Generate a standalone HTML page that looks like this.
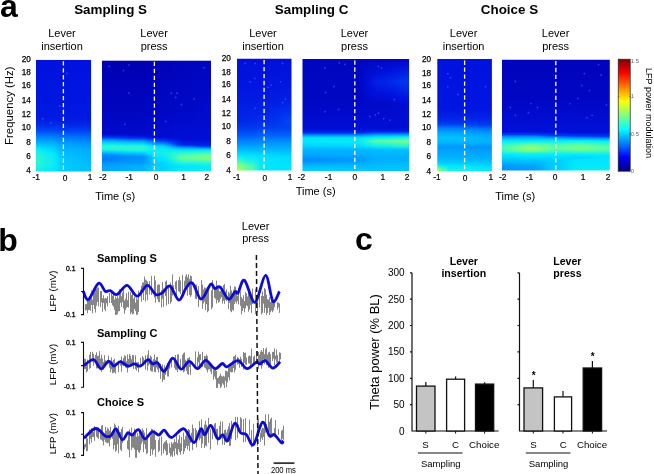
<!DOCTYPE html>
<html><head><meta charset="utf-8"><style>
html,body{margin:0;padding:0;background:#fff;width:654px;height:474px;overflow:hidden;}
svg{display:block;will-change:transform;}
text{fill:#000;}
</style></head><body>
<svg width="654" height="474" viewBox="0 0 654 474" font-family='"Liberation Sans", sans-serif'>
<defs><clipPath id="hc1"><rect x="36.00" y="59.80" width="55.10" height="111.90"/></clipPath><linearGradient id="q1" x1="0" y1="0" x2="0" y2="1"><stop offset="0.000" stop-color="#0012de"/><stop offset="0.002" stop-color="#0012de"/><stop offset="0.181" stop-color="#0014df"/><stop offset="0.359" stop-color="#0016e0"/><stop offset="0.440" stop-color="#0018e1"/><stop offset="0.520" stop-color="#001ae2"/><stop offset="0.529" stop-color="#001de3"/><stop offset="0.583" stop-color="#002bea"/><stop offset="0.592" stop-color="#002fec"/><stop offset="0.636" stop-color="#004af5"/><stop offset="0.645" stop-color="#0053f6"/><stop offset="0.690" stop-color="#0082ff"/><stop offset="0.699" stop-color="#008aff"/><stop offset="0.735" stop-color="#00aaff"/><stop offset="0.752" stop-color="#00beff"/><stop offset="0.779" stop-color="#00dcff"/><stop offset="0.788" stop-color="#00e6ff"/><stop offset="0.806" stop-color="#10ecef"/><stop offset="0.824" stop-color="#20f2df"/><stop offset="0.851" stop-color="#23f3dc"/><stop offset="0.878" stop-color="#27f5d8"/><stop offset="0.913" stop-color="#2df6d2"/><stop offset="0.940" stop-color="#24f4db"/><stop offset="0.970" stop-color="#1cf1e3"/><stop offset="1.000" stop-color="#14edeb"/></linearGradient><linearGradient id="q2" x1="0" y1="0" x2="0" y2="1"><stop offset="0.000" stop-color="#0012de"/><stop offset="0.002" stop-color="#0012de"/><stop offset="0.181" stop-color="#0014df"/><stop offset="0.359" stop-color="#0016e0"/><stop offset="0.440" stop-color="#0018e1"/><stop offset="0.520" stop-color="#001ae2"/><stop offset="0.529" stop-color="#001de3"/><stop offset="0.583" stop-color="#002bea"/><stop offset="0.592" stop-color="#002fec"/><stop offset="0.636" stop-color="#004af5"/><stop offset="0.645" stop-color="#0053f6"/><stop offset="0.690" stop-color="#0082ff"/><stop offset="0.699" stop-color="#008aff"/><stop offset="0.735" stop-color="#00aaff"/><stop offset="0.752" stop-color="#00bdff"/><stop offset="0.779" stop-color="#00daff"/><stop offset="0.788" stop-color="#00e4ff"/><stop offset="0.806" stop-color="#0debf2"/><stop offset="0.824" stop-color="#1cf1e3"/><stop offset="0.851" stop-color="#21f2de"/><stop offset="0.878" stop-color="#25f4da"/><stop offset="0.913" stop-color="#2af5d5"/><stop offset="0.940" stop-color="#23f3dc"/><stop offset="0.970" stop-color="#1af0e5"/><stop offset="1.000" stop-color="#12eded"/></linearGradient><linearGradient id="q3" x1="0" y1="0" x2="0" y2="1"><stop offset="0.000" stop-color="#0012de"/><stop offset="0.002" stop-color="#0012de"/><stop offset="0.181" stop-color="#0014df"/><stop offset="0.359" stop-color="#0016e0"/><stop offset="0.440" stop-color="#0018e1"/><stop offset="0.520" stop-color="#001ae2"/><stop offset="0.529" stop-color="#001de3"/><stop offset="0.583" stop-color="#002bea"/><stop offset="0.592" stop-color="#002fec"/><stop offset="0.636" stop-color="#004af5"/><stop offset="0.645" stop-color="#0053f6"/><stop offset="0.690" stop-color="#0082ff"/><stop offset="0.699" stop-color="#008aff"/><stop offset="0.735" stop-color="#00aaff"/><stop offset="0.752" stop-color="#00bcff"/><stop offset="0.779" stop-color="#00d7ff"/><stop offset="0.788" stop-color="#00e0ff"/><stop offset="0.806" stop-color="#09eaf6"/><stop offset="0.824" stop-color="#17efe8"/><stop offset="0.851" stop-color="#1ef1e1"/><stop offset="0.878" stop-color="#21f2de"/><stop offset="0.913" stop-color="#25f4da"/><stop offset="0.940" stop-color="#20f2df"/><stop offset="0.970" stop-color="#17efe8"/><stop offset="1.000" stop-color="#0eebf1"/></linearGradient><linearGradient id="q4" x1="0" y1="0" x2="0" y2="1"><stop offset="0.000" stop-color="#0012de"/><stop offset="0.002" stop-color="#0012de"/><stop offset="0.181" stop-color="#0014df"/><stop offset="0.359" stop-color="#0016e0"/><stop offset="0.440" stop-color="#0018e1"/><stop offset="0.520" stop-color="#001ae2"/><stop offset="0.529" stop-color="#001de3"/><stop offset="0.583" stop-color="#002bea"/><stop offset="0.592" stop-color="#002fec"/><stop offset="0.636" stop-color="#004af5"/><stop offset="0.645" stop-color="#0053f6"/><stop offset="0.690" stop-color="#0082ff"/><stop offset="0.699" stop-color="#008aff"/><stop offset="0.735" stop-color="#00aaff"/><stop offset="0.752" stop-color="#00bbff"/><stop offset="0.779" stop-color="#00d4ff"/><stop offset="0.788" stop-color="#00dcff"/><stop offset="0.806" stop-color="#05e8fa"/><stop offset="0.824" stop-color="#11ecee"/><stop offset="0.851" stop-color="#1af0e5"/><stop offset="0.878" stop-color="#1cf1e3"/><stop offset="0.913" stop-color="#1ff2e0"/><stop offset="0.940" stop-color="#1cf1e3"/><stop offset="0.970" stop-color="#13edec"/><stop offset="1.000" stop-color="#0aeaf5"/></linearGradient><linearGradient id="q5" x1="0" y1="0" x2="0" y2="1"><stop offset="0.000" stop-color="#0012de"/><stop offset="0.002" stop-color="#0012de"/><stop offset="0.181" stop-color="#0014df"/><stop offset="0.359" stop-color="#0016e0"/><stop offset="0.440" stop-color="#0018e1"/><stop offset="0.520" stop-color="#001ae2"/><stop offset="0.529" stop-color="#001de3"/><stop offset="0.583" stop-color="#002bea"/><stop offset="0.592" stop-color="#002fec"/><stop offset="0.636" stop-color="#004af5"/><stop offset="0.645" stop-color="#0053f6"/><stop offset="0.690" stop-color="#0082ff"/><stop offset="0.699" stop-color="#008aff"/><stop offset="0.735" stop-color="#00aaff"/><stop offset="0.752" stop-color="#00b9ff"/><stop offset="0.779" stop-color="#00d0ff"/><stop offset="0.788" stop-color="#00d8ff"/><stop offset="0.806" stop-color="#00e6ff"/><stop offset="0.824" stop-color="#0beaf4"/><stop offset="0.851" stop-color="#16eee9"/><stop offset="0.878" stop-color="#18efe7"/><stop offset="0.913" stop-color="#1af0e5"/><stop offset="0.940" stop-color="#19efe6"/><stop offset="0.970" stop-color="#0fecf0"/><stop offset="1.000" stop-color="#06e8f9"/></linearGradient><linearGradient id="q6" x1="0" y1="0" x2="0" y2="1"><stop offset="0.000" stop-color="#0012de"/><stop offset="0.002" stop-color="#0012de"/><stop offset="0.181" stop-color="#0014df"/><stop offset="0.359" stop-color="#0016e0"/><stop offset="0.440" stop-color="#0018e1"/><stop offset="0.520" stop-color="#001ae2"/><stop offset="0.529" stop-color="#001de3"/><stop offset="0.583" stop-color="#002bea"/><stop offset="0.592" stop-color="#002fec"/><stop offset="0.636" stop-color="#004af5"/><stop offset="0.645" stop-color="#0053f6"/><stop offset="0.690" stop-color="#0082ff"/><stop offset="0.699" stop-color="#008aff"/><stop offset="0.735" stop-color="#00aaff"/><stop offset="0.752" stop-color="#00b8ff"/><stop offset="0.779" stop-color="#00cdff"/><stop offset="0.788" stop-color="#00d4ff"/><stop offset="0.806" stop-color="#00e1ff"/><stop offset="0.824" stop-color="#06e8f9"/><stop offset="0.851" stop-color="#12eded"/><stop offset="0.878" stop-color="#14edeb"/><stop offset="0.913" stop-color="#16eee9"/><stop offset="0.940" stop-color="#16eee9"/><stop offset="0.970" stop-color="#0cebf3"/><stop offset="1.000" stop-color="#02e7fd"/></linearGradient><linearGradient id="q7" x1="0" y1="0" x2="0" y2="1"><stop offset="0.000" stop-color="#0012de"/><stop offset="0.002" stop-color="#0012de"/><stop offset="0.181" stop-color="#0014df"/><stop offset="0.359" stop-color="#0016e0"/><stop offset="0.440" stop-color="#0018e1"/><stop offset="0.520" stop-color="#001ae2"/><stop offset="0.529" stop-color="#001de3"/><stop offset="0.583" stop-color="#002bea"/><stop offset="0.592" stop-color="#002fec"/><stop offset="0.636" stop-color="#004af5"/><stop offset="0.645" stop-color="#0053f6"/><stop offset="0.690" stop-color="#0082ff"/><stop offset="0.699" stop-color="#008aff"/><stop offset="0.735" stop-color="#00aaff"/><stop offset="0.752" stop-color="#00b7ff"/><stop offset="0.779" stop-color="#00ccff"/><stop offset="0.788" stop-color="#00d2ff"/><stop offset="0.806" stop-color="#00deff"/><stop offset="0.824" stop-color="#03e7fc"/><stop offset="0.851" stop-color="#10ecef"/><stop offset="0.878" stop-color="#12eded"/><stop offset="0.913" stop-color="#13edec"/><stop offset="0.940" stop-color="#14eeeb"/><stop offset="0.970" stop-color="#0aeaf5"/><stop offset="1.000" stop-color="#00e6ff"/></linearGradient><linearGradient id="q8" x1="0" y1="0" x2="0" y2="1"><stop offset="0.000" stop-color="#0012de"/><stop offset="0.002" stop-color="#0012de"/><stop offset="0.181" stop-color="#0014df"/><stop offset="0.359" stop-color="#0016e0"/><stop offset="0.440" stop-color="#0018e1"/><stop offset="0.520" stop-color="#001ae2"/><stop offset="0.529" stop-color="#001de3"/><stop offset="0.583" stop-color="#002bea"/><stop offset="0.592" stop-color="#002fec"/><stop offset="0.636" stop-color="#004af5"/><stop offset="0.645" stop-color="#0053f6"/><stop offset="0.690" stop-color="#0082ff"/><stop offset="0.699" stop-color="#008aff"/><stop offset="0.735" stop-color="#00aaff"/><stop offset="0.752" stop-color="#00b7ff"/><stop offset="0.779" stop-color="#00cbff"/><stop offset="0.788" stop-color="#00d2ff"/><stop offset="0.806" stop-color="#00ddff"/><stop offset="0.824" stop-color="#02e7fd"/><stop offset="0.851" stop-color="#0fecf0"/><stop offset="0.878" stop-color="#11ecee"/><stop offset="0.913" stop-color="#12eded"/><stop offset="0.940" stop-color="#13edec"/><stop offset="0.970" stop-color="#0aeaf5"/><stop offset="1.000" stop-color="#00e6ff"/></linearGradient><linearGradient id="q9" x1="0" y1="0" x2="0" y2="1"><stop offset="0.000" stop-color="#0012de"/><stop offset="0.002" stop-color="#0012de"/><stop offset="0.181" stop-color="#0014df"/><stop offset="0.359" stop-color="#0016e0"/><stop offset="0.440" stop-color="#0018e1"/><stop offset="0.520" stop-color="#001ae2"/><stop offset="0.529" stop-color="#001de3"/><stop offset="0.583" stop-color="#002bea"/><stop offset="0.592" stop-color="#002fec"/><stop offset="0.636" stop-color="#0049f4"/><stop offset="0.645" stop-color="#0052f6"/><stop offset="0.690" stop-color="#0080ff"/><stop offset="0.699" stop-color="#0089ff"/><stop offset="0.735" stop-color="#00a8ff"/><stop offset="0.752" stop-color="#00b5ff"/><stop offset="0.779" stop-color="#00c8ff"/><stop offset="0.788" stop-color="#00ceff"/><stop offset="0.806" stop-color="#00d9ff"/><stop offset="0.824" stop-color="#00e4ff"/><stop offset="0.851" stop-color="#0beaf4"/><stop offset="0.878" stop-color="#0cebf3"/><stop offset="0.913" stop-color="#0eebf1"/><stop offset="0.940" stop-color="#0fecf0"/><stop offset="0.970" stop-color="#07e9f8"/><stop offset="1.000" stop-color="#00e3ff"/></linearGradient><linearGradient id="q10" x1="0" y1="0" x2="0" y2="1"><stop offset="0.000" stop-color="#0012de"/><stop offset="0.002" stop-color="#0012de"/><stop offset="0.181" stop-color="#0014df"/><stop offset="0.359" stop-color="#0016e0"/><stop offset="0.440" stop-color="#0018e1"/><stop offset="0.520" stop-color="#001ae2"/><stop offset="0.529" stop-color="#001ce3"/><stop offset="0.583" stop-color="#002bea"/><stop offset="0.592" stop-color="#002eeb"/><stop offset="0.636" stop-color="#0048f4"/><stop offset="0.645" stop-color="#0051f6"/><stop offset="0.690" stop-color="#007efe"/><stop offset="0.699" stop-color="#0087ff"/><stop offset="0.735" stop-color="#00a4ff"/><stop offset="0.752" stop-color="#00b1ff"/><stop offset="0.779" stop-color="#00c3ff"/><stop offset="0.788" stop-color="#00c8ff"/><stop offset="0.806" stop-color="#00d3ff"/><stop offset="0.824" stop-color="#00dcff"/><stop offset="0.851" stop-color="#03e7fc"/><stop offset="0.878" stop-color="#05e8fa"/><stop offset="0.913" stop-color="#07e9f8"/><stop offset="0.940" stop-color="#09e9f6"/><stop offset="0.970" stop-color="#02e7fd"/><stop offset="1.000" stop-color="#00e0ff"/></linearGradient><linearGradient id="q11" x1="0" y1="0" x2="0" y2="1"><stop offset="0.000" stop-color="#0012de"/><stop offset="0.002" stop-color="#0012de"/><stop offset="0.181" stop-color="#0014df"/><stop offset="0.359" stop-color="#0016e0"/><stop offset="0.440" stop-color="#0018e1"/><stop offset="0.520" stop-color="#001ae2"/><stop offset="0.529" stop-color="#001ce3"/><stop offset="0.583" stop-color="#002ae9"/><stop offset="0.592" stop-color="#002eeb"/><stop offset="0.636" stop-color="#0047f4"/><stop offset="0.645" stop-color="#004ff6"/><stop offset="0.690" stop-color="#007bfe"/><stop offset="0.699" stop-color="#0084ff"/><stop offset="0.735" stop-color="#00a0ff"/><stop offset="0.752" stop-color="#00adff"/><stop offset="0.779" stop-color="#00bcff"/><stop offset="0.788" stop-color="#00c1ff"/><stop offset="0.806" stop-color="#00cbff"/><stop offset="0.824" stop-color="#00d3ff"/><stop offset="0.851" stop-color="#00dfff"/><stop offset="0.878" stop-color="#00e2ff"/><stop offset="0.913" stop-color="#00e4ff"/><stop offset="0.940" stop-color="#00e6ff"/><stop offset="0.970" stop-color="#00e1ff"/><stop offset="1.000" stop-color="#00dbff"/></linearGradient><linearGradient id="q12" x1="0" y1="0" x2="0" y2="1"><stop offset="0.000" stop-color="#0012de"/><stop offset="0.002" stop-color="#0012de"/><stop offset="0.181" stop-color="#0014df"/><stop offset="0.359" stop-color="#0016e0"/><stop offset="0.440" stop-color="#0018e1"/><stop offset="0.520" stop-color="#001ae2"/><stop offset="0.529" stop-color="#001be2"/><stop offset="0.583" stop-color="#002ae9"/><stop offset="0.592" stop-color="#002deb"/><stop offset="0.636" stop-color="#0045f4"/><stop offset="0.645" stop-color="#004df5"/><stop offset="0.690" stop-color="#0078fd"/><stop offset="0.699" stop-color="#0081ff"/><stop offset="0.735" stop-color="#009cff"/><stop offset="0.752" stop-color="#00a8ff"/><stop offset="0.779" stop-color="#00b6ff"/><stop offset="0.788" stop-color="#00baff"/><stop offset="0.806" stop-color="#00c3ff"/><stop offset="0.824" stop-color="#00c9ff"/><stop offset="0.851" stop-color="#00d3ff"/><stop offset="0.878" stop-color="#00d7ff"/><stop offset="0.913" stop-color="#00d9ff"/><stop offset="0.940" stop-color="#00dbff"/><stop offset="0.970" stop-color="#00d9ff"/><stop offset="1.000" stop-color="#00d6ff"/></linearGradient><linearGradient id="q13" x1="0" y1="0" x2="0" y2="1"><stop offset="0.000" stop-color="#0012de"/><stop offset="0.002" stop-color="#0012de"/><stop offset="0.181" stop-color="#0014df"/><stop offset="0.359" stop-color="#0016e0"/><stop offset="0.440" stop-color="#0018e1"/><stop offset="0.520" stop-color="#001ae2"/><stop offset="0.529" stop-color="#001be2"/><stop offset="0.583" stop-color="#0029e9"/><stop offset="0.592" stop-color="#002cea"/><stop offset="0.636" stop-color="#0044f4"/><stop offset="0.645" stop-color="#004cf5"/><stop offset="0.690" stop-color="#0075fd"/><stop offset="0.699" stop-color="#007efe"/><stop offset="0.735" stop-color="#0098ff"/><stop offset="0.752" stop-color="#00a4ff"/><stop offset="0.779" stop-color="#00b0ff"/><stop offset="0.788" stop-color="#00b4ff"/><stop offset="0.806" stop-color="#00bbff"/><stop offset="0.824" stop-color="#00c0ff"/><stop offset="0.851" stop-color="#00c8ff"/><stop offset="0.878" stop-color="#00cdff"/><stop offset="0.913" stop-color="#00d0ff"/><stop offset="0.940" stop-color="#00d2ff"/><stop offset="0.970" stop-color="#00d2ff"/><stop offset="1.000" stop-color="#00d1ff"/></linearGradient><linearGradient id="q14" x1="0" y1="0" x2="0" y2="1"><stop offset="0.000" stop-color="#0012de"/><stop offset="0.002" stop-color="#0012de"/><stop offset="0.181" stop-color="#0014df"/><stop offset="0.359" stop-color="#0016e0"/><stop offset="0.440" stop-color="#0018e1"/><stop offset="0.520" stop-color="#001ae2"/><stop offset="0.529" stop-color="#001be2"/><stop offset="0.583" stop-color="#0029e9"/><stop offset="0.592" stop-color="#002bea"/><stop offset="0.636" stop-color="#0043f3"/><stop offset="0.645" stop-color="#004af5"/><stop offset="0.690" stop-color="#0074fc"/><stop offset="0.699" stop-color="#007cfe"/><stop offset="0.735" stop-color="#0095ff"/><stop offset="0.752" stop-color="#00a1ff"/><stop offset="0.779" stop-color="#00acff"/><stop offset="0.788" stop-color="#00afff"/><stop offset="0.806" stop-color="#00b6ff"/><stop offset="0.824" stop-color="#00baff"/><stop offset="0.851" stop-color="#00c0ff"/><stop offset="0.878" stop-color="#00c6ff"/><stop offset="0.913" stop-color="#00c9ff"/><stop offset="0.940" stop-color="#00cbff"/><stop offset="0.970" stop-color="#00ccff"/><stop offset="1.000" stop-color="#00ceff"/></linearGradient><linearGradient id="q15" x1="0" y1="0" x2="0" y2="1"><stop offset="0.000" stop-color="#0012de"/><stop offset="0.002" stop-color="#0012de"/><stop offset="0.181" stop-color="#0014df"/><stop offset="0.359" stop-color="#0016e0"/><stop offset="0.440" stop-color="#0018e1"/><stop offset="0.520" stop-color="#001ae2"/><stop offset="0.529" stop-color="#001ae2"/><stop offset="0.583" stop-color="#0029e9"/><stop offset="0.592" stop-color="#002bea"/><stop offset="0.636" stop-color="#0043f3"/><stop offset="0.645" stop-color="#004af5"/><stop offset="0.690" stop-color="#0073fc"/><stop offset="0.699" stop-color="#007bfe"/><stop offset="0.735" stop-color="#0094ff"/><stop offset="0.752" stop-color="#00a0ff"/><stop offset="0.779" stop-color="#00aaff"/><stop offset="0.788" stop-color="#00adff"/><stop offset="0.806" stop-color="#00b4ff"/><stop offset="0.824" stop-color="#00b8ff"/><stop offset="0.851" stop-color="#00bdff"/><stop offset="0.878" stop-color="#00c3ff"/><stop offset="0.913" stop-color="#00c6ff"/><stop offset="0.940" stop-color="#00c8ff"/><stop offset="0.970" stop-color="#00cbff"/><stop offset="1.000" stop-color="#00cdff"/></linearGradient><linearGradient id="q16" x1="0" y1="0" x2="0" y2="1"><stop offset="0.000" stop-color="#0012de"/><stop offset="0.002" stop-color="#0012de"/><stop offset="0.181" stop-color="#0014df"/><stop offset="0.359" stop-color="#0016e0"/><stop offset="0.440" stop-color="#0018e1"/><stop offset="0.520" stop-color="#001ae2"/><stop offset="0.529" stop-color="#001ae2"/><stop offset="0.583" stop-color="#0029e9"/><stop offset="0.592" stop-color="#002bea"/><stop offset="0.636" stop-color="#0043f3"/><stop offset="0.645" stop-color="#004af5"/><stop offset="0.690" stop-color="#0073fc"/><stop offset="0.699" stop-color="#007bfe"/><stop offset="0.735" stop-color="#0094ff"/><stop offset="0.752" stop-color="#00a0ff"/><stop offset="0.779" stop-color="#00aaff"/><stop offset="0.788" stop-color="#00adff"/><stop offset="0.806" stop-color="#00b4ff"/><stop offset="0.824" stop-color="#00b8ff"/><stop offset="0.851" stop-color="#00bdff"/><stop offset="0.878" stop-color="#00c3ff"/><stop offset="0.913" stop-color="#00c6ff"/><stop offset="0.940" stop-color="#00c8ff"/><stop offset="0.970" stop-color="#00caff"/><stop offset="1.000" stop-color="#00cdff"/></linearGradient><linearGradient id="q17" x1="0" y1="0" x2="0" y2="1"><stop offset="0.000" stop-color="#0012de"/><stop offset="0.002" stop-color="#0012de"/><stop offset="0.181" stop-color="#0014df"/><stop offset="0.359" stop-color="#0016e0"/><stop offset="0.440" stop-color="#0018e1"/><stop offset="0.520" stop-color="#001ae2"/><stop offset="0.529" stop-color="#001ae2"/><stop offset="0.583" stop-color="#0029e9"/><stop offset="0.592" stop-color="#002bea"/><stop offset="0.636" stop-color="#0043f3"/><stop offset="0.645" stop-color="#004af5"/><stop offset="0.690" stop-color="#0072fc"/><stop offset="0.699" stop-color="#007bfe"/><stop offset="0.735" stop-color="#0094ff"/><stop offset="0.752" stop-color="#009fff"/><stop offset="0.779" stop-color="#00aaff"/><stop offset="0.788" stop-color="#00adff"/><stop offset="0.806" stop-color="#00b4ff"/><stop offset="0.824" stop-color="#00b7ff"/><stop offset="0.851" stop-color="#00bdff"/><stop offset="0.878" stop-color="#00c2ff"/><stop offset="0.913" stop-color="#00c5ff"/><stop offset="0.940" stop-color="#00c7ff"/><stop offset="0.970" stop-color="#00caff"/><stop offset="1.000" stop-color="#00ccff"/></linearGradient><linearGradient id="q18" x1="0" y1="0" x2="0" y2="1"><stop offset="0.000" stop-color="#0012de"/><stop offset="0.002" stop-color="#0012de"/><stop offset="0.181" stop-color="#0014df"/><stop offset="0.359" stop-color="#0016e0"/><stop offset="0.440" stop-color="#0018e1"/><stop offset="0.520" stop-color="#001ae2"/><stop offset="0.529" stop-color="#001ae2"/><stop offset="0.583" stop-color="#0029e9"/><stop offset="0.592" stop-color="#002bea"/><stop offset="0.636" stop-color="#0043f3"/><stop offset="0.645" stop-color="#004af5"/><stop offset="0.690" stop-color="#0072fc"/><stop offset="0.699" stop-color="#007afe"/><stop offset="0.735" stop-color="#0093ff"/><stop offset="0.752" stop-color="#009fff"/><stop offset="0.779" stop-color="#00a9ff"/><stop offset="0.788" stop-color="#00acff"/><stop offset="0.806" stop-color="#00b3ff"/><stop offset="0.824" stop-color="#00b7ff"/><stop offset="0.851" stop-color="#00bcff"/><stop offset="0.878" stop-color="#00c1ff"/><stop offset="0.913" stop-color="#00c4ff"/><stop offset="0.940" stop-color="#00c7ff"/><stop offset="0.970" stop-color="#00c9ff"/><stop offset="1.000" stop-color="#00ccff"/></linearGradient><linearGradient id="q19" x1="0" y1="0" x2="0" y2="1"><stop offset="0.000" stop-color="#0012de"/><stop offset="0.002" stop-color="#0012de"/><stop offset="0.181" stop-color="#0014df"/><stop offset="0.359" stop-color="#0016e0"/><stop offset="0.440" stop-color="#0018e1"/><stop offset="0.520" stop-color="#001ae2"/><stop offset="0.529" stop-color="#001ae2"/><stop offset="0.583" stop-color="#0029e9"/><stop offset="0.592" stop-color="#002bea"/><stop offset="0.636" stop-color="#0043f3"/><stop offset="0.645" stop-color="#004af5"/><stop offset="0.690" stop-color="#0072fc"/><stop offset="0.699" stop-color="#0079fd"/><stop offset="0.735" stop-color="#0092ff"/><stop offset="0.752" stop-color="#009eff"/><stop offset="0.779" stop-color="#00a8ff"/><stop offset="0.788" stop-color="#00acff"/><stop offset="0.806" stop-color="#00b3ff"/><stop offset="0.824" stop-color="#00b6ff"/><stop offset="0.851" stop-color="#00bbff"/><stop offset="0.878" stop-color="#00c0ff"/><stop offset="0.913" stop-color="#00c3ff"/><stop offset="0.940" stop-color="#00c6ff"/><stop offset="0.970" stop-color="#00c8ff"/><stop offset="1.000" stop-color="#00cbff"/></linearGradient><linearGradient id="q20" x1="0" y1="0" x2="0" y2="1"><stop offset="0.000" stop-color="#0012de"/><stop offset="0.002" stop-color="#0012de"/><stop offset="0.181" stop-color="#0014df"/><stop offset="0.359" stop-color="#0016e0"/><stop offset="0.440" stop-color="#0018e1"/><stop offset="0.520" stop-color="#001ae2"/><stop offset="0.529" stop-color="#001ae2"/><stop offset="0.583" stop-color="#0029e9"/><stop offset="0.592" stop-color="#002bea"/><stop offset="0.636" stop-color="#0043f3"/><stop offset="0.645" stop-color="#004af5"/><stop offset="0.690" stop-color="#0071fc"/><stop offset="0.699" stop-color="#0079fd"/><stop offset="0.735" stop-color="#0092ff"/><stop offset="0.752" stop-color="#009dff"/><stop offset="0.779" stop-color="#00a8ff"/><stop offset="0.788" stop-color="#00abff"/><stop offset="0.806" stop-color="#00b2ff"/><stop offset="0.824" stop-color="#00b5ff"/><stop offset="0.851" stop-color="#00baff"/><stop offset="0.878" stop-color="#00bfff"/><stop offset="0.913" stop-color="#00c2ff"/><stop offset="0.940" stop-color="#00c4ff"/><stop offset="0.970" stop-color="#00c7ff"/><stop offset="1.000" stop-color="#00caff"/></linearGradient><linearGradient id="q21" x1="0" y1="0" x2="0" y2="1"><stop offset="0.000" stop-color="#0012de"/><stop offset="0.002" stop-color="#0012de"/><stop offset="0.181" stop-color="#0014df"/><stop offset="0.359" stop-color="#0016e0"/><stop offset="0.440" stop-color="#0018e1"/><stop offset="0.520" stop-color="#001ae2"/><stop offset="0.529" stop-color="#001ae2"/><stop offset="0.583" stop-color="#0029e9"/><stop offset="0.592" stop-color="#002bea"/><stop offset="0.636" stop-color="#0043f3"/><stop offset="0.645" stop-color="#004af5"/><stop offset="0.690" stop-color="#0070fc"/><stop offset="0.699" stop-color="#0078fd"/><stop offset="0.735" stop-color="#0091ff"/><stop offset="0.752" stop-color="#009cff"/><stop offset="0.779" stop-color="#00a7ff"/><stop offset="0.788" stop-color="#00aaff"/><stop offset="0.806" stop-color="#00b2ff"/><stop offset="0.824" stop-color="#00b5ff"/><stop offset="0.851" stop-color="#00b9ff"/><stop offset="0.878" stop-color="#00bdff"/><stop offset="0.913" stop-color="#00c1ff"/><stop offset="0.940" stop-color="#00c3ff"/><stop offset="0.970" stop-color="#00c6ff"/><stop offset="1.000" stop-color="#00c9ff"/></linearGradient><linearGradient id="q22" x1="0" y1="0" x2="0" y2="1"><stop offset="0.000" stop-color="#0012de"/><stop offset="0.002" stop-color="#0012de"/><stop offset="0.181" stop-color="#0014df"/><stop offset="0.359" stop-color="#0016e0"/><stop offset="0.440" stop-color="#0018e1"/><stop offset="0.520" stop-color="#001ae2"/><stop offset="0.529" stop-color="#001ae2"/><stop offset="0.583" stop-color="#0029e9"/><stop offset="0.592" stop-color="#002bea"/><stop offset="0.636" stop-color="#0043f3"/><stop offset="0.645" stop-color="#004af5"/><stop offset="0.690" stop-color="#0070fc"/><stop offset="0.699" stop-color="#0077fd"/><stop offset="0.735" stop-color="#0090ff"/><stop offset="0.752" stop-color="#009aff"/><stop offset="0.779" stop-color="#00a6ff"/><stop offset="0.788" stop-color="#00aaff"/><stop offset="0.806" stop-color="#00b1ff"/><stop offset="0.824" stop-color="#00b4ff"/><stop offset="0.851" stop-color="#00b8ff"/><stop offset="0.878" stop-color="#00bcff"/><stop offset="0.913" stop-color="#00bfff"/><stop offset="0.940" stop-color="#00c2ff"/><stop offset="0.970" stop-color="#00c5ff"/><stop offset="1.000" stop-color="#00c7ff"/></linearGradient><linearGradient id="q23" x1="0" y1="0" x2="0" y2="1"><stop offset="0.000" stop-color="#0012de"/><stop offset="0.002" stop-color="#0012de"/><stop offset="0.181" stop-color="#0014df"/><stop offset="0.359" stop-color="#0016e0"/><stop offset="0.440" stop-color="#0018e1"/><stop offset="0.520" stop-color="#001ae2"/><stop offset="0.529" stop-color="#001ae2"/><stop offset="0.583" stop-color="#0029e9"/><stop offset="0.592" stop-color="#002bea"/><stop offset="0.636" stop-color="#0043f3"/><stop offset="0.645" stop-color="#004af5"/><stop offset="0.690" stop-color="#006ffb"/><stop offset="0.699" stop-color="#0076fd"/><stop offset="0.735" stop-color="#008fff"/><stop offset="0.752" stop-color="#0099ff"/><stop offset="0.779" stop-color="#00a5ff"/><stop offset="0.788" stop-color="#00a9ff"/><stop offset="0.806" stop-color="#00b1ff"/><stop offset="0.824" stop-color="#00b3ff"/><stop offset="0.851" stop-color="#00b7ff"/><stop offset="0.878" stop-color="#00bbff"/><stop offset="0.913" stop-color="#00beff"/><stop offset="0.940" stop-color="#00c1ff"/><stop offset="0.970" stop-color="#00c3ff"/><stop offset="1.000" stop-color="#00c6ff"/></linearGradient><linearGradient id="q24" x1="0" y1="0" x2="0" y2="1"><stop offset="0.000" stop-color="#0012de"/><stop offset="0.002" stop-color="#0012de"/><stop offset="0.181" stop-color="#0014df"/><stop offset="0.359" stop-color="#0016e0"/><stop offset="0.440" stop-color="#0018e1"/><stop offset="0.520" stop-color="#001ae2"/><stop offset="0.529" stop-color="#001ae2"/><stop offset="0.583" stop-color="#0029e9"/><stop offset="0.592" stop-color="#002bea"/><stop offset="0.636" stop-color="#0043f3"/><stop offset="0.645" stop-color="#004af5"/><stop offset="0.690" stop-color="#006efb"/><stop offset="0.699" stop-color="#0076fd"/><stop offset="0.735" stop-color="#008eff"/><stop offset="0.752" stop-color="#0098ff"/><stop offset="0.779" stop-color="#00a4ff"/><stop offset="0.788" stop-color="#00a8ff"/><stop offset="0.806" stop-color="#00b0ff"/><stop offset="0.824" stop-color="#00b2ff"/><stop offset="0.851" stop-color="#00b6ff"/><stop offset="0.878" stop-color="#00b9ff"/><stop offset="0.913" stop-color="#00bdff"/><stop offset="0.940" stop-color="#00bfff"/><stop offset="0.970" stop-color="#00c2ff"/><stop offset="1.000" stop-color="#00c5ff"/></linearGradient><linearGradient id="q25" x1="0" y1="0" x2="0" y2="1"><stop offset="0.000" stop-color="#0012de"/><stop offset="0.002" stop-color="#0012de"/><stop offset="0.181" stop-color="#0014df"/><stop offset="0.359" stop-color="#0016e0"/><stop offset="0.440" stop-color="#0018e1"/><stop offset="0.520" stop-color="#001ae2"/><stop offset="0.529" stop-color="#001ae2"/><stop offset="0.583" stop-color="#0029e9"/><stop offset="0.592" stop-color="#002bea"/><stop offset="0.636" stop-color="#0043f3"/><stop offset="0.645" stop-color="#004af5"/><stop offset="0.690" stop-color="#006efb"/><stop offset="0.699" stop-color="#0075fd"/><stop offset="0.735" stop-color="#008dff"/><stop offset="0.752" stop-color="#0097ff"/><stop offset="0.779" stop-color="#00a4ff"/><stop offset="0.788" stop-color="#00a8ff"/><stop offset="0.806" stop-color="#00b0ff"/><stop offset="0.824" stop-color="#00b2ff"/><stop offset="0.851" stop-color="#00b5ff"/><stop offset="0.878" stop-color="#00b8ff"/><stop offset="0.913" stop-color="#00bcff"/><stop offset="0.940" stop-color="#00beff"/><stop offset="0.970" stop-color="#00c1ff"/><stop offset="1.000" stop-color="#00c4ff"/></linearGradient><linearGradient id="q26" x1="0" y1="0" x2="0" y2="1"><stop offset="0.000" stop-color="#0012de"/><stop offset="0.002" stop-color="#0012de"/><stop offset="0.181" stop-color="#0014df"/><stop offset="0.359" stop-color="#0016e0"/><stop offset="0.440" stop-color="#0018e1"/><stop offset="0.520" stop-color="#001ae2"/><stop offset="0.529" stop-color="#001ae2"/><stop offset="0.583" stop-color="#0029e9"/><stop offset="0.592" stop-color="#002bea"/><stop offset="0.636" stop-color="#0043f3"/><stop offset="0.645" stop-color="#004af5"/><stop offset="0.690" stop-color="#006dfb"/><stop offset="0.699" stop-color="#0074fc"/><stop offset="0.735" stop-color="#008dff"/><stop offset="0.752" stop-color="#0097ff"/><stop offset="0.779" stop-color="#00a3ff"/><stop offset="0.788" stop-color="#00a7ff"/><stop offset="0.806" stop-color="#00afff"/><stop offset="0.824" stop-color="#00b1ff"/><stop offset="0.851" stop-color="#00b4ff"/><stop offset="0.878" stop-color="#00b7ff"/><stop offset="0.913" stop-color="#00bbff"/><stop offset="0.940" stop-color="#00beff"/><stop offset="0.970" stop-color="#00c1ff"/><stop offset="1.000" stop-color="#00c4ff"/></linearGradient><linearGradient id="q27" x1="0" y1="0" x2="0" y2="1"><stop offset="0.000" stop-color="#0012de"/><stop offset="0.002" stop-color="#0012de"/><stop offset="0.181" stop-color="#0014df"/><stop offset="0.359" stop-color="#0016e0"/><stop offset="0.440" stop-color="#0018e1"/><stop offset="0.520" stop-color="#001ae2"/><stop offset="0.529" stop-color="#001ae2"/><stop offset="0.583" stop-color="#0029e9"/><stop offset="0.592" stop-color="#002bea"/><stop offset="0.636" stop-color="#0043f3"/><stop offset="0.645" stop-color="#004af5"/><stop offset="0.690" stop-color="#006dfb"/><stop offset="0.699" stop-color="#0074fc"/><stop offset="0.735" stop-color="#008cff"/><stop offset="0.752" stop-color="#0096ff"/><stop offset="0.779" stop-color="#00a3ff"/><stop offset="0.788" stop-color="#00a7ff"/><stop offset="0.806" stop-color="#00afff"/><stop offset="0.824" stop-color="#00b1ff"/><stop offset="0.851" stop-color="#00b4ff"/><stop offset="0.878" stop-color="#00b7ff"/><stop offset="0.913" stop-color="#00baff"/><stop offset="0.940" stop-color="#00bdff"/><stop offset="0.970" stop-color="#00c0ff"/><stop offset="1.000" stop-color="#00c3ff"/></linearGradient><linearGradient id="q28" x1="0" y1="0" x2="0" y2="1"><stop offset="0.000" stop-color="#0012de"/><stop offset="0.002" stop-color="#0012de"/><stop offset="0.181" stop-color="#0014df"/><stop offset="0.359" stop-color="#0016e0"/><stop offset="0.440" stop-color="#0018e1"/><stop offset="0.520" stop-color="#001ae2"/><stop offset="0.529" stop-color="#001ae2"/><stop offset="0.583" stop-color="#0029e9"/><stop offset="0.592" stop-color="#002bea"/><stop offset="0.636" stop-color="#0043f3"/><stop offset="0.645" stop-color="#004af5"/><stop offset="0.690" stop-color="#006dfb"/><stop offset="0.699" stop-color="#0074fc"/><stop offset="0.735" stop-color="#008cff"/><stop offset="0.752" stop-color="#0096ff"/><stop offset="0.779" stop-color="#00a2ff"/><stop offset="0.788" stop-color="#00a7ff"/><stop offset="0.806" stop-color="#00afff"/><stop offset="0.824" stop-color="#00b1ff"/><stop offset="0.851" stop-color="#00b4ff"/><stop offset="0.878" stop-color="#00b6ff"/><stop offset="0.913" stop-color="#00baff"/><stop offset="0.940" stop-color="#00bdff"/><stop offset="0.970" stop-color="#00c0ff"/><stop offset="1.000" stop-color="#00c3ff"/></linearGradient><clipPath id="hc2"><rect x="102.00" y="60.40" width="109.00" height="111.10"/></clipPath><linearGradient id="q29" x1="0" y1="0" x2="0" y2="1"><stop offset="0.000" stop-color="#0000b2"/><stop offset="0.223" stop-color="#0003b9"/><stop offset="0.446" stop-color="#0005bf"/><stop offset="0.554" stop-color="#0008c6"/><stop offset="0.662" stop-color="#000bcc"/><stop offset="0.671" stop-color="#0012de"/><stop offset="0.689" stop-color="#0034ee"/><stop offset="0.694" stop-color="#003cf2"/><stop offset="0.703" stop-color="#0064f9"/><stop offset="0.707" stop-color="#0078fd"/><stop offset="0.725" stop-color="#00b4ff"/><stop offset="0.734" stop-color="#00c8ff"/><stop offset="0.761" stop-color="#18efe7"/><stop offset="0.770" stop-color="#28f5d7"/><stop offset="0.797" stop-color="#28f5d7"/><stop offset="0.806" stop-color="#14eeeb"/><stop offset="0.824" stop-color="#00cdff"/><stop offset="0.833" stop-color="#00b6ff"/><stop offset="0.842" stop-color="#009eff"/><stop offset="0.851" stop-color="#0087ff"/><stop offset="0.869" stop-color="#0083ff"/><stop offset="0.878" stop-color="#0081ff"/><stop offset="0.887" stop-color="#007efe"/><stop offset="0.896" stop-color="#007bfe"/><stop offset="0.914" stop-color="#008cff"/><stop offset="0.923" stop-color="#0094ff"/><stop offset="0.932" stop-color="#009bff"/><stop offset="0.950" stop-color="#009fff"/><stop offset="0.959" stop-color="#00a1ff"/><stop offset="1.000" stop-color="#00aaff"/></linearGradient><linearGradient id="q30" x1="0" y1="0" x2="0" y2="1"><stop offset="0.000" stop-color="#0000b2"/><stop offset="0.223" stop-color="#0003b9"/><stop offset="0.446" stop-color="#0005bf"/><stop offset="0.554" stop-color="#0008c6"/><stop offset="0.662" stop-color="#000bcc"/><stop offset="0.671" stop-color="#0012de"/><stop offset="0.689" stop-color="#0033ee"/><stop offset="0.694" stop-color="#003cf2"/><stop offset="0.703" stop-color="#0063f9"/><stop offset="0.707" stop-color="#0077fd"/><stop offset="0.725" stop-color="#00b3ff"/><stop offset="0.734" stop-color="#00c8ff"/><stop offset="0.761" stop-color="#18efe7"/><stop offset="0.770" stop-color="#28f5d7"/><stop offset="0.797" stop-color="#28f5d7"/><stop offset="0.806" stop-color="#14eeeb"/><stop offset="0.824" stop-color="#00cdff"/><stop offset="0.833" stop-color="#00b6ff"/><stop offset="0.842" stop-color="#009fff"/><stop offset="0.851" stop-color="#0088ff"/><stop offset="0.869" stop-color="#0083ff"/><stop offset="0.878" stop-color="#0081ff"/><stop offset="0.887" stop-color="#007efe"/><stop offset="0.896" stop-color="#007cfe"/><stop offset="0.914" stop-color="#008cff"/><stop offset="0.923" stop-color="#0094ff"/><stop offset="0.932" stop-color="#009bff"/><stop offset="0.950" stop-color="#009fff"/><stop offset="0.959" stop-color="#00a1ff"/><stop offset="1.000" stop-color="#00aaff"/></linearGradient><linearGradient id="q31" x1="0" y1="0" x2="0" y2="1"><stop offset="0.000" stop-color="#0000b2"/><stop offset="0.223" stop-color="#0003b9"/><stop offset="0.446" stop-color="#0005bf"/><stop offset="0.554" stop-color="#0008c6"/><stop offset="0.662" stop-color="#000bcc"/><stop offset="0.671" stop-color="#0012dd"/><stop offset="0.689" stop-color="#0033ee"/><stop offset="0.694" stop-color="#003bf2"/><stop offset="0.703" stop-color="#0062f9"/><stop offset="0.707" stop-color="#0076fd"/><stop offset="0.725" stop-color="#00b3ff"/><stop offset="0.734" stop-color="#00c7ff"/><stop offset="0.761" stop-color="#17efe8"/><stop offset="0.770" stop-color="#28f5d7"/><stop offset="0.779" stop-color="#29f5d6"/><stop offset="0.797" stop-color="#28f5d7"/><stop offset="0.806" stop-color="#15eeea"/><stop offset="0.824" stop-color="#00ceff"/><stop offset="0.833" stop-color="#00b7ff"/><stop offset="0.842" stop-color="#00a0ff"/><stop offset="0.851" stop-color="#0089ff"/><stop offset="0.869" stop-color="#0083ff"/><stop offset="0.878" stop-color="#0081ff"/><stop offset="0.887" stop-color="#007ffe"/><stop offset="0.896" stop-color="#007cfe"/><stop offset="0.914" stop-color="#008cff"/><stop offset="0.923" stop-color="#0094ff"/><stop offset="0.932" stop-color="#009bff"/><stop offset="0.950" stop-color="#00a0ff"/><stop offset="0.959" stop-color="#00a2ff"/><stop offset="1.000" stop-color="#00aaff"/></linearGradient><linearGradient id="q32" x1="0" y1="0" x2="0" y2="1"><stop offset="0.000" stop-color="#0000b2"/><stop offset="0.223" stop-color="#0003b9"/><stop offset="0.446" stop-color="#0005bf"/><stop offset="0.554" stop-color="#0008c6"/><stop offset="0.662" stop-color="#000bcc"/><stop offset="0.671" stop-color="#0011dc"/><stop offset="0.689" stop-color="#0032ed"/><stop offset="0.694" stop-color="#003af1"/><stop offset="0.703" stop-color="#0060f9"/><stop offset="0.707" stop-color="#0074fc"/><stop offset="0.725" stop-color="#00b1ff"/><stop offset="0.734" stop-color="#00c6ff"/><stop offset="0.761" stop-color="#17efe8"/><stop offset="0.770" stop-color="#27f5d8"/><stop offset="0.779" stop-color="#29f5d6"/><stop offset="0.797" stop-color="#28f5d7"/><stop offset="0.806" stop-color="#16eee9"/><stop offset="0.824" stop-color="#00cfff"/><stop offset="0.833" stop-color="#00b8ff"/><stop offset="0.842" stop-color="#00a1ff"/><stop offset="0.851" stop-color="#008aff"/><stop offset="0.869" stop-color="#0084ff"/><stop offset="0.878" stop-color="#0082ff"/><stop offset="0.887" stop-color="#0080ff"/><stop offset="0.896" stop-color="#007efe"/><stop offset="0.914" stop-color="#008dff"/><stop offset="0.923" stop-color="#0094ff"/><stop offset="0.932" stop-color="#009cff"/><stop offset="0.950" stop-color="#00a0ff"/><stop offset="0.959" stop-color="#00a2ff"/><stop offset="1.000" stop-color="#00abff"/></linearGradient><linearGradient id="q33" x1="0" y1="0" x2="0" y2="1"><stop offset="0.000" stop-color="#0000b2"/><stop offset="0.223" stop-color="#0003b9"/><stop offset="0.446" stop-color="#0005bf"/><stop offset="0.554" stop-color="#0008c6"/><stop offset="0.662" stop-color="#000bcc"/><stop offset="0.671" stop-color="#0011dc"/><stop offset="0.689" stop-color="#0031ed"/><stop offset="0.694" stop-color="#003af1"/><stop offset="0.703" stop-color="#005ef8"/><stop offset="0.707" stop-color="#0072fc"/><stop offset="0.725" stop-color="#00b0ff"/><stop offset="0.734" stop-color="#00c5ff"/><stop offset="0.761" stop-color="#16eee9"/><stop offset="0.770" stop-color="#27f4d8"/><stop offset="0.779" stop-color="#2af5d5"/><stop offset="0.797" stop-color="#29f5d6"/><stop offset="0.806" stop-color="#17efe8"/><stop offset="0.824" stop-color="#00d1ff"/><stop offset="0.833" stop-color="#00b9ff"/><stop offset="0.842" stop-color="#00a3ff"/><stop offset="0.851" stop-color="#008cff"/><stop offset="0.869" stop-color="#0084ff"/><stop offset="0.878" stop-color="#0083ff"/><stop offset="0.887" stop-color="#0081ff"/><stop offset="0.896" stop-color="#007ffe"/><stop offset="0.914" stop-color="#008dff"/><stop offset="0.923" stop-color="#0095ff"/><stop offset="0.932" stop-color="#009cff"/><stop offset="0.950" stop-color="#00a1ff"/><stop offset="0.959" stop-color="#00a3ff"/><stop offset="1.000" stop-color="#00abff"/></linearGradient><linearGradient id="q34" x1="0" y1="0" x2="0" y2="1"><stop offset="0.000" stop-color="#0000b2"/><stop offset="0.223" stop-color="#0003b9"/><stop offset="0.446" stop-color="#0005bf"/><stop offset="0.554" stop-color="#0008c6"/><stop offset="0.662" stop-color="#000bcc"/><stop offset="0.671" stop-color="#0011da"/><stop offset="0.689" stop-color="#0030ec"/><stop offset="0.694" stop-color="#0039f0"/><stop offset="0.703" stop-color="#005cf8"/><stop offset="0.707" stop-color="#0070fc"/><stop offset="0.725" stop-color="#00aeff"/><stop offset="0.734" stop-color="#00c4ff"/><stop offset="0.761" stop-color="#16eee9"/><stop offset="0.770" stop-color="#26f4d9"/><stop offset="0.779" stop-color="#2af5d5"/><stop offset="0.797" stop-color="#29f5d6"/><stop offset="0.806" stop-color="#18efe7"/><stop offset="0.824" stop-color="#00d2ff"/><stop offset="0.833" stop-color="#00baff"/><stop offset="0.842" stop-color="#00a5ff"/><stop offset="0.851" stop-color="#008fff"/><stop offset="0.869" stop-color="#0085ff"/><stop offset="0.878" stop-color="#0084ff"/><stop offset="0.887" stop-color="#0082ff"/><stop offset="0.896" stop-color="#0081ff"/><stop offset="0.914" stop-color="#008eff"/><stop offset="0.923" stop-color="#0095ff"/><stop offset="0.932" stop-color="#009dff"/><stop offset="0.950" stop-color="#00a2ff"/><stop offset="0.959" stop-color="#00a4ff"/><stop offset="1.000" stop-color="#00acff"/></linearGradient><linearGradient id="q35" x1="0" y1="0" x2="0" y2="1"><stop offset="0.000" stop-color="#0000b2"/><stop offset="0.223" stop-color="#0003b9"/><stop offset="0.446" stop-color="#0005bf"/><stop offset="0.554" stop-color="#0008c6"/><stop offset="0.662" stop-color="#000bcc"/><stop offset="0.671" stop-color="#0010d9"/><stop offset="0.689" stop-color="#002fec"/><stop offset="0.694" stop-color="#0037f0"/><stop offset="0.703" stop-color="#0059f7"/><stop offset="0.707" stop-color="#006dfb"/><stop offset="0.725" stop-color="#00acff"/><stop offset="0.734" stop-color="#00c3ff"/><stop offset="0.761" stop-color="#15eeea"/><stop offset="0.770" stop-color="#25f4da"/><stop offset="0.779" stop-color="#2bf6d4"/><stop offset="0.797" stop-color="#29f5d6"/><stop offset="0.806" stop-color="#19f0e6"/><stop offset="0.824" stop-color="#00d4ff"/><stop offset="0.833" stop-color="#00bcff"/><stop offset="0.842" stop-color="#00a7ff"/><stop offset="0.851" stop-color="#0091ff"/><stop offset="0.869" stop-color="#0085ff"/><stop offset="0.878" stop-color="#0085ff"/><stop offset="0.887" stop-color="#0084ff"/><stop offset="0.896" stop-color="#0083ff"/><stop offset="0.914" stop-color="#008fff"/><stop offset="0.923" stop-color="#0096ff"/><stop offset="0.932" stop-color="#009dff"/><stop offset="0.950" stop-color="#00a3ff"/><stop offset="0.959" stop-color="#00a5ff"/><stop offset="1.000" stop-color="#00adff"/></linearGradient><linearGradient id="q36" x1="0" y1="0" x2="0" y2="1"><stop offset="0.000" stop-color="#0000b2"/><stop offset="0.223" stop-color="#0003b9"/><stop offset="0.446" stop-color="#0005bf"/><stop offset="0.554" stop-color="#0008c6"/><stop offset="0.662" stop-color="#000bcc"/><stop offset="0.671" stop-color="#0010d8"/><stop offset="0.689" stop-color="#002eeb"/><stop offset="0.694" stop-color="#0036ef"/><stop offset="0.703" stop-color="#0056f7"/><stop offset="0.707" stop-color="#006afb"/><stop offset="0.725" stop-color="#00aaff"/><stop offset="0.734" stop-color="#00c1ff"/><stop offset="0.761" stop-color="#14eeeb"/><stop offset="0.770" stop-color="#25f4da"/><stop offset="0.779" stop-color="#2cf6d3"/><stop offset="0.797" stop-color="#29f5d6"/><stop offset="0.806" stop-color="#1bf0e4"/><stop offset="0.824" stop-color="#00d6ff"/><stop offset="0.833" stop-color="#00beff"/><stop offset="0.842" stop-color="#00a9ff"/><stop offset="0.851" stop-color="#0094ff"/><stop offset="0.869" stop-color="#0086ff"/><stop offset="0.878" stop-color="#0085ff"/><stop offset="0.887" stop-color="#0085ff"/><stop offset="0.896" stop-color="#0084ff"/><stop offset="0.914" stop-color="#008fff"/><stop offset="0.923" stop-color="#0097ff"/><stop offset="0.932" stop-color="#009eff"/><stop offset="0.950" stop-color="#00a5ff"/><stop offset="0.959" stop-color="#00a6ff"/><stop offset="1.000" stop-color="#00adff"/></linearGradient><linearGradient id="q37" x1="0" y1="0" x2="0" y2="1"><stop offset="0.000" stop-color="#0000b2"/><stop offset="0.223" stop-color="#0003b9"/><stop offset="0.446" stop-color="#0005bf"/><stop offset="0.554" stop-color="#0008c6"/><stop offset="0.662" stop-color="#000bcc"/><stop offset="0.671" stop-color="#000fd7"/><stop offset="0.689" stop-color="#002deb"/><stop offset="0.694" stop-color="#0035ef"/><stop offset="0.703" stop-color="#0053f6"/><stop offset="0.707" stop-color="#0067fa"/><stop offset="0.725" stop-color="#00a8ff"/><stop offset="0.734" stop-color="#00c0ff"/><stop offset="0.761" stop-color="#13edec"/><stop offset="0.770" stop-color="#24f3db"/><stop offset="0.779" stop-color="#2df6d2"/><stop offset="0.797" stop-color="#2af5d5"/><stop offset="0.806" stop-color="#1cf1e3"/><stop offset="0.824" stop-color="#00d8ff"/><stop offset="0.833" stop-color="#00bfff"/><stop offset="0.842" stop-color="#00abff"/><stop offset="0.851" stop-color="#0097ff"/><stop offset="0.869" stop-color="#0087ff"/><stop offset="0.878" stop-color="#0086ff"/><stop offset="0.896" stop-color="#0086ff"/><stop offset="0.914" stop-color="#0090ff"/><stop offset="0.923" stop-color="#0097ff"/><stop offset="0.932" stop-color="#009eff"/><stop offset="0.950" stop-color="#00a6ff"/><stop offset="0.959" stop-color="#00a7ff"/><stop offset="1.000" stop-color="#00aeff"/></linearGradient><linearGradient id="q38" x1="0" y1="0" x2="0" y2="1"><stop offset="0.000" stop-color="#0000b2"/><stop offset="0.223" stop-color="#0003b9"/><stop offset="0.446" stop-color="#0005bf"/><stop offset="0.554" stop-color="#0008c6"/><stop offset="0.662" stop-color="#000bcc"/><stop offset="0.671" stop-color="#000ed5"/><stop offset="0.689" stop-color="#002bea"/><stop offset="0.694" stop-color="#0034ee"/><stop offset="0.703" stop-color="#0050f6"/><stop offset="0.707" stop-color="#0064f9"/><stop offset="0.725" stop-color="#00a6ff"/><stop offset="0.734" stop-color="#00beff"/><stop offset="0.761" stop-color="#12eded"/><stop offset="0.770" stop-color="#23f3dc"/><stop offset="0.779" stop-color="#2ef6d1"/><stop offset="0.797" stop-color="#2af5d5"/><stop offset="0.806" stop-color="#1ef1e1"/><stop offset="0.824" stop-color="#00daff"/><stop offset="0.833" stop-color="#00c1ff"/><stop offset="0.842" stop-color="#00aeff"/><stop offset="0.851" stop-color="#009aff"/><stop offset="0.869" stop-color="#0088ff"/><stop offset="0.896" stop-color="#0088ff"/><stop offset="0.914" stop-color="#0091ff"/><stop offset="0.923" stop-color="#0098ff"/><stop offset="0.932" stop-color="#009fff"/><stop offset="0.950" stop-color="#00a7ff"/><stop offset="0.959" stop-color="#00a8ff"/><stop offset="1.000" stop-color="#00afff"/></linearGradient><linearGradient id="q39" x1="0" y1="0" x2="0" y2="1"><stop offset="0.000" stop-color="#0000b2"/><stop offset="0.223" stop-color="#0003b9"/><stop offset="0.446" stop-color="#0005bf"/><stop offset="0.554" stop-color="#0008c6"/><stop offset="0.662" stop-color="#000bcc"/><stop offset="0.671" stop-color="#000ed4"/><stop offset="0.689" stop-color="#002ae9"/><stop offset="0.694" stop-color="#0032ed"/><stop offset="0.703" stop-color="#004df5"/><stop offset="0.707" stop-color="#0061f9"/><stop offset="0.725" stop-color="#00a3ff"/><stop offset="0.734" stop-color="#00bcff"/><stop offset="0.761" stop-color="#12eded"/><stop offset="0.770" stop-color="#22f3dd"/><stop offset="0.779" stop-color="#2ff6d0"/><stop offset="0.797" stop-color="#2af5d5"/><stop offset="0.806" stop-color="#20f2df"/><stop offset="0.824" stop-color="#00dbff"/><stop offset="0.833" stop-color="#00c3ff"/><stop offset="0.842" stop-color="#00b0ff"/><stop offset="0.851" stop-color="#009dff"/><stop offset="0.869" stop-color="#0088ff"/><stop offset="0.878" stop-color="#0089ff"/><stop offset="0.896" stop-color="#0089ff"/><stop offset="0.914" stop-color="#0092ff"/><stop offset="0.923" stop-color="#0099ff"/><stop offset="0.932" stop-color="#009fff"/><stop offset="0.950" stop-color="#00a8ff"/><stop offset="0.959" stop-color="#00aaff"/><stop offset="1.000" stop-color="#00b0ff"/></linearGradient><linearGradient id="q40" x1="0" y1="0" x2="0" y2="1"><stop offset="0.000" stop-color="#0000b2"/><stop offset="0.223" stop-color="#0003b9"/><stop offset="0.446" stop-color="#0005bf"/><stop offset="0.554" stop-color="#0008c6"/><stop offset="0.662" stop-color="#000bcc"/><stop offset="0.671" stop-color="#000dd2"/><stop offset="0.689" stop-color="#0029e9"/><stop offset="0.694" stop-color="#0031ed"/><stop offset="0.703" stop-color="#004af5"/><stop offset="0.707" stop-color="#005ef8"/><stop offset="0.725" stop-color="#00a1ff"/><stop offset="0.734" stop-color="#00bbff"/><stop offset="0.761" stop-color="#11ecee"/><stop offset="0.770" stop-color="#22f3dd"/><stop offset="0.779" stop-color="#30f6cf"/><stop offset="0.797" stop-color="#2bf5d4"/><stop offset="0.806" stop-color="#21f2de"/><stop offset="0.824" stop-color="#00ddff"/><stop offset="0.833" stop-color="#00c5ff"/><stop offset="0.842" stop-color="#00b2ff"/><stop offset="0.851" stop-color="#00a0ff"/><stop offset="0.869" stop-color="#0089ff"/><stop offset="0.878" stop-color="#008aff"/><stop offset="0.887" stop-color="#008aff"/><stop offset="0.896" stop-color="#008bff"/><stop offset="0.914" stop-color="#0093ff"/><stop offset="0.923" stop-color="#0099ff"/><stop offset="0.932" stop-color="#00a0ff"/><stop offset="0.950" stop-color="#00a9ff"/><stop offset="0.959" stop-color="#00abff"/><stop offset="1.000" stop-color="#00b1ff"/></linearGradient><linearGradient id="q41" x1="0" y1="0" x2="0" y2="1"><stop offset="0.000" stop-color="#0000b2"/><stop offset="0.223" stop-color="#0003b9"/><stop offset="0.446" stop-color="#0005bf"/><stop offset="0.554" stop-color="#0008c6"/><stop offset="0.662" stop-color="#000bcc"/><stop offset="0.671" stop-color="#000dd1"/><stop offset="0.689" stop-color="#0027e8"/><stop offset="0.694" stop-color="#0030ec"/><stop offset="0.703" stop-color="#0047f4"/><stop offset="0.707" stop-color="#005bf8"/><stop offset="0.725" stop-color="#009fff"/><stop offset="0.734" stop-color="#00b9ff"/><stop offset="0.761" stop-color="#10ecef"/><stop offset="0.770" stop-color="#21f2de"/><stop offset="0.779" stop-color="#31f6ce"/><stop offset="0.797" stop-color="#2bf5d4"/><stop offset="0.806" stop-color="#23f3dc"/><stop offset="0.824" stop-color="#00dfff"/><stop offset="0.833" stop-color="#00c7ff"/><stop offset="0.842" stop-color="#00b5ff"/><stop offset="0.851" stop-color="#00a2ff"/><stop offset="0.869" stop-color="#008aff"/><stop offset="0.878" stop-color="#008aff"/><stop offset="0.887" stop-color="#008bff"/><stop offset="0.896" stop-color="#008cff"/><stop offset="0.914" stop-color="#0093ff"/><stop offset="0.923" stop-color="#009aff"/><stop offset="0.932" stop-color="#00a0ff"/><stop offset="0.950" stop-color="#00abff"/><stop offset="0.959" stop-color="#00acff"/><stop offset="1.000" stop-color="#00b1ff"/></linearGradient><linearGradient id="q42" x1="0" y1="0" x2="0" y2="1"><stop offset="0.000" stop-color="#0000b2"/><stop offset="0.223" stop-color="#0003b9"/><stop offset="0.446" stop-color="#0005bf"/><stop offset="0.554" stop-color="#0008c6"/><stop offset="0.662" stop-color="#000bcc"/><stop offset="0.671" stop-color="#000cd0"/><stop offset="0.689" stop-color="#0026e8"/><stop offset="0.694" stop-color="#002fec"/><stop offset="0.703" stop-color="#0044f4"/><stop offset="0.707" stop-color="#0058f7"/><stop offset="0.725" stop-color="#009dff"/><stop offset="0.734" stop-color="#00b8ff"/><stop offset="0.761" stop-color="#0fecf0"/><stop offset="0.770" stop-color="#20f2df"/><stop offset="0.779" stop-color="#32f7cd"/><stop offset="0.797" stop-color="#2bf6d4"/><stop offset="0.806" stop-color="#24f3db"/><stop offset="0.824" stop-color="#00e1ff"/><stop offset="0.833" stop-color="#00c8ff"/><stop offset="0.842" stop-color="#00b7ff"/><stop offset="0.851" stop-color="#00a5ff"/><stop offset="0.869" stop-color="#008aff"/><stop offset="0.878" stop-color="#008bff"/><stop offset="0.887" stop-color="#008dff"/><stop offset="0.896" stop-color="#008eff"/><stop offset="0.914" stop-color="#0094ff"/><stop offset="0.923" stop-color="#009aff"/><stop offset="0.932" stop-color="#00a1ff"/><stop offset="0.950" stop-color="#00acff"/><stop offset="0.959" stop-color="#00adff"/><stop offset="1.000" stop-color="#00b2ff"/></linearGradient><linearGradient id="q43" x1="0" y1="0" x2="0" y2="1"><stop offset="0.000" stop-color="#0000b2"/><stop offset="0.223" stop-color="#0003b9"/><stop offset="0.446" stop-color="#0005bf"/><stop offset="0.554" stop-color="#0008c6"/><stop offset="0.662" stop-color="#000bcc"/><stop offset="0.671" stop-color="#000ccf"/><stop offset="0.689" stop-color="#0025e7"/><stop offset="0.694" stop-color="#002eeb"/><stop offset="0.703" stop-color="#0042f3"/><stop offset="0.707" stop-color="#0056f7"/><stop offset="0.725" stop-color="#009bff"/><stop offset="0.734" stop-color="#00b7ff"/><stop offset="0.761" stop-color="#0eebf1"/><stop offset="0.770" stop-color="#20f2df"/><stop offset="0.779" stop-color="#32f7cd"/><stop offset="0.797" stop-color="#2bf6d4"/><stop offset="0.806" stop-color="#25f4da"/><stop offset="0.824" stop-color="#00e2ff"/><stop offset="0.833" stop-color="#00caff"/><stop offset="0.842" stop-color="#00b8ff"/><stop offset="0.851" stop-color="#00a7ff"/><stop offset="0.869" stop-color="#008bff"/><stop offset="0.878" stop-color="#008cff"/><stop offset="0.887" stop-color="#008eff"/><stop offset="0.896" stop-color="#008fff"/><stop offset="0.914" stop-color="#0095ff"/><stop offset="0.923" stop-color="#009bff"/><stop offset="0.932" stop-color="#00a1ff"/><stop offset="0.950" stop-color="#00adff"/><stop offset="0.959" stop-color="#00aeff"/><stop offset="1.000" stop-color="#00b3ff"/></linearGradient><linearGradient id="q44" x1="0" y1="0" x2="0" y2="1"><stop offset="0.000" stop-color="#0000b2"/><stop offset="0.223" stop-color="#0003b9"/><stop offset="0.446" stop-color="#0005bf"/><stop offset="0.554" stop-color="#0008c6"/><stop offset="0.662" stop-color="#000bcc"/><stop offset="0.671" stop-color="#000bce"/><stop offset="0.689" stop-color="#0024e7"/><stop offset="0.694" stop-color="#002deb"/><stop offset="0.703" stop-color="#0040f3"/><stop offset="0.707" stop-color="#0054f6"/><stop offset="0.725" stop-color="#009aff"/><stop offset="0.734" stop-color="#00b6ff"/><stop offset="0.761" stop-color="#0eebf1"/><stop offset="0.770" stop-color="#1ff2e0"/><stop offset="0.779" stop-color="#33f7cc"/><stop offset="0.797" stop-color="#2cf6d3"/><stop offset="0.806" stop-color="#26f4d9"/><stop offset="0.824" stop-color="#00e4ff"/><stop offset="0.833" stop-color="#00cbff"/><stop offset="0.842" stop-color="#00baff"/><stop offset="0.851" stop-color="#00a9ff"/><stop offset="0.869" stop-color="#008bff"/><stop offset="0.878" stop-color="#008dff"/><stop offset="0.887" stop-color="#008eff"/><stop offset="0.896" stop-color="#0090ff"/><stop offset="0.914" stop-color="#0095ff"/><stop offset="0.923" stop-color="#009bff"/><stop offset="0.932" stop-color="#00a2ff"/><stop offset="0.950" stop-color="#00aeff"/><stop offset="0.959" stop-color="#00afff"/><stop offset="1.000" stop-color="#00b3ff"/></linearGradient><linearGradient id="q45" x1="0" y1="0" x2="0" y2="1"><stop offset="0.000" stop-color="#0000b2"/><stop offset="0.223" stop-color="#0003b9"/><stop offset="0.446" stop-color="#0005bf"/><stop offset="0.554" stop-color="#0008c6"/><stop offset="0.662" stop-color="#000bcc"/><stop offset="0.671" stop-color="#000bcd"/><stop offset="0.689" stop-color="#0024e6"/><stop offset="0.694" stop-color="#002cea"/><stop offset="0.703" stop-color="#003ef2"/><stop offset="0.707" stop-color="#0052f6"/><stop offset="0.725" stop-color="#0099ff"/><stop offset="0.734" stop-color="#00b5ff"/><stop offset="0.761" stop-color="#0debf2"/><stop offset="0.770" stop-color="#1ff2e0"/><stop offset="0.779" stop-color="#33f7cc"/><stop offset="0.797" stop-color="#2cf6d3"/><stop offset="0.806" stop-color="#27f5d8"/><stop offset="0.824" stop-color="#00e5ff"/><stop offset="0.833" stop-color="#00ccff"/><stop offset="0.842" stop-color="#00bbff"/><stop offset="0.851" stop-color="#00abff"/><stop offset="0.869" stop-color="#008cff"/><stop offset="0.878" stop-color="#008dff"/><stop offset="0.887" stop-color="#008fff"/><stop offset="0.896" stop-color="#0091ff"/><stop offset="0.914" stop-color="#0096ff"/><stop offset="0.923" stop-color="#009cff"/><stop offset="0.932" stop-color="#00a2ff"/><stop offset="0.950" stop-color="#00aeff"/><stop offset="0.959" stop-color="#00afff"/><stop offset="1.000" stop-color="#00b4ff"/></linearGradient><linearGradient id="q46" x1="0" y1="0" x2="0" y2="1"><stop offset="0.000" stop-color="#0000b2"/><stop offset="0.223" stop-color="#0003b9"/><stop offset="0.446" stop-color="#0005bf"/><stop offset="0.554" stop-color="#0008c6"/><stop offset="0.662" stop-color="#000bcc"/><stop offset="0.671" stop-color="#000bcd"/><stop offset="0.689" stop-color="#0023e6"/><stop offset="0.694" stop-color="#002bea"/><stop offset="0.703" stop-color="#003df2"/><stop offset="0.707" stop-color="#0051f6"/><stop offset="0.725" stop-color="#0098ff"/><stop offset="0.734" stop-color="#00b4ff"/><stop offset="0.761" stop-color="#0debf2"/><stop offset="0.770" stop-color="#1ff1e0"/><stop offset="0.779" stop-color="#34f7cb"/><stop offset="0.797" stop-color="#2cf6d3"/><stop offset="0.806" stop-color="#28f5d7"/><stop offset="0.824" stop-color="#00e6ff"/><stop offset="0.833" stop-color="#00cdff"/><stop offset="0.842" stop-color="#00bcff"/><stop offset="0.851" stop-color="#00acff"/><stop offset="0.869" stop-color="#008cff"/><stop offset="0.878" stop-color="#008eff"/><stop offset="0.887" stop-color="#0090ff"/><stop offset="0.896" stop-color="#0092ff"/><stop offset="0.914" stop-color="#0096ff"/><stop offset="0.923" stop-color="#009cff"/><stop offset="0.932" stop-color="#00a2ff"/><stop offset="0.950" stop-color="#00afff"/><stop offset="0.959" stop-color="#00b0ff"/><stop offset="1.000" stop-color="#00b4ff"/></linearGradient><linearGradient id="q47" x1="0" y1="0" x2="0" y2="1"><stop offset="0.000" stop-color="#0000b2"/><stop offset="0.223" stop-color="#0003b9"/><stop offset="0.446" stop-color="#0005bf"/><stop offset="0.554" stop-color="#0008c6"/><stop offset="0.662" stop-color="#000bcc"/><stop offset="0.671" stop-color="#000bcc"/><stop offset="0.689" stop-color="#0023e6"/><stop offset="0.694" stop-color="#002bea"/><stop offset="0.703" stop-color="#003cf2"/><stop offset="0.707" stop-color="#0050f6"/><stop offset="0.725" stop-color="#0097ff"/><stop offset="0.734" stop-color="#00b4ff"/><stop offset="0.761" stop-color="#0debf2"/><stop offset="0.770" stop-color="#1ef1e1"/><stop offset="0.779" stop-color="#34f7cb"/><stop offset="0.797" stop-color="#2cf6d3"/><stop offset="0.806" stop-color="#28f5d7"/><stop offset="0.824" stop-color="#00e6ff"/><stop offset="0.833" stop-color="#00cdff"/><stop offset="0.842" stop-color="#00bdff"/><stop offset="0.851" stop-color="#00acff"/><stop offset="0.869" stop-color="#008cff"/><stop offset="0.878" stop-color="#008eff"/><stop offset="0.887" stop-color="#0090ff"/><stop offset="0.896" stop-color="#0092ff"/><stop offset="0.914" stop-color="#0096ff"/><stop offset="0.923" stop-color="#009cff"/><stop offset="0.932" stop-color="#00a2ff"/><stop offset="0.950" stop-color="#00afff"/><stop offset="0.959" stop-color="#00b0ff"/><stop offset="1.000" stop-color="#00b4ff"/></linearGradient><linearGradient id="q48" x1="0" y1="0" x2="0" y2="1"><stop offset="0.000" stop-color="#0000b2"/><stop offset="0.223" stop-color="#0003b9"/><stop offset="0.446" stop-color="#0005bf"/><stop offset="0.554" stop-color="#0008c6"/><stop offset="0.662" stop-color="#000bcc"/><stop offset="0.671" stop-color="#000bcc"/><stop offset="0.689" stop-color="#0023e6"/><stop offset="0.694" stop-color="#002bea"/><stop offset="0.703" stop-color="#003cf2"/><stop offset="0.707" stop-color="#0050f6"/><stop offset="0.725" stop-color="#0097ff"/><stop offset="0.734" stop-color="#00b3ff"/><stop offset="0.761" stop-color="#0cebf3"/><stop offset="0.770" stop-color="#1ef1e1"/><stop offset="0.779" stop-color="#33f7cc"/><stop offset="0.797" stop-color="#2cf6d3"/><stop offset="0.806" stop-color="#28f5d7"/><stop offset="0.824" stop-color="#00e6ff"/><stop offset="0.833" stop-color="#00cdff"/><stop offset="0.842" stop-color="#00bdff"/><stop offset="0.851" stop-color="#00adff"/><stop offset="0.869" stop-color="#008dff"/><stop offset="0.878" stop-color="#008fff"/><stop offset="0.887" stop-color="#0091ff"/><stop offset="0.896" stop-color="#0093ff"/><stop offset="0.914" stop-color="#0096ff"/><stop offset="0.923" stop-color="#009dff"/><stop offset="0.932" stop-color="#00a3ff"/><stop offset="0.950" stop-color="#00afff"/><stop offset="0.959" stop-color="#00b0ff"/><stop offset="1.000" stop-color="#00b4ff"/></linearGradient><linearGradient id="q49" x1="0" y1="0" x2="0" y2="1"><stop offset="0.000" stop-color="#0000b2"/><stop offset="0.223" stop-color="#0003b9"/><stop offset="0.446" stop-color="#0006bf"/><stop offset="0.554" stop-color="#0008c6"/><stop offset="0.662" stop-color="#000bcc"/><stop offset="0.671" stop-color="#000bcd"/><stop offset="0.689" stop-color="#0021e5"/><stop offset="0.694" stop-color="#0029e9"/><stop offset="0.703" stop-color="#003af1"/><stop offset="0.707" stop-color="#004cf5"/><stop offset="0.725" stop-color="#0094ff"/><stop offset="0.734" stop-color="#00afff"/><stop offset="0.761" stop-color="#0aeaf5"/><stop offset="0.770" stop-color="#1bf0e4"/><stop offset="0.779" stop-color="#30f6cf"/><stop offset="0.797" stop-color="#29f5d6"/><stop offset="0.806" stop-color="#26f4d9"/><stop offset="0.824" stop-color="#01e6fe"/><stop offset="0.833" stop-color="#00d0ff"/><stop offset="0.842" stop-color="#00c0ff"/><stop offset="0.851" stop-color="#00b1ff"/><stop offset="0.869" stop-color="#0092ff"/><stop offset="0.878" stop-color="#0093ff"/><stop offset="0.887" stop-color="#0095ff"/><stop offset="0.896" stop-color="#0097ff"/><stop offset="0.914" stop-color="#009aff"/><stop offset="0.923" stop-color="#00a0ff"/><stop offset="0.932" stop-color="#00a5ff"/><stop offset="0.950" stop-color="#00b1ff"/><stop offset="0.959" stop-color="#00b2ff"/><stop offset="1.000" stop-color="#00b6ff"/></linearGradient><linearGradient id="q50" x1="0" y1="0" x2="0" y2="1"><stop offset="0.000" stop-color="#0000b3"/><stop offset="0.223" stop-color="#0003b9"/><stop offset="0.446" stop-color="#0006c0"/><stop offset="0.554" stop-color="#0008c6"/><stop offset="0.662" stop-color="#000bcc"/><stop offset="0.671" stop-color="#000bcd"/><stop offset="0.689" stop-color="#001ee4"/><stop offset="0.694" stop-color="#0026e8"/><stop offset="0.703" stop-color="#0037f0"/><stop offset="0.707" stop-color="#0047f4"/><stop offset="0.725" stop-color="#008dff"/><stop offset="0.734" stop-color="#00a8ff"/><stop offset="0.761" stop-color="#05e8fa"/><stop offset="0.770" stop-color="#17eee8"/><stop offset="0.779" stop-color="#29f5d6"/><stop offset="0.797" stop-color="#25f4da"/><stop offset="0.806" stop-color="#23f3dc"/><stop offset="0.824" stop-color="#03e7fc"/><stop offset="0.833" stop-color="#00d5ff"/><stop offset="0.842" stop-color="#00c6ff"/><stop offset="0.851" stop-color="#00b8ff"/><stop offset="0.869" stop-color="#009bff"/><stop offset="0.878" stop-color="#009cff"/><stop offset="0.887" stop-color="#009dff"/><stop offset="0.896" stop-color="#009eff"/><stop offset="0.914" stop-color="#00a0ff"/><stop offset="0.923" stop-color="#00a5ff"/><stop offset="0.932" stop-color="#00aaff"/><stop offset="0.950" stop-color="#00b4ff"/><stop offset="0.959" stop-color="#00b5ff"/><stop offset="1.000" stop-color="#00b9ff"/></linearGradient><linearGradient id="q51" x1="0" y1="0" x2="0" y2="1"><stop offset="0.000" stop-color="#0001b3"/><stop offset="0.223" stop-color="#0003ba"/><stop offset="0.446" stop-color="#0006c0"/><stop offset="0.554" stop-color="#0008c7"/><stop offset="0.662" stop-color="#000bcd"/><stop offset="0.671" stop-color="#000bcd"/><stop offset="0.689" stop-color="#001be2"/><stop offset="0.694" stop-color="#0023e6"/><stop offset="0.703" stop-color="#0033ee"/><stop offset="0.707" stop-color="#003ff3"/><stop offset="0.725" stop-color="#0085ff"/><stop offset="0.734" stop-color="#009fff"/><stop offset="0.761" stop-color="#00e3ff"/><stop offset="0.770" stop-color="#10ecef"/><stop offset="0.779" stop-color="#22f3dd"/><stop offset="0.797" stop-color="#21f2de"/><stop offset="0.806" stop-color="#20f2df"/><stop offset="0.824" stop-color="#05e8fa"/><stop offset="0.833" stop-color="#00dbff"/><stop offset="0.842" stop-color="#00ceff"/><stop offset="0.851" stop-color="#00c1ff"/><stop offset="0.869" stop-color="#00a7ff"/><stop offset="0.896" stop-color="#00a7ff"/><stop offset="0.914" stop-color="#00a8ff"/><stop offset="0.923" stop-color="#00abff"/><stop offset="0.932" stop-color="#00b0ff"/><stop offset="0.950" stop-color="#00b9ff"/><stop offset="0.959" stop-color="#00baff"/><stop offset="1.000" stop-color="#00bcff"/></linearGradient><linearGradient id="q52" x1="0" y1="0" x2="0" y2="1"><stop offset="0.000" stop-color="#0001b4"/><stop offset="0.223" stop-color="#0003bb"/><stop offset="0.446" stop-color="#0006c1"/><stop offset="0.554" stop-color="#0009c7"/><stop offset="0.662" stop-color="#000bcd"/><stop offset="0.671" stop-color="#000bce"/><stop offset="0.689" stop-color="#0016e0"/><stop offset="0.694" stop-color="#001ee4"/><stop offset="0.703" stop-color="#002eec"/><stop offset="0.707" stop-color="#0039f0"/><stop offset="0.725" stop-color="#007afd"/><stop offset="0.734" stop-color="#0094ff"/><stop offset="0.761" stop-color="#00daff"/><stop offset="0.770" stop-color="#09e9f6"/><stop offset="0.779" stop-color="#1cf0e3"/><stop offset="0.797" stop-color="#1bf0e4"/><stop offset="0.806" stop-color="#1bf0e4"/><stop offset="0.824" stop-color="#07e9f8"/><stop offset="0.833" stop-color="#00e2ff"/><stop offset="0.842" stop-color="#00d7ff"/><stop offset="0.851" stop-color="#00cbff"/><stop offset="0.869" stop-color="#00b4ff"/><stop offset="0.878" stop-color="#00b3ff"/><stop offset="0.887" stop-color="#00b3ff"/><stop offset="0.896" stop-color="#00b2ff"/><stop offset="0.914" stop-color="#00b1ff"/><stop offset="0.923" stop-color="#00b3ff"/><stop offset="0.932" stop-color="#00b7ff"/><stop offset="0.950" stop-color="#00beff"/><stop offset="0.959" stop-color="#00beff"/><stop offset="1.000" stop-color="#00c1ff"/></linearGradient><linearGradient id="q53" x1="0" y1="0" x2="0" y2="1"><stop offset="0.000" stop-color="#0001b5"/><stop offset="0.223" stop-color="#0004bb"/><stop offset="0.446" stop-color="#0006c2"/><stop offset="0.554" stop-color="#0009c8"/><stop offset="0.662" stop-color="#000bce"/><stop offset="0.671" stop-color="#000cce"/><stop offset="0.689" stop-color="#0012de"/><stop offset="0.694" stop-color="#001ae2"/><stop offset="0.703" stop-color="#002ae9"/><stop offset="0.707" stop-color="#0033ee"/><stop offset="0.725" stop-color="#006cfb"/><stop offset="0.734" stop-color="#0089ff"/><stop offset="0.761" stop-color="#00d0ff"/><stop offset="0.770" stop-color="#01e7fe"/><stop offset="0.779" stop-color="#14eeeb"/><stop offset="0.797" stop-color="#16eee9"/><stop offset="0.806" stop-color="#17efe8"/><stop offset="0.824" stop-color="#0aeaf5"/><stop offset="0.833" stop-color="#03e7fc"/><stop offset="0.842" stop-color="#00e0ff"/><stop offset="0.851" stop-color="#00d6ff"/><stop offset="0.869" stop-color="#00c3ff"/><stop offset="0.878" stop-color="#00c1ff"/><stop offset="0.887" stop-color="#00bfff"/><stop offset="0.896" stop-color="#00beff"/><stop offset="0.914" stop-color="#00bbff"/><stop offset="0.923" stop-color="#00bbff"/><stop offset="0.932" stop-color="#00beff"/><stop offset="0.950" stop-color="#00c3ff"/><stop offset="0.959" stop-color="#00c4ff"/><stop offset="1.000" stop-color="#00c5ff"/></linearGradient><linearGradient id="q54" x1="0" y1="0" x2="0" y2="1"><stop offset="0.000" stop-color="#0001b5"/><stop offset="0.223" stop-color="#0004bc"/><stop offset="0.446" stop-color="#0007c2"/><stop offset="0.554" stop-color="#0009c8"/><stop offset="0.662" stop-color="#000cce"/><stop offset="0.671" stop-color="#000ccf"/><stop offset="0.689" stop-color="#0010d9"/><stop offset="0.694" stop-color="#0015e0"/><stop offset="0.703" stop-color="#0025e7"/><stop offset="0.707" stop-color="#002eeb"/><stop offset="0.725" stop-color="#005ff9"/><stop offset="0.734" stop-color="#007dfe"/><stop offset="0.761" stop-color="#00c7ff"/><stop offset="0.770" stop-color="#00dfff"/><stop offset="0.779" stop-color="#0eebf1"/><stop offset="0.797" stop-color="#11ecee"/><stop offset="0.806" stop-color="#12eded"/><stop offset="0.824" stop-color="#0ceaf3"/><stop offset="0.833" stop-color="#09e9f6"/><stop offset="0.842" stop-color="#02e7fd"/><stop offset="0.851" stop-color="#00e1ff"/><stop offset="0.869" stop-color="#00d0ff"/><stop offset="0.878" stop-color="#00cdff"/><stop offset="0.887" stop-color="#00cbff"/><stop offset="0.896" stop-color="#00c9ff"/><stop offset="0.914" stop-color="#00c4ff"/><stop offset="0.923" stop-color="#00c3ff"/><stop offset="0.932" stop-color="#00c5ff"/><stop offset="0.950" stop-color="#00c8ff"/><stop offset="0.959" stop-color="#00c8ff"/><stop offset="1.000" stop-color="#00caff"/></linearGradient><linearGradient id="q55" x1="0" y1="0" x2="0" y2="1"><stop offset="0.000" stop-color="#0002b6"/><stop offset="0.223" stop-color="#0004bc"/><stop offset="0.446" stop-color="#0007c3"/><stop offset="0.554" stop-color="#0009c9"/><stop offset="0.662" stop-color="#000ccf"/><stop offset="0.671" stop-color="#000ccf"/><stop offset="0.689" stop-color="#000fd6"/><stop offset="0.694" stop-color="#0012de"/><stop offset="0.703" stop-color="#0021e5"/><stop offset="0.707" stop-color="#0029e9"/><stop offset="0.725" stop-color="#0054f6"/><stop offset="0.734" stop-color="#006ffc"/><stop offset="0.761" stop-color="#00beff"/><stop offset="0.770" stop-color="#00d7ff"/><stop offset="0.779" stop-color="#08e9f8"/><stop offset="0.797" stop-color="#0cebf3"/><stop offset="0.806" stop-color="#0fecf0"/><stop offset="0.824" stop-color="#0eebf1"/><stop offset="0.833" stop-color="#0eebf1"/><stop offset="0.842" stop-color="#08e9f7"/><stop offset="0.851" stop-color="#03e7fc"/><stop offset="0.869" stop-color="#00dcff"/><stop offset="0.878" stop-color="#00d8ff"/><stop offset="0.887" stop-color="#00d5ff"/><stop offset="0.896" stop-color="#00d2ff"/><stop offset="0.914" stop-color="#00ccff"/><stop offset="0.923" stop-color="#00caff"/><stop offset="0.932" stop-color="#00cbff"/><stop offset="0.950" stop-color="#00cdff"/><stop offset="1.000" stop-color="#00cdff"/></linearGradient><linearGradient id="q56" x1="0" y1="0" x2="0" y2="1"><stop offset="0.000" stop-color="#0002b6"/><stop offset="0.223" stop-color="#0004bd"/><stop offset="0.446" stop-color="#0007c3"/><stop offset="0.554" stop-color="#000ac9"/><stop offset="0.662" stop-color="#000ccf"/><stop offset="0.671" stop-color="#000cd0"/><stop offset="0.689" stop-color="#000dd3"/><stop offset="0.694" stop-color="#0011db"/><stop offset="0.703" stop-color="#001ee4"/><stop offset="0.707" stop-color="#0026e7"/><stop offset="0.725" stop-color="#004bf5"/><stop offset="0.734" stop-color="#0065fa"/><stop offset="0.761" stop-color="#00b8ff"/><stop offset="0.770" stop-color="#00d1ff"/><stop offset="0.779" stop-color="#03e7fc"/><stop offset="0.797" stop-color="#09e9f6"/><stop offset="0.806" stop-color="#0ceaf3"/><stop offset="0.824" stop-color="#10ecef"/><stop offset="0.833" stop-color="#12eded"/><stop offset="0.842" stop-color="#0debf2"/><stop offset="0.851" stop-color="#08e9f7"/><stop offset="0.869" stop-color="#00e5ff"/><stop offset="0.878" stop-color="#00e1ff"/><stop offset="0.887" stop-color="#00ddff"/><stop offset="0.896" stop-color="#00d9ff"/><stop offset="0.914" stop-color="#00d2ff"/><stop offset="0.923" stop-color="#00cfff"/><stop offset="0.932" stop-color="#00cfff"/><stop offset="0.950" stop-color="#00d0ff"/><stop offset="1.000" stop-color="#00d0ff"/></linearGradient><linearGradient id="q57" x1="0" y1="0" x2="0" y2="1"><stop offset="0.000" stop-color="#0002b6"/><stop offset="0.223" stop-color="#0005bd"/><stop offset="0.446" stop-color="#0007c4"/><stop offset="0.554" stop-color="#000ac9"/><stop offset="0.662" stop-color="#000ccf"/><stop offset="0.671" stop-color="#000cd0"/><stop offset="0.689" stop-color="#000dd1"/><stop offset="0.694" stop-color="#0010d9"/><stop offset="0.703" stop-color="#001ce3"/><stop offset="0.707" stop-color="#0024e7"/><stop offset="0.725" stop-color="#0046f4"/><stop offset="0.734" stop-color="#0060f9"/><stop offset="0.761" stop-color="#00b4ff"/><stop offset="0.770" stop-color="#00cdff"/><stop offset="0.779" stop-color="#00e6ff"/><stop offset="0.797" stop-color="#07e9f8"/><stop offset="0.806" stop-color="#0aeaf5"/><stop offset="0.824" stop-color="#11ecee"/><stop offset="0.833" stop-color="#14edeb"/><stop offset="0.842" stop-color="#10ecef"/><stop offset="0.851" stop-color="#0ceaf3"/><stop offset="0.869" stop-color="#03e7fc"/><stop offset="0.878" stop-color="#00e5ff"/><stop offset="0.887" stop-color="#00e1ff"/><stop offset="0.896" stop-color="#00ddff"/><stop offset="0.914" stop-color="#00d6ff"/><stop offset="0.923" stop-color="#00d2ff"/><stop offset="1.000" stop-color="#00d2ff"/></linearGradient><linearGradient id="q58" x1="0" y1="0" x2="0" y2="1"><stop offset="0.000" stop-color="#0002b7"/><stop offset="0.223" stop-color="#0005bd"/><stop offset="0.446" stop-color="#0007c4"/><stop offset="0.554" stop-color="#000ac9"/><stop offset="0.662" stop-color="#000ccf"/><stop offset="0.671" stop-color="#000cd0"/><stop offset="0.689" stop-color="#000dd1"/><stop offset="0.694" stop-color="#0010d9"/><stop offset="0.703" stop-color="#001ce3"/><stop offset="0.707" stop-color="#0024e6"/><stop offset="0.725" stop-color="#0045f4"/><stop offset="0.734" stop-color="#005ff8"/><stop offset="0.761" stop-color="#00b3ff"/><stop offset="0.770" stop-color="#00ccff"/><stop offset="0.779" stop-color="#00e6ff"/><stop offset="0.797" stop-color="#07e8f8"/><stop offset="0.806" stop-color="#0aeaf5"/><stop offset="0.824" stop-color="#11ecee"/><stop offset="0.833" stop-color="#14eeeb"/><stop offset="0.842" stop-color="#10ecef"/><stop offset="0.851" stop-color="#0cebf3"/><stop offset="0.869" stop-color="#04e8fb"/><stop offset="0.878" stop-color="#00e6ff"/><stop offset="0.887" stop-color="#00e2ff"/><stop offset="0.896" stop-color="#00deff"/><stop offset="0.914" stop-color="#00d6ff"/><stop offset="0.923" stop-color="#00d2ff"/><stop offset="1.000" stop-color="#00d2ff"/></linearGradient><linearGradient id="q59" x1="0" y1="0" x2="0" y2="1"><stop offset="0.000" stop-color="#0002b7"/><stop offset="0.223" stop-color="#0005bd"/><stop offset="0.446" stop-color="#0007c4"/><stop offset="0.554" stop-color="#000aca"/><stop offset="0.662" stop-color="#000ccf"/><stop offset="0.671" stop-color="#000cd0"/><stop offset="0.689" stop-color="#000dd1"/><stop offset="0.694" stop-color="#0010d9"/><stop offset="0.703" stop-color="#001be2"/><stop offset="0.707" stop-color="#0023e6"/><stop offset="0.725" stop-color="#0043f3"/><stop offset="0.734" stop-color="#005bf8"/><stop offset="0.761" stop-color="#00afff"/><stop offset="0.770" stop-color="#00c9ff"/><stop offset="0.779" stop-color="#00e2ff"/><stop offset="0.797" stop-color="#06e8f9"/><stop offset="0.806" stop-color="#09eaf6"/><stop offset="0.824" stop-color="#11ecee"/><stop offset="0.833" stop-color="#15eeea"/><stop offset="0.842" stop-color="#12eded"/><stop offset="0.851" stop-color="#0eebf1"/><stop offset="0.869" stop-color="#07e9f8"/><stop offset="0.878" stop-color="#03e7fc"/><stop offset="0.887" stop-color="#00e6ff"/><stop offset="0.896" stop-color="#00e1ff"/><stop offset="0.914" stop-color="#00d9ff"/><stop offset="0.923" stop-color="#00d5ff"/><stop offset="0.932" stop-color="#00d4ff"/><stop offset="0.950" stop-color="#00d3ff"/><stop offset="1.000" stop-color="#00d3ff"/></linearGradient><linearGradient id="q60" x1="0" y1="0" x2="0" y2="1"><stop offset="0.000" stop-color="#0002b7"/><stop offset="0.223" stop-color="#0005be"/><stop offset="0.446" stop-color="#0007c4"/><stop offset="0.554" stop-color="#000aca"/><stop offset="0.662" stop-color="#000cd0"/><stop offset="0.671" stop-color="#000cd0"/><stop offset="0.689" stop-color="#000dd1"/><stop offset="0.694" stop-color="#0010d8"/><stop offset="0.703" stop-color="#001ae2"/><stop offset="0.707" stop-color="#0021e5"/><stop offset="0.725" stop-color="#003ef2"/><stop offset="0.734" stop-color="#0055f7"/><stop offset="0.761" stop-color="#00a7ff"/><stop offset="0.770" stop-color="#00c1ff"/><stop offset="0.779" stop-color="#00dcff"/><stop offset="0.797" stop-color="#04e7fb"/><stop offset="0.806" stop-color="#09e9f6"/><stop offset="0.824" stop-color="#12eded"/><stop offset="0.833" stop-color="#16eee9"/><stop offset="0.842" stop-color="#15eeea"/><stop offset="0.851" stop-color="#12eded"/><stop offset="0.869" stop-color="#0beaf4"/><stop offset="0.878" stop-color="#08e9f7"/><stop offset="0.887" stop-color="#05e8fa"/><stop offset="0.896" stop-color="#01e6fe"/><stop offset="0.914" stop-color="#00deff"/><stop offset="0.923" stop-color="#00d9ff"/><stop offset="0.932" stop-color="#00d7ff"/><stop offset="0.950" stop-color="#00d4ff"/><stop offset="0.959" stop-color="#00d4ff"/><stop offset="1.000" stop-color="#00d5ff"/></linearGradient><linearGradient id="q61" x1="0" y1="0" x2="0" y2="1"><stop offset="0.000" stop-color="#0002b7"/><stop offset="0.223" stop-color="#0005be"/><stop offset="0.446" stop-color="#0008c4"/><stop offset="0.554" stop-color="#000aca"/><stop offset="0.662" stop-color="#000cd0"/><stop offset="0.671" stop-color="#000cd1"/><stop offset="0.689" stop-color="#000dd1"/><stop offset="0.694" stop-color="#0010d8"/><stop offset="0.703" stop-color="#0019e1"/><stop offset="0.707" stop-color="#001fe4"/><stop offset="0.725" stop-color="#0039f1"/><stop offset="0.734" stop-color="#004df5"/><stop offset="0.761" stop-color="#009cff"/><stop offset="0.770" stop-color="#00b7ff"/><stop offset="0.779" stop-color="#00d3ff"/><stop offset="0.797" stop-color="#02e7fd"/><stop offset="0.806" stop-color="#07e9f8"/><stop offset="0.824" stop-color="#13edec"/><stop offset="0.833" stop-color="#19efe6"/><stop offset="0.842" stop-color="#18efe7"/><stop offset="0.851" stop-color="#16eee9"/><stop offset="0.869" stop-color="#12eded"/><stop offset="0.878" stop-color="#0fecf0"/><stop offset="0.887" stop-color="#0beaf4"/><stop offset="0.896" stop-color="#07e9f8"/><stop offset="0.914" stop-color="#00e5ff"/><stop offset="0.923" stop-color="#00deff"/><stop offset="0.932" stop-color="#00dcff"/><stop offset="0.950" stop-color="#00d6ff"/><stop offset="0.959" stop-color="#00d6ff"/><stop offset="1.000" stop-color="#00d8ff"/></linearGradient><linearGradient id="q62" x1="0" y1="0" x2="0" y2="1"><stop offset="0.000" stop-color="#0002b8"/><stop offset="0.223" stop-color="#0005be"/><stop offset="0.446" stop-color="#0008c5"/><stop offset="0.554" stop-color="#000acb"/><stop offset="0.662" stop-color="#000cd0"/><stop offset="0.671" stop-color="#000dd1"/><stop offset="0.689" stop-color="#000dd2"/><stop offset="0.694" stop-color="#000fd7"/><stop offset="0.703" stop-color="#0017e0"/><stop offset="0.707" stop-color="#001ce3"/><stop offset="0.725" stop-color="#0034ee"/><stop offset="0.734" stop-color="#0043f3"/><stop offset="0.761" stop-color="#008fff"/><stop offset="0.770" stop-color="#00acff"/><stop offset="0.779" stop-color="#00c8ff"/><stop offset="0.797" stop-color="#00e4ff"/><stop offset="0.806" stop-color="#06e8f9"/><stop offset="0.824" stop-color="#14eeeb"/><stop offset="0.833" stop-color="#1bf0e4"/><stop offset="0.842" stop-color="#1df1e2"/><stop offset="0.851" stop-color="#1cf0e3"/><stop offset="0.869" stop-color="#19efe6"/><stop offset="0.878" stop-color="#18efe7"/><stop offset="0.887" stop-color="#13edec"/><stop offset="0.896" stop-color="#0eebf1"/><stop offset="0.914" stop-color="#05e8fa"/><stop offset="0.923" stop-color="#00e5ff"/><stop offset="0.932" stop-color="#00e1ff"/><stop offset="0.950" stop-color="#00d8ff"/><stop offset="0.959" stop-color="#00d8ff"/><stop offset="1.000" stop-color="#00dbff"/></linearGradient><linearGradient id="q63" x1="0" y1="0" x2="0" y2="1"><stop offset="0.000" stop-color="#0003b8"/><stop offset="0.223" stop-color="#0005bf"/><stop offset="0.446" stop-color="#0008c5"/><stop offset="0.554" stop-color="#000acb"/><stop offset="0.662" stop-color="#000dd1"/><stop offset="0.671" stop-color="#000dd1"/><stop offset="0.689" stop-color="#000dd2"/><stop offset="0.694" stop-color="#000fd7"/><stop offset="0.703" stop-color="#0014df"/><stop offset="0.707" stop-color="#0019e1"/><stop offset="0.725" stop-color="#002fec"/><stop offset="0.734" stop-color="#003af1"/><stop offset="0.761" stop-color="#0080ff"/><stop offset="0.770" stop-color="#009fff"/><stop offset="0.779" stop-color="#00bdff"/><stop offset="0.797" stop-color="#00e1ff"/><stop offset="0.806" stop-color="#04e8fb"/><stop offset="0.824" stop-color="#15eeea"/><stop offset="0.833" stop-color="#1ef1e1"/><stop offset="0.842" stop-color="#22f3dd"/><stop offset="0.851" stop-color="#22f3dd"/><stop offset="0.869" stop-color="#21f2de"/><stop offset="0.878" stop-color="#21f2de"/><stop offset="0.887" stop-color="#1cf0e3"/><stop offset="0.896" stop-color="#16eee9"/><stop offset="0.914" stop-color="#0cebf3"/><stop offset="0.923" stop-color="#05e8fa"/><stop offset="0.932" stop-color="#00e6ff"/><stop offset="0.950" stop-color="#00daff"/><stop offset="0.959" stop-color="#00dbff"/><stop offset="1.000" stop-color="#00deff"/></linearGradient><linearGradient id="q64" x1="0" y1="0" x2="0" y2="1"><stop offset="0.000" stop-color="#0003b9"/><stop offset="0.223" stop-color="#0005bf"/><stop offset="0.446" stop-color="#0008c6"/><stop offset="0.554" stop-color="#000acc"/><stop offset="0.662" stop-color="#000dd1"/><stop offset="0.671" stop-color="#000dd2"/><stop offset="0.689" stop-color="#000dd3"/><stop offset="0.694" stop-color="#000fd6"/><stop offset="0.703" stop-color="#0012de"/><stop offset="0.707" stop-color="#0016e0"/><stop offset="0.725" stop-color="#0029e9"/><stop offset="0.734" stop-color="#0033ee"/><stop offset="0.761" stop-color="#006bfb"/><stop offset="0.770" stop-color="#0091ff"/><stop offset="0.779" stop-color="#00b1ff"/><stop offset="0.797" stop-color="#00ddff"/><stop offset="0.806" stop-color="#03e7fc"/><stop offset="0.824" stop-color="#17efe8"/><stop offset="0.833" stop-color="#21f2de"/><stop offset="0.842" stop-color="#27f5d8"/><stop offset="0.851" stop-color="#28f5d7"/><stop offset="0.869" stop-color="#2af5d5"/><stop offset="0.878" stop-color="#2cf6d3"/><stop offset="0.887" stop-color="#25f4da"/><stop offset="0.896" stop-color="#1ff2e0"/><stop offset="0.914" stop-color="#13edec"/><stop offset="0.923" stop-color="#0ceaf3"/><stop offset="0.932" stop-color="#05e8fa"/><stop offset="0.950" stop-color="#00ddff"/><stop offset="0.959" stop-color="#00deff"/><stop offset="1.000" stop-color="#00e2ff"/></linearGradient><linearGradient id="q65" x1="0" y1="0" x2="0" y2="1"><stop offset="0.000" stop-color="#0003b9"/><stop offset="0.223" stop-color="#0006c0"/><stop offset="0.446" stop-color="#0008c6"/><stop offset="0.554" stop-color="#000bcc"/><stop offset="0.662" stop-color="#000dd2"/><stop offset="0.671" stop-color="#000dd2"/><stop offset="0.689" stop-color="#000ed3"/><stop offset="0.694" stop-color="#000fd6"/><stop offset="0.703" stop-color="#0011dc"/><stop offset="0.707" stop-color="#0013de"/><stop offset="0.725" stop-color="#0024e6"/><stop offset="0.734" stop-color="#002ceb"/><stop offset="0.761" stop-color="#0057f7"/><stop offset="0.770" stop-color="#0084ff"/><stop offset="0.779" stop-color="#00a5ff"/><stop offset="0.797" stop-color="#00d9ff"/><stop offset="0.806" stop-color="#01e6fe"/><stop offset="0.824" stop-color="#18efe7"/><stop offset="0.833" stop-color="#24f3db"/><stop offset="0.842" stop-color="#2ff6d0"/><stop offset="0.851" stop-color="#32f7cd"/><stop offset="0.869" stop-color="#37f8c8"/><stop offset="0.878" stop-color="#3af8c5"/><stop offset="0.887" stop-color="#30f6cf"/><stop offset="0.896" stop-color="#27f5d8"/><stop offset="0.914" stop-color="#1bf0e4"/><stop offset="0.923" stop-color="#12eded"/><stop offset="0.932" stop-color="#0aeaf5"/><stop offset="0.950" stop-color="#00dfff"/><stop offset="0.959" stop-color="#00e0ff"/><stop offset="1.000" stop-color="#00e5ff"/></linearGradient><linearGradient id="q66" x1="0" y1="0" x2="0" y2="1"><stop offset="0.000" stop-color="#0003ba"/><stop offset="0.223" stop-color="#0006c0"/><stop offset="0.446" stop-color="#0009c7"/><stop offset="0.554" stop-color="#000bcc"/><stop offset="0.662" stop-color="#000dd2"/><stop offset="0.671" stop-color="#000dd3"/><stop offset="0.689" stop-color="#000ed3"/><stop offset="0.694" stop-color="#000fd6"/><stop offset="0.703" stop-color="#0010da"/><stop offset="0.707" stop-color="#0011dc"/><stop offset="0.725" stop-color="#001fe4"/><stop offset="0.734" stop-color="#0026e8"/><stop offset="0.761" stop-color="#0043f3"/><stop offset="0.770" stop-color="#0074fc"/><stop offset="0.779" stop-color="#009aff"/><stop offset="0.797" stop-color="#00d5ff"/><stop offset="0.806" stop-color="#00e5ff"/><stop offset="0.824" stop-color="#19efe6"/><stop offset="0.833" stop-color="#26f4d9"/><stop offset="0.842" stop-color="#36f7c9"/><stop offset="0.851" stop-color="#3af8c5"/><stop offset="0.869" stop-color="#43f9bc"/><stop offset="0.878" stop-color="#47fab8"/><stop offset="0.887" stop-color="#3df8c2"/><stop offset="0.896" stop-color="#32f7cd"/><stop offset="0.914" stop-color="#21f2de"/><stop offset="0.923" stop-color="#17efe8"/><stop offset="0.932" stop-color="#0eebf1"/><stop offset="0.950" stop-color="#00e1ff"/><stop offset="0.959" stop-color="#00e3ff"/><stop offset="1.000" stop-color="#02e7fd"/></linearGradient><linearGradient id="q67" x1="0" y1="0" x2="0" y2="1"><stop offset="0.000" stop-color="#0003ba"/><stop offset="0.223" stop-color="#0006c1"/><stop offset="0.446" stop-color="#0009c7"/><stop offset="0.554" stop-color="#000bcd"/><stop offset="0.662" stop-color="#000dd2"/><stop offset="0.671" stop-color="#000dd3"/><stop offset="0.689" stop-color="#000ed4"/><stop offset="0.694" stop-color="#000ed5"/><stop offset="0.703" stop-color="#000fd8"/><stop offset="0.707" stop-color="#0010d9"/><stop offset="0.725" stop-color="#001ae2"/><stop offset="0.734" stop-color="#0021e5"/><stop offset="0.761" stop-color="#0036ef"/><stop offset="0.770" stop-color="#0064f9"/><stop offset="0.779" stop-color="#0091ff"/><stop offset="0.797" stop-color="#00d2ff"/><stop offset="0.806" stop-color="#00e4ff"/><stop offset="0.824" stop-color="#1af0e5"/><stop offset="0.833" stop-color="#29f5d6"/><stop offset="0.842" stop-color="#3cf8c3"/><stop offset="0.851" stop-color="#42f9bd"/><stop offset="0.869" stop-color="#4dfbb2"/><stop offset="0.878" stop-color="#53fcac"/><stop offset="0.887" stop-color="#48fab7"/><stop offset="0.896" stop-color="#3df8c2"/><stop offset="0.914" stop-color="#27f5d8"/><stop offset="0.923" stop-color="#1cf1e3"/><stop offset="0.932" stop-color="#12eded"/><stop offset="0.950" stop-color="#00e3ff"/><stop offset="0.959" stop-color="#00e5ff"/><stop offset="1.000" stop-color="#05e8fa"/></linearGradient><linearGradient id="q68" x1="0" y1="0" x2="0" y2="1"><stop offset="0.000" stop-color="#0004bb"/><stop offset="0.223" stop-color="#0006c1"/><stop offset="0.446" stop-color="#0009c8"/><stop offset="0.554" stop-color="#000bcd"/><stop offset="0.662" stop-color="#000dd3"/><stop offset="0.671" stop-color="#000ed3"/><stop offset="0.689" stop-color="#000ed4"/><stop offset="0.694" stop-color="#000ed5"/><stop offset="0.703" stop-color="#000fd6"/><stop offset="0.707" stop-color="#000fd7"/><stop offset="0.725" stop-color="#0017e0"/><stop offset="0.734" stop-color="#001ce3"/><stop offset="0.761" stop-color="#002eeb"/><stop offset="0.770" stop-color="#0058f7"/><stop offset="0.779" stop-color="#0089ff"/><stop offset="0.797" stop-color="#00cfff"/><stop offset="0.806" stop-color="#00e2ff"/><stop offset="0.824" stop-color="#1bf0e4"/><stop offset="0.833" stop-color="#2cf6d3"/><stop offset="0.842" stop-color="#41f9be"/><stop offset="0.851" stop-color="#48fab7"/><stop offset="0.869" stop-color="#55fdaa"/><stop offset="0.878" stop-color="#5cfea3"/><stop offset="0.887" stop-color="#50fcaf"/><stop offset="0.896" stop-color="#45faba"/><stop offset="0.914" stop-color="#2ef6d1"/><stop offset="0.923" stop-color="#20f2df"/><stop offset="0.932" stop-color="#15eeea"/><stop offset="0.950" stop-color="#00e5ff"/><stop offset="0.959" stop-color="#00e6ff"/><stop offset="1.000" stop-color="#06e8f9"/></linearGradient><linearGradient id="q69" x1="0" y1="0" x2="0" y2="1"><stop offset="0.000" stop-color="#0004bb"/><stop offset="0.223" stop-color="#0006c1"/><stop offset="0.446" stop-color="#0009c8"/><stop offset="0.554" stop-color="#000bcd"/><stop offset="0.662" stop-color="#000dd3"/><stop offset="0.671" stop-color="#000ed3"/><stop offset="0.689" stop-color="#000ed4"/><stop offset="0.694" stop-color="#000ed5"/><stop offset="0.703" stop-color="#000ed5"/><stop offset="0.707" stop-color="#000fd6"/><stop offset="0.725" stop-color="#0014df"/><stop offset="0.734" stop-color="#0019e1"/><stop offset="0.761" stop-color="#0029e9"/><stop offset="0.770" stop-color="#0050f6"/><stop offset="0.779" stop-color="#0084ff"/><stop offset="0.797" stop-color="#00ceff"/><stop offset="0.806" stop-color="#00e1ff"/><stop offset="0.824" stop-color="#1cf0e3"/><stop offset="0.833" stop-color="#2df6d2"/><stop offset="0.842" stop-color="#45faba"/><stop offset="0.851" stop-color="#4cfbb3"/><stop offset="0.869" stop-color="#5bfda4"/><stop offset="0.878" stop-color="#62ff9d"/><stop offset="0.887" stop-color="#56fda9"/><stop offset="0.896" stop-color="#4afbb5"/><stop offset="0.914" stop-color="#32f7cd"/><stop offset="0.923" stop-color="#23f3dc"/><stop offset="0.932" stop-color="#17efe8"/><stop offset="0.950" stop-color="#00e6ff"/><stop offset="0.959" stop-color="#01e6fe"/><stop offset="1.000" stop-color="#08e9f7"/></linearGradient><linearGradient id="q70" x1="0" y1="0" x2="0" y2="1"><stop offset="0.000" stop-color="#0004bb"/><stop offset="0.223" stop-color="#0006c1"/><stop offset="0.446" stop-color="#0009c8"/><stop offset="0.554" stop-color="#000bcd"/><stop offset="0.662" stop-color="#000dd3"/><stop offset="0.671" stop-color="#000ed3"/><stop offset="0.689" stop-color="#000ed4"/><stop offset="0.694" stop-color="#000ed5"/><stop offset="0.707" stop-color="#000ed5"/><stop offset="0.725" stop-color="#0013df"/><stop offset="0.734" stop-color="#0018e1"/><stop offset="0.761" stop-color="#0027e8"/><stop offset="0.770" stop-color="#004ef5"/><stop offset="0.779" stop-color="#0082ff"/><stop offset="0.797" stop-color="#00cdff"/><stop offset="0.806" stop-color="#00e1ff"/><stop offset="0.824" stop-color="#1cf0e3"/><stop offset="0.833" stop-color="#2ef6d1"/><stop offset="0.842" stop-color="#46fab9"/><stop offset="0.851" stop-color="#4efbb2"/><stop offset="0.869" stop-color="#5cfea2"/><stop offset="0.878" stop-color="#64ff9b"/><stop offset="0.887" stop-color="#58fda7"/><stop offset="0.896" stop-color="#4cfbb3"/><stop offset="0.914" stop-color="#34f7cb"/><stop offset="0.923" stop-color="#24f4db"/><stop offset="0.932" stop-color="#18efe7"/><stop offset="0.950" stop-color="#00e6ff"/><stop offset="0.959" stop-color="#01e7fe"/><stop offset="1.000" stop-color="#08e9f7"/></linearGradient><linearGradient id="q71" x1="0" y1="0" x2="0" y2="1"><stop offset="0.000" stop-color="#0004bb"/><stop offset="0.223" stop-color="#0006c2"/><stop offset="0.446" stop-color="#0009c8"/><stop offset="0.554" stop-color="#000bce"/><stop offset="0.662" stop-color="#000dd3"/><stop offset="0.671" stop-color="#000ed3"/><stop offset="0.689" stop-color="#000ed4"/><stop offset="0.694" stop-color="#000ed5"/><stop offset="0.707" stop-color="#000ed5"/><stop offset="0.725" stop-color="#0013df"/><stop offset="0.734" stop-color="#0018e1"/><stop offset="0.761" stop-color="#0027e8"/><stop offset="0.770" stop-color="#004df5"/><stop offset="0.779" stop-color="#0081ff"/><stop offset="0.797" stop-color="#00cdff"/><stop offset="0.806" stop-color="#00e1ff"/><stop offset="0.824" stop-color="#1cf1e3"/><stop offset="0.833" stop-color="#2ef6d1"/><stop offset="0.842" stop-color="#46fab9"/><stop offset="0.851" stop-color="#4efbb1"/><stop offset="0.869" stop-color="#5dfea2"/><stop offset="0.878" stop-color="#64ff9b"/><stop offset="0.887" stop-color="#59fda6"/><stop offset="0.896" stop-color="#4cfbb3"/><stop offset="0.914" stop-color="#34f7cb"/><stop offset="0.923" stop-color="#24f4db"/><stop offset="0.932" stop-color="#18efe7"/><stop offset="0.950" stop-color="#00e6ff"/><stop offset="0.959" stop-color="#02e7fd"/><stop offset="1.000" stop-color="#08e9f7"/></linearGradient><linearGradient id="q72" x1="0" y1="0" x2="0" y2="1"><stop offset="0.000" stop-color="#0004bb"/><stop offset="0.223" stop-color="#0006c2"/><stop offset="0.446" stop-color="#0009c8"/><stop offset="0.554" stop-color="#000bce"/><stop offset="0.662" stop-color="#000dd3"/><stop offset="0.671" stop-color="#000ed3"/><stop offset="0.689" stop-color="#000ed4"/><stop offset="0.694" stop-color="#000ed5"/><stop offset="0.707" stop-color="#000ed5"/><stop offset="0.725" stop-color="#0013df"/><stop offset="0.734" stop-color="#0018e1"/><stop offset="0.761" stop-color="#0027e8"/><stop offset="0.770" stop-color="#004af5"/><stop offset="0.779" stop-color="#007ffe"/><stop offset="0.797" stop-color="#00ccff"/><stop offset="0.806" stop-color="#00e1ff"/><stop offset="0.824" stop-color="#1cf1e3"/><stop offset="0.833" stop-color="#2ff6d0"/><stop offset="0.842" stop-color="#47fab8"/><stop offset="0.851" stop-color="#50fcaf"/><stop offset="0.869" stop-color="#5efea1"/><stop offset="0.878" stop-color="#65ff9a"/><stop offset="0.887" stop-color="#5afda5"/><stop offset="0.896" stop-color="#4dfbb2"/><stop offset="0.914" stop-color="#34f7cb"/><stop offset="0.923" stop-color="#24f4db"/><stop offset="0.932" stop-color="#19efe6"/><stop offset="0.950" stop-color="#01e6fe"/><stop offset="0.959" stop-color="#02e7fd"/><stop offset="1.000" stop-color="#09e9f6"/></linearGradient><linearGradient id="q73" x1="0" y1="0" x2="0" y2="1"><stop offset="0.000" stop-color="#0004bc"/><stop offset="0.223" stop-color="#0007c2"/><stop offset="0.446" stop-color="#0009c9"/><stop offset="0.554" stop-color="#000bce"/><stop offset="0.662" stop-color="#000ed3"/><stop offset="0.671" stop-color="#000ed3"/><stop offset="0.689" stop-color="#000ed4"/><stop offset="0.694" stop-color="#000ed5"/><stop offset="0.707" stop-color="#000ed5"/><stop offset="0.725" stop-color="#0013df"/><stop offset="0.734" stop-color="#0018e1"/><stop offset="0.761" stop-color="#0026e8"/><stop offset="0.770" stop-color="#0046f4"/><stop offset="0.779" stop-color="#007cfe"/><stop offset="0.797" stop-color="#00caff"/><stop offset="0.806" stop-color="#00e2ff"/><stop offset="0.824" stop-color="#1df1e2"/><stop offset="0.833" stop-color="#30f6cf"/><stop offset="0.842" stop-color="#48fab7"/><stop offset="0.851" stop-color="#52fcad"/><stop offset="0.869" stop-color="#60fe9f"/><stop offset="0.878" stop-color="#66ff99"/><stop offset="0.887" stop-color="#5cfea3"/><stop offset="0.896" stop-color="#4ffcb0"/><stop offset="0.914" stop-color="#35f7ca"/><stop offset="0.923" stop-color="#25f4da"/><stop offset="0.932" stop-color="#19efe6"/><stop offset="0.950" stop-color="#02e7fd"/><stop offset="0.959" stop-color="#02e7fd"/><stop offset="1.000" stop-color="#09e9f6"/></linearGradient><linearGradient id="q74" x1="0" y1="0" x2="0" y2="1"><stop offset="0.000" stop-color="#0004bc"/><stop offset="0.223" stop-color="#0007c2"/><stop offset="0.446" stop-color="#0009c9"/><stop offset="0.554" stop-color="#000bce"/><stop offset="0.662" stop-color="#000ed3"/><stop offset="0.671" stop-color="#000ed4"/><stop offset="0.689" stop-color="#000ed4"/><stop offset="0.694" stop-color="#000ed5"/><stop offset="0.707" stop-color="#000ed5"/><stop offset="0.725" stop-color="#0013df"/><stop offset="0.734" stop-color="#0018e1"/><stop offset="0.761" stop-color="#0026e8"/><stop offset="0.770" stop-color="#0042f3"/><stop offset="0.779" stop-color="#0078fd"/><stop offset="0.797" stop-color="#00c9ff"/><stop offset="0.806" stop-color="#00e2ff"/><stop offset="0.824" stop-color="#1ef1e1"/><stop offset="0.833" stop-color="#31f6ce"/><stop offset="0.842" stop-color="#4afbb5"/><stop offset="0.851" stop-color="#55fdaa"/><stop offset="0.869" stop-color="#62ff9d"/><stop offset="0.878" stop-color="#68ff97"/><stop offset="0.887" stop-color="#5ffea0"/><stop offset="0.896" stop-color="#51fcae"/><stop offset="0.914" stop-color="#36f7c9"/><stop offset="0.923" stop-color="#25f4da"/><stop offset="0.932" stop-color="#1af0e5"/><stop offset="0.950" stop-color="#04e7fb"/><stop offset="0.959" stop-color="#03e7fc"/><stop offset="1.000" stop-color="#0aeaf5"/></linearGradient><linearGradient id="q75" x1="0" y1="0" x2="0" y2="1"><stop offset="0.000" stop-color="#0004bc"/><stop offset="0.223" stop-color="#0007c3"/><stop offset="0.446" stop-color="#000ac9"/><stop offset="0.554" stop-color="#000cce"/><stop offset="0.662" stop-color="#000ed3"/><stop offset="0.671" stop-color="#000ed4"/><stop offset="0.689" stop-color="#000ed4"/><stop offset="0.694" stop-color="#000ed5"/><stop offset="0.707" stop-color="#000ed5"/><stop offset="0.725" stop-color="#0013de"/><stop offset="0.734" stop-color="#0018e1"/><stop offset="0.761" stop-color="#0026e7"/><stop offset="0.770" stop-color="#003cf2"/><stop offset="0.779" stop-color="#0074fc"/><stop offset="0.797" stop-color="#00c7ff"/><stop offset="0.806" stop-color="#00e3ff"/><stop offset="0.824" stop-color="#1ef1e1"/><stop offset="0.833" stop-color="#32f7cd"/><stop offset="0.842" stop-color="#4bfbb4"/><stop offset="0.851" stop-color="#59fda6"/><stop offset="0.869" stop-color="#64ff9b"/><stop offset="0.878" stop-color="#6aff95"/><stop offset="0.887" stop-color="#62ff9d"/><stop offset="0.896" stop-color="#53fcac"/><stop offset="0.914" stop-color="#36f7c9"/><stop offset="0.923" stop-color="#25f4da"/><stop offset="0.932" stop-color="#1bf0e4"/><stop offset="0.950" stop-color="#05e8fa"/><stop offset="0.959" stop-color="#04e7fb"/><stop offset="1.000" stop-color="#0beaf4"/></linearGradient><linearGradient id="q76" x1="0" y1="0" x2="0" y2="1"><stop offset="0.000" stop-color="#0004bd"/><stop offset="0.223" stop-color="#0007c3"/><stop offset="0.446" stop-color="#000aca"/><stop offset="0.554" stop-color="#000ccf"/><stop offset="0.662" stop-color="#000ed3"/><stop offset="0.671" stop-color="#000ed4"/><stop offset="0.689" stop-color="#000ed4"/><stop offset="0.694" stop-color="#000ed5"/><stop offset="0.707" stop-color="#000ed5"/><stop offset="0.725" stop-color="#0013de"/><stop offset="0.734" stop-color="#0017e1"/><stop offset="0.761" stop-color="#0025e7"/><stop offset="0.770" stop-color="#0039f0"/><stop offset="0.779" stop-color="#006ffb"/><stop offset="0.797" stop-color="#00c5ff"/><stop offset="0.806" stop-color="#00e3ff"/><stop offset="0.824" stop-color="#1ff2e0"/><stop offset="0.833" stop-color="#34f7cb"/><stop offset="0.842" stop-color="#4dfbb2"/><stop offset="0.851" stop-color="#5dfea2"/><stop offset="0.869" stop-color="#67ff98"/><stop offset="0.878" stop-color="#6cff93"/><stop offset="0.887" stop-color="#65ff9a"/><stop offset="0.896" stop-color="#56fda9"/><stop offset="0.914" stop-color="#37f8c8"/><stop offset="0.923" stop-color="#26f4d9"/><stop offset="0.932" stop-color="#1cf0e3"/><stop offset="0.950" stop-color="#07e9f8"/><stop offset="0.959" stop-color="#04e8fb"/><stop offset="1.000" stop-color="#0ceaf3"/></linearGradient><linearGradient id="q77" x1="0" y1="0" x2="0" y2="1"><stop offset="0.000" stop-color="#0005bd"/><stop offset="0.223" stop-color="#0007c4"/><stop offset="0.446" stop-color="#000aca"/><stop offset="0.554" stop-color="#000ccf"/><stop offset="0.662" stop-color="#000ed3"/><stop offset="0.671" stop-color="#000ed4"/><stop offset="0.689" stop-color="#000ed4"/><stop offset="0.694" stop-color="#000ed5"/><stop offset="0.707" stop-color="#000ed5"/><stop offset="0.725" stop-color="#0013de"/><stop offset="0.734" stop-color="#0017e0"/><stop offset="0.761" stop-color="#0025e7"/><stop offset="0.770" stop-color="#0035ef"/><stop offset="0.779" stop-color="#006afa"/><stop offset="0.797" stop-color="#00c3ff"/><stop offset="0.806" stop-color="#00e4ff"/><stop offset="0.824" stop-color="#20f2df"/><stop offset="0.833" stop-color="#35f7ca"/><stop offset="0.842" stop-color="#4ffbb0"/><stop offset="0.851" stop-color="#61fe9e"/><stop offset="0.869" stop-color="#69ff96"/><stop offset="0.878" stop-color="#6eff91"/><stop offset="0.887" stop-color="#69ff96"/><stop offset="0.896" stop-color="#59fda6"/><stop offset="0.914" stop-color="#38f8c7"/><stop offset="0.923" stop-color="#26f4d9"/><stop offset="0.932" stop-color="#1cf1e3"/><stop offset="0.950" stop-color="#09e9f6"/><stop offset="0.959" stop-color="#05e8fa"/><stop offset="1.000" stop-color="#0cebf3"/></linearGradient><linearGradient id="q78" x1="0" y1="0" x2="0" y2="1"><stop offset="0.000" stop-color="#0005be"/><stop offset="0.223" stop-color="#0008c4"/><stop offset="0.446" stop-color="#000acb"/><stop offset="0.554" stop-color="#000ccf"/><stop offset="0.662" stop-color="#000ed3"/><stop offset="0.671" stop-color="#000ed4"/><stop offset="0.689" stop-color="#000ed4"/><stop offset="0.694" stop-color="#000ed5"/><stop offset="0.707" stop-color="#000ed5"/><stop offset="0.725" stop-color="#0012de"/><stop offset="0.734" stop-color="#0017e0"/><stop offset="0.761" stop-color="#0024e7"/><stop offset="0.770" stop-color="#0031ed"/><stop offset="0.779" stop-color="#0065fa"/><stop offset="0.797" stop-color="#00c0ff"/><stop offset="0.806" stop-color="#00e4ff"/><stop offset="0.824" stop-color="#21f2de"/><stop offset="0.833" stop-color="#37f7c8"/><stop offset="0.842" stop-color="#50fcaf"/><stop offset="0.851" stop-color="#65ff9a"/><stop offset="0.869" stop-color="#6cff93"/><stop offset="0.878" stop-color="#70ff8f"/><stop offset="0.887" stop-color="#6dff92"/><stop offset="0.896" stop-color="#5bfea4"/><stop offset="0.914" stop-color="#39f8c6"/><stop offset="0.923" stop-color="#27f5d8"/><stop offset="0.932" stop-color="#1df1e2"/><stop offset="0.950" stop-color="#0beaf4"/><stop offset="0.959" stop-color="#06e8f9"/><stop offset="1.000" stop-color="#0debf2"/></linearGradient><linearGradient id="q79" x1="0" y1="0" x2="0" y2="1"><stop offset="0.000" stop-color="#0005be"/><stop offset="0.223" stop-color="#0008c5"/><stop offset="0.446" stop-color="#000acb"/><stop offset="0.554" stop-color="#000ccf"/><stop offset="0.662" stop-color="#000ed4"/><stop offset="0.671" stop-color="#000ed4"/><stop offset="0.689" stop-color="#000ed5"/><stop offset="0.707" stop-color="#000ed5"/><stop offset="0.725" stop-color="#0012de"/><stop offset="0.734" stop-color="#0017e0"/><stop offset="0.761" stop-color="#0024e6"/><stop offset="0.770" stop-color="#002eeb"/><stop offset="0.779" stop-color="#0060f9"/><stop offset="0.797" stop-color="#00beff"/><stop offset="0.806" stop-color="#00e5ff"/><stop offset="0.824" stop-color="#22f3dd"/><stop offset="0.833" stop-color="#38f8c7"/><stop offset="0.842" stop-color="#52fcad"/><stop offset="0.851" stop-color="#69ff96"/><stop offset="0.869" stop-color="#6fff90"/><stop offset="0.878" stop-color="#72ff8d"/><stop offset="0.887" stop-color="#70ff8f"/><stop offset="0.896" stop-color="#5dfea2"/><stop offset="0.914" stop-color="#3af8c5"/><stop offset="0.923" stop-color="#27f5d8"/><stop offset="0.932" stop-color="#1ef1e1"/><stop offset="0.950" stop-color="#0cebf3"/><stop offset="0.959" stop-color="#07e8f8"/><stop offset="1.000" stop-color="#0eebf1"/></linearGradient><linearGradient id="q80" x1="0" y1="0" x2="0" y2="1"><stop offset="0.000" stop-color="#0005bf"/><stop offset="0.223" stop-color="#0008c5"/><stop offset="0.446" stop-color="#000bcc"/><stop offset="0.554" stop-color="#000cd0"/><stop offset="0.662" stop-color="#000ed4"/><stop offset="0.671" stop-color="#000ed4"/><stop offset="0.689" stop-color="#000ed5"/><stop offset="0.707" stop-color="#000ed5"/><stop offset="0.725" stop-color="#0012de"/><stop offset="0.734" stop-color="#0016e0"/><stop offset="0.761" stop-color="#0023e6"/><stop offset="0.770" stop-color="#002bea"/><stop offset="0.779" stop-color="#005cf8"/><stop offset="0.797" stop-color="#00bdff"/><stop offset="0.806" stop-color="#00e5ff"/><stop offset="0.824" stop-color="#22f3dd"/><stop offset="0.833" stop-color="#39f8c6"/><stop offset="0.842" stop-color="#53fcac"/><stop offset="0.851" stop-color="#6cff93"/><stop offset="0.869" stop-color="#71ff8e"/><stop offset="0.878" stop-color="#73ff8c"/><stop offset="0.887" stop-color="#73ff8c"/><stop offset="0.896" stop-color="#5ffea0"/><stop offset="0.914" stop-color="#3af8c5"/><stop offset="0.923" stop-color="#27f5d8"/><stop offset="0.932" stop-color="#1ff2e0"/><stop offset="0.950" stop-color="#0eebf1"/><stop offset="0.959" stop-color="#07e9f8"/><stop offset="1.000" stop-color="#0fecf0"/></linearGradient><linearGradient id="q81" x1="0" y1="0" x2="0" y2="1"><stop offset="0.000" stop-color="#0005bf"/><stop offset="0.223" stop-color="#0008c6"/><stop offset="0.446" stop-color="#000bcc"/><stop offset="0.554" stop-color="#000cd0"/><stop offset="0.662" stop-color="#000ed4"/><stop offset="0.671" stop-color="#000ed4"/><stop offset="0.689" stop-color="#000ed5"/><stop offset="0.707" stop-color="#000ed5"/><stop offset="0.725" stop-color="#0012de"/><stop offset="0.734" stop-color="#0016e0"/><stop offset="0.761" stop-color="#0023e6"/><stop offset="0.770" stop-color="#0029e9"/><stop offset="0.779" stop-color="#0059f7"/><stop offset="0.797" stop-color="#00bbff"/><stop offset="0.806" stop-color="#00e6ff"/><stop offset="0.824" stop-color="#23f3dc"/><stop offset="0.833" stop-color="#3af8c5"/><stop offset="0.842" stop-color="#55fcaa"/><stop offset="0.851" stop-color="#6fff90"/><stop offset="0.869" stop-color="#73ff8c"/><stop offset="0.878" stop-color="#75ff8a"/><stop offset="0.887" stop-color="#75ff8a"/><stop offset="0.896" stop-color="#61ff9e"/><stop offset="0.914" stop-color="#3bf8c4"/><stop offset="0.923" stop-color="#28f5d7"/><stop offset="0.932" stop-color="#1ff2e0"/><stop offset="0.950" stop-color="#0fecf0"/><stop offset="0.959" stop-color="#08e9f7"/><stop offset="1.000" stop-color="#0fecf0"/></linearGradient><linearGradient id="q82" x1="0" y1="0" x2="0" y2="1"><stop offset="0.000" stop-color="#0005bf"/><stop offset="0.223" stop-color="#0008c6"/><stop offset="0.446" stop-color="#000bcc"/><stop offset="0.554" stop-color="#000cd0"/><stop offset="0.662" stop-color="#000ed4"/><stop offset="0.671" stop-color="#000ed4"/><stop offset="0.689" stop-color="#000ed5"/><stop offset="0.707" stop-color="#000ed5"/><stop offset="0.725" stop-color="#0012de"/><stop offset="0.734" stop-color="#0016e0"/><stop offset="0.761" stop-color="#0023e6"/><stop offset="0.770" stop-color="#0028e8"/><stop offset="0.779" stop-color="#0057f7"/><stop offset="0.797" stop-color="#00bbff"/><stop offset="0.806" stop-color="#00e6ff"/><stop offset="0.824" stop-color="#23f3dc"/><stop offset="0.833" stop-color="#3bf8c4"/><stop offset="0.842" stop-color="#55fdaa"/><stop offset="0.851" stop-color="#70ff8f"/><stop offset="0.869" stop-color="#74ff8b"/><stop offset="0.878" stop-color="#76ff89"/><stop offset="0.887" stop-color="#77ff88"/><stop offset="0.896" stop-color="#62ff9d"/><stop offset="0.914" stop-color="#3bf8c4"/><stop offset="0.923" stop-color="#28f5d7"/><stop offset="0.932" stop-color="#20f2df"/><stop offset="0.950" stop-color="#10ecef"/><stop offset="0.959" stop-color="#08e9f7"/><stop offset="1.000" stop-color="#10ecef"/></linearGradient><linearGradient id="q83" x1="0" y1="0" x2="0" y2="1"><stop offset="0.000" stop-color="#0005bf"/><stop offset="0.223" stop-color="#0008c6"/><stop offset="0.446" stop-color="#000bcc"/><stop offset="0.554" stop-color="#000cd0"/><stop offset="0.662" stop-color="#000ed4"/><stop offset="0.671" stop-color="#000ed4"/><stop offset="0.689" stop-color="#000ed5"/><stop offset="0.707" stop-color="#000ed5"/><stop offset="0.725" stop-color="#0012de"/><stop offset="0.734" stop-color="#0016e0"/><stop offset="0.761" stop-color="#0023e6"/><stop offset="0.770" stop-color="#0027e8"/><stop offset="0.779" stop-color="#0056f7"/><stop offset="0.797" stop-color="#00baff"/><stop offset="0.806" stop-color="#00e6ff"/><stop offset="0.824" stop-color="#23f3dc"/><stop offset="0.833" stop-color="#3bf8c4"/><stop offset="0.842" stop-color="#56fda9"/><stop offset="0.851" stop-color="#71ff8e"/><stop offset="0.869" stop-color="#74ff8b"/><stop offset="0.878" stop-color="#76ff89"/><stop offset="0.887" stop-color="#77ff88"/><stop offset="0.896" stop-color="#62ff9d"/><stop offset="0.914" stop-color="#3cf8c4"/><stop offset="0.923" stop-color="#28f5d7"/><stop offset="0.932" stop-color="#20f2df"/><stop offset="0.950" stop-color="#10ecef"/><stop offset="0.959" stop-color="#08e9f7"/><stop offset="1.000" stop-color="#10ecef"/></linearGradient><clipPath id="hc3"><rect x="237.00" y="58.50" width="54.50" height="112.20"/></clipPath><linearGradient id="q84" x1="0" y1="0" x2="0" y2="1"><stop offset="0.000" stop-color="#0010da"/><stop offset="0.185" stop-color="#0014df"/><stop offset="0.370" stop-color="#001ae2"/><stop offset="0.423" stop-color="#001ee4"/><stop offset="0.477" stop-color="#0022e6"/><stop offset="0.512" stop-color="#0024e7"/><stop offset="0.548" stop-color="#0027e8"/><stop offset="0.584" stop-color="#002fec"/><stop offset="0.619" stop-color="#0038f0"/><stop offset="0.655" stop-color="#004af5"/><stop offset="0.691" stop-color="#005ff8"/><stop offset="0.722" stop-color="#0078fd"/><stop offset="0.753" stop-color="#008cff"/><stop offset="0.807" stop-color="#00b4ff"/><stop offset="0.816" stop-color="#00bcff"/><stop offset="0.860" stop-color="#00e6ff"/><stop offset="0.878" stop-color="#13edec"/><stop offset="0.905" stop-color="#33f7cc"/><stop offset="0.949" stop-color="#83ff7c"/><stop offset="1.000" stop-color="#a4ff5b"/></linearGradient><linearGradient id="q85" x1="0" y1="0" x2="0" y2="1"><stop offset="0.000" stop-color="#0010da"/><stop offset="0.185" stop-color="#0014df"/><stop offset="0.370" stop-color="#001ae2"/><stop offset="0.423" stop-color="#001ee4"/><stop offset="0.477" stop-color="#0022e6"/><stop offset="0.512" stop-color="#0024e7"/><stop offset="0.548" stop-color="#0027e8"/><stop offset="0.584" stop-color="#002fec"/><stop offset="0.619" stop-color="#0038f0"/><stop offset="0.655" stop-color="#004af5"/><stop offset="0.691" stop-color="#005ff8"/><stop offset="0.722" stop-color="#0078fd"/><stop offset="0.753" stop-color="#008cff"/><stop offset="0.807" stop-color="#00b4ff"/><stop offset="0.816" stop-color="#00bcff"/><stop offset="0.860" stop-color="#00e5ff"/><stop offset="0.878" stop-color="#11edee"/><stop offset="0.905" stop-color="#2ef6d1"/><stop offset="0.949" stop-color="#7cff83"/><stop offset="1.000" stop-color="#9cff63"/></linearGradient><linearGradient id="q86" x1="0" y1="0" x2="0" y2="1"><stop offset="0.000" stop-color="#0010da"/><stop offset="0.185" stop-color="#0014df"/><stop offset="0.370" stop-color="#001ae2"/><stop offset="0.423" stop-color="#001ee4"/><stop offset="0.477" stop-color="#0022e6"/><stop offset="0.512" stop-color="#0024e7"/><stop offset="0.548" stop-color="#0027e8"/><stop offset="0.584" stop-color="#002fec"/><stop offset="0.619" stop-color="#0038f0"/><stop offset="0.655" stop-color="#004af5"/><stop offset="0.691" stop-color="#005ff8"/><stop offset="0.722" stop-color="#0078fd"/><stop offset="0.753" stop-color="#008cff"/><stop offset="0.807" stop-color="#00b4ff"/><stop offset="0.816" stop-color="#00bcff"/><stop offset="0.860" stop-color="#00e4ff"/><stop offset="0.878" stop-color="#0fecf0"/><stop offset="0.905" stop-color="#27f5d8"/><stop offset="0.949" stop-color="#6fff90"/><stop offset="1.000" stop-color="#90ff6f"/></linearGradient><linearGradient id="q87" x1="0" y1="0" x2="0" y2="1"><stop offset="0.000" stop-color="#0010da"/><stop offset="0.185" stop-color="#0014df"/><stop offset="0.370" stop-color="#001ae2"/><stop offset="0.423" stop-color="#001ee4"/><stop offset="0.477" stop-color="#0022e6"/><stop offset="0.512" stop-color="#0024e7"/><stop offset="0.548" stop-color="#0027e8"/><stop offset="0.584" stop-color="#002fec"/><stop offset="0.619" stop-color="#0038f0"/><stop offset="0.655" stop-color="#004af5"/><stop offset="0.691" stop-color="#005ff8"/><stop offset="0.722" stop-color="#0078fd"/><stop offset="0.753" stop-color="#008cff"/><stop offset="0.807" stop-color="#00b4ff"/><stop offset="0.816" stop-color="#00bcff"/><stop offset="0.860" stop-color="#00e3ff"/><stop offset="0.878" stop-color="#0ceaf3"/><stop offset="0.905" stop-color="#20f2df"/><stop offset="0.949" stop-color="#61fe9e"/><stop offset="1.000" stop-color="#81ff7e"/></linearGradient><linearGradient id="q88" x1="0" y1="0" x2="0" y2="1"><stop offset="0.000" stop-color="#0010da"/><stop offset="0.185" stop-color="#0014df"/><stop offset="0.370" stop-color="#001ae2"/><stop offset="0.423" stop-color="#001ee4"/><stop offset="0.477" stop-color="#0022e6"/><stop offset="0.512" stop-color="#0024e7"/><stop offset="0.548" stop-color="#0027e8"/><stop offset="0.584" stop-color="#002fec"/><stop offset="0.619" stop-color="#0038f0"/><stop offset="0.655" stop-color="#004af5"/><stop offset="0.691" stop-color="#005ff8"/><stop offset="0.722" stop-color="#0078fd"/><stop offset="0.753" stop-color="#008cff"/><stop offset="0.807" stop-color="#00b4ff"/><stop offset="0.816" stop-color="#00bcff"/><stop offset="0.860" stop-color="#00e2ff"/><stop offset="0.878" stop-color="#09e9f6"/><stop offset="0.905" stop-color="#1af0e5"/><stop offset="0.949" stop-color="#54fcab"/><stop offset="1.000" stop-color="#73ff8c"/></linearGradient><linearGradient id="q89" x1="0" y1="0" x2="0" y2="1"><stop offset="0.000" stop-color="#0010da"/><stop offset="0.185" stop-color="#0014df"/><stop offset="0.370" stop-color="#001ae2"/><stop offset="0.423" stop-color="#001ee4"/><stop offset="0.477" stop-color="#0022e6"/><stop offset="0.512" stop-color="#0024e7"/><stop offset="0.548" stop-color="#0027e8"/><stop offset="0.584" stop-color="#002fec"/><stop offset="0.619" stop-color="#0038f0"/><stop offset="0.655" stop-color="#004af5"/><stop offset="0.691" stop-color="#005ff8"/><stop offset="0.722" stop-color="#0078fd"/><stop offset="0.753" stop-color="#008cff"/><stop offset="0.807" stop-color="#00b4ff"/><stop offset="0.816" stop-color="#00bcff"/><stop offset="0.860" stop-color="#00e1ff"/><stop offset="0.878" stop-color="#06e8f9"/><stop offset="0.905" stop-color="#16eee9"/><stop offset="0.949" stop-color="#4afbb5"/><stop offset="1.000" stop-color="#68ff97"/></linearGradient><linearGradient id="q90" x1="0" y1="0" x2="0" y2="1"><stop offset="0.000" stop-color="#0010da"/><stop offset="0.185" stop-color="#0014df"/><stop offset="0.370" stop-color="#001ae2"/><stop offset="0.423" stop-color="#001ee4"/><stop offset="0.477" stop-color="#0022e6"/><stop offset="0.512" stop-color="#0024e7"/><stop offset="0.548" stop-color="#0027e8"/><stop offset="0.584" stop-color="#002fec"/><stop offset="0.619" stop-color="#0038f0"/><stop offset="0.655" stop-color="#004af5"/><stop offset="0.691" stop-color="#005ff8"/><stop offset="0.722" stop-color="#0078fd"/><stop offset="0.753" stop-color="#008cff"/><stop offset="0.807" stop-color="#00b4ff"/><stop offset="0.816" stop-color="#00bcff"/><stop offset="0.860" stop-color="#00e1ff"/><stop offset="0.878" stop-color="#06e8f9"/><stop offset="0.905" stop-color="#14eeeb"/><stop offset="0.949" stop-color="#46fab9"/><stop offset="1.000" stop-color="#64ff9b"/></linearGradient><linearGradient id="q91" x1="0" y1="0" x2="0" y2="1"><stop offset="0.000" stop-color="#0010da"/><stop offset="0.185" stop-color="#0014df"/><stop offset="0.370" stop-color="#001ae2"/><stop offset="0.423" stop-color="#001ee4"/><stop offset="0.477" stop-color="#0022e6"/><stop offset="0.512" stop-color="#0025e7"/><stop offset="0.548" stop-color="#0027e8"/><stop offset="0.584" stop-color="#0030ec"/><stop offset="0.619" stop-color="#0038f0"/><stop offset="0.655" stop-color="#004af5"/><stop offset="0.691" stop-color="#005ff9"/><stop offset="0.722" stop-color="#0078fd"/><stop offset="0.753" stop-color="#008cff"/><stop offset="0.807" stop-color="#00b4ff"/><stop offset="0.816" stop-color="#00bbff"/><stop offset="0.860" stop-color="#00e0ff"/><stop offset="0.878" stop-color="#05e8fa"/><stop offset="0.905" stop-color="#13edec"/><stop offset="0.949" stop-color="#41f9be"/><stop offset="1.000" stop-color="#5dfea2"/></linearGradient><linearGradient id="q92" x1="0" y1="0" x2="0" y2="1"><stop offset="0.000" stop-color="#0010da"/><stop offset="0.185" stop-color="#0014df"/><stop offset="0.370" stop-color="#001ae2"/><stop offset="0.423" stop-color="#001ee4"/><stop offset="0.477" stop-color="#0022e6"/><stop offset="0.512" stop-color="#0025e7"/><stop offset="0.548" stop-color="#0028e8"/><stop offset="0.584" stop-color="#0030ec"/><stop offset="0.619" stop-color="#0039f0"/><stop offset="0.655" stop-color="#004bf5"/><stop offset="0.691" stop-color="#0060f9"/><stop offset="0.722" stop-color="#0079fd"/><stop offset="0.753" stop-color="#008dff"/><stop offset="0.807" stop-color="#00b4ff"/><stop offset="0.816" stop-color="#00bbff"/><stop offset="0.860" stop-color="#00dfff"/><stop offset="0.878" stop-color="#03e7fc"/><stop offset="0.905" stop-color="#10ecef"/><stop offset="0.949" stop-color="#34f7cb"/><stop offset="1.000" stop-color="#4cfbb3"/></linearGradient><linearGradient id="q93" x1="0" y1="0" x2="0" y2="1"><stop offset="0.000" stop-color="#0010da"/><stop offset="0.185" stop-color="#0014df"/><stop offset="0.370" stop-color="#001ae2"/><stop offset="0.423" stop-color="#001fe4"/><stop offset="0.477" stop-color="#0023e6"/><stop offset="0.512" stop-color="#0026e7"/><stop offset="0.548" stop-color="#0029e9"/><stop offset="0.584" stop-color="#0031ed"/><stop offset="0.619" stop-color="#0039f1"/><stop offset="0.655" stop-color="#004df5"/><stop offset="0.691" stop-color="#0062f9"/><stop offset="0.722" stop-color="#007afe"/><stop offset="0.753" stop-color="#008eff"/><stop offset="0.807" stop-color="#00b4ff"/><stop offset="0.816" stop-color="#00bbff"/><stop offset="0.860" stop-color="#00ddff"/><stop offset="0.878" stop-color="#01e6fe"/><stop offset="0.905" stop-color="#0cebf3"/><stop offset="0.949" stop-color="#24f4db"/><stop offset="1.000" stop-color="#35f7ca"/></linearGradient><linearGradient id="q94" x1="0" y1="0" x2="0" y2="1"><stop offset="0.000" stop-color="#0010da"/><stop offset="0.185" stop-color="#0014df"/><stop offset="0.370" stop-color="#001ae2"/><stop offset="0.423" stop-color="#001fe4"/><stop offset="0.477" stop-color="#0023e6"/><stop offset="0.512" stop-color="#0027e8"/><stop offset="0.548" stop-color="#002ae9"/><stop offset="0.584" stop-color="#0032ed"/><stop offset="0.619" stop-color="#003af1"/><stop offset="0.655" stop-color="#004ef5"/><stop offset="0.691" stop-color="#0063f9"/><stop offset="0.722" stop-color="#007cfe"/><stop offset="0.753" stop-color="#008fff"/><stop offset="0.807" stop-color="#00b4ff"/><stop offset="0.816" stop-color="#00baff"/><stop offset="0.860" stop-color="#00dbff"/><stop offset="0.878" stop-color="#00e3ff"/><stop offset="0.905" stop-color="#08e9f7"/><stop offset="0.949" stop-color="#18efe7"/><stop offset="1.000" stop-color="#1ff2e0"/></linearGradient><linearGradient id="q95" x1="0" y1="0" x2="0" y2="1"><stop offset="0.000" stop-color="#0010da"/><stop offset="0.185" stop-color="#0014df"/><stop offset="0.370" stop-color="#001ae2"/><stop offset="0.423" stop-color="#001fe4"/><stop offset="0.477" stop-color="#0024e7"/><stop offset="0.512" stop-color="#0027e8"/><stop offset="0.548" stop-color="#002aea"/><stop offset="0.584" stop-color="#0033ee"/><stop offset="0.619" stop-color="#003bf2"/><stop offset="0.655" stop-color="#0050f6"/><stop offset="0.691" stop-color="#0065fa"/><stop offset="0.722" stop-color="#007dfe"/><stop offset="0.753" stop-color="#0090ff"/><stop offset="0.807" stop-color="#00b4ff"/><stop offset="0.816" stop-color="#00baff"/><stop offset="0.860" stop-color="#00d9ff"/><stop offset="0.878" stop-color="#00e0ff"/><stop offset="0.905" stop-color="#04e7fb"/><stop offset="0.949" stop-color="#0ceaf3"/><stop offset="1.000" stop-color="#10ecef"/></linearGradient><linearGradient id="q96" x1="0" y1="0" x2="0" y2="1"><stop offset="0.000" stop-color="#0010da"/><stop offset="0.185" stop-color="#0014df"/><stop offset="0.370" stop-color="#001ae2"/><stop offset="0.423" stop-color="#001fe4"/><stop offset="0.477" stop-color="#0024e7"/><stop offset="0.512" stop-color="#0028e8"/><stop offset="0.548" stop-color="#002bea"/><stop offset="0.584" stop-color="#0033ee"/><stop offset="0.619" stop-color="#003cf2"/><stop offset="0.655" stop-color="#0051f6"/><stop offset="0.691" stop-color="#0066fa"/><stop offset="0.722" stop-color="#007efe"/><stop offset="0.753" stop-color="#0091ff"/><stop offset="0.807" stop-color="#00b4ff"/><stop offset="0.816" stop-color="#00baff"/><stop offset="0.860" stop-color="#00d8ff"/><stop offset="0.878" stop-color="#00deff"/><stop offset="0.905" stop-color="#01e6fe"/><stop offset="0.949" stop-color="#03e7fc"/><stop offset="1.000" stop-color="#04e8fb"/></linearGradient><linearGradient id="q97" x1="0" y1="0" x2="0" y2="1"><stop offset="0.000" stop-color="#0010da"/><stop offset="0.185" stop-color="#0014df"/><stop offset="0.370" stop-color="#001ae2"/><stop offset="0.423" stop-color="#001fe4"/><stop offset="0.477" stop-color="#0024e7"/><stop offset="0.512" stop-color="#0028e8"/><stop offset="0.548" stop-color="#002bea"/><stop offset="0.584" stop-color="#0034ee"/><stop offset="0.619" stop-color="#003cf2"/><stop offset="0.655" stop-color="#0051f6"/><stop offset="0.691" stop-color="#0066fa"/><stop offset="0.722" stop-color="#007ffe"/><stop offset="0.753" stop-color="#0091ff"/><stop offset="0.807" stop-color="#00b4ff"/><stop offset="0.816" stop-color="#00baff"/><stop offset="0.860" stop-color="#00d7ff"/><stop offset="0.878" stop-color="#00ddff"/><stop offset="0.905" stop-color="#00e6ff"/><stop offset="1.000" stop-color="#00e6ff"/></linearGradient><linearGradient id="q98" x1="0" y1="0" x2="0" y2="1"><stop offset="0.000" stop-color="#0010da"/><stop offset="0.185" stop-color="#0014df"/><stop offset="0.370" stop-color="#001ae2"/><stop offset="0.423" stop-color="#0020e4"/><stop offset="0.477" stop-color="#0025e7"/><stop offset="0.512" stop-color="#0028e9"/><stop offset="0.548" stop-color="#002cea"/><stop offset="0.584" stop-color="#0034ee"/><stop offset="0.619" stop-color="#003cf2"/><stop offset="0.655" stop-color="#0051f6"/><stop offset="0.691" stop-color="#0066fa"/><stop offset="0.722" stop-color="#007ffe"/><stop offset="0.753" stop-color="#0091ff"/><stop offset="0.807" stop-color="#00b4ff"/><stop offset="0.816" stop-color="#00baff"/><stop offset="0.860" stop-color="#00d7ff"/><stop offset="0.878" stop-color="#00ddff"/><stop offset="0.905" stop-color="#00e6ff"/><stop offset="1.000" stop-color="#00e6ff"/></linearGradient><linearGradient id="q99" x1="0" y1="0" x2="0" y2="1"><stop offset="0.000" stop-color="#0010da"/><stop offset="0.185" stop-color="#0014df"/><stop offset="0.370" stop-color="#001be2"/><stop offset="0.423" stop-color="#0020e5"/><stop offset="0.477" stop-color="#0025e7"/><stop offset="0.512" stop-color="#0029e9"/><stop offset="0.548" stop-color="#002ceb"/><stop offset="0.584" stop-color="#0034ee"/><stop offset="0.619" stop-color="#003cf2"/><stop offset="0.655" stop-color="#0051f6"/><stop offset="0.691" stop-color="#0066fa"/><stop offset="0.722" stop-color="#007ffe"/><stop offset="0.753" stop-color="#0091ff"/><stop offset="0.807" stop-color="#00b4ff"/><stop offset="0.816" stop-color="#00baff"/><stop offset="0.860" stop-color="#00d7ff"/><stop offset="0.878" stop-color="#00ddff"/><stop offset="0.905" stop-color="#00e6ff"/><stop offset="1.000" stop-color="#00e6ff"/></linearGradient><linearGradient id="q100" x1="0" y1="0" x2="0" y2="1"><stop offset="0.000" stop-color="#0010da"/><stop offset="0.185" stop-color="#0014df"/><stop offset="0.370" stop-color="#001be2"/><stop offset="0.423" stop-color="#0021e5"/><stop offset="0.477" stop-color="#0026e8"/><stop offset="0.512" stop-color="#002ae9"/><stop offset="0.548" stop-color="#002eeb"/><stop offset="0.584" stop-color="#0035ef"/><stop offset="0.619" stop-color="#003df2"/><stop offset="0.655" stop-color="#0051f6"/><stop offset="0.691" stop-color="#0066fa"/><stop offset="0.722" stop-color="#007ffe"/><stop offset="0.753" stop-color="#0092ff"/><stop offset="0.807" stop-color="#00b4ff"/><stop offset="0.816" stop-color="#00baff"/><stop offset="0.860" stop-color="#00d6ff"/><stop offset="0.878" stop-color="#00ddff"/><stop offset="0.905" stop-color="#00e5ff"/><stop offset="0.949" stop-color="#00e5ff"/><stop offset="1.000" stop-color="#00e6ff"/></linearGradient><linearGradient id="q101" x1="0" y1="0" x2="0" y2="1"><stop offset="0.000" stop-color="#0010da"/><stop offset="0.185" stop-color="#0015df"/><stop offset="0.370" stop-color="#001be2"/><stop offset="0.423" stop-color="#0021e5"/><stop offset="0.477" stop-color="#0028e8"/><stop offset="0.512" stop-color="#002cea"/><stop offset="0.548" stop-color="#002fec"/><stop offset="0.584" stop-color="#0036ef"/><stop offset="0.619" stop-color="#003df2"/><stop offset="0.655" stop-color="#0052f6"/><stop offset="0.691" stop-color="#0066fa"/><stop offset="0.722" stop-color="#007ffe"/><stop offset="0.753" stop-color="#0092ff"/><stop offset="0.807" stop-color="#00b4ff"/><stop offset="0.816" stop-color="#00baff"/><stop offset="0.860" stop-color="#00d6ff"/><stop offset="0.878" stop-color="#00ddff"/><stop offset="0.905" stop-color="#00e4ff"/><stop offset="0.949" stop-color="#00e5ff"/><stop offset="1.000" stop-color="#00e6ff"/></linearGradient><linearGradient id="q102" x1="0" y1="0" x2="0" y2="1"><stop offset="0.000" stop-color="#0010da"/><stop offset="0.185" stop-color="#0015df"/><stop offset="0.370" stop-color="#001ce3"/><stop offset="0.423" stop-color="#0022e6"/><stop offset="0.477" stop-color="#0029e9"/><stop offset="0.512" stop-color="#002deb"/><stop offset="0.548" stop-color="#0032ed"/><stop offset="0.584" stop-color="#0037f0"/><stop offset="0.619" stop-color="#003ef2"/><stop offset="0.655" stop-color="#0052f6"/><stop offset="0.691" stop-color="#0066fa"/><stop offset="0.722" stop-color="#0080ff"/><stop offset="0.753" stop-color="#0093ff"/><stop offset="0.807" stop-color="#00b4ff"/><stop offset="0.816" stop-color="#00baff"/><stop offset="0.860" stop-color="#00d5ff"/><stop offset="0.878" stop-color="#00ddff"/><stop offset="0.905" stop-color="#00e4ff"/><stop offset="0.949" stop-color="#00e5ff"/><stop offset="1.000" stop-color="#00e6ff"/></linearGradient><linearGradient id="q103" x1="0" y1="0" x2="0" y2="1"><stop offset="0.000" stop-color="#0010da"/><stop offset="0.185" stop-color="#0015df"/><stop offset="0.370" stop-color="#001ce3"/><stop offset="0.423" stop-color="#0023e6"/><stop offset="0.477" stop-color="#002bea"/><stop offset="0.512" stop-color="#002fec"/><stop offset="0.548" stop-color="#0034ee"/><stop offset="0.584" stop-color="#0039f0"/><stop offset="0.619" stop-color="#003ff3"/><stop offset="0.655" stop-color="#0052f6"/><stop offset="0.691" stop-color="#0066fa"/><stop offset="0.722" stop-color="#0080ff"/><stop offset="0.753" stop-color="#0093ff"/><stop offset="0.807" stop-color="#00b4ff"/><stop offset="0.816" stop-color="#00b9ff"/><stop offset="0.860" stop-color="#00d5ff"/><stop offset="0.878" stop-color="#00ddff"/><stop offset="0.905" stop-color="#00e3ff"/><stop offset="0.949" stop-color="#00e4ff"/><stop offset="1.000" stop-color="#00e6ff"/></linearGradient><linearGradient id="q104" x1="0" y1="0" x2="0" y2="1"><stop offset="0.000" stop-color="#0010da"/><stop offset="0.185" stop-color="#0015e0"/><stop offset="0.370" stop-color="#001de3"/><stop offset="0.423" stop-color="#0024e7"/><stop offset="0.477" stop-color="#002cea"/><stop offset="0.512" stop-color="#0031ed"/><stop offset="0.548" stop-color="#0036ef"/><stop offset="0.584" stop-color="#003af1"/><stop offset="0.619" stop-color="#0040f3"/><stop offset="0.655" stop-color="#0053f6"/><stop offset="0.691" stop-color="#0066fa"/><stop offset="0.722" stop-color="#0080ff"/><stop offset="0.753" stop-color="#0094ff"/><stop offset="0.807" stop-color="#00b4ff"/><stop offset="0.816" stop-color="#00b9ff"/><stop offset="0.860" stop-color="#00d4ff"/><stop offset="0.878" stop-color="#00dcff"/><stop offset="0.905" stop-color="#00e2ff"/><stop offset="0.949" stop-color="#00e4ff"/><stop offset="1.000" stop-color="#00e6ff"/></linearGradient><linearGradient id="q105" x1="0" y1="0" x2="0" y2="1"><stop offset="0.000" stop-color="#0010da"/><stop offset="0.185" stop-color="#0015e0"/><stop offset="0.370" stop-color="#001de3"/><stop offset="0.423" stop-color="#0025e7"/><stop offset="0.477" stop-color="#002eeb"/><stop offset="0.512" stop-color="#0033ee"/><stop offset="0.548" stop-color="#0038f0"/><stop offset="0.584" stop-color="#003bf2"/><stop offset="0.619" stop-color="#0040f3"/><stop offset="0.655" stop-color="#0053f6"/><stop offset="0.691" stop-color="#0066fa"/><stop offset="0.722" stop-color="#0081ff"/><stop offset="0.753" stop-color="#0094ff"/><stop offset="0.807" stop-color="#00b4ff"/><stop offset="0.816" stop-color="#00b9ff"/><stop offset="0.860" stop-color="#00d4ff"/><stop offset="0.878" stop-color="#00dcff"/><stop offset="0.905" stop-color="#00e1ff"/><stop offset="0.949" stop-color="#00e3ff"/><stop offset="1.000" stop-color="#00e6ff"/></linearGradient><linearGradient id="q106" x1="0" y1="0" x2="0" y2="1"><stop offset="0.000" stop-color="#0010da"/><stop offset="0.185" stop-color="#0016e0"/><stop offset="0.370" stop-color="#001de3"/><stop offset="0.423" stop-color="#0026e8"/><stop offset="0.477" stop-color="#002fec"/><stop offset="0.512" stop-color="#0035ef"/><stop offset="0.548" stop-color="#003af1"/><stop offset="0.584" stop-color="#003df2"/><stop offset="0.619" stop-color="#0041f3"/><stop offset="0.655" stop-color="#0054f6"/><stop offset="0.691" stop-color="#0066fa"/><stop offset="0.722" stop-color="#0081ff"/><stop offset="0.753" stop-color="#0095ff"/><stop offset="0.807" stop-color="#00b4ff"/><stop offset="0.816" stop-color="#00b9ff"/><stop offset="0.860" stop-color="#00d3ff"/><stop offset="0.878" stop-color="#00dcff"/><stop offset="0.905" stop-color="#00e0ff"/><stop offset="0.949" stop-color="#00e3ff"/><stop offset="1.000" stop-color="#00e6ff"/></linearGradient><linearGradient id="q107" x1="0" y1="0" x2="0" y2="1"><stop offset="0.000" stop-color="#0010da"/><stop offset="0.185" stop-color="#0016e0"/><stop offset="0.370" stop-color="#001ee4"/><stop offset="0.423" stop-color="#0027e8"/><stop offset="0.477" stop-color="#0031ed"/><stop offset="0.512" stop-color="#0037ef"/><stop offset="0.548" stop-color="#003df2"/><stop offset="0.584" stop-color="#003ff3"/><stop offset="0.619" stop-color="#0042f3"/><stop offset="0.655" stop-color="#0054f6"/><stop offset="0.691" stop-color="#0066fa"/><stop offset="0.722" stop-color="#0081ff"/><stop offset="0.753" stop-color="#0095ff"/><stop offset="0.807" stop-color="#00b4ff"/><stop offset="0.816" stop-color="#00b9ff"/><stop offset="0.860" stop-color="#00d3ff"/><stop offset="0.878" stop-color="#00dcff"/><stop offset="0.905" stop-color="#00e0ff"/><stop offset="0.949" stop-color="#00e3ff"/><stop offset="1.000" stop-color="#00e6ff"/></linearGradient><linearGradient id="q108" x1="0" y1="0" x2="0" y2="1"><stop offset="0.000" stop-color="#0010da"/><stop offset="0.185" stop-color="#0016e0"/><stop offset="0.370" stop-color="#001ee4"/><stop offset="0.423" stop-color="#0028e9"/><stop offset="0.477" stop-color="#0032ed"/><stop offset="0.512" stop-color="#0038f0"/><stop offset="0.548" stop-color="#003ff3"/><stop offset="0.584" stop-color="#0041f3"/><stop offset="0.619" stop-color="#0042f3"/><stop offset="0.655" stop-color="#0054f6"/><stop offset="0.691" stop-color="#0066fa"/><stop offset="0.722" stop-color="#0082ff"/><stop offset="0.753" stop-color="#0095ff"/><stop offset="0.807" stop-color="#00b4ff"/><stop offset="0.816" stop-color="#00b9ff"/><stop offset="0.860" stop-color="#00d3ff"/><stop offset="0.878" stop-color="#00dcff"/><stop offset="0.905" stop-color="#00dfff"/><stop offset="0.949" stop-color="#00e2ff"/><stop offset="1.000" stop-color="#00e6ff"/></linearGradient><linearGradient id="q109" x1="0" y1="0" x2="0" y2="1"><stop offset="0.000" stop-color="#0010da"/><stop offset="0.185" stop-color="#0016e0"/><stop offset="0.370" stop-color="#001ee4"/><stop offset="0.423" stop-color="#0029e9"/><stop offset="0.477" stop-color="#0033ee"/><stop offset="0.512" stop-color="#0039f1"/><stop offset="0.548" stop-color="#0041f3"/><stop offset="0.584" stop-color="#0042f3"/><stop offset="0.619" stop-color="#0043f3"/><stop offset="0.655" stop-color="#0054f7"/><stop offset="0.691" stop-color="#0066fa"/><stop offset="0.722" stop-color="#0082ff"/><stop offset="0.753" stop-color="#0096ff"/><stop offset="0.807" stop-color="#00b4ff"/><stop offset="0.816" stop-color="#00b9ff"/><stop offset="0.860" stop-color="#00d2ff"/><stop offset="0.878" stop-color="#00dcff"/><stop offset="0.905" stop-color="#00dfff"/><stop offset="0.949" stop-color="#00e2ff"/><stop offset="1.000" stop-color="#00e6ff"/></linearGradient><linearGradient id="q110" x1="0" y1="0" x2="0" y2="1"><stop offset="0.000" stop-color="#0010da"/><stop offset="0.185" stop-color="#0016e0"/><stop offset="0.370" stop-color="#001fe4"/><stop offset="0.423" stop-color="#0029e9"/><stop offset="0.477" stop-color="#0033ee"/><stop offset="0.512" stop-color="#003af1"/><stop offset="0.548" stop-color="#0043f3"/><stop offset="0.619" stop-color="#0043f3"/><stop offset="0.655" stop-color="#0054f7"/><stop offset="0.691" stop-color="#0066fa"/><stop offset="0.722" stop-color="#0082ff"/><stop offset="0.753" stop-color="#0096ff"/><stop offset="0.807" stop-color="#00b4ff"/><stop offset="0.816" stop-color="#00b9ff"/><stop offset="0.860" stop-color="#00d2ff"/><stop offset="0.878" stop-color="#00dcff"/><stop offset="0.905" stop-color="#00deff"/><stop offset="0.949" stop-color="#00e2ff"/><stop offset="1.000" stop-color="#00e6ff"/></linearGradient><linearGradient id="q111" x1="0" y1="0" x2="0" y2="1"><stop offset="0.000" stop-color="#0010da"/><stop offset="0.185" stop-color="#0016e0"/><stop offset="0.370" stop-color="#001fe4"/><stop offset="0.423" stop-color="#0029e9"/><stop offset="0.477" stop-color="#0034ee"/><stop offset="0.512" stop-color="#003af1"/><stop offset="0.548" stop-color="#0043f3"/><stop offset="0.619" stop-color="#0043f3"/><stop offset="0.655" stop-color="#0054f7"/><stop offset="0.691" stop-color="#0066fa"/><stop offset="0.722" stop-color="#0082ff"/><stop offset="0.753" stop-color="#0096ff"/><stop offset="0.807" stop-color="#00b4ff"/><stop offset="0.816" stop-color="#00b9ff"/><stop offset="0.860" stop-color="#00d2ff"/><stop offset="0.878" stop-color="#00dcff"/><stop offset="0.905" stop-color="#00deff"/><stop offset="0.949" stop-color="#00e2ff"/><stop offset="1.000" stop-color="#00e6ff"/></linearGradient><clipPath id="hc4"><rect x="302.50" y="59.00" width="106.60" height="112.00"/></clipPath><linearGradient id="q112" x1="0" y1="0" x2="0" y2="1"><stop offset="0.000" stop-color="#0005bf"/><stop offset="0.049" stop-color="#0006c0"/><stop offset="0.098" stop-color="#0006c0"/><stop offset="0.152" stop-color="#0006c1"/><stop offset="0.205" stop-color="#0006c2"/><stop offset="0.263" stop-color="#0007c2"/><stop offset="0.321" stop-color="#0007c3"/><stop offset="0.366" stop-color="#0007c4"/><stop offset="0.411" stop-color="#0008c7"/><stop offset="0.513" stop-color="#000bce"/><stop offset="0.616" stop-color="#000ed5"/><stop offset="0.643" stop-color="#001ae2"/><stop offset="0.661" stop-color="#0034ee"/><stop offset="0.670" stop-color="#005ef8"/><stop offset="0.683" stop-color="#009bff"/><stop offset="0.696" stop-color="#00c8ff"/><stop offset="0.705" stop-color="#00e6ff"/><stop offset="0.732" stop-color="#03e7fc"/><stop offset="0.741" stop-color="#04e8fb"/><stop offset="0.777" stop-color="#00d2ff"/><stop offset="0.812" stop-color="#00b4ff"/><stop offset="0.857" stop-color="#00a5ff"/><stop offset="0.884" stop-color="#0093ff"/><stop offset="0.902" stop-color="#0087ff"/><stop offset="0.938" stop-color="#00aaff"/><stop offset="0.973" stop-color="#00c8ff"/><stop offset="1.000" stop-color="#00d2ff"/></linearGradient><linearGradient id="q113" x1="0" y1="0" x2="0" y2="1"><stop offset="0.000" stop-color="#0005bf"/><stop offset="0.049" stop-color="#0006c0"/><stop offset="0.098" stop-color="#0006c0"/><stop offset="0.152" stop-color="#0006c1"/><stop offset="0.205" stop-color="#0006c2"/><stop offset="0.263" stop-color="#0007c2"/><stop offset="0.321" stop-color="#0007c3"/><stop offset="0.366" stop-color="#0007c4"/><stop offset="0.411" stop-color="#0008c7"/><stop offset="0.513" stop-color="#000bce"/><stop offset="0.616" stop-color="#000ed5"/><stop offset="0.643" stop-color="#001ae2"/><stop offset="0.661" stop-color="#0034ee"/><stop offset="0.670" stop-color="#005ef8"/><stop offset="0.683" stop-color="#009bff"/><stop offset="0.696" stop-color="#00c8ff"/><stop offset="0.705" stop-color="#00e6ff"/><stop offset="0.732" stop-color="#03e7fc"/><stop offset="0.741" stop-color="#04e8fb"/><stop offset="0.777" stop-color="#00d2ff"/><stop offset="0.812" stop-color="#00b4ff"/><stop offset="0.857" stop-color="#00a5ff"/><stop offset="0.884" stop-color="#0093ff"/><stop offset="0.902" stop-color="#0087ff"/><stop offset="0.938" stop-color="#00aaff"/><stop offset="0.973" stop-color="#00c8ff"/><stop offset="1.000" stop-color="#00d2ff"/></linearGradient><linearGradient id="q114" x1="0" y1="0" x2="0" y2="1"><stop offset="0.000" stop-color="#0005bf"/><stop offset="0.049" stop-color="#0006c0"/><stop offset="0.098" stop-color="#0006c0"/><stop offset="0.152" stop-color="#0006c1"/><stop offset="0.205" stop-color="#0006c2"/><stop offset="0.263" stop-color="#0007c2"/><stop offset="0.321" stop-color="#0007c3"/><stop offset="0.366" stop-color="#0007c4"/><stop offset="0.411" stop-color="#0008c7"/><stop offset="0.513" stop-color="#000bce"/><stop offset="0.616" stop-color="#000ed5"/><stop offset="0.643" stop-color="#001ae2"/><stop offset="0.661" stop-color="#0034ee"/><stop offset="0.670" stop-color="#005ef8"/><stop offset="0.683" stop-color="#009bff"/><stop offset="0.696" stop-color="#00c8ff"/><stop offset="0.705" stop-color="#00e6ff"/><stop offset="0.732" stop-color="#03e7fc"/><stop offset="0.741" stop-color="#04e8fb"/><stop offset="0.777" stop-color="#00d2ff"/><stop offset="0.812" stop-color="#00b4ff"/><stop offset="0.857" stop-color="#00a5ff"/><stop offset="0.884" stop-color="#0093ff"/><stop offset="0.902" stop-color="#0087ff"/><stop offset="0.938" stop-color="#00aaff"/><stop offset="0.973" stop-color="#00c8ff"/><stop offset="1.000" stop-color="#00d2ff"/></linearGradient><linearGradient id="q115" x1="0" y1="0" x2="0" y2="1"><stop offset="0.000" stop-color="#0005bf"/><stop offset="0.049" stop-color="#0006c0"/><stop offset="0.098" stop-color="#0006c0"/><stop offset="0.152" stop-color="#0006c1"/><stop offset="0.205" stop-color="#0006c2"/><stop offset="0.263" stop-color="#0007c2"/><stop offset="0.321" stop-color="#0007c3"/><stop offset="0.366" stop-color="#0007c4"/><stop offset="0.411" stop-color="#0008c7"/><stop offset="0.513" stop-color="#000bce"/><stop offset="0.616" stop-color="#000ed5"/><stop offset="0.643" stop-color="#001ae2"/><stop offset="0.661" stop-color="#0034ee"/><stop offset="0.670" stop-color="#005ef8"/><stop offset="0.683" stop-color="#009bff"/><stop offset="0.696" stop-color="#00c8ff"/><stop offset="0.705" stop-color="#00e6ff"/><stop offset="0.732" stop-color="#03e7fc"/><stop offset="0.741" stop-color="#04e8fb"/><stop offset="0.777" stop-color="#00d2ff"/><stop offset="0.812" stop-color="#00b4ff"/><stop offset="0.857" stop-color="#00a5ff"/><stop offset="0.884" stop-color="#0093ff"/><stop offset="0.902" stop-color="#0088ff"/><stop offset="0.938" stop-color="#00aaff"/><stop offset="0.973" stop-color="#00c8ff"/><stop offset="1.000" stop-color="#00d2ff"/></linearGradient><linearGradient id="q116" x1="0" y1="0" x2="0" y2="1"><stop offset="0.000" stop-color="#0005bf"/><stop offset="0.049" stop-color="#0006c0"/><stop offset="0.098" stop-color="#0006c0"/><stop offset="0.152" stop-color="#0006c1"/><stop offset="0.205" stop-color="#0006c2"/><stop offset="0.263" stop-color="#0007c2"/><stop offset="0.321" stop-color="#0007c3"/><stop offset="0.366" stop-color="#0007c4"/><stop offset="0.411" stop-color="#0008c7"/><stop offset="0.513" stop-color="#000bce"/><stop offset="0.616" stop-color="#000ed5"/><stop offset="0.643" stop-color="#001ae2"/><stop offset="0.661" stop-color="#0034ee"/><stop offset="0.670" stop-color="#005ef8"/><stop offset="0.683" stop-color="#009bff"/><stop offset="0.696" stop-color="#00c8ff"/><stop offset="0.705" stop-color="#00e6ff"/><stop offset="0.732" stop-color="#03e7fc"/><stop offset="0.741" stop-color="#04e8fb"/><stop offset="0.777" stop-color="#00d2ff"/><stop offset="0.812" stop-color="#00b4ff"/><stop offset="0.857" stop-color="#00a5ff"/><stop offset="0.884" stop-color="#0094ff"/><stop offset="0.902" stop-color="#0088ff"/><stop offset="0.938" stop-color="#00aaff"/><stop offset="0.973" stop-color="#00c8ff"/><stop offset="1.000" stop-color="#00d2ff"/></linearGradient><linearGradient id="q117" x1="0" y1="0" x2="0" y2="1"><stop offset="0.000" stop-color="#0005bf"/><stop offset="0.049" stop-color="#0006c0"/><stop offset="0.098" stop-color="#0006c0"/><stop offset="0.152" stop-color="#0006c1"/><stop offset="0.205" stop-color="#0006c2"/><stop offset="0.263" stop-color="#0007c2"/><stop offset="0.321" stop-color="#0007c3"/><stop offset="0.366" stop-color="#0007c4"/><stop offset="0.411" stop-color="#0008c7"/><stop offset="0.513" stop-color="#000bce"/><stop offset="0.616" stop-color="#000ed5"/><stop offset="0.643" stop-color="#001ae2"/><stop offset="0.661" stop-color="#0034ee"/><stop offset="0.670" stop-color="#005ef8"/><stop offset="0.683" stop-color="#009bff"/><stop offset="0.696" stop-color="#00c8ff"/><stop offset="0.705" stop-color="#00e6ff"/><stop offset="0.732" stop-color="#03e7fc"/><stop offset="0.741" stop-color="#04e8fb"/><stop offset="0.777" stop-color="#00d3ff"/><stop offset="0.812" stop-color="#00b4ff"/><stop offset="0.857" stop-color="#00a6ff"/><stop offset="0.884" stop-color="#0094ff"/><stop offset="0.902" stop-color="#0089ff"/><stop offset="0.938" stop-color="#00abff"/><stop offset="0.973" stop-color="#00c7ff"/><stop offset="1.000" stop-color="#00d1ff"/></linearGradient><linearGradient id="q118" x1="0" y1="0" x2="0" y2="1"><stop offset="0.000" stop-color="#0005bf"/><stop offset="0.049" stop-color="#0006c0"/><stop offset="0.098" stop-color="#0006c0"/><stop offset="0.152" stop-color="#0006c1"/><stop offset="0.205" stop-color="#0006c2"/><stop offset="0.263" stop-color="#0007c2"/><stop offset="0.321" stop-color="#0007c3"/><stop offset="0.366" stop-color="#0007c4"/><stop offset="0.411" stop-color="#0008c7"/><stop offset="0.513" stop-color="#000bce"/><stop offset="0.616" stop-color="#000ed5"/><stop offset="0.643" stop-color="#001ae2"/><stop offset="0.661" stop-color="#0034ee"/><stop offset="0.670" stop-color="#005ef8"/><stop offset="0.683" stop-color="#009bff"/><stop offset="0.696" stop-color="#00c8ff"/><stop offset="0.705" stop-color="#00e6ff"/><stop offset="0.732" stop-color="#03e7fc"/><stop offset="0.741" stop-color="#05e8fa"/><stop offset="0.777" stop-color="#00d3ff"/><stop offset="0.812" stop-color="#00b4ff"/><stop offset="0.857" stop-color="#00a6ff"/><stop offset="0.884" stop-color="#0095ff"/><stop offset="0.902" stop-color="#0089ff"/><stop offset="0.938" stop-color="#00abff"/><stop offset="0.973" stop-color="#00c7ff"/><stop offset="1.000" stop-color="#00d1ff"/></linearGradient><linearGradient id="q119" x1="0" y1="0" x2="0" y2="1"><stop offset="0.000" stop-color="#0005bf"/><stop offset="0.049" stop-color="#0006c0"/><stop offset="0.098" stop-color="#0006c0"/><stop offset="0.152" stop-color="#0006c1"/><stop offset="0.205" stop-color="#0006c2"/><stop offset="0.263" stop-color="#0007c2"/><stop offset="0.321" stop-color="#0007c3"/><stop offset="0.366" stop-color="#0007c4"/><stop offset="0.411" stop-color="#0008c7"/><stop offset="0.513" stop-color="#000bce"/><stop offset="0.616" stop-color="#000ed5"/><stop offset="0.643" stop-color="#001ae2"/><stop offset="0.661" stop-color="#0034ee"/><stop offset="0.670" stop-color="#005ef8"/><stop offset="0.683" stop-color="#009bff"/><stop offset="0.696" stop-color="#00c8ff"/><stop offset="0.705" stop-color="#00e6ff"/><stop offset="0.732" stop-color="#04e7fb"/><stop offset="0.741" stop-color="#05e8fa"/><stop offset="0.777" stop-color="#00d3ff"/><stop offset="0.812" stop-color="#00b4ff"/><stop offset="0.857" stop-color="#00a6ff"/><stop offset="0.884" stop-color="#0095ff"/><stop offset="0.902" stop-color="#008aff"/><stop offset="0.938" stop-color="#00abff"/><stop offset="0.973" stop-color="#00c7ff"/><stop offset="1.000" stop-color="#00d1ff"/></linearGradient><linearGradient id="q120" x1="0" y1="0" x2="0" y2="1"><stop offset="0.000" stop-color="#0005bf"/><stop offset="0.049" stop-color="#0006c0"/><stop offset="0.098" stop-color="#0006c0"/><stop offset="0.152" stop-color="#0006c1"/><stop offset="0.205" stop-color="#0006c2"/><stop offset="0.263" stop-color="#0007c2"/><stop offset="0.321" stop-color="#0007c3"/><stop offset="0.366" stop-color="#0007c4"/><stop offset="0.411" stop-color="#0008c7"/><stop offset="0.513" stop-color="#000bce"/><stop offset="0.616" stop-color="#000ed5"/><stop offset="0.643" stop-color="#001ae2"/><stop offset="0.661" stop-color="#0034ee"/><stop offset="0.670" stop-color="#005ef8"/><stop offset="0.683" stop-color="#009bff"/><stop offset="0.696" stop-color="#00c8ff"/><stop offset="0.705" stop-color="#00e6ff"/><stop offset="0.732" stop-color="#04e7fb"/><stop offset="0.741" stop-color="#05e8fa"/><stop offset="0.777" stop-color="#00d3ff"/><stop offset="0.812" stop-color="#00b4ff"/><stop offset="0.857" stop-color="#00a6ff"/><stop offset="0.884" stop-color="#0096ff"/><stop offset="0.902" stop-color="#008bff"/><stop offset="0.938" stop-color="#00abff"/><stop offset="0.973" stop-color="#00c7ff"/><stop offset="1.000" stop-color="#00d1ff"/></linearGradient><linearGradient id="q121" x1="0" y1="0" x2="0" y2="1"><stop offset="0.000" stop-color="#0005bf"/><stop offset="0.049" stop-color="#0006c0"/><stop offset="0.098" stop-color="#0006c0"/><stop offset="0.152" stop-color="#0006c1"/><stop offset="0.205" stop-color="#0006c2"/><stop offset="0.263" stop-color="#0007c2"/><stop offset="0.321" stop-color="#0007c3"/><stop offset="0.366" stop-color="#0007c4"/><stop offset="0.411" stop-color="#0008c7"/><stop offset="0.513" stop-color="#000bce"/><stop offset="0.616" stop-color="#000ed5"/><stop offset="0.643" stop-color="#001ae2"/><stop offset="0.661" stop-color="#0034ee"/><stop offset="0.670" stop-color="#005ef8"/><stop offset="0.683" stop-color="#009bff"/><stop offset="0.696" stop-color="#00c8ff"/><stop offset="0.705" stop-color="#00e6ff"/><stop offset="0.732" stop-color="#04e7fb"/><stop offset="0.741" stop-color="#05e8fa"/><stop offset="0.777" stop-color="#00d3ff"/><stop offset="0.812" stop-color="#00b4ff"/><stop offset="0.857" stop-color="#00a6ff"/><stop offset="0.884" stop-color="#0096ff"/><stop offset="0.902" stop-color="#008bff"/><stop offset="0.938" stop-color="#00abff"/><stop offset="0.973" stop-color="#00c7ff"/><stop offset="1.000" stop-color="#00d1ff"/></linearGradient><linearGradient id="q122" x1="0" y1="0" x2="0" y2="1"><stop offset="0.000" stop-color="#0005bf"/><stop offset="0.049" stop-color="#0006c0"/><stop offset="0.098" stop-color="#0006c0"/><stop offset="0.152" stop-color="#0006c1"/><stop offset="0.205" stop-color="#0006c2"/><stop offset="0.263" stop-color="#0007c2"/><stop offset="0.321" stop-color="#0007c3"/><stop offset="0.366" stop-color="#0007c4"/><stop offset="0.411" stop-color="#0008c7"/><stop offset="0.513" stop-color="#000bce"/><stop offset="0.616" stop-color="#000ed5"/><stop offset="0.643" stop-color="#001ae2"/><stop offset="0.661" stop-color="#0034ee"/><stop offset="0.670" stop-color="#005ef8"/><stop offset="0.683" stop-color="#009bff"/><stop offset="0.696" stop-color="#00c8ff"/><stop offset="0.705" stop-color="#00e6ff"/><stop offset="0.732" stop-color="#04e8fb"/><stop offset="0.741" stop-color="#05e8fa"/><stop offset="0.777" stop-color="#00d4ff"/><stop offset="0.812" stop-color="#00b4ff"/><stop offset="0.857" stop-color="#00a7ff"/><stop offset="0.884" stop-color="#0097ff"/><stop offset="0.902" stop-color="#008cff"/><stop offset="0.938" stop-color="#00acff"/><stop offset="0.973" stop-color="#00c6ff"/><stop offset="1.000" stop-color="#00d0ff"/></linearGradient><linearGradient id="q123" x1="0" y1="0" x2="0" y2="1"><stop offset="0.000" stop-color="#0005bf"/><stop offset="0.049" stop-color="#0006c0"/><stop offset="0.098" stop-color="#0006c0"/><stop offset="0.152" stop-color="#0006c1"/><stop offset="0.205" stop-color="#0006c2"/><stop offset="0.263" stop-color="#0007c2"/><stop offset="0.321" stop-color="#0007c3"/><stop offset="0.366" stop-color="#0007c4"/><stop offset="0.411" stop-color="#0008c7"/><stop offset="0.513" stop-color="#000bce"/><stop offset="0.616" stop-color="#000ed5"/><stop offset="0.643" stop-color="#001ae2"/><stop offset="0.661" stop-color="#0034ee"/><stop offset="0.670" stop-color="#005ef8"/><stop offset="0.683" stop-color="#009bff"/><stop offset="0.696" stop-color="#00c8ff"/><stop offset="0.705" stop-color="#00e6ff"/><stop offset="0.732" stop-color="#04e8fb"/><stop offset="0.741" stop-color="#06e8f9"/><stop offset="0.777" stop-color="#00d4ff"/><stop offset="0.812" stop-color="#00b4ff"/><stop offset="0.857" stop-color="#00a7ff"/><stop offset="0.884" stop-color="#0097ff"/><stop offset="0.902" stop-color="#008dff"/><stop offset="0.938" stop-color="#00acff"/><stop offset="0.973" stop-color="#00c6ff"/><stop offset="1.000" stop-color="#00d0ff"/></linearGradient><linearGradient id="q124" x1="0" y1="0" x2="0" y2="1"><stop offset="0.000" stop-color="#0005bf"/><stop offset="0.049" stop-color="#0006c0"/><stop offset="0.098" stop-color="#0006c0"/><stop offset="0.152" stop-color="#0006c1"/><stop offset="0.205" stop-color="#0006c2"/><stop offset="0.263" stop-color="#0007c2"/><stop offset="0.321" stop-color="#0007c3"/><stop offset="0.366" stop-color="#0007c4"/><stop offset="0.411" stop-color="#0008c7"/><stop offset="0.513" stop-color="#000bce"/><stop offset="0.616" stop-color="#000ed5"/><stop offset="0.643" stop-color="#001ae2"/><stop offset="0.661" stop-color="#0034ee"/><stop offset="0.670" stop-color="#005ef8"/><stop offset="0.683" stop-color="#009bff"/><stop offset="0.696" stop-color="#00c8ff"/><stop offset="0.705" stop-color="#00e6ff"/><stop offset="0.732" stop-color="#04e8fb"/><stop offset="0.741" stop-color="#06e8f9"/><stop offset="0.777" stop-color="#00d4ff"/><stop offset="0.812" stop-color="#00b4ff"/><stop offset="0.857" stop-color="#00a7ff"/><stop offset="0.884" stop-color="#0098ff"/><stop offset="0.902" stop-color="#008eff"/><stop offset="0.938" stop-color="#00acff"/><stop offset="0.973" stop-color="#00c6ff"/><stop offset="1.000" stop-color="#00d0ff"/></linearGradient><linearGradient id="q125" x1="0" y1="0" x2="0" y2="1"><stop offset="0.000" stop-color="#0005bf"/><stop offset="0.049" stop-color="#0006c0"/><stop offset="0.098" stop-color="#0006c0"/><stop offset="0.152" stop-color="#0006c1"/><stop offset="0.205" stop-color="#0006c2"/><stop offset="0.263" stop-color="#0007c2"/><stop offset="0.321" stop-color="#0007c3"/><stop offset="0.366" stop-color="#0007c4"/><stop offset="0.411" stop-color="#0008c7"/><stop offset="0.513" stop-color="#000bce"/><stop offset="0.616" stop-color="#000ed5"/><stop offset="0.643" stop-color="#001ae2"/><stop offset="0.661" stop-color="#0034ee"/><stop offset="0.670" stop-color="#005ef8"/><stop offset="0.683" stop-color="#009bff"/><stop offset="0.696" stop-color="#00c8ff"/><stop offset="0.705" stop-color="#00e6ff"/><stop offset="0.732" stop-color="#05e8fa"/><stop offset="0.741" stop-color="#06e8f9"/><stop offset="0.777" stop-color="#00d5ff"/><stop offset="0.812" stop-color="#00b4ff"/><stop offset="0.857" stop-color="#00a8ff"/><stop offset="0.884" stop-color="#0099ff"/><stop offset="0.902" stop-color="#008fff"/><stop offset="0.938" stop-color="#00adff"/><stop offset="0.973" stop-color="#00c5ff"/><stop offset="1.000" stop-color="#00cfff"/></linearGradient><linearGradient id="q126" x1="0" y1="0" x2="0" y2="1"><stop offset="0.000" stop-color="#0005bf"/><stop offset="0.049" stop-color="#0006c0"/><stop offset="0.098" stop-color="#0006c0"/><stop offset="0.152" stop-color="#0006c1"/><stop offset="0.205" stop-color="#0006c2"/><stop offset="0.263" stop-color="#0007c2"/><stop offset="0.321" stop-color="#0007c3"/><stop offset="0.366" stop-color="#0007c4"/><stop offset="0.411" stop-color="#0008c7"/><stop offset="0.513" stop-color="#000bce"/><stop offset="0.616" stop-color="#000ed5"/><stop offset="0.643" stop-color="#001ae2"/><stop offset="0.661" stop-color="#0034ee"/><stop offset="0.670" stop-color="#005ef8"/><stop offset="0.683" stop-color="#009bff"/><stop offset="0.696" stop-color="#00c8ff"/><stop offset="0.705" stop-color="#00e6ff"/><stop offset="0.732" stop-color="#05e8fa"/><stop offset="0.741" stop-color="#06e8f9"/><stop offset="0.777" stop-color="#00d5ff"/><stop offset="0.812" stop-color="#00b4ff"/><stop offset="0.857" stop-color="#00a8ff"/><stop offset="0.884" stop-color="#0099ff"/><stop offset="0.902" stop-color="#008fff"/><stop offset="0.938" stop-color="#00adff"/><stop offset="0.973" stop-color="#00c5ff"/><stop offset="1.000" stop-color="#00cfff"/></linearGradient><linearGradient id="q127" x1="0" y1="0" x2="0" y2="1"><stop offset="0.000" stop-color="#0005bf"/><stop offset="0.049" stop-color="#0006c0"/><stop offset="0.098" stop-color="#0006c0"/><stop offset="0.152" stop-color="#0006c1"/><stop offset="0.205" stop-color="#0006c2"/><stop offset="0.263" stop-color="#0007c2"/><stop offset="0.321" stop-color="#0007c3"/><stop offset="0.366" stop-color="#0007c4"/><stop offset="0.411" stop-color="#0008c7"/><stop offset="0.513" stop-color="#000bce"/><stop offset="0.616" stop-color="#000ed5"/><stop offset="0.643" stop-color="#001ae2"/><stop offset="0.661" stop-color="#0034ee"/><stop offset="0.670" stop-color="#005ef8"/><stop offset="0.683" stop-color="#009bff"/><stop offset="0.696" stop-color="#00c8ff"/><stop offset="0.705" stop-color="#00e6ff"/><stop offset="0.732" stop-color="#05e8fa"/><stop offset="0.741" stop-color="#06e8f9"/><stop offset="0.777" stop-color="#00d5ff"/><stop offset="0.812" stop-color="#00b4ff"/><stop offset="0.857" stop-color="#00a8ff"/><stop offset="0.884" stop-color="#009aff"/><stop offset="0.902" stop-color="#0090ff"/><stop offset="0.938" stop-color="#00adff"/><stop offset="0.973" stop-color="#00c5ff"/><stop offset="1.000" stop-color="#00cfff"/></linearGradient><linearGradient id="q128" x1="0" y1="0" x2="0" y2="1"><stop offset="0.000" stop-color="#0005bf"/><stop offset="0.049" stop-color="#0006c0"/><stop offset="0.098" stop-color="#0006c0"/><stop offset="0.152" stop-color="#0006c1"/><stop offset="0.205" stop-color="#0006c2"/><stop offset="0.263" stop-color="#0007c2"/><stop offset="0.321" stop-color="#0007c3"/><stop offset="0.366" stop-color="#0007c4"/><stop offset="0.411" stop-color="#0008c7"/><stop offset="0.513" stop-color="#000bce"/><stop offset="0.616" stop-color="#000ed5"/><stop offset="0.643" stop-color="#001ae2"/><stop offset="0.661" stop-color="#0034ee"/><stop offset="0.670" stop-color="#005ef8"/><stop offset="0.683" stop-color="#009bff"/><stop offset="0.696" stop-color="#00c8ff"/><stop offset="0.705" stop-color="#00e6ff"/><stop offset="0.732" stop-color="#05e8fa"/><stop offset="0.741" stop-color="#07e9f8"/><stop offset="0.777" stop-color="#00d5ff"/><stop offset="0.812" stop-color="#00b4ff"/><stop offset="0.857" stop-color="#00a8ff"/><stop offset="0.884" stop-color="#009aff"/><stop offset="0.902" stop-color="#0091ff"/><stop offset="0.938" stop-color="#00adff"/><stop offset="0.973" stop-color="#00c5ff"/><stop offset="1.000" stop-color="#00cfff"/></linearGradient><linearGradient id="q129" x1="0" y1="0" x2="0" y2="1"><stop offset="0.000" stop-color="#0005bf"/><stop offset="0.049" stop-color="#0006c0"/><stop offset="0.098" stop-color="#0006c0"/><stop offset="0.152" stop-color="#0006c1"/><stop offset="0.205" stop-color="#0006c2"/><stop offset="0.263" stop-color="#0007c2"/><stop offset="0.321" stop-color="#0007c3"/><stop offset="0.366" stop-color="#0007c4"/><stop offset="0.411" stop-color="#0008c7"/><stop offset="0.513" stop-color="#000bce"/><stop offset="0.616" stop-color="#000ed5"/><stop offset="0.643" stop-color="#001ae2"/><stop offset="0.661" stop-color="#0034ee"/><stop offset="0.670" stop-color="#005ef8"/><stop offset="0.683" stop-color="#009bff"/><stop offset="0.696" stop-color="#00c8ff"/><stop offset="0.705" stop-color="#00e6ff"/><stop offset="0.732" stop-color="#05e8fa"/><stop offset="0.741" stop-color="#07e9f8"/><stop offset="0.777" stop-color="#00d6ff"/><stop offset="0.812" stop-color="#00b4ff"/><stop offset="0.857" stop-color="#00a9ff"/><stop offset="0.884" stop-color="#009bff"/><stop offset="0.902" stop-color="#0092ff"/><stop offset="0.938" stop-color="#00aeff"/><stop offset="0.973" stop-color="#00c4ff"/><stop offset="1.000" stop-color="#00ceff"/></linearGradient><linearGradient id="q130" x1="0" y1="0" x2="0" y2="1"><stop offset="0.000" stop-color="#0005bf"/><stop offset="0.049" stop-color="#0006c0"/><stop offset="0.098" stop-color="#0006c0"/><stop offset="0.152" stop-color="#0006c1"/><stop offset="0.205" stop-color="#0006c2"/><stop offset="0.263" stop-color="#0007c2"/><stop offset="0.321" stop-color="#0007c3"/><stop offset="0.366" stop-color="#0007c4"/><stop offset="0.411" stop-color="#0008c7"/><stop offset="0.513" stop-color="#000bce"/><stop offset="0.616" stop-color="#000ed5"/><stop offset="0.643" stop-color="#001ae2"/><stop offset="0.661" stop-color="#0034ee"/><stop offset="0.670" stop-color="#005ef8"/><stop offset="0.683" stop-color="#009bff"/><stop offset="0.696" stop-color="#00c8ff"/><stop offset="0.705" stop-color="#00e6ff"/><stop offset="0.732" stop-color="#05e8fa"/><stop offset="0.741" stop-color="#07e9f8"/><stop offset="0.777" stop-color="#00d6ff"/><stop offset="0.812" stop-color="#00b4ff"/><stop offset="0.857" stop-color="#00a9ff"/><stop offset="0.884" stop-color="#009cff"/><stop offset="0.902" stop-color="#0093ff"/><stop offset="0.938" stop-color="#00aeff"/><stop offset="0.973" stop-color="#00c4ff"/><stop offset="1.000" stop-color="#00ceff"/></linearGradient><linearGradient id="q131" x1="0" y1="0" x2="0" y2="1"><stop offset="0.000" stop-color="#0005bf"/><stop offset="0.049" stop-color="#0006c0"/><stop offset="0.098" stop-color="#0006c0"/><stop offset="0.152" stop-color="#0006c1"/><stop offset="0.205" stop-color="#0006c2"/><stop offset="0.263" stop-color="#0007c2"/><stop offset="0.321" stop-color="#0007c3"/><stop offset="0.366" stop-color="#0007c4"/><stop offset="0.411" stop-color="#0008c7"/><stop offset="0.513" stop-color="#000bce"/><stop offset="0.616" stop-color="#000ed5"/><stop offset="0.643" stop-color="#001ae2"/><stop offset="0.661" stop-color="#0034ee"/><stop offset="0.670" stop-color="#005ef8"/><stop offset="0.683" stop-color="#009bff"/><stop offset="0.696" stop-color="#00c8ff"/><stop offset="0.705" stop-color="#00e6ff"/><stop offset="0.732" stop-color="#05e8fa"/><stop offset="0.741" stop-color="#07e9f8"/><stop offset="0.777" stop-color="#00d6ff"/><stop offset="0.812" stop-color="#00b4ff"/><stop offset="0.857" stop-color="#00a9ff"/><stop offset="0.884" stop-color="#009cff"/><stop offset="0.902" stop-color="#0093ff"/><stop offset="0.938" stop-color="#00aeff"/><stop offset="0.973" stop-color="#00c4ff"/><stop offset="1.000" stop-color="#00ceff"/></linearGradient><linearGradient id="q132" x1="0" y1="0" x2="0" y2="1"><stop offset="0.000" stop-color="#0005bf"/><stop offset="0.049" stop-color="#0006c0"/><stop offset="0.098" stop-color="#0006c0"/><stop offset="0.152" stop-color="#0006c1"/><stop offset="0.205" stop-color="#0006c2"/><stop offset="0.263" stop-color="#0007c2"/><stop offset="0.321" stop-color="#0007c3"/><stop offset="0.366" stop-color="#0007c4"/><stop offset="0.411" stop-color="#0008c7"/><stop offset="0.513" stop-color="#000bce"/><stop offset="0.616" stop-color="#000ed5"/><stop offset="0.643" stop-color="#001ae2"/><stop offset="0.661" stop-color="#0034ee"/><stop offset="0.670" stop-color="#005ef8"/><stop offset="0.683" stop-color="#009bff"/><stop offset="0.696" stop-color="#00c8ff"/><stop offset="0.705" stop-color="#00e6ff"/><stop offset="0.732" stop-color="#06e8f9"/><stop offset="0.741" stop-color="#07e9f8"/><stop offset="0.777" stop-color="#00d6ff"/><stop offset="0.812" stop-color="#00b4ff"/><stop offset="0.857" stop-color="#00a9ff"/><stop offset="0.884" stop-color="#009dff"/><stop offset="0.902" stop-color="#0094ff"/><stop offset="0.938" stop-color="#00aeff"/><stop offset="0.973" stop-color="#00c4ff"/><stop offset="1.000" stop-color="#00ceff"/></linearGradient><linearGradient id="q133" x1="0" y1="0" x2="0" y2="1"><stop offset="0.000" stop-color="#0005bf"/><stop offset="0.049" stop-color="#0006c0"/><stop offset="0.098" stop-color="#0006c0"/><stop offset="0.152" stop-color="#0006c1"/><stop offset="0.205" stop-color="#0006c2"/><stop offset="0.263" stop-color="#0007c2"/><stop offset="0.321" stop-color="#0007c3"/><stop offset="0.366" stop-color="#0007c4"/><stop offset="0.411" stop-color="#0008c7"/><stop offset="0.513" stop-color="#000bce"/><stop offset="0.616" stop-color="#000ed5"/><stop offset="0.643" stop-color="#001ae2"/><stop offset="0.661" stop-color="#0034ee"/><stop offset="0.670" stop-color="#005ef8"/><stop offset="0.683" stop-color="#009bff"/><stop offset="0.696" stop-color="#00c8ff"/><stop offset="0.705" stop-color="#00e6ff"/><stop offset="0.732" stop-color="#06e8f9"/><stop offset="0.741" stop-color="#08e9f7"/><stop offset="0.777" stop-color="#00d7ff"/><stop offset="0.812" stop-color="#00b4ff"/><stop offset="0.857" stop-color="#00aaff"/><stop offset="0.884" stop-color="#009dff"/><stop offset="0.902" stop-color="#0095ff"/><stop offset="0.938" stop-color="#00afff"/><stop offset="0.973" stop-color="#00c3ff"/><stop offset="1.000" stop-color="#00cdff"/></linearGradient><linearGradient id="q134" x1="0" y1="0" x2="0" y2="1"><stop offset="0.000" stop-color="#0005bf"/><stop offset="0.049" stop-color="#0006c0"/><stop offset="0.098" stop-color="#0006c0"/><stop offset="0.152" stop-color="#0006c1"/><stop offset="0.205" stop-color="#0006c2"/><stop offset="0.263" stop-color="#0007c2"/><stop offset="0.321" stop-color="#0007c3"/><stop offset="0.366" stop-color="#0007c4"/><stop offset="0.411" stop-color="#0008c7"/><stop offset="0.513" stop-color="#000bce"/><stop offset="0.616" stop-color="#000ed5"/><stop offset="0.643" stop-color="#001ae2"/><stop offset="0.661" stop-color="#0034ee"/><stop offset="0.670" stop-color="#005ef8"/><stop offset="0.683" stop-color="#009bff"/><stop offset="0.696" stop-color="#00c8ff"/><stop offset="0.705" stop-color="#00e6ff"/><stop offset="0.732" stop-color="#06e8f9"/><stop offset="0.741" stop-color="#08e9f7"/><stop offset="0.777" stop-color="#00d7ff"/><stop offset="0.812" stop-color="#00b4ff"/><stop offset="0.857" stop-color="#00aaff"/><stop offset="0.884" stop-color="#009dff"/><stop offset="0.902" stop-color="#0095ff"/><stop offset="0.938" stop-color="#00afff"/><stop offset="0.973" stop-color="#00c3ff"/><stop offset="1.000" stop-color="#00cdff"/></linearGradient><linearGradient id="q135" x1="0" y1="0" x2="0" y2="1"><stop offset="0.000" stop-color="#0005bf"/><stop offset="0.049" stop-color="#0006c0"/><stop offset="0.098" stop-color="#0006c0"/><stop offset="0.152" stop-color="#0006c1"/><stop offset="0.205" stop-color="#0006c2"/><stop offset="0.263" stop-color="#0007c2"/><stop offset="0.321" stop-color="#0007c3"/><stop offset="0.366" stop-color="#0007c4"/><stop offset="0.411" stop-color="#0008c7"/><stop offset="0.513" stop-color="#000bce"/><stop offset="0.616" stop-color="#000ed5"/><stop offset="0.643" stop-color="#001ae2"/><stop offset="0.661" stop-color="#0034ee"/><stop offset="0.670" stop-color="#005ef8"/><stop offset="0.683" stop-color="#009bff"/><stop offset="0.696" stop-color="#00c8ff"/><stop offset="0.705" stop-color="#00e6ff"/><stop offset="0.732" stop-color="#06e8f9"/><stop offset="0.741" stop-color="#08e9f7"/><stop offset="0.777" stop-color="#00d7ff"/><stop offset="0.812" stop-color="#00b4ff"/><stop offset="0.857" stop-color="#00aaff"/><stop offset="0.884" stop-color="#009eff"/><stop offset="0.902" stop-color="#0095ff"/><stop offset="0.938" stop-color="#00afff"/><stop offset="0.973" stop-color="#00c3ff"/><stop offset="1.000" stop-color="#00cdff"/></linearGradient><linearGradient id="q136" x1="0" y1="0" x2="0" y2="1"><stop offset="0.000" stop-color="#0005bf"/><stop offset="0.049" stop-color="#0006c0"/><stop offset="0.098" stop-color="#0006c0"/><stop offset="0.152" stop-color="#0006c1"/><stop offset="0.205" stop-color="#0006c2"/><stop offset="0.263" stop-color="#0007c2"/><stop offset="0.321" stop-color="#0007c3"/><stop offset="0.366" stop-color="#0007c4"/><stop offset="0.411" stop-color="#0008c7"/><stop offset="0.513" stop-color="#000bce"/><stop offset="0.616" stop-color="#000ed5"/><stop offset="0.643" stop-color="#001ae2"/><stop offset="0.661" stop-color="#0034ee"/><stop offset="0.670" stop-color="#005ef8"/><stop offset="0.683" stop-color="#009bff"/><stop offset="0.696" stop-color="#00c8ff"/><stop offset="0.705" stop-color="#00e6ff"/><stop offset="0.732" stop-color="#06e8f9"/><stop offset="0.741" stop-color="#08e9f7"/><stop offset="0.777" stop-color="#00d7ff"/><stop offset="0.812" stop-color="#00b4ff"/><stop offset="0.857" stop-color="#00aaff"/><stop offset="0.884" stop-color="#009eff"/><stop offset="0.902" stop-color="#0096ff"/><stop offset="0.938" stop-color="#00afff"/><stop offset="0.973" stop-color="#00c3ff"/><stop offset="1.000" stop-color="#00cdff"/></linearGradient><linearGradient id="q137" x1="0" y1="0" x2="0" y2="1"><stop offset="0.000" stop-color="#0005bf"/><stop offset="0.049" stop-color="#0006c0"/><stop offset="0.098" stop-color="#0006c0"/><stop offset="0.152" stop-color="#0006c1"/><stop offset="0.205" stop-color="#0006c2"/><stop offset="0.263" stop-color="#0007c2"/><stop offset="0.321" stop-color="#0007c3"/><stop offset="0.366" stop-color="#0007c4"/><stop offset="0.411" stop-color="#0008c7"/><stop offset="0.513" stop-color="#000bce"/><stop offset="0.616" stop-color="#000ed5"/><stop offset="0.643" stop-color="#001ae2"/><stop offset="0.661" stop-color="#0034ee"/><stop offset="0.670" stop-color="#005ef8"/><stop offset="0.683" stop-color="#009bff"/><stop offset="0.696" stop-color="#00c8ff"/><stop offset="0.705" stop-color="#00e6ff"/><stop offset="0.732" stop-color="#06e8f9"/><stop offset="0.741" stop-color="#08e9f7"/><stop offset="0.777" stop-color="#00d7ff"/><stop offset="0.812" stop-color="#00b4ff"/><stop offset="0.857" stop-color="#00aaff"/><stop offset="0.884" stop-color="#009eff"/><stop offset="0.902" stop-color="#0096ff"/><stop offset="0.938" stop-color="#00afff"/><stop offset="0.973" stop-color="#00c3ff"/><stop offset="1.000" stop-color="#00cdff"/></linearGradient><linearGradient id="q138" x1="0" y1="0" x2="0" y2="1"><stop offset="0.000" stop-color="#0005bf"/><stop offset="0.049" stop-color="#0006c0"/><stop offset="0.098" stop-color="#0006c0"/><stop offset="0.152" stop-color="#0006c1"/><stop offset="0.205" stop-color="#0006c2"/><stop offset="0.263" stop-color="#0007c2"/><stop offset="0.321" stop-color="#0007c3"/><stop offset="0.366" stop-color="#0007c4"/><stop offset="0.411" stop-color="#0008c7"/><stop offset="0.513" stop-color="#000bce"/><stop offset="0.616" stop-color="#000ed5"/><stop offset="0.643" stop-color="#001ae2"/><stop offset="0.661" stop-color="#0034ee"/><stop offset="0.670" stop-color="#005ef8"/><stop offset="0.683" stop-color="#009bff"/><stop offset="0.696" stop-color="#00c8ff"/><stop offset="0.705" stop-color="#00e6ff"/><stop offset="0.732" stop-color="#06e8f9"/><stop offset="0.741" stop-color="#08e9f7"/><stop offset="0.777" stop-color="#00d7ff"/><stop offset="0.812" stop-color="#00b4ff"/><stop offset="0.857" stop-color="#00aaff"/><stop offset="0.884" stop-color="#009eff"/><stop offset="0.902" stop-color="#0096ff"/><stop offset="0.938" stop-color="#00afff"/><stop offset="0.973" stop-color="#00c3ff"/><stop offset="1.000" stop-color="#00cdff"/></linearGradient><linearGradient id="q139" x1="0" y1="0" x2="0" y2="1"><stop offset="0.000" stop-color="#0005bf"/><stop offset="0.049" stop-color="#0006c0"/><stop offset="0.098" stop-color="#0006c1"/><stop offset="0.152" stop-color="#0006c2"/><stop offset="0.205" stop-color="#0007c3"/><stop offset="0.321" stop-color="#0007c3"/><stop offset="0.366" stop-color="#0007c4"/><stop offset="0.411" stop-color="#0008c7"/><stop offset="0.513" stop-color="#000bce"/><stop offset="0.616" stop-color="#000ed5"/><stop offset="0.643" stop-color="#001ae2"/><stop offset="0.661" stop-color="#0034ee"/><stop offset="0.670" stop-color="#005ef8"/><stop offset="0.683" stop-color="#009bff"/><stop offset="0.696" stop-color="#00c9ff"/><stop offset="0.705" stop-color="#00e6ff"/><stop offset="0.732" stop-color="#07e9f8"/><stop offset="0.741" stop-color="#09e9f6"/><stop offset="0.777" stop-color="#00d8ff"/><stop offset="0.812" stop-color="#00b4ff"/><stop offset="0.857" stop-color="#00aaff"/><stop offset="0.884" stop-color="#009eff"/><stop offset="0.902" stop-color="#0097ff"/><stop offset="0.938" stop-color="#00afff"/><stop offset="0.973" stop-color="#00c3ff"/><stop offset="1.000" stop-color="#00cdff"/></linearGradient><linearGradient id="q140" x1="0" y1="0" x2="0" y2="1"><stop offset="0.000" stop-color="#0005bf"/><stop offset="0.049" stop-color="#0006c1"/><stop offset="0.098" stop-color="#0006c2"/><stop offset="0.152" stop-color="#0007c3"/><stop offset="0.205" stop-color="#0008c5"/><stop offset="0.366" stop-color="#0008c5"/><stop offset="0.411" stop-color="#0009c7"/><stop offset="0.513" stop-color="#000bce"/><stop offset="0.616" stop-color="#000ed5"/><stop offset="0.643" stop-color="#001ae2"/><stop offset="0.661" stop-color="#0035ef"/><stop offset="0.670" stop-color="#0060f9"/><stop offset="0.683" stop-color="#009dff"/><stop offset="0.696" stop-color="#00caff"/><stop offset="0.705" stop-color="#01e6fe"/><stop offset="0.732" stop-color="#0beaf4"/><stop offset="0.741" stop-color="#0ceaf3"/><stop offset="0.777" stop-color="#00daff"/><stop offset="0.812" stop-color="#00b5ff"/><stop offset="0.857" stop-color="#00abff"/><stop offset="0.884" stop-color="#009fff"/><stop offset="0.902" stop-color="#0098ff"/><stop offset="0.938" stop-color="#00b0ff"/><stop offset="0.973" stop-color="#00c3ff"/><stop offset="1.000" stop-color="#00cdff"/></linearGradient><linearGradient id="q141" x1="0" y1="0" x2="0" y2="1"><stop offset="0.000" stop-color="#0005bf"/><stop offset="0.049" stop-color="#0006c1"/><stop offset="0.098" stop-color="#0007c3"/><stop offset="0.152" stop-color="#0008c6"/><stop offset="0.205" stop-color="#0009c8"/><stop offset="0.263" stop-color="#0009c7"/><stop offset="0.321" stop-color="#0008c6"/><stop offset="0.366" stop-color="#0008c6"/><stop offset="0.411" stop-color="#0009c7"/><stop offset="0.513" stop-color="#000bce"/><stop offset="0.616" stop-color="#000ed5"/><stop offset="0.643" stop-color="#001ae2"/><stop offset="0.661" stop-color="#0037f0"/><stop offset="0.670" stop-color="#0063f9"/><stop offset="0.683" stop-color="#009fff"/><stop offset="0.696" stop-color="#00ccff"/><stop offset="0.705" stop-color="#03e7fc"/><stop offset="0.732" stop-color="#10ecef"/><stop offset="0.741" stop-color="#10ecef"/><stop offset="0.777" stop-color="#00ddff"/><stop offset="0.812" stop-color="#00b5ff"/><stop offset="0.857" stop-color="#00acff"/><stop offset="0.884" stop-color="#00a0ff"/><stop offset="0.902" stop-color="#009aff"/><stop offset="0.938" stop-color="#00b0ff"/><stop offset="0.973" stop-color="#00c3ff"/><stop offset="1.000" stop-color="#00ccff"/></linearGradient><linearGradient id="q142" x1="0" y1="0" x2="0" y2="1"><stop offset="0.000" stop-color="#0005bf"/><stop offset="0.049" stop-color="#0007c2"/><stop offset="0.098" stop-color="#0008c5"/><stop offset="0.152" stop-color="#0009c9"/><stop offset="0.205" stop-color="#000bcd"/><stop offset="0.263" stop-color="#000acb"/><stop offset="0.321" stop-color="#0009c9"/><stop offset="0.366" stop-color="#0009c7"/><stop offset="0.411" stop-color="#0009c7"/><stop offset="0.513" stop-color="#000cce"/><stop offset="0.616" stop-color="#000ed5"/><stop offset="0.643" stop-color="#001ae2"/><stop offset="0.661" stop-color="#003af1"/><stop offset="0.670" stop-color="#0066fa"/><stop offset="0.683" stop-color="#00a1ff"/><stop offset="0.696" stop-color="#00cfff"/><stop offset="0.705" stop-color="#05e8fa"/><stop offset="0.732" stop-color="#17efe8"/><stop offset="0.741" stop-color="#16eee9"/><stop offset="0.777" stop-color="#00e1ff"/><stop offset="0.812" stop-color="#00b6ff"/><stop offset="0.857" stop-color="#00adff"/><stop offset="0.884" stop-color="#00a2ff"/><stop offset="0.902" stop-color="#009dff"/><stop offset="0.938" stop-color="#00b1ff"/><stop offset="0.973" stop-color="#00c3ff"/><stop offset="1.000" stop-color="#00ccff"/></linearGradient><linearGradient id="q143" x1="0" y1="0" x2="0" y2="1"><stop offset="0.000" stop-color="#0005bf"/><stop offset="0.049" stop-color="#0007c3"/><stop offset="0.098" stop-color="#0009c8"/><stop offset="0.152" stop-color="#000bcd"/><stop offset="0.205" stop-color="#000dd2"/><stop offset="0.263" stop-color="#000cce"/><stop offset="0.321" stop-color="#000acb"/><stop offset="0.366" stop-color="#0009c8"/><stop offset="0.411" stop-color="#0009c7"/><stop offset="0.513" stop-color="#000cce"/><stop offset="0.616" stop-color="#000ed5"/><stop offset="0.643" stop-color="#001ae2"/><stop offset="0.661" stop-color="#003df2"/><stop offset="0.670" stop-color="#006afb"/><stop offset="0.683" stop-color="#00a4ff"/><stop offset="0.696" stop-color="#00d3ff"/><stop offset="0.705" stop-color="#07e9f8"/><stop offset="0.732" stop-color="#1ff1e0"/><stop offset="0.741" stop-color="#1cf0e3"/><stop offset="0.777" stop-color="#00e5ff"/><stop offset="0.812" stop-color="#00b8ff"/><stop offset="0.857" stop-color="#00aeff"/><stop offset="0.884" stop-color="#00a4ff"/><stop offset="0.902" stop-color="#00a0ff"/><stop offset="0.938" stop-color="#00b3ff"/><stop offset="0.973" stop-color="#00c2ff"/><stop offset="1.000" stop-color="#00cbff"/></linearGradient><linearGradient id="q144" x1="0" y1="0" x2="0" y2="1"><stop offset="0.000" stop-color="#0005bf"/><stop offset="0.049" stop-color="#0008c5"/><stop offset="0.098" stop-color="#000aca"/><stop offset="0.152" stop-color="#000dd1"/><stop offset="0.205" stop-color="#000fd7"/><stop offset="0.263" stop-color="#000dd2"/><stop offset="0.321" stop-color="#000bce"/><stop offset="0.366" stop-color="#000aca"/><stop offset="0.411" stop-color="#0009c7"/><stop offset="0.513" stop-color="#000cce"/><stop offset="0.616" stop-color="#000ed5"/><stop offset="0.643" stop-color="#001ae2"/><stop offset="0.661" stop-color="#0042f3"/><stop offset="0.670" stop-color="#006ffb"/><stop offset="0.683" stop-color="#00a7ff"/><stop offset="0.696" stop-color="#00d6ff"/><stop offset="0.705" stop-color="#09e9f6"/><stop offset="0.732" stop-color="#27f5d8"/><stop offset="0.741" stop-color="#23f3dc"/><stop offset="0.777" stop-color="#03e7fc"/><stop offset="0.812" stop-color="#00b9ff"/><stop offset="0.857" stop-color="#00afff"/><stop offset="0.884" stop-color="#00a6ff"/><stop offset="0.902" stop-color="#00a3ff"/><stop offset="0.938" stop-color="#00b4ff"/><stop offset="0.973" stop-color="#00c2ff"/><stop offset="1.000" stop-color="#00cbff"/></linearGradient><linearGradient id="q145" x1="0" y1="0" x2="0" y2="1"><stop offset="0.000" stop-color="#0005bf"/><stop offset="0.049" stop-color="#0008c6"/><stop offset="0.098" stop-color="#000bcd"/><stop offset="0.152" stop-color="#000ed5"/><stop offset="0.205" stop-color="#0011dd"/><stop offset="0.263" stop-color="#000fd7"/><stop offset="0.321" stop-color="#000cd0"/><stop offset="0.366" stop-color="#000acb"/><stop offset="0.411" stop-color="#0009c7"/><stop offset="0.513" stop-color="#000cce"/><stop offset="0.616" stop-color="#000ed5"/><stop offset="0.643" stop-color="#001ae2"/><stop offset="0.661" stop-color="#0047f4"/><stop offset="0.670" stop-color="#0073fc"/><stop offset="0.683" stop-color="#00aaff"/><stop offset="0.696" stop-color="#00daff"/><stop offset="0.705" stop-color="#0beaf4"/><stop offset="0.732" stop-color="#33f7cc"/><stop offset="0.741" stop-color="#2af5d5"/><stop offset="0.777" stop-color="#07e9f8"/><stop offset="0.812" stop-color="#00baff"/><stop offset="0.857" stop-color="#00b0ff"/><stop offset="0.884" stop-color="#00a8ff"/><stop offset="0.902" stop-color="#00a7ff"/><stop offset="0.938" stop-color="#00b5ff"/><stop offset="0.973" stop-color="#00c2ff"/><stop offset="1.000" stop-color="#00caff"/></linearGradient><linearGradient id="q146" x1="0" y1="0" x2="0" y2="1"><stop offset="0.000" stop-color="#0005bf"/><stop offset="0.049" stop-color="#0009c7"/><stop offset="0.098" stop-color="#000ccf"/><stop offset="0.152" stop-color="#0010d9"/><stop offset="0.205" stop-color="#0016e0"/><stop offset="0.263" stop-color="#0011da"/><stop offset="0.321" stop-color="#000dd3"/><stop offset="0.366" stop-color="#000bcd"/><stop offset="0.411" stop-color="#0009c8"/><stop offset="0.513" stop-color="#000cce"/><stop offset="0.616" stop-color="#000ed5"/><stop offset="0.643" stop-color="#001ae2"/><stop offset="0.661" stop-color="#004cf5"/><stop offset="0.670" stop-color="#0077fd"/><stop offset="0.683" stop-color="#00adff"/><stop offset="0.696" stop-color="#00ddff"/><stop offset="0.705" stop-color="#0debf2"/><stop offset="0.732" stop-color="#3ff9c0"/><stop offset="0.741" stop-color="#34f7cb"/><stop offset="0.777" stop-color="#0beaf4"/><stop offset="0.812" stop-color="#00bbff"/><stop offset="0.857" stop-color="#00b1ff"/><stop offset="0.884" stop-color="#00aaff"/><stop offset="0.902" stop-color="#00aaff"/><stop offset="0.938" stop-color="#00b6ff"/><stop offset="0.973" stop-color="#00c2ff"/><stop offset="1.000" stop-color="#00c9ff"/></linearGradient><linearGradient id="q147" x1="0" y1="0" x2="0" y2="1"><stop offset="0.000" stop-color="#0005bf"/><stop offset="0.049" stop-color="#0009c8"/><stop offset="0.098" stop-color="#000dd1"/><stop offset="0.152" stop-color="#0011dc"/><stop offset="0.205" stop-color="#001ae2"/><stop offset="0.263" stop-color="#0012de"/><stop offset="0.321" stop-color="#000ed5"/><stop offset="0.366" stop-color="#000cce"/><stop offset="0.411" stop-color="#0009c8"/><stop offset="0.513" stop-color="#000cce"/><stop offset="0.616" stop-color="#000ed5"/><stop offset="0.643" stop-color="#001ae2"/><stop offset="0.661" stop-color="#0050f6"/><stop offset="0.670" stop-color="#007bfe"/><stop offset="0.683" stop-color="#00afff"/><stop offset="0.696" stop-color="#00e0ff"/><stop offset="0.705" stop-color="#0fecf0"/><stop offset="0.732" stop-color="#4afbb5"/><stop offset="0.741" stop-color="#3df8c2"/><stop offset="0.777" stop-color="#0eebf1"/><stop offset="0.812" stop-color="#00bcff"/><stop offset="0.857" stop-color="#00b3ff"/><stop offset="0.884" stop-color="#00acff"/><stop offset="0.902" stop-color="#00adff"/><stop offset="0.938" stop-color="#00b7ff"/><stop offset="0.973" stop-color="#00c2ff"/><stop offset="1.000" stop-color="#00c9ff"/></linearGradient><linearGradient id="q148" x1="0" y1="0" x2="0" y2="1"><stop offset="0.000" stop-color="#0005bf"/><stop offset="0.049" stop-color="#0009c9"/><stop offset="0.098" stop-color="#000ed3"/><stop offset="0.152" stop-color="#0013de"/><stop offset="0.205" stop-color="#001ee4"/><stop offset="0.263" stop-color="#0015df"/><stop offset="0.321" stop-color="#000fd7"/><stop offset="0.366" stop-color="#000ccf"/><stop offset="0.411" stop-color="#0009c8"/><stop offset="0.513" stop-color="#000ccf"/><stop offset="0.616" stop-color="#000ed5"/><stop offset="0.643" stop-color="#001ae2"/><stop offset="0.661" stop-color="#0054f6"/><stop offset="0.670" stop-color="#007efe"/><stop offset="0.683" stop-color="#00b1ff"/><stop offset="0.696" stop-color="#00e3ff"/><stop offset="0.705" stop-color="#11ecee"/><stop offset="0.732" stop-color="#53fcac"/><stop offset="0.741" stop-color="#44fabb"/><stop offset="0.777" stop-color="#11ecee"/><stop offset="0.812" stop-color="#00bdff"/><stop offset="0.857" stop-color="#00b4ff"/><stop offset="0.884" stop-color="#00adff"/><stop offset="0.902" stop-color="#00afff"/><stop offset="0.938" stop-color="#00b8ff"/><stop offset="0.973" stop-color="#00c2ff"/><stop offset="1.000" stop-color="#00c9ff"/></linearGradient><linearGradient id="q149" x1="0" y1="0" x2="0" y2="1"><stop offset="0.000" stop-color="#0005bf"/><stop offset="0.049" stop-color="#000aca"/><stop offset="0.098" stop-color="#000ed4"/><stop offset="0.152" stop-color="#0015df"/><stop offset="0.205" stop-color="#0021e5"/><stop offset="0.263" stop-color="#0017e0"/><stop offset="0.321" stop-color="#0010d9"/><stop offset="0.366" stop-color="#000cd0"/><stop offset="0.411" stop-color="#0009c8"/><stop offset="0.513" stop-color="#000ccf"/><stop offset="0.616" stop-color="#000ed5"/><stop offset="0.643" stop-color="#001ae2"/><stop offset="0.661" stop-color="#0056f7"/><stop offset="0.670" stop-color="#0081ff"/><stop offset="0.683" stop-color="#00b3ff"/><stop offset="0.696" stop-color="#00e5ff"/><stop offset="0.705" stop-color="#12eded"/><stop offset="0.732" stop-color="#5afda5"/><stop offset="0.741" stop-color="#4afbb5"/><stop offset="0.777" stop-color="#13edec"/><stop offset="0.812" stop-color="#00beff"/><stop offset="0.857" stop-color="#00b4ff"/><stop offset="0.884" stop-color="#00aeff"/><stop offset="0.902" stop-color="#00b1ff"/><stop offset="0.938" stop-color="#00b9ff"/><stop offset="0.973" stop-color="#00c2ff"/><stop offset="1.000" stop-color="#00c8ff"/></linearGradient><linearGradient id="q150" x1="0" y1="0" x2="0" y2="1"><stop offset="0.000" stop-color="#0005bf"/><stop offset="0.049" stop-color="#000aca"/><stop offset="0.098" stop-color="#000ed5"/><stop offset="0.152" stop-color="#0016e0"/><stop offset="0.205" stop-color="#0023e6"/><stop offset="0.263" stop-color="#0018e1"/><stop offset="0.321" stop-color="#0010d9"/><stop offset="0.366" stop-color="#000dd1"/><stop offset="0.411" stop-color="#0009c8"/><stop offset="0.513" stop-color="#000ccf"/><stop offset="0.616" stop-color="#000ed5"/><stop offset="0.643" stop-color="#001ae2"/><stop offset="0.661" stop-color="#0058f7"/><stop offset="0.670" stop-color="#0082ff"/><stop offset="0.683" stop-color="#00b4ff"/><stop offset="0.696" stop-color="#00e6ff"/><stop offset="0.705" stop-color="#13edec"/><stop offset="0.732" stop-color="#5efea1"/><stop offset="0.741" stop-color="#4dfbb2"/><stop offset="0.777" stop-color="#14edeb"/><stop offset="0.812" stop-color="#00beff"/><stop offset="0.857" stop-color="#00b5ff"/><stop offset="0.884" stop-color="#00afff"/><stop offset="0.902" stop-color="#00b2ff"/><stop offset="0.938" stop-color="#00b9ff"/><stop offset="0.973" stop-color="#00c2ff"/><stop offset="1.000" stop-color="#00c8ff"/></linearGradient><linearGradient id="q151" x1="0" y1="0" x2="0" y2="1"><stop offset="0.000" stop-color="#0005bf"/><stop offset="0.049" stop-color="#000aca"/><stop offset="0.098" stop-color="#000ed5"/><stop offset="0.152" stop-color="#0016e0"/><stop offset="0.205" stop-color="#0023e6"/><stop offset="0.263" stop-color="#0018e1"/><stop offset="0.321" stop-color="#0010da"/><stop offset="0.366" stop-color="#000dd1"/><stop offset="0.411" stop-color="#0009c8"/><stop offset="0.513" stop-color="#000ccf"/><stop offset="0.616" stop-color="#000ed5"/><stop offset="0.643" stop-color="#001ae2"/><stop offset="0.661" stop-color="#0058f7"/><stop offset="0.670" stop-color="#0082ff"/><stop offset="0.683" stop-color="#00b4ff"/><stop offset="0.696" stop-color="#00e6ff"/><stop offset="0.705" stop-color="#13edec"/><stop offset="0.732" stop-color="#5efea1"/><stop offset="0.741" stop-color="#4dfbb2"/><stop offset="0.777" stop-color="#14eeeb"/><stop offset="0.812" stop-color="#00beff"/><stop offset="0.857" stop-color="#00b5ff"/><stop offset="0.884" stop-color="#00afff"/><stop offset="0.902" stop-color="#00b2ff"/><stop offset="0.938" stop-color="#00b9ff"/><stop offset="0.973" stop-color="#00c2ff"/><stop offset="1.000" stop-color="#00c8ff"/></linearGradient><linearGradient id="q152" x1="0" y1="0" x2="0" y2="1"><stop offset="0.000" stop-color="#0005bf"/><stop offset="0.049" stop-color="#000acb"/><stop offset="0.098" stop-color="#000fd6"/><stop offset="0.152" stop-color="#0017e0"/><stop offset="0.205" stop-color="#0023e6"/><stop offset="0.263" stop-color="#0019e1"/><stop offset="0.321" stop-color="#0010da"/><stop offset="0.366" stop-color="#000dd1"/><stop offset="0.411" stop-color="#0009c8"/><stop offset="0.513" stop-color="#000ccf"/><stop offset="0.616" stop-color="#000ed5"/><stop offset="0.643" stop-color="#001ae2"/><stop offset="0.661" stop-color="#0058f7"/><stop offset="0.670" stop-color="#0082ff"/><stop offset="0.683" stop-color="#00b4ff"/><stop offset="0.696" stop-color="#00e6ff"/><stop offset="0.705" stop-color="#13edec"/><stop offset="0.732" stop-color="#5ffea0"/><stop offset="0.741" stop-color="#4efbb1"/><stop offset="0.777" stop-color="#15eeea"/><stop offset="0.812" stop-color="#00beff"/><stop offset="0.857" stop-color="#00b5ff"/><stop offset="0.884" stop-color="#00afff"/><stop offset="0.902" stop-color="#00b2ff"/><stop offset="0.938" stop-color="#00b9ff"/><stop offset="0.973" stop-color="#00c2ff"/><stop offset="1.000" stop-color="#00c8ff"/></linearGradient><linearGradient id="q153" x1="0" y1="0" x2="0" y2="1"><stop offset="0.000" stop-color="#0006c0"/><stop offset="0.049" stop-color="#000acb"/><stop offset="0.098" stop-color="#000fd7"/><stop offset="0.152" stop-color="#0018e1"/><stop offset="0.205" stop-color="#0024e7"/><stop offset="0.263" stop-color="#001ae2"/><stop offset="0.321" stop-color="#0011db"/><stop offset="0.366" stop-color="#000dd2"/><stop offset="0.411" stop-color="#0009c9"/><stop offset="0.513" stop-color="#000ccf"/><stop offset="0.616" stop-color="#000ed5"/><stop offset="0.643" stop-color="#001ae2"/><stop offset="0.661" stop-color="#0058f7"/><stop offset="0.670" stop-color="#0082ff"/><stop offset="0.683" stop-color="#00b4ff"/><stop offset="0.696" stop-color="#01e6fe"/><stop offset="0.705" stop-color="#14edeb"/><stop offset="0.732" stop-color="#60fe9f"/><stop offset="0.741" stop-color="#4ffcb0"/><stop offset="0.777" stop-color="#16eee9"/><stop offset="0.812" stop-color="#00beff"/><stop offset="0.857" stop-color="#00b5ff"/><stop offset="0.884" stop-color="#00afff"/><stop offset="0.902" stop-color="#00b2ff"/><stop offset="0.938" stop-color="#00b9ff"/><stop offset="0.973" stop-color="#00c2ff"/><stop offset="1.000" stop-color="#00c8ff"/></linearGradient><linearGradient id="q154" x1="0" y1="0" x2="0" y2="1"><stop offset="0.000" stop-color="#0006c0"/><stop offset="0.049" stop-color="#000bcc"/><stop offset="0.098" stop-color="#000fd8"/><stop offset="0.152" stop-color="#0019e1"/><stop offset="0.205" stop-color="#0026e7"/><stop offset="0.263" stop-color="#001be2"/><stop offset="0.321" stop-color="#0011dc"/><stop offset="0.366" stop-color="#000dd2"/><stop offset="0.411" stop-color="#000ac9"/><stop offset="0.513" stop-color="#000ccf"/><stop offset="0.616" stop-color="#000ed5"/><stop offset="0.643" stop-color="#001ae2"/><stop offset="0.661" stop-color="#0058f7"/><stop offset="0.670" stop-color="#0082ff"/><stop offset="0.683" stop-color="#00b5ff"/><stop offset="0.696" stop-color="#01e6fe"/><stop offset="0.705" stop-color="#14eeeb"/><stop offset="0.732" stop-color="#62ff9d"/><stop offset="0.741" stop-color="#51fcae"/><stop offset="0.777" stop-color="#17efe8"/><stop offset="0.812" stop-color="#00beff"/><stop offset="0.857" stop-color="#00b5ff"/><stop offset="0.884" stop-color="#00afff"/><stop offset="0.902" stop-color="#00b2ff"/><stop offset="0.938" stop-color="#00b9ff"/><stop offset="0.973" stop-color="#00c2ff"/><stop offset="1.000" stop-color="#00c8ff"/></linearGradient><linearGradient id="q155" x1="0" y1="0" x2="0" y2="1"><stop offset="0.000" stop-color="#0006c0"/><stop offset="0.049" stop-color="#000bcd"/><stop offset="0.098" stop-color="#0010d9"/><stop offset="0.152" stop-color="#001be2"/><stop offset="0.205" stop-color="#0028e8"/><stop offset="0.263" stop-color="#001ce3"/><stop offset="0.321" stop-color="#0011dd"/><stop offset="0.366" stop-color="#000ed3"/><stop offset="0.411" stop-color="#000aca"/><stop offset="0.513" stop-color="#000cd0"/><stop offset="0.616" stop-color="#000ed5"/><stop offset="0.643" stop-color="#001ae2"/><stop offset="0.661" stop-color="#0058f7"/><stop offset="0.670" stop-color="#0082ff"/><stop offset="0.683" stop-color="#00b5ff"/><stop offset="0.696" stop-color="#02e7fd"/><stop offset="0.705" stop-color="#15eeea"/><stop offset="0.732" stop-color="#63ff9c"/><stop offset="0.741" stop-color="#53fcac"/><stop offset="0.777" stop-color="#19efe6"/><stop offset="0.812" stop-color="#00beff"/><stop offset="0.857" stop-color="#00b5ff"/><stop offset="0.884" stop-color="#00afff"/><stop offset="0.902" stop-color="#00b2ff"/><stop offset="0.938" stop-color="#00b9ff"/><stop offset="0.973" stop-color="#00c2ff"/><stop offset="1.000" stop-color="#00c8ff"/></linearGradient><linearGradient id="q156" x1="0" y1="0" x2="0" y2="1"><stop offset="0.000" stop-color="#0006c1"/><stop offset="0.049" stop-color="#000bce"/><stop offset="0.098" stop-color="#0011db"/><stop offset="0.152" stop-color="#001ce3"/><stop offset="0.205" stop-color="#002ae9"/><stop offset="0.263" stop-color="#001ee4"/><stop offset="0.321" stop-color="#0012de"/><stop offset="0.366" stop-color="#000ed4"/><stop offset="0.411" stop-color="#000acb"/><stop offset="0.513" stop-color="#000cd0"/><stop offset="0.616" stop-color="#000ed5"/><stop offset="0.643" stop-color="#001ae2"/><stop offset="0.661" stop-color="#0058f7"/><stop offset="0.670" stop-color="#0082ff"/><stop offset="0.683" stop-color="#00b6ff"/><stop offset="0.696" stop-color="#03e7fc"/><stop offset="0.705" stop-color="#16eee9"/><stop offset="0.732" stop-color="#66ff99"/><stop offset="0.741" stop-color="#55fdaa"/><stop offset="0.777" stop-color="#1af0e5"/><stop offset="0.812" stop-color="#00beff"/><stop offset="0.857" stop-color="#00b5ff"/><stop offset="0.884" stop-color="#00afff"/><stop offset="0.902" stop-color="#00b2ff"/><stop offset="0.938" stop-color="#00b9ff"/><stop offset="0.973" stop-color="#00c2ff"/><stop offset="1.000" stop-color="#00c8ff"/></linearGradient><linearGradient id="q157" x1="0" y1="0" x2="0" y2="1"><stop offset="0.000" stop-color="#0006c1"/><stop offset="0.049" stop-color="#000ccf"/><stop offset="0.098" stop-color="#0011dd"/><stop offset="0.152" stop-color="#001ee4"/><stop offset="0.205" stop-color="#002cea"/><stop offset="0.263" stop-color="#001fe4"/><stop offset="0.321" stop-color="#0013df"/><stop offset="0.366" stop-color="#000fd5"/><stop offset="0.411" stop-color="#000bcc"/><stop offset="0.513" stop-color="#000cd0"/><stop offset="0.616" stop-color="#000ed5"/><stop offset="0.643" stop-color="#001ae2"/><stop offset="0.661" stop-color="#0058f7"/><stop offset="0.670" stop-color="#0082ff"/><stop offset="0.683" stop-color="#00b6ff"/><stop offset="0.696" stop-color="#03e7fc"/><stop offset="0.705" stop-color="#17efe8"/><stop offset="0.732" stop-color="#68ff97"/><stop offset="0.741" stop-color="#58fda7"/><stop offset="0.777" stop-color="#1cf1e3"/><stop offset="0.812" stop-color="#00beff"/><stop offset="0.857" stop-color="#00b5ff"/><stop offset="0.884" stop-color="#00afff"/><stop offset="0.902" stop-color="#00b2ff"/><stop offset="0.938" stop-color="#00b9ff"/><stop offset="0.973" stop-color="#00c2ff"/><stop offset="1.000" stop-color="#00c8ff"/></linearGradient><linearGradient id="q158" x1="0" y1="0" x2="0" y2="1"><stop offset="0.000" stop-color="#0006c2"/><stop offset="0.049" stop-color="#000cd0"/><stop offset="0.098" stop-color="#0012de"/><stop offset="0.152" stop-color="#0020e5"/><stop offset="0.205" stop-color="#002eeb"/><stop offset="0.263" stop-color="#0021e5"/><stop offset="0.321" stop-color="#0014df"/><stop offset="0.366" stop-color="#000fd7"/><stop offset="0.411" stop-color="#000bcd"/><stop offset="0.513" stop-color="#000dd1"/><stop offset="0.616" stop-color="#000ed5"/><stop offset="0.643" stop-color="#001ae2"/><stop offset="0.661" stop-color="#0058f7"/><stop offset="0.670" stop-color="#0082ff"/><stop offset="0.683" stop-color="#00b7ff"/><stop offset="0.696" stop-color="#04e8fb"/><stop offset="0.705" stop-color="#18efe7"/><stop offset="0.732" stop-color="#6bff94"/><stop offset="0.741" stop-color="#5afda5"/><stop offset="0.777" stop-color="#1ff1e0"/><stop offset="0.812" stop-color="#00beff"/><stop offset="0.857" stop-color="#00b5ff"/><stop offset="0.884" stop-color="#00afff"/><stop offset="0.902" stop-color="#00b2ff"/><stop offset="0.938" stop-color="#00b9ff"/><stop offset="0.973" stop-color="#00c2ff"/><stop offset="1.000" stop-color="#00c8ff"/></linearGradient><linearGradient id="q159" x1="0" y1="0" x2="0" y2="1"><stop offset="0.000" stop-color="#0007c2"/><stop offset="0.049" stop-color="#000dd1"/><stop offset="0.098" stop-color="#0014df"/><stop offset="0.152" stop-color="#0022e6"/><stop offset="0.205" stop-color="#0030ec"/><stop offset="0.263" stop-color="#0023e6"/><stop offset="0.321" stop-color="#0016e0"/><stop offset="0.366" stop-color="#000fd8"/><stop offset="0.411" stop-color="#000bce"/><stop offset="0.513" stop-color="#000dd1"/><stop offset="0.616" stop-color="#000ed5"/><stop offset="0.643" stop-color="#001ae2"/><stop offset="0.661" stop-color="#0058f7"/><stop offset="0.670" stop-color="#0082ff"/><stop offset="0.683" stop-color="#00b7ff"/><stop offset="0.696" stop-color="#05e8fa"/><stop offset="0.705" stop-color="#19efe6"/><stop offset="0.732" stop-color="#6eff91"/><stop offset="0.741" stop-color="#5dfea2"/><stop offset="0.777" stop-color="#21f2de"/><stop offset="0.812" stop-color="#00beff"/><stop offset="0.857" stop-color="#00b5ff"/><stop offset="0.884" stop-color="#00afff"/><stop offset="0.902" stop-color="#00b2ff"/><stop offset="0.938" stop-color="#00b9ff"/><stop offset="0.973" stop-color="#00c2ff"/><stop offset="1.000" stop-color="#00c8ff"/></linearGradient><linearGradient id="q160" x1="0" y1="0" x2="0" y2="1"><stop offset="0.000" stop-color="#0007c2"/><stop offset="0.049" stop-color="#000dd2"/><stop offset="0.098" stop-color="#0016e0"/><stop offset="0.152" stop-color="#0024e7"/><stop offset="0.205" stop-color="#0032ed"/><stop offset="0.263" stop-color="#0024e7"/><stop offset="0.321" stop-color="#0017e0"/><stop offset="0.366" stop-color="#0010d9"/><stop offset="0.411" stop-color="#000cce"/><stop offset="0.513" stop-color="#000dd2"/><stop offset="0.616" stop-color="#000ed5"/><stop offset="0.643" stop-color="#001ae2"/><stop offset="0.661" stop-color="#0058f7"/><stop offset="0.670" stop-color="#0082ff"/><stop offset="0.683" stop-color="#00b8ff"/><stop offset="0.696" stop-color="#06e8f9"/><stop offset="0.705" stop-color="#1af0e5"/><stop offset="0.732" stop-color="#70ff8f"/><stop offset="0.741" stop-color="#5ffea0"/><stop offset="0.777" stop-color="#23f3dc"/><stop offset="0.812" stop-color="#00beff"/><stop offset="0.857" stop-color="#00b5ff"/><stop offset="0.884" stop-color="#00afff"/><stop offset="0.902" stop-color="#00b2ff"/><stop offset="0.938" stop-color="#00b9ff"/><stop offset="0.973" stop-color="#00c2ff"/><stop offset="1.000" stop-color="#00c8ff"/></linearGradient><linearGradient id="q161" x1="0" y1="0" x2="0" y2="1"><stop offset="0.000" stop-color="#0007c3"/><stop offset="0.049" stop-color="#000ed3"/><stop offset="0.098" stop-color="#0017e1"/><stop offset="0.152" stop-color="#0026e7"/><stop offset="0.205" stop-color="#0034ee"/><stop offset="0.263" stop-color="#0026e8"/><stop offset="0.321" stop-color="#0018e1"/><stop offset="0.366" stop-color="#0010da"/><stop offset="0.411" stop-color="#000ccf"/><stop offset="0.513" stop-color="#000dd2"/><stop offset="0.616" stop-color="#000ed5"/><stop offset="0.643" stop-color="#001ae2"/><stop offset="0.661" stop-color="#0058f7"/><stop offset="0.670" stop-color="#0082ff"/><stop offset="0.683" stop-color="#00b8ff"/><stop offset="0.696" stop-color="#07e8f8"/><stop offset="0.705" stop-color="#1bf0e4"/><stop offset="0.732" stop-color="#73ff8c"/><stop offset="0.741" stop-color="#62ff9d"/><stop offset="0.777" stop-color="#24f4db"/><stop offset="0.812" stop-color="#00beff"/><stop offset="0.857" stop-color="#00b5ff"/><stop offset="0.884" stop-color="#00afff"/><stop offset="0.902" stop-color="#00b2ff"/><stop offset="0.938" stop-color="#00b9ff"/><stop offset="0.973" stop-color="#00c2ff"/><stop offset="1.000" stop-color="#00c8ff"/></linearGradient><linearGradient id="q162" x1="0" y1="0" x2="0" y2="1"><stop offset="0.000" stop-color="#0007c3"/><stop offset="0.049" stop-color="#000ed4"/><stop offset="0.098" stop-color="#0019e1"/><stop offset="0.152" stop-color="#0027e8"/><stop offset="0.205" stop-color="#0035ef"/><stop offset="0.263" stop-color="#0027e8"/><stop offset="0.321" stop-color="#0019e1"/><stop offset="0.366" stop-color="#0011db"/><stop offset="0.411" stop-color="#000cd0"/><stop offset="0.513" stop-color="#000dd3"/><stop offset="0.616" stop-color="#000ed5"/><stop offset="0.643" stop-color="#001ae2"/><stop offset="0.661" stop-color="#0058f7"/><stop offset="0.670" stop-color="#0082ff"/><stop offset="0.683" stop-color="#00b8ff"/><stop offset="0.696" stop-color="#07e9f8"/><stop offset="0.705" stop-color="#1cf0e3"/><stop offset="0.732" stop-color="#75ff8a"/><stop offset="0.741" stop-color="#64ff9b"/><stop offset="0.777" stop-color="#26f4d9"/><stop offset="0.812" stop-color="#00beff"/><stop offset="0.857" stop-color="#00b5ff"/><stop offset="0.884" stop-color="#00afff"/><stop offset="0.902" stop-color="#00b2ff"/><stop offset="0.938" stop-color="#00b9ff"/><stop offset="0.973" stop-color="#00c2ff"/><stop offset="1.000" stop-color="#00c8ff"/></linearGradient><linearGradient id="q163" x1="0" y1="0" x2="0" y2="1"><stop offset="0.000" stop-color="#0007c3"/><stop offset="0.049" stop-color="#000ed5"/><stop offset="0.098" stop-color="#001ae2"/><stop offset="0.152" stop-color="#0028e9"/><stop offset="0.205" stop-color="#0037ef"/><stop offset="0.263" stop-color="#0028e9"/><stop offset="0.321" stop-color="#001ae2"/><stop offset="0.366" stop-color="#0011db"/><stop offset="0.411" stop-color="#000cd0"/><stop offset="0.513" stop-color="#000dd3"/><stop offset="0.616" stop-color="#000ed5"/><stop offset="0.643" stop-color="#001ae2"/><stop offset="0.661" stop-color="#0058f7"/><stop offset="0.670" stop-color="#0082ff"/><stop offset="0.683" stop-color="#00b9ff"/><stop offset="0.696" stop-color="#08e9f7"/><stop offset="0.705" stop-color="#1cf1e3"/><stop offset="0.732" stop-color="#76ff89"/><stop offset="0.741" stop-color="#65ff9a"/><stop offset="0.777" stop-color="#27f5d8"/><stop offset="0.812" stop-color="#00beff"/><stop offset="0.857" stop-color="#00b5ff"/><stop offset="0.884" stop-color="#00afff"/><stop offset="0.902" stop-color="#00b2ff"/><stop offset="0.938" stop-color="#00b9ff"/><stop offset="0.973" stop-color="#00c2ff"/><stop offset="1.000" stop-color="#00c8ff"/></linearGradient><linearGradient id="q164" x1="0" y1="0" x2="0" y2="1"><stop offset="0.000" stop-color="#0007c4"/><stop offset="0.049" stop-color="#000ed5"/><stop offset="0.098" stop-color="#001ae2"/><stop offset="0.152" stop-color="#0029e9"/><stop offset="0.205" stop-color="#0038f0"/><stop offset="0.263" stop-color="#0029e9"/><stop offset="0.321" stop-color="#001ae2"/><stop offset="0.366" stop-color="#0011dc"/><stop offset="0.411" stop-color="#000dd1"/><stop offset="0.513" stop-color="#000dd3"/><stop offset="0.616" stop-color="#000ed5"/><stop offset="0.643" stop-color="#001ae2"/><stop offset="0.661" stop-color="#0058f7"/><stop offset="0.670" stop-color="#0082ff"/><stop offset="0.683" stop-color="#00b9ff"/><stop offset="0.696" stop-color="#08e9f7"/><stop offset="0.705" stop-color="#1df1e2"/><stop offset="0.732" stop-color="#77ff88"/><stop offset="0.741" stop-color="#66ff99"/><stop offset="0.777" stop-color="#28f5d7"/><stop offset="0.812" stop-color="#00beff"/><stop offset="0.857" stop-color="#00b5ff"/><stop offset="0.884" stop-color="#00afff"/><stop offset="0.902" stop-color="#00b2ff"/><stop offset="0.938" stop-color="#00b9ff"/><stop offset="0.973" stop-color="#00c2ff"/><stop offset="1.000" stop-color="#00c8ff"/></linearGradient><linearGradient id="q165" x1="0" y1="0" x2="0" y2="1"><stop offset="0.000" stop-color="#0007c4"/><stop offset="0.049" stop-color="#000ed5"/><stop offset="0.098" stop-color="#001ae2"/><stop offset="0.152" stop-color="#0029e9"/><stop offset="0.205" stop-color="#0038f0"/><stop offset="0.263" stop-color="#0029e9"/><stop offset="0.321" stop-color="#001ae2"/><stop offset="0.366" stop-color="#0011dc"/><stop offset="0.411" stop-color="#000dd1"/><stop offset="0.513" stop-color="#000ed3"/><stop offset="0.616" stop-color="#000ed5"/><stop offset="0.643" stop-color="#001ae2"/><stop offset="0.661" stop-color="#0058f7"/><stop offset="0.670" stop-color="#0082ff"/><stop offset="0.683" stop-color="#00b9ff"/><stop offset="0.696" stop-color="#08e9f7"/><stop offset="0.705" stop-color="#1df1e2"/><stop offset="0.732" stop-color="#77ff88"/><stop offset="0.741" stop-color="#67ff98"/><stop offset="0.777" stop-color="#28f5d7"/><stop offset="0.812" stop-color="#00beff"/><stop offset="0.857" stop-color="#00b5ff"/><stop offset="0.884" stop-color="#00afff"/><stop offset="0.902" stop-color="#00b2ff"/><stop offset="0.938" stop-color="#00b9ff"/><stop offset="0.973" stop-color="#00c2ff"/><stop offset="1.000" stop-color="#00c8ff"/></linearGradient><clipPath id="hc5"><rect x="437.30" y="59.00" width="54.60" height="112.50"/></clipPath><linearGradient id="q166" x1="0" y1="0" x2="0" y2="1"><stop offset="0.000" stop-color="#0012de"/><stop offset="0.218" stop-color="#0014df"/><stop offset="0.436" stop-color="#0016e0"/><stop offset="0.480" stop-color="#001ce3"/><stop offset="0.524" stop-color="#0023e6"/><stop offset="0.578" stop-color="#003cf2"/><stop offset="0.587" stop-color="#004cf5"/><stop offset="0.613" stop-color="#007bfe"/><stop offset="0.622" stop-color="#0086ff"/><stop offset="0.658" stop-color="#00aaff"/><stop offset="0.667" stop-color="#00afff"/><stop offset="0.702" stop-color="#00c3ff"/><stop offset="0.711" stop-color="#00c0ff"/><stop offset="0.738" stop-color="#00b9ff"/><stop offset="0.747" stop-color="#00b2ff"/><stop offset="0.782" stop-color="#0096ff"/><stop offset="0.818" stop-color="#00a5ff"/><stop offset="0.849" stop-color="#00acff"/><stop offset="0.880" stop-color="#00b4ff"/><stop offset="0.924" stop-color="#00d2ff"/><stop offset="0.951" stop-color="#1ff1e0"/><stop offset="0.960" stop-color="#3cf8c3"/><stop offset="0.973" stop-color="#72ff8d"/><stop offset="1.000" stop-color="#a1ff5e"/></linearGradient><linearGradient id="q167" x1="0" y1="0" x2="0" y2="1"><stop offset="0.000" stop-color="#0012de"/><stop offset="0.218" stop-color="#0014df"/><stop offset="0.436" stop-color="#0016e0"/><stop offset="0.480" stop-color="#001ce3"/><stop offset="0.524" stop-color="#0023e6"/><stop offset="0.578" stop-color="#003cf2"/><stop offset="0.587" stop-color="#004cf5"/><stop offset="0.613" stop-color="#007bfe"/><stop offset="0.622" stop-color="#0086ff"/><stop offset="0.658" stop-color="#00aaff"/><stop offset="0.667" stop-color="#00afff"/><stop offset="0.702" stop-color="#00c3ff"/><stop offset="0.711" stop-color="#00c0ff"/><stop offset="0.738" stop-color="#00b9ff"/><stop offset="0.747" stop-color="#00b2ff"/><stop offset="0.782" stop-color="#0096ff"/><stop offset="0.818" stop-color="#00a5ff"/><stop offset="0.849" stop-color="#00acff"/><stop offset="0.880" stop-color="#00b4ff"/><stop offset="0.924" stop-color="#00d0ff"/><stop offset="0.951" stop-color="#16eee8"/><stop offset="0.960" stop-color="#28f5d7"/><stop offset="0.973" stop-color="#53fcac"/><stop offset="1.000" stop-color="#8bff74"/></linearGradient><linearGradient id="q168" x1="0" y1="0" x2="0" y2="1"><stop offset="0.000" stop-color="#0012de"/><stop offset="0.218" stop-color="#0014df"/><stop offset="0.436" stop-color="#0016e0"/><stop offset="0.480" stop-color="#001ce3"/><stop offset="0.524" stop-color="#0023e6"/><stop offset="0.578" stop-color="#003cf2"/><stop offset="0.587" stop-color="#004cf5"/><stop offset="0.613" stop-color="#007bfe"/><stop offset="0.622" stop-color="#0086ff"/><stop offset="0.658" stop-color="#00aaff"/><stop offset="0.667" stop-color="#00afff"/><stop offset="0.702" stop-color="#00c3ff"/><stop offset="0.711" stop-color="#00c0ff"/><stop offset="0.738" stop-color="#00b9ff"/><stop offset="0.747" stop-color="#00b2ff"/><stop offset="0.782" stop-color="#0096ff"/><stop offset="0.818" stop-color="#00a5ff"/><stop offset="0.849" stop-color="#00acff"/><stop offset="0.880" stop-color="#00b4ff"/><stop offset="0.924" stop-color="#00cdff"/><stop offset="0.951" stop-color="#0eebf1"/><stop offset="0.960" stop-color="#1af0e5"/><stop offset="0.973" stop-color="#35f7ca"/><stop offset="1.000" stop-color="#75ff8a"/></linearGradient><linearGradient id="q169" x1="0" y1="0" x2="0" y2="1"><stop offset="0.000" stop-color="#0012de"/><stop offset="0.218" stop-color="#0014df"/><stop offset="0.436" stop-color="#0016e0"/><stop offset="0.480" stop-color="#001ce3"/><stop offset="0.524" stop-color="#0023e6"/><stop offset="0.578" stop-color="#003cf2"/><stop offset="0.587" stop-color="#004cf5"/><stop offset="0.613" stop-color="#007bfe"/><stop offset="0.622" stop-color="#0086ff"/><stop offset="0.658" stop-color="#00aaff"/><stop offset="0.667" stop-color="#00afff"/><stop offset="0.702" stop-color="#00c3ff"/><stop offset="0.711" stop-color="#00c1ff"/><stop offset="0.738" stop-color="#00b9ff"/><stop offset="0.747" stop-color="#00b2ff"/><stop offset="0.782" stop-color="#0096ff"/><stop offset="0.818" stop-color="#00a5ff"/><stop offset="0.849" stop-color="#00acff"/><stop offset="0.880" stop-color="#00b4ff"/><stop offset="0.924" stop-color="#00cdff"/><stop offset="0.951" stop-color="#0cebf3"/><stop offset="0.960" stop-color="#17efe8"/><stop offset="0.973" stop-color="#2ef6d1"/><stop offset="1.000" stop-color="#6cff93"/></linearGradient><linearGradient id="q170" x1="0" y1="0" x2="0" y2="1"><stop offset="0.000" stop-color="#0012de"/><stop offset="0.218" stop-color="#0014df"/><stop offset="0.436" stop-color="#0016e0"/><stop offset="0.480" stop-color="#001ce3"/><stop offset="0.524" stop-color="#0023e6"/><stop offset="0.578" stop-color="#003cf2"/><stop offset="0.587" stop-color="#004cf5"/><stop offset="0.613" stop-color="#007bfe"/><stop offset="0.622" stop-color="#0086ff"/><stop offset="0.658" stop-color="#00aaff"/><stop offset="0.667" stop-color="#00afff"/><stop offset="0.702" stop-color="#00c3ff"/><stop offset="0.711" stop-color="#00c0ff"/><stop offset="0.738" stop-color="#00b9ff"/><stop offset="0.747" stop-color="#00b2ff"/><stop offset="0.782" stop-color="#0096ff"/><stop offset="0.818" stop-color="#00a5ff"/><stop offset="0.849" stop-color="#00acff"/><stop offset="0.880" stop-color="#00b4ff"/><stop offset="0.924" stop-color="#00cdff"/><stop offset="0.951" stop-color="#08e9f7"/><stop offset="0.960" stop-color="#12eded"/><stop offset="0.973" stop-color="#22f3dd"/><stop offset="1.000" stop-color="#4ffbb0"/></linearGradient><linearGradient id="q171" x1="0" y1="0" x2="0" y2="1"><stop offset="0.000" stop-color="#0012de"/><stop offset="0.218" stop-color="#0014df"/><stop offset="0.436" stop-color="#0016e0"/><stop offset="0.480" stop-color="#001ce3"/><stop offset="0.524" stop-color="#0023e6"/><stop offset="0.578" stop-color="#003cf2"/><stop offset="0.587" stop-color="#004cf5"/><stop offset="0.613" stop-color="#007bfe"/><stop offset="0.622" stop-color="#0086ff"/><stop offset="0.658" stop-color="#00aaff"/><stop offset="0.667" stop-color="#00afff"/><stop offset="0.702" stop-color="#00c3ff"/><stop offset="0.711" stop-color="#00c0ff"/><stop offset="0.738" stop-color="#00b9ff"/><stop offset="0.747" stop-color="#00b2ff"/><stop offset="0.782" stop-color="#0096ff"/><stop offset="0.818" stop-color="#00a5ff"/><stop offset="0.849" stop-color="#00acff"/><stop offset="0.880" stop-color="#00b4ff"/><stop offset="0.924" stop-color="#00cdff"/><stop offset="0.951" stop-color="#03e7fc"/><stop offset="0.960" stop-color="#0beaf4"/><stop offset="0.973" stop-color="#16eee9"/><stop offset="1.000" stop-color="#2df6d2"/></linearGradient><linearGradient id="q172" x1="0" y1="0" x2="0" y2="1"><stop offset="0.000" stop-color="#0012de"/><stop offset="0.218" stop-color="#0014df"/><stop offset="0.436" stop-color="#0016e0"/><stop offset="0.480" stop-color="#001ce3"/><stop offset="0.524" stop-color="#0023e6"/><stop offset="0.578" stop-color="#003cf2"/><stop offset="0.587" stop-color="#004cf5"/><stop offset="0.613" stop-color="#007bfe"/><stop offset="0.622" stop-color="#0086ff"/><stop offset="0.658" stop-color="#00aaff"/><stop offset="0.667" stop-color="#00afff"/><stop offset="0.702" stop-color="#00c3ff"/><stop offset="0.711" stop-color="#00c0ff"/><stop offset="0.738" stop-color="#00b9ff"/><stop offset="0.747" stop-color="#00b2ff"/><stop offset="0.782" stop-color="#0096ff"/><stop offset="0.818" stop-color="#00a5ff"/><stop offset="0.849" stop-color="#00acff"/><stop offset="0.880" stop-color="#00b4ff"/><stop offset="0.924" stop-color="#00cdff"/><stop offset="0.951" stop-color="#01e6fe"/><stop offset="0.960" stop-color="#08e9f7"/><stop offset="0.973" stop-color="#10ecef"/><stop offset="1.000" stop-color="#20f2df"/></linearGradient><linearGradient id="q173" x1="0" y1="0" x2="0" y2="1"><stop offset="0.000" stop-color="#0012de"/><stop offset="0.218" stop-color="#0014df"/><stop offset="0.436" stop-color="#0016e0"/><stop offset="0.480" stop-color="#001de3"/><stop offset="0.524" stop-color="#0023e6"/><stop offset="0.578" stop-color="#003cf2"/><stop offset="0.587" stop-color="#004cf5"/><stop offset="0.613" stop-color="#007bfe"/><stop offset="0.622" stop-color="#0086ff"/><stop offset="0.658" stop-color="#00aaff"/><stop offset="0.667" stop-color="#00afff"/><stop offset="0.702" stop-color="#00c3ff"/><stop offset="0.711" stop-color="#00c0ff"/><stop offset="0.738" stop-color="#00b9ff"/><stop offset="0.747" stop-color="#00b2ff"/><stop offset="0.782" stop-color="#0096ff"/><stop offset="0.818" stop-color="#00a5ff"/><stop offset="0.849" stop-color="#00acff"/><stop offset="0.880" stop-color="#00b4ff"/><stop offset="0.924" stop-color="#00cdff"/><stop offset="0.951" stop-color="#01e6fe"/><stop offset="0.960" stop-color="#08e9f7"/><stop offset="0.973" stop-color="#10ecef"/><stop offset="1.000" stop-color="#20f2df"/></linearGradient><linearGradient id="q174" x1="0" y1="0" x2="0" y2="1"><stop offset="0.000" stop-color="#0012de"/><stop offset="0.218" stop-color="#0014df"/><stop offset="0.436" stop-color="#0016e0"/><stop offset="0.480" stop-color="#001ce3"/><stop offset="0.524" stop-color="#0023e6"/><stop offset="0.578" stop-color="#003cf2"/><stop offset="0.587" stop-color="#004bf5"/><stop offset="0.613" stop-color="#007afe"/><stop offset="0.622" stop-color="#0086ff"/><stop offset="0.658" stop-color="#00aaff"/><stop offset="0.667" stop-color="#00afff"/><stop offset="0.702" stop-color="#00c3ff"/><stop offset="0.711" stop-color="#00c0ff"/><stop offset="0.738" stop-color="#00b9ff"/><stop offset="0.747" stop-color="#00b2ff"/><stop offset="0.782" stop-color="#0096ff"/><stop offset="0.818" stop-color="#00a5ff"/><stop offset="0.849" stop-color="#00acff"/><stop offset="0.880" stop-color="#00b4ff"/><stop offset="0.924" stop-color="#00cdff"/><stop offset="0.951" stop-color="#01e6fe"/><stop offset="0.960" stop-color="#08e9f7"/><stop offset="0.973" stop-color="#10ecef"/><stop offset="1.000" stop-color="#1ff2e0"/></linearGradient><linearGradient id="q175" x1="0" y1="0" x2="0" y2="1"><stop offset="0.000" stop-color="#0012de"/><stop offset="0.218" stop-color="#0014df"/><stop offset="0.436" stop-color="#0016e0"/><stop offset="0.480" stop-color="#001ce3"/><stop offset="0.524" stop-color="#0023e6"/><stop offset="0.578" stop-color="#003cf2"/><stop offset="0.587" stop-color="#004bf5"/><stop offset="0.613" stop-color="#007afd"/><stop offset="0.622" stop-color="#0085ff"/><stop offset="0.658" stop-color="#00a9ff"/><stop offset="0.667" stop-color="#00aeff"/><stop offset="0.702" stop-color="#00c2ff"/><stop offset="0.711" stop-color="#00c0ff"/><stop offset="0.738" stop-color="#00b9ff"/><stop offset="0.747" stop-color="#00b2ff"/><stop offset="0.782" stop-color="#0096ff"/><stop offset="0.818" stop-color="#00a5ff"/><stop offset="0.849" stop-color="#00acff"/><stop offset="0.880" stop-color="#00b4ff"/><stop offset="0.924" stop-color="#00cdff"/><stop offset="0.951" stop-color="#00e6ff"/><stop offset="0.960" stop-color="#07e9f8"/><stop offset="0.973" stop-color="#0fecf0"/><stop offset="1.000" stop-color="#1ff2e0"/></linearGradient><linearGradient id="q176" x1="0" y1="0" x2="0" y2="1"><stop offset="0.000" stop-color="#0012de"/><stop offset="0.218" stop-color="#0014df"/><stop offset="0.436" stop-color="#0016e0"/><stop offset="0.480" stop-color="#001de3"/><stop offset="0.524" stop-color="#0023e6"/><stop offset="0.578" stop-color="#003cf2"/><stop offset="0.587" stop-color="#004af5"/><stop offset="0.613" stop-color="#0079fd"/><stop offset="0.622" stop-color="#0085ff"/><stop offset="0.658" stop-color="#00a8ff"/><stop offset="0.667" stop-color="#00aeff"/><stop offset="0.702" stop-color="#00c1ff"/><stop offset="0.711" stop-color="#00bfff"/><stop offset="0.738" stop-color="#00b8ff"/><stop offset="0.747" stop-color="#00b2ff"/><stop offset="0.782" stop-color="#0096ff"/><stop offset="0.818" stop-color="#00a5ff"/><stop offset="0.849" stop-color="#00acff"/><stop offset="0.880" stop-color="#00b4ff"/><stop offset="0.924" stop-color="#00cdff"/><stop offset="0.951" stop-color="#00e6ff"/><stop offset="0.960" stop-color="#07e9f8"/><stop offset="0.973" stop-color="#0eebf1"/><stop offset="1.000" stop-color="#1ef1e1"/></linearGradient><linearGradient id="q177" x1="0" y1="0" x2="0" y2="1"><stop offset="0.000" stop-color="#0012de"/><stop offset="0.218" stop-color="#0014df"/><stop offset="0.436" stop-color="#0016e0"/><stop offset="0.480" stop-color="#001ce3"/><stop offset="0.524" stop-color="#0023e6"/><stop offset="0.578" stop-color="#003bf2"/><stop offset="0.587" stop-color="#0049f5"/><stop offset="0.613" stop-color="#0078fd"/><stop offset="0.622" stop-color="#0084ff"/><stop offset="0.658" stop-color="#00a7ff"/><stop offset="0.667" stop-color="#00adff"/><stop offset="0.702" stop-color="#00c0ff"/><stop offset="0.711" stop-color="#00bfff"/><stop offset="0.738" stop-color="#00b8ff"/><stop offset="0.747" stop-color="#00b2ff"/><stop offset="0.782" stop-color="#0095ff"/><stop offset="0.818" stop-color="#00a4ff"/><stop offset="0.849" stop-color="#00acff"/><stop offset="0.880" stop-color="#00b3ff"/><stop offset="0.924" stop-color="#00ccff"/><stop offset="0.951" stop-color="#00e5ff"/><stop offset="0.960" stop-color="#06e8f9"/><stop offset="0.973" stop-color="#0eebf1"/><stop offset="1.000" stop-color="#1df1e2"/></linearGradient><linearGradient id="q178" x1="0" y1="0" x2="0" y2="1"><stop offset="0.000" stop-color="#0012de"/><stop offset="0.218" stop-color="#0014df"/><stop offset="0.436" stop-color="#0016e0"/><stop offset="0.480" stop-color="#001ce3"/><stop offset="0.524" stop-color="#0023e6"/><stop offset="0.578" stop-color="#003bf2"/><stop offset="0.587" stop-color="#0049f4"/><stop offset="0.613" stop-color="#0077fd"/><stop offset="0.622" stop-color="#0083ff"/><stop offset="0.658" stop-color="#00a6ff"/><stop offset="0.667" stop-color="#00acff"/><stop offset="0.702" stop-color="#00bfff"/><stop offset="0.711" stop-color="#00beff"/><stop offset="0.738" stop-color="#00b7ff"/><stop offset="0.747" stop-color="#00b1ff"/><stop offset="0.782" stop-color="#0095ff"/><stop offset="0.818" stop-color="#00a4ff"/><stop offset="0.849" stop-color="#00acff"/><stop offset="0.880" stop-color="#00b3ff"/><stop offset="0.924" stop-color="#00ccff"/><stop offset="0.951" stop-color="#00e5ff"/><stop offset="0.960" stop-color="#06e8f9"/><stop offset="0.973" stop-color="#0debf2"/><stop offset="1.000" stop-color="#1bf0e4"/></linearGradient><linearGradient id="q179" x1="0" y1="0" x2="0" y2="1"><stop offset="0.000" stop-color="#0012de"/><stop offset="0.218" stop-color="#0014df"/><stop offset="0.436" stop-color="#0016e0"/><stop offset="0.480" stop-color="#001ce3"/><stop offset="0.524" stop-color="#0023e6"/><stop offset="0.578" stop-color="#003bf2"/><stop offset="0.587" stop-color="#0048f4"/><stop offset="0.613" stop-color="#0076fd"/><stop offset="0.622" stop-color="#0082ff"/><stop offset="0.658" stop-color="#00a5ff"/><stop offset="0.667" stop-color="#00abff"/><stop offset="0.702" stop-color="#00beff"/><stop offset="0.711" stop-color="#00bdff"/><stop offset="0.738" stop-color="#00b7ff"/><stop offset="0.747" stop-color="#00b1ff"/><stop offset="0.782" stop-color="#0095ff"/><stop offset="0.818" stop-color="#00a4ff"/><stop offset="0.849" stop-color="#00abff"/><stop offset="0.880" stop-color="#00b3ff"/><stop offset="0.924" stop-color="#00ccff"/><stop offset="0.951" stop-color="#00e4ff"/><stop offset="0.960" stop-color="#05e8fa"/><stop offset="0.973" stop-color="#0ceaf3"/><stop offset="1.000" stop-color="#1af0e5"/></linearGradient><linearGradient id="q180" x1="0" y1="0" x2="0" y2="1"><stop offset="0.000" stop-color="#0012de"/><stop offset="0.218" stop-color="#0014df"/><stop offset="0.436" stop-color="#0016e0"/><stop offset="0.480" stop-color="#001ce3"/><stop offset="0.524" stop-color="#0023e6"/><stop offset="0.578" stop-color="#003bf1"/><stop offset="0.587" stop-color="#0047f4"/><stop offset="0.613" stop-color="#0074fc"/><stop offset="0.622" stop-color="#0081ff"/><stop offset="0.658" stop-color="#00a4ff"/><stop offset="0.667" stop-color="#00aaff"/><stop offset="0.702" stop-color="#00bdff"/><stop offset="0.711" stop-color="#00bcff"/><stop offset="0.738" stop-color="#00b6ff"/><stop offset="0.747" stop-color="#00b1ff"/><stop offset="0.782" stop-color="#0094ff"/><stop offset="0.818" stop-color="#00a3ff"/><stop offset="0.849" stop-color="#00abff"/><stop offset="0.880" stop-color="#00b2ff"/><stop offset="0.924" stop-color="#00cbff"/><stop offset="0.951" stop-color="#00e3ff"/><stop offset="0.960" stop-color="#04e8fb"/><stop offset="0.973" stop-color="#0beaf4"/><stop offset="1.000" stop-color="#18efe7"/></linearGradient><linearGradient id="q181" x1="0" y1="0" x2="0" y2="1"><stop offset="0.000" stop-color="#0012de"/><stop offset="0.218" stop-color="#0014df"/><stop offset="0.436" stop-color="#0016e0"/><stop offset="0.480" stop-color="#001ce3"/><stop offset="0.524" stop-color="#0023e6"/><stop offset="0.578" stop-color="#003bf1"/><stop offset="0.587" stop-color="#0046f4"/><stop offset="0.613" stop-color="#0073fc"/><stop offset="0.622" stop-color="#0080ff"/><stop offset="0.658" stop-color="#00a3ff"/><stop offset="0.667" stop-color="#00a9ff"/><stop offset="0.702" stop-color="#00bcff"/><stop offset="0.711" stop-color="#00bcff"/><stop offset="0.738" stop-color="#00b6ff"/><stop offset="0.747" stop-color="#00b1ff"/><stop offset="0.782" stop-color="#0094ff"/><stop offset="0.818" stop-color="#00a3ff"/><stop offset="0.849" stop-color="#00abff"/><stop offset="0.880" stop-color="#00b2ff"/><stop offset="0.924" stop-color="#00cbff"/><stop offset="0.951" stop-color="#00e2ff"/><stop offset="0.960" stop-color="#03e7fc"/><stop offset="0.973" stop-color="#0aeaf5"/><stop offset="1.000" stop-color="#17eee8"/></linearGradient><linearGradient id="q182" x1="0" y1="0" x2="0" y2="1"><stop offset="0.000" stop-color="#0012de"/><stop offset="0.218" stop-color="#0014df"/><stop offset="0.436" stop-color="#0016e0"/><stop offset="0.480" stop-color="#001ce3"/><stop offset="0.524" stop-color="#0023e6"/><stop offset="0.578" stop-color="#003af1"/><stop offset="0.587" stop-color="#0044f4"/><stop offset="0.613" stop-color="#0071fc"/><stop offset="0.622" stop-color="#007efe"/><stop offset="0.658" stop-color="#00a2ff"/><stop offset="0.667" stop-color="#00a8ff"/><stop offset="0.702" stop-color="#00baff"/><stop offset="0.711" stop-color="#00bbff"/><stop offset="0.738" stop-color="#00b5ff"/><stop offset="0.747" stop-color="#00b1ff"/><stop offset="0.782" stop-color="#0094ff"/><stop offset="0.818" stop-color="#00a3ff"/><stop offset="0.849" stop-color="#00aaff"/><stop offset="0.880" stop-color="#00b2ff"/><stop offset="0.924" stop-color="#00cbff"/><stop offset="0.951" stop-color="#00e1ff"/><stop offset="0.960" stop-color="#02e7fd"/><stop offset="0.973" stop-color="#09e9f6"/><stop offset="1.000" stop-color="#15eeea"/></linearGradient><linearGradient id="q183" x1="0" y1="0" x2="0" y2="1"><stop offset="0.000" stop-color="#0012de"/><stop offset="0.218" stop-color="#0014df"/><stop offset="0.436" stop-color="#0016e0"/><stop offset="0.480" stop-color="#001ce3"/><stop offset="0.524" stop-color="#0023e6"/><stop offset="0.578" stop-color="#003af1"/><stop offset="0.587" stop-color="#0043f3"/><stop offset="0.613" stop-color="#0070fc"/><stop offset="0.622" stop-color="#007dfe"/><stop offset="0.658" stop-color="#00a0ff"/><stop offset="0.667" stop-color="#00a7ff"/><stop offset="0.702" stop-color="#00b9ff"/><stop offset="0.711" stop-color="#00baff"/><stop offset="0.738" stop-color="#00b4ff"/><stop offset="0.747" stop-color="#00b0ff"/><stop offset="0.782" stop-color="#0093ff"/><stop offset="0.818" stop-color="#00a2ff"/><stop offset="0.849" stop-color="#00aaff"/><stop offset="0.880" stop-color="#00b1ff"/><stop offset="0.924" stop-color="#00caff"/><stop offset="0.951" stop-color="#00e1ff"/><stop offset="0.960" stop-color="#02e7fd"/><stop offset="0.973" stop-color="#07e9f8"/><stop offset="1.000" stop-color="#13edec"/></linearGradient><linearGradient id="q184" x1="0" y1="0" x2="0" y2="1"><stop offset="0.000" stop-color="#0012de"/><stop offset="0.218" stop-color="#0014df"/><stop offset="0.436" stop-color="#0016e0"/><stop offset="0.480" stop-color="#001ce3"/><stop offset="0.524" stop-color="#0023e6"/><stop offset="0.578" stop-color="#003af1"/><stop offset="0.587" stop-color="#0042f3"/><stop offset="0.613" stop-color="#006efb"/><stop offset="0.622" stop-color="#007cfe"/><stop offset="0.658" stop-color="#009fff"/><stop offset="0.667" stop-color="#00a6ff"/><stop offset="0.702" stop-color="#00b7ff"/><stop offset="0.711" stop-color="#00b9ff"/><stop offset="0.738" stop-color="#00b4ff"/><stop offset="0.747" stop-color="#00b0ff"/><stop offset="0.782" stop-color="#0093ff"/><stop offset="0.818" stop-color="#00a2ff"/><stop offset="0.849" stop-color="#00a9ff"/><stop offset="0.880" stop-color="#00b1ff"/><stop offset="0.924" stop-color="#00caff"/><stop offset="0.951" stop-color="#00e0ff"/><stop offset="0.960" stop-color="#01e6fe"/><stop offset="0.973" stop-color="#06e8f9"/><stop offset="1.000" stop-color="#11edee"/></linearGradient><linearGradient id="q185" x1="0" y1="0" x2="0" y2="1"><stop offset="0.000" stop-color="#0012de"/><stop offset="0.218" stop-color="#0014df"/><stop offset="0.436" stop-color="#0016e0"/><stop offset="0.480" stop-color="#001ce3"/><stop offset="0.524" stop-color="#0023e6"/><stop offset="0.578" stop-color="#003af1"/><stop offset="0.587" stop-color="#0041f3"/><stop offset="0.613" stop-color="#006dfb"/><stop offset="0.622" stop-color="#007afe"/><stop offset="0.658" stop-color="#009eff"/><stop offset="0.667" stop-color="#00a5ff"/><stop offset="0.702" stop-color="#00b6ff"/><stop offset="0.711" stop-color="#00b8ff"/><stop offset="0.738" stop-color="#00b3ff"/><stop offset="0.747" stop-color="#00b0ff"/><stop offset="0.782" stop-color="#0093ff"/><stop offset="0.818" stop-color="#00a2ff"/><stop offset="0.849" stop-color="#00a9ff"/><stop offset="0.880" stop-color="#00b1ff"/><stop offset="0.924" stop-color="#00caff"/><stop offset="0.951" stop-color="#00dfff"/><stop offset="0.960" stop-color="#00e6ff"/><stop offset="0.973" stop-color="#05e8fa"/><stop offset="1.000" stop-color="#10ecef"/></linearGradient><linearGradient id="q186" x1="0" y1="0" x2="0" y2="1"><stop offset="0.000" stop-color="#0012de"/><stop offset="0.218" stop-color="#0014df"/><stop offset="0.436" stop-color="#0016e0"/><stop offset="0.480" stop-color="#001ce3"/><stop offset="0.524" stop-color="#0023e6"/><stop offset="0.578" stop-color="#0039f1"/><stop offset="0.587" stop-color="#0040f3"/><stop offset="0.613" stop-color="#006bfb"/><stop offset="0.622" stop-color="#0079fd"/><stop offset="0.658" stop-color="#009dff"/><stop offset="0.667" stop-color="#00a4ff"/><stop offset="0.702" stop-color="#00b5ff"/><stop offset="0.711" stop-color="#00b7ff"/><stop offset="0.738" stop-color="#00b3ff"/><stop offset="0.747" stop-color="#00b0ff"/><stop offset="0.782" stop-color="#0092ff"/><stop offset="0.818" stop-color="#00a1ff"/><stop offset="0.849" stop-color="#00a9ff"/><stop offset="0.880" stop-color="#00b0ff"/><stop offset="0.924" stop-color="#00c9ff"/><stop offset="0.951" stop-color="#00deff"/><stop offset="0.960" stop-color="#00e5ff"/><stop offset="0.973" stop-color="#04e8fb"/><stop offset="1.000" stop-color="#0eebf1"/></linearGradient><linearGradient id="q187" x1="0" y1="0" x2="0" y2="1"><stop offset="0.000" stop-color="#0012de"/><stop offset="0.218" stop-color="#0014df"/><stop offset="0.436" stop-color="#0016e0"/><stop offset="0.480" stop-color="#001ce3"/><stop offset="0.524" stop-color="#0023e6"/><stop offset="0.578" stop-color="#0039f1"/><stop offset="0.587" stop-color="#003ff3"/><stop offset="0.613" stop-color="#006afb"/><stop offset="0.622" stop-color="#0078fd"/><stop offset="0.658" stop-color="#009cff"/><stop offset="0.667" stop-color="#00a3ff"/><stop offset="0.702" stop-color="#00b4ff"/><stop offset="0.711" stop-color="#00b6ff"/><stop offset="0.738" stop-color="#00b2ff"/><stop offset="0.747" stop-color="#00b0ff"/><stop offset="0.782" stop-color="#0092ff"/><stop offset="0.818" stop-color="#00a1ff"/><stop offset="0.849" stop-color="#00a8ff"/><stop offset="0.880" stop-color="#00b0ff"/><stop offset="0.924" stop-color="#00c9ff"/><stop offset="0.951" stop-color="#00ddff"/><stop offset="0.960" stop-color="#00e4ff"/><stop offset="0.973" stop-color="#03e7fc"/><stop offset="1.000" stop-color="#0debf2"/></linearGradient><linearGradient id="q188" x1="0" y1="0" x2="0" y2="1"><stop offset="0.000" stop-color="#0012de"/><stop offset="0.218" stop-color="#0014df"/><stop offset="0.436" stop-color="#0016e0"/><stop offset="0.480" stop-color="#001ce3"/><stop offset="0.524" stop-color="#0023e6"/><stop offset="0.578" stop-color="#0039f1"/><stop offset="0.587" stop-color="#003ef2"/><stop offset="0.613" stop-color="#0069fa"/><stop offset="0.622" stop-color="#0077fd"/><stop offset="0.658" stop-color="#009bff"/><stop offset="0.667" stop-color="#00a2ff"/><stop offset="0.702" stop-color="#00b3ff"/><stop offset="0.711" stop-color="#00b6ff"/><stop offset="0.738" stop-color="#00b2ff"/><stop offset="0.747" stop-color="#00afff"/><stop offset="0.782" stop-color="#0092ff"/><stop offset="0.818" stop-color="#00a1ff"/><stop offset="0.849" stop-color="#00a8ff"/><stop offset="0.880" stop-color="#00b0ff"/><stop offset="0.924" stop-color="#00c9ff"/><stop offset="0.951" stop-color="#00ddff"/><stop offset="0.960" stop-color="#00e3ff"/><stop offset="0.973" stop-color="#02e7fd"/><stop offset="1.000" stop-color="#0beaf4"/></linearGradient><linearGradient id="q189" x1="0" y1="0" x2="0" y2="1"><stop offset="0.000" stop-color="#0012de"/><stop offset="0.218" stop-color="#0014df"/><stop offset="0.436" stop-color="#0016e0"/><stop offset="0.480" stop-color="#001ce3"/><stop offset="0.524" stop-color="#0023e6"/><stop offset="0.578" stop-color="#0039f0"/><stop offset="0.587" stop-color="#003df2"/><stop offset="0.613" stop-color="#0068fa"/><stop offset="0.622" stop-color="#0076fd"/><stop offset="0.658" stop-color="#009aff"/><stop offset="0.667" stop-color="#00a1ff"/><stop offset="0.702" stop-color="#00b2ff"/><stop offset="0.711" stop-color="#00b5ff"/><stop offset="0.738" stop-color="#00b1ff"/><stop offset="0.747" stop-color="#00afff"/><stop offset="0.782" stop-color="#0091ff"/><stop offset="0.818" stop-color="#00a0ff"/><stop offset="0.849" stop-color="#00a8ff"/><stop offset="0.880" stop-color="#00afff"/><stop offset="0.924" stop-color="#00c8ff"/><stop offset="0.951" stop-color="#00dcff"/><stop offset="0.960" stop-color="#00e2ff"/><stop offset="0.973" stop-color="#02e7fd"/><stop offset="1.000" stop-color="#0aeaf5"/></linearGradient><linearGradient id="q190" x1="0" y1="0" x2="0" y2="1"><stop offset="0.000" stop-color="#0012de"/><stop offset="0.218" stop-color="#0014df"/><stop offset="0.436" stop-color="#0016e0"/><stop offset="0.480" stop-color="#001ce3"/><stop offset="0.524" stop-color="#0023e6"/><stop offset="0.578" stop-color="#0039f0"/><stop offset="0.587" stop-color="#003df2"/><stop offset="0.613" stop-color="#0067fa"/><stop offset="0.622" stop-color="#0075fd"/><stop offset="0.658" stop-color="#0099ff"/><stop offset="0.667" stop-color="#00a1ff"/><stop offset="0.702" stop-color="#00b1ff"/><stop offset="0.711" stop-color="#00b5ff"/><stop offset="0.738" stop-color="#00b1ff"/><stop offset="0.747" stop-color="#00afff"/><stop offset="0.782" stop-color="#0091ff"/><stop offset="0.818" stop-color="#00a0ff"/><stop offset="0.849" stop-color="#00a8ff"/><stop offset="0.880" stop-color="#00afff"/><stop offset="0.924" stop-color="#00c8ff"/><stop offset="0.951" stop-color="#00dbff"/><stop offset="0.960" stop-color="#00e2ff"/><stop offset="0.973" stop-color="#01e6fe"/><stop offset="1.000" stop-color="#09e9f6"/></linearGradient><linearGradient id="q191" x1="0" y1="0" x2="0" y2="1"><stop offset="0.000" stop-color="#0012de"/><stop offset="0.218" stop-color="#0014df"/><stop offset="0.436" stop-color="#0016e0"/><stop offset="0.480" stop-color="#001ce3"/><stop offset="0.524" stop-color="#0023e6"/><stop offset="0.578" stop-color="#0038f0"/><stop offset="0.587" stop-color="#003cf2"/><stop offset="0.613" stop-color="#0067fa"/><stop offset="0.622" stop-color="#0074fc"/><stop offset="0.658" stop-color="#0098ff"/><stop offset="0.667" stop-color="#00a0ff"/><stop offset="0.702" stop-color="#00b0ff"/><stop offset="0.711" stop-color="#00b4ff"/><stop offset="0.738" stop-color="#00b0ff"/><stop offset="0.747" stop-color="#00afff"/><stop offset="0.782" stop-color="#0091ff"/><stop offset="0.818" stop-color="#00a0ff"/><stop offset="0.849" stop-color="#00a8ff"/><stop offset="0.880" stop-color="#00afff"/><stop offset="0.924" stop-color="#00c8ff"/><stop offset="0.951" stop-color="#00dbff"/><stop offset="0.960" stop-color="#00e1ff"/><stop offset="0.973" stop-color="#00e6ff"/><stop offset="1.000" stop-color="#09e9f6"/></linearGradient><linearGradient id="q192" x1="0" y1="0" x2="0" y2="1"><stop offset="0.000" stop-color="#0012de"/><stop offset="0.218" stop-color="#0014df"/><stop offset="0.436" stop-color="#0016e0"/><stop offset="0.480" stop-color="#001ce3"/><stop offset="0.524" stop-color="#0023e6"/><stop offset="0.578" stop-color="#0038f0"/><stop offset="0.587" stop-color="#003cf2"/><stop offset="0.613" stop-color="#0066fa"/><stop offset="0.622" stop-color="#0074fc"/><stop offset="0.658" stop-color="#0098ff"/><stop offset="0.667" stop-color="#00a0ff"/><stop offset="0.702" stop-color="#00b0ff"/><stop offset="0.711" stop-color="#00b4ff"/><stop offset="0.738" stop-color="#00b0ff"/><stop offset="0.747" stop-color="#00afff"/><stop offset="0.782" stop-color="#0091ff"/><stop offset="0.818" stop-color="#00a0ff"/><stop offset="0.849" stop-color="#00a8ff"/><stop offset="0.880" stop-color="#00afff"/><stop offset="0.924" stop-color="#00c8ff"/><stop offset="0.951" stop-color="#00dbff"/><stop offset="0.960" stop-color="#00e1ff"/><stop offset="0.973" stop-color="#00e6ff"/><stop offset="1.000" stop-color="#08e9f7"/></linearGradient><linearGradient id="q193" x1="0" y1="0" x2="0" y2="1"><stop offset="0.000" stop-color="#0012de"/><stop offset="0.218" stop-color="#0014df"/><stop offset="0.436" stop-color="#0016e0"/><stop offset="0.480" stop-color="#001ce3"/><stop offset="0.524" stop-color="#0023e6"/><stop offset="0.578" stop-color="#0038f0"/><stop offset="0.587" stop-color="#003cf2"/><stop offset="0.613" stop-color="#0066fa"/><stop offset="0.622" stop-color="#0074fc"/><stop offset="0.658" stop-color="#0098ff"/><stop offset="0.667" stop-color="#00a0ff"/><stop offset="0.702" stop-color="#00b0ff"/><stop offset="0.711" stop-color="#00b4ff"/><stop offset="0.738" stop-color="#00b0ff"/><stop offset="0.747" stop-color="#00afff"/><stop offset="0.782" stop-color="#0091ff"/><stop offset="0.818" stop-color="#00a0ff"/><stop offset="0.849" stop-color="#00a8ff"/><stop offset="0.880" stop-color="#00afff"/><stop offset="0.924" stop-color="#00c8ff"/><stop offset="0.951" stop-color="#00dbff"/><stop offset="0.960" stop-color="#00e1ff"/><stop offset="0.973" stop-color="#00e6ff"/><stop offset="1.000" stop-color="#08e9f7"/></linearGradient><clipPath id="hc6"><rect x="502.00" y="59.50" width="107.80" height="111.20"/></clipPath><linearGradient id="q194" x1="0" y1="0" x2="0" y2="1"><stop offset="0.000" stop-color="#0004bb"/><stop offset="0.182" stop-color="#0005bf"/><stop offset="0.364" stop-color="#0007c4"/><stop offset="0.506" stop-color="#000ccf"/><stop offset="0.648" stop-color="#0010da"/><stop offset="0.657" stop-color="#001de3"/><stop offset="0.675" stop-color="#003cf2"/><stop offset="0.684" stop-color="#0066fa"/><stop offset="0.689" stop-color="#007bfe"/><stop offset="0.693" stop-color="#008cff"/><stop offset="0.702" stop-color="#00aaff"/><stop offset="0.711" stop-color="#00beff"/><stop offset="0.716" stop-color="#00c8ff"/><stop offset="0.720" stop-color="#00d2ff"/><stop offset="0.729" stop-color="#00e6ff"/><stop offset="0.738" stop-color="#0cebf3"/><stop offset="0.747" stop-color="#18efe7"/><stop offset="0.756" stop-color="#24f4db"/><stop offset="0.765" stop-color="#34f7cb"/><stop offset="0.774" stop-color="#3af8c5"/><stop offset="0.783" stop-color="#40f9bf"/><stop offset="0.792" stop-color="#46fab9"/><stop offset="0.801" stop-color="#4cfbb3"/><stop offset="0.810" stop-color="#44fabb"/><stop offset="0.819" stop-color="#3cf8c3"/><stop offset="0.828" stop-color="#34f7cb"/><stop offset="0.837" stop-color="#21f3de"/><stop offset="0.846" stop-color="#13edec"/><stop offset="0.855" stop-color="#04e8fb"/><stop offset="0.864" stop-color="#00e4ff"/><stop offset="0.882" stop-color="#00d5ff"/><stop offset="0.891" stop-color="#00cdff"/><stop offset="0.895" stop-color="#00caff"/><stop offset="0.904" stop-color="#00c3ff"/><stop offset="0.922" stop-color="#00b4ff"/><stop offset="0.949" stop-color="#00a2ff"/><stop offset="0.967" stop-color="#0096ff"/><stop offset="1.000" stop-color="#0091ff"/></linearGradient><linearGradient id="q195" x1="0" y1="0" x2="0" y2="1"><stop offset="0.000" stop-color="#0004bb"/><stop offset="0.182" stop-color="#0005bf"/><stop offset="0.364" stop-color="#0007c4"/><stop offset="0.506" stop-color="#000ccf"/><stop offset="0.648" stop-color="#0010da"/><stop offset="0.657" stop-color="#001de3"/><stop offset="0.675" stop-color="#003cf2"/><stop offset="0.684" stop-color="#0066fa"/><stop offset="0.689" stop-color="#007bfe"/><stop offset="0.693" stop-color="#008cff"/><stop offset="0.702" stop-color="#00aaff"/><stop offset="0.711" stop-color="#00beff"/><stop offset="0.716" stop-color="#00c8ff"/><stop offset="0.720" stop-color="#00d2ff"/><stop offset="0.729" stop-color="#00e6ff"/><stop offset="0.738" stop-color="#0cebf3"/><stop offset="0.747" stop-color="#18efe7"/><stop offset="0.756" stop-color="#25f4da"/><stop offset="0.765" stop-color="#35f7ca"/><stop offset="0.774" stop-color="#3bf8c4"/><stop offset="0.783" stop-color="#42f9bd"/><stop offset="0.792" stop-color="#48fab7"/><stop offset="0.801" stop-color="#4efbb1"/><stop offset="0.810" stop-color="#46fab9"/><stop offset="0.819" stop-color="#3ef9c1"/><stop offset="0.828" stop-color="#35f7ca"/><stop offset="0.837" stop-color="#22f3dd"/><stop offset="0.846" stop-color="#13edec"/><stop offset="0.855" stop-color="#04e8fb"/><stop offset="0.864" stop-color="#00e4ff"/><stop offset="0.882" stop-color="#00d5ff"/><stop offset="0.891" stop-color="#00cdff"/><stop offset="0.895" stop-color="#00caff"/><stop offset="0.904" stop-color="#00c3ff"/><stop offset="0.922" stop-color="#00b4ff"/><stop offset="0.949" stop-color="#00a2ff"/><stop offset="0.967" stop-color="#0096ff"/><stop offset="1.000" stop-color="#0091ff"/></linearGradient><linearGradient id="q196" x1="0" y1="0" x2="0" y2="1"><stop offset="0.000" stop-color="#0004bb"/><stop offset="0.182" stop-color="#0005bf"/><stop offset="0.364" stop-color="#0007c4"/><stop offset="0.506" stop-color="#000ccf"/><stop offset="0.648" stop-color="#0010da"/><stop offset="0.657" stop-color="#001de3"/><stop offset="0.675" stop-color="#003cf2"/><stop offset="0.684" stop-color="#0066fa"/><stop offset="0.689" stop-color="#007bfe"/><stop offset="0.693" stop-color="#008cff"/><stop offset="0.702" stop-color="#00aaff"/><stop offset="0.711" stop-color="#00beff"/><stop offset="0.716" stop-color="#00c8ff"/><stop offset="0.720" stop-color="#00d2ff"/><stop offset="0.729" stop-color="#00e6ff"/><stop offset="0.738" stop-color="#0debf2"/><stop offset="0.747" stop-color="#19efe6"/><stop offset="0.756" stop-color="#26f4d9"/><stop offset="0.765" stop-color="#37f7c8"/><stop offset="0.774" stop-color="#3ef9c1"/><stop offset="0.783" stop-color="#45faba"/><stop offset="0.792" stop-color="#4cfbb3"/><stop offset="0.801" stop-color="#51fcae"/><stop offset="0.810" stop-color="#48fab7"/><stop offset="0.819" stop-color="#40f9bf"/><stop offset="0.828" stop-color="#36f7c9"/><stop offset="0.837" stop-color="#22f3dd"/><stop offset="0.846" stop-color="#13edec"/><stop offset="0.855" stop-color="#05e8fa"/><stop offset="0.864" stop-color="#00e4ff"/><stop offset="0.882" stop-color="#00d5ff"/><stop offset="0.891" stop-color="#00ceff"/><stop offset="0.895" stop-color="#00cbff"/><stop offset="0.904" stop-color="#00c3ff"/><stop offset="0.922" stop-color="#00b4ff"/><stop offset="0.949" stop-color="#00a3ff"/><stop offset="0.967" stop-color="#0097ff"/><stop offset="1.000" stop-color="#0092ff"/></linearGradient><linearGradient id="q197" x1="0" y1="0" x2="0" y2="1"><stop offset="0.000" stop-color="#0004bb"/><stop offset="0.182" stop-color="#0005bf"/><stop offset="0.364" stop-color="#0007c4"/><stop offset="0.506" stop-color="#000ccf"/><stop offset="0.648" stop-color="#0010da"/><stop offset="0.657" stop-color="#001de3"/><stop offset="0.675" stop-color="#003cf2"/><stop offset="0.684" stop-color="#0066fa"/><stop offset="0.689" stop-color="#007bfe"/><stop offset="0.693" stop-color="#008cff"/><stop offset="0.702" stop-color="#00aaff"/><stop offset="0.711" stop-color="#00beff"/><stop offset="0.716" stop-color="#00c8ff"/><stop offset="0.720" stop-color="#00d2ff"/><stop offset="0.729" stop-color="#00e6ff"/><stop offset="0.738" stop-color="#0debf2"/><stop offset="0.747" stop-color="#1af0e5"/><stop offset="0.756" stop-color="#27f5d8"/><stop offset="0.765" stop-color="#39f8c6"/><stop offset="0.774" stop-color="#41f9be"/><stop offset="0.783" stop-color="#49fab6"/><stop offset="0.792" stop-color="#51fcae"/><stop offset="0.801" stop-color="#55fcaa"/><stop offset="0.810" stop-color="#4cfbb3"/><stop offset="0.819" stop-color="#44fabb"/><stop offset="0.828" stop-color="#38f8c7"/><stop offset="0.837" stop-color="#23f3dc"/><stop offset="0.846" stop-color="#13edec"/><stop offset="0.855" stop-color="#06e8f9"/><stop offset="0.864" stop-color="#00e5ff"/><stop offset="0.882" stop-color="#00d6ff"/><stop offset="0.891" stop-color="#00ceff"/><stop offset="0.895" stop-color="#00cbff"/><stop offset="0.904" stop-color="#00c4ff"/><stop offset="0.922" stop-color="#00b5ff"/><stop offset="0.949" stop-color="#00a3ff"/><stop offset="0.967" stop-color="#0097ff"/><stop offset="1.000" stop-color="#0092ff"/></linearGradient><linearGradient id="q198" x1="0" y1="0" x2="0" y2="1"><stop offset="0.000" stop-color="#0004bb"/><stop offset="0.182" stop-color="#0005bf"/><stop offset="0.364" stop-color="#0007c4"/><stop offset="0.506" stop-color="#000ccf"/><stop offset="0.648" stop-color="#0010da"/><stop offset="0.657" stop-color="#001de3"/><stop offset="0.675" stop-color="#003cf2"/><stop offset="0.684" stop-color="#0066fa"/><stop offset="0.689" stop-color="#007bfe"/><stop offset="0.693" stop-color="#008cff"/><stop offset="0.702" stop-color="#00aaff"/><stop offset="0.711" stop-color="#00beff"/><stop offset="0.716" stop-color="#00c8ff"/><stop offset="0.720" stop-color="#00d2ff"/><stop offset="0.729" stop-color="#00e6ff"/><stop offset="0.738" stop-color="#0eebf1"/><stop offset="0.747" stop-color="#1bf0e4"/><stop offset="0.756" stop-color="#2af5d5"/><stop offset="0.765" stop-color="#3cf8c3"/><stop offset="0.774" stop-color="#45faba"/><stop offset="0.783" stop-color="#4efbb1"/><stop offset="0.792" stop-color="#57fda8"/><stop offset="0.801" stop-color="#59fda6"/><stop offset="0.810" stop-color="#51fcae"/><stop offset="0.819" stop-color="#49fab6"/><stop offset="0.828" stop-color="#3bf8c4"/><stop offset="0.837" stop-color="#24f4db"/><stop offset="0.846" stop-color="#14edeb"/><stop offset="0.855" stop-color="#07e8f8"/><stop offset="0.864" stop-color="#00e6ff"/><stop offset="0.882" stop-color="#00d6ff"/><stop offset="0.891" stop-color="#00cfff"/><stop offset="0.895" stop-color="#00ccff"/><stop offset="0.904" stop-color="#00c4ff"/><stop offset="0.922" stop-color="#00b5ff"/><stop offset="0.949" stop-color="#00a4ff"/><stop offset="0.967" stop-color="#0098ff"/><stop offset="1.000" stop-color="#0093ff"/></linearGradient><linearGradient id="q199" x1="0" y1="0" x2="0" y2="1"><stop offset="0.000" stop-color="#0004bb"/><stop offset="0.182" stop-color="#0005bf"/><stop offset="0.364" stop-color="#0007c4"/><stop offset="0.506" stop-color="#000ccf"/><stop offset="0.648" stop-color="#0010da"/><stop offset="0.657" stop-color="#001de3"/><stop offset="0.675" stop-color="#003cf2"/><stop offset="0.684" stop-color="#0066fa"/><stop offset="0.689" stop-color="#007bfe"/><stop offset="0.693" stop-color="#008cff"/><stop offset="0.702" stop-color="#00aaff"/><stop offset="0.711" stop-color="#00beff"/><stop offset="0.716" stop-color="#00c8ff"/><stop offset="0.720" stop-color="#00d2ff"/><stop offset="0.729" stop-color="#00e6ff"/><stop offset="0.738" stop-color="#0eebf1"/><stop offset="0.747" stop-color="#1df1e2"/><stop offset="0.756" stop-color="#2df6d2"/><stop offset="0.765" stop-color="#3ff9c0"/><stop offset="0.774" stop-color="#4afbb5"/><stop offset="0.783" stop-color="#54fcab"/><stop offset="0.792" stop-color="#5efea1"/><stop offset="0.801" stop-color="#5ffea0"/><stop offset="0.810" stop-color="#56fda9"/><stop offset="0.819" stop-color="#4efbb1"/><stop offset="0.828" stop-color="#3ef9c1"/><stop offset="0.837" stop-color="#25f4da"/><stop offset="0.846" stop-color="#14eeeb"/><stop offset="0.855" stop-color="#08e9f7"/><stop offset="0.864" stop-color="#01e6fe"/><stop offset="0.882" stop-color="#00d7ff"/><stop offset="0.891" stop-color="#00cfff"/><stop offset="0.895" stop-color="#00ccff"/><stop offset="0.904" stop-color="#00c5ff"/><stop offset="0.922" stop-color="#00b6ff"/><stop offset="0.949" stop-color="#00a4ff"/><stop offset="0.967" stop-color="#0099ff"/><stop offset="1.000" stop-color="#0094ff"/></linearGradient><linearGradient id="q200" x1="0" y1="0" x2="0" y2="1"><stop offset="0.000" stop-color="#0004bb"/><stop offset="0.182" stop-color="#0005bf"/><stop offset="0.364" stop-color="#0007c4"/><stop offset="0.506" stop-color="#000ccf"/><stop offset="0.648" stop-color="#0010da"/><stop offset="0.657" stop-color="#001de3"/><stop offset="0.675" stop-color="#003cf2"/><stop offset="0.684" stop-color="#0066fa"/><stop offset="0.689" stop-color="#007bfe"/><stop offset="0.693" stop-color="#008cff"/><stop offset="0.702" stop-color="#00aaff"/><stop offset="0.711" stop-color="#00beff"/><stop offset="0.716" stop-color="#00c8ff"/><stop offset="0.720" stop-color="#00d2ff"/><stop offset="0.729" stop-color="#00e6ff"/><stop offset="0.738" stop-color="#0fecf0"/><stop offset="0.747" stop-color="#1ef1e1"/><stop offset="0.756" stop-color="#30f6cf"/><stop offset="0.765" stop-color="#43fabc"/><stop offset="0.774" stop-color="#4efbb1"/><stop offset="0.783" stop-color="#5afda5"/><stop offset="0.792" stop-color="#65ff9a"/><stop offset="0.801" stop-color="#65ff9a"/><stop offset="0.810" stop-color="#5cfea3"/><stop offset="0.819" stop-color="#53fcac"/><stop offset="0.828" stop-color="#41f9be"/><stop offset="0.837" stop-color="#27f5d8"/><stop offset="0.846" stop-color="#15eeea"/><stop offset="0.855" stop-color="#09e9f6"/><stop offset="0.864" stop-color="#02e7fd"/><stop offset="0.882" stop-color="#00d8ff"/><stop offset="0.891" stop-color="#00d0ff"/><stop offset="0.895" stop-color="#00cdff"/><stop offset="0.904" stop-color="#00c5ff"/><stop offset="0.922" stop-color="#00b6ff"/><stop offset="0.949" stop-color="#00a5ff"/><stop offset="0.967" stop-color="#009aff"/><stop offset="1.000" stop-color="#0095ff"/></linearGradient><linearGradient id="q201" x1="0" y1="0" x2="0" y2="1"><stop offset="0.000" stop-color="#0004bb"/><stop offset="0.182" stop-color="#0005bf"/><stop offset="0.364" stop-color="#0007c4"/><stop offset="0.506" stop-color="#000ccf"/><stop offset="0.648" stop-color="#0010da"/><stop offset="0.657" stop-color="#001de3"/><stop offset="0.675" stop-color="#003cf2"/><stop offset="0.684" stop-color="#0066fa"/><stop offset="0.689" stop-color="#007bfe"/><stop offset="0.693" stop-color="#008cff"/><stop offset="0.702" stop-color="#00aaff"/><stop offset="0.711" stop-color="#00beff"/><stop offset="0.716" stop-color="#00c8ff"/><stop offset="0.720" stop-color="#00d2ff"/><stop offset="0.729" stop-color="#00e6ff"/><stop offset="0.738" stop-color="#10ecef"/><stop offset="0.747" stop-color="#20f2df"/><stop offset="0.756" stop-color="#34f7cb"/><stop offset="0.765" stop-color="#47fab8"/><stop offset="0.774" stop-color="#53fcac"/><stop offset="0.783" stop-color="#60fe9f"/><stop offset="0.792" stop-color="#6eff91"/><stop offset="0.801" stop-color="#6cff93"/><stop offset="0.810" stop-color="#62ff9d"/><stop offset="0.819" stop-color="#59fda6"/><stop offset="0.828" stop-color="#44fabb"/><stop offset="0.837" stop-color="#28f5d7"/><stop offset="0.846" stop-color="#15eeea"/><stop offset="0.855" stop-color="#0aeaf5"/><stop offset="0.864" stop-color="#03e7fc"/><stop offset="0.882" stop-color="#00d8ff"/><stop offset="0.891" stop-color="#00d1ff"/><stop offset="0.895" stop-color="#00cdff"/><stop offset="0.904" stop-color="#00c6ff"/><stop offset="0.922" stop-color="#00b6ff"/><stop offset="0.949" stop-color="#00a6ff"/><stop offset="0.967" stop-color="#009bff"/><stop offset="1.000" stop-color="#0096ff"/></linearGradient><linearGradient id="q202" x1="0" y1="0" x2="0" y2="1"><stop offset="0.000" stop-color="#0004bb"/><stop offset="0.182" stop-color="#0005bf"/><stop offset="0.364" stop-color="#0007c4"/><stop offset="0.506" stop-color="#000ccf"/><stop offset="0.648" stop-color="#0010da"/><stop offset="0.657" stop-color="#001de3"/><stop offset="0.675" stop-color="#003cf2"/><stop offset="0.684" stop-color="#0066fa"/><stop offset="0.689" stop-color="#007bfe"/><stop offset="0.693" stop-color="#008cff"/><stop offset="0.702" stop-color="#00aaff"/><stop offset="0.711" stop-color="#00beff"/><stop offset="0.716" stop-color="#00c8ff"/><stop offset="0.720" stop-color="#00d2ff"/><stop offset="0.729" stop-color="#00e6ff"/><stop offset="0.738" stop-color="#11ecee"/><stop offset="0.747" stop-color="#22f3dd"/><stop offset="0.756" stop-color="#38f8c7"/><stop offset="0.765" stop-color="#4afbb5"/><stop offset="0.774" stop-color="#59fda6"/><stop offset="0.783" stop-color="#67ff98"/><stop offset="0.792" stop-color="#76ff89"/><stop offset="0.801" stop-color="#72ff8d"/><stop offset="0.810" stop-color="#68ff97"/><stop offset="0.819" stop-color="#5ffea0"/><stop offset="0.828" stop-color="#47fab8"/><stop offset="0.837" stop-color="#2af5d5"/><stop offset="0.846" stop-color="#16eee9"/><stop offset="0.855" stop-color="#0beaf4"/><stop offset="0.864" stop-color="#04e7fb"/><stop offset="0.882" stop-color="#00d9ff"/><stop offset="0.891" stop-color="#00d1ff"/><stop offset="0.895" stop-color="#00ceff"/><stop offset="0.904" stop-color="#00c6ff"/><stop offset="0.922" stop-color="#00b7ff"/><stop offset="0.949" stop-color="#00a7ff"/><stop offset="0.967" stop-color="#009cff"/><stop offset="1.000" stop-color="#0097ff"/></linearGradient><linearGradient id="q203" x1="0" y1="0" x2="0" y2="1"><stop offset="0.000" stop-color="#0004bb"/><stop offset="0.182" stop-color="#0005bf"/><stop offset="0.364" stop-color="#0007c4"/><stop offset="0.506" stop-color="#000ccf"/><stop offset="0.648" stop-color="#0010da"/><stop offset="0.657" stop-color="#001de3"/><stop offset="0.675" stop-color="#003cf2"/><stop offset="0.684" stop-color="#0066fa"/><stop offset="0.689" stop-color="#007bfe"/><stop offset="0.693" stop-color="#008cff"/><stop offset="0.702" stop-color="#00aaff"/><stop offset="0.711" stop-color="#00beff"/><stop offset="0.716" stop-color="#00c8ff"/><stop offset="0.720" stop-color="#00d2ff"/><stop offset="0.729" stop-color="#00e6ff"/><stop offset="0.738" stop-color="#12eded"/><stop offset="0.747" stop-color="#23f3dc"/><stop offset="0.756" stop-color="#3bf8c4"/><stop offset="0.765" stop-color="#4efbb1"/><stop offset="0.774" stop-color="#5dfea2"/><stop offset="0.783" stop-color="#6eff91"/><stop offset="0.792" stop-color="#7eff81"/><stop offset="0.801" stop-color="#79ff86"/><stop offset="0.810" stop-color="#6fff90"/><stop offset="0.819" stop-color="#64ff9b"/><stop offset="0.828" stop-color="#4afbb5"/><stop offset="0.837" stop-color="#2cf6d3"/><stop offset="0.846" stop-color="#16eee9"/><stop offset="0.855" stop-color="#0cebf3"/><stop offset="0.864" stop-color="#05e8fa"/><stop offset="0.882" stop-color="#00daff"/><stop offset="0.891" stop-color="#00d2ff"/><stop offset="0.895" stop-color="#00cfff"/><stop offset="0.904" stop-color="#00c7ff"/><stop offset="0.922" stop-color="#00b7ff"/><stop offset="0.949" stop-color="#00a8ff"/><stop offset="0.967" stop-color="#009dff"/><stop offset="1.000" stop-color="#0098ff"/></linearGradient><linearGradient id="q204" x1="0" y1="0" x2="0" y2="1"><stop offset="0.000" stop-color="#0004bb"/><stop offset="0.182" stop-color="#0005bf"/><stop offset="0.364" stop-color="#0007c4"/><stop offset="0.506" stop-color="#000ccf"/><stop offset="0.648" stop-color="#0010da"/><stop offset="0.657" stop-color="#001de3"/><stop offset="0.675" stop-color="#003cf2"/><stop offset="0.684" stop-color="#0066fa"/><stop offset="0.689" stop-color="#007bfe"/><stop offset="0.693" stop-color="#008cff"/><stop offset="0.702" stop-color="#00aaff"/><stop offset="0.711" stop-color="#00beff"/><stop offset="0.716" stop-color="#00c8ff"/><stop offset="0.720" stop-color="#00d2ff"/><stop offset="0.729" stop-color="#00e6ff"/><stop offset="0.738" stop-color="#12eded"/><stop offset="0.747" stop-color="#25f4da"/><stop offset="0.756" stop-color="#3ef9c1"/><stop offset="0.765" stop-color="#51fcae"/><stop offset="0.774" stop-color="#62ff9d"/><stop offset="0.783" stop-color="#74ff8b"/><stop offset="0.792" stop-color="#86ff79"/><stop offset="0.801" stop-color="#7fff80"/><stop offset="0.810" stop-color="#74ff8b"/><stop offset="0.819" stop-color="#6aff95"/><stop offset="0.828" stop-color="#4dfbb2"/><stop offset="0.837" stop-color="#2ef6d1"/><stop offset="0.846" stop-color="#17efe8"/><stop offset="0.855" stop-color="#0debf2"/><stop offset="0.864" stop-color="#06e8f9"/><stop offset="0.882" stop-color="#00daff"/><stop offset="0.891" stop-color="#00d3ff"/><stop offset="0.895" stop-color="#00cfff"/><stop offset="0.904" stop-color="#00c8ff"/><stop offset="0.922" stop-color="#00b8ff"/><stop offset="0.949" stop-color="#00a8ff"/><stop offset="0.967" stop-color="#009eff"/><stop offset="1.000" stop-color="#0099ff"/></linearGradient><linearGradient id="q205" x1="0" y1="0" x2="0" y2="1"><stop offset="0.000" stop-color="#0004bb"/><stop offset="0.182" stop-color="#0005bf"/><stop offset="0.364" stop-color="#0007c4"/><stop offset="0.506" stop-color="#000ccf"/><stop offset="0.648" stop-color="#0010da"/><stop offset="0.657" stop-color="#001de3"/><stop offset="0.675" stop-color="#003cf2"/><stop offset="0.684" stop-color="#0066fa"/><stop offset="0.689" stop-color="#007bfe"/><stop offset="0.693" stop-color="#008cff"/><stop offset="0.702" stop-color="#00aaff"/><stop offset="0.711" stop-color="#00beff"/><stop offset="0.716" stop-color="#00c8ff"/><stop offset="0.720" stop-color="#00d2ff"/><stop offset="0.729" stop-color="#00e6ff"/><stop offset="0.738" stop-color="#13edec"/><stop offset="0.747" stop-color="#26f4d9"/><stop offset="0.756" stop-color="#41f9be"/><stop offset="0.765" stop-color="#54fcab"/><stop offset="0.774" stop-color="#66ff99"/><stop offset="0.783" stop-color="#79ff86"/><stop offset="0.792" stop-color="#8cff73"/><stop offset="0.801" stop-color="#84ff7b"/><stop offset="0.810" stop-color="#79ff86"/><stop offset="0.819" stop-color="#6fff90"/><stop offset="0.828" stop-color="#50fcaf"/><stop offset="0.837" stop-color="#2ff6d0"/><stop offset="0.846" stop-color="#17efe8"/><stop offset="0.855" stop-color="#0eebf1"/><stop offset="0.864" stop-color="#07e8f8"/><stop offset="0.882" stop-color="#00dbff"/><stop offset="0.891" stop-color="#00d3ff"/><stop offset="0.895" stop-color="#00d0ff"/><stop offset="0.904" stop-color="#00c8ff"/><stop offset="0.922" stop-color="#00b8ff"/><stop offset="0.949" stop-color="#00a9ff"/><stop offset="0.967" stop-color="#009fff"/><stop offset="1.000" stop-color="#009aff"/></linearGradient><linearGradient id="q206" x1="0" y1="0" x2="0" y2="1"><stop offset="0.000" stop-color="#0004bb"/><stop offset="0.182" stop-color="#0005bf"/><stop offset="0.364" stop-color="#0007c4"/><stop offset="0.506" stop-color="#000ccf"/><stop offset="0.648" stop-color="#0010da"/><stop offset="0.657" stop-color="#001de3"/><stop offset="0.675" stop-color="#003cf2"/><stop offset="0.684" stop-color="#0066fa"/><stop offset="0.689" stop-color="#007bfe"/><stop offset="0.693" stop-color="#008cff"/><stop offset="0.702" stop-color="#00aaff"/><stop offset="0.711" stop-color="#00beff"/><stop offset="0.716" stop-color="#00c8ff"/><stop offset="0.720" stop-color="#00d2ff"/><stop offset="0.729" stop-color="#00e6ff"/><stop offset="0.738" stop-color="#13edec"/><stop offset="0.747" stop-color="#27f5d8"/><stop offset="0.756" stop-color="#43fabc"/><stop offset="0.765" stop-color="#57fda8"/><stop offset="0.774" stop-color="#6aff95"/><stop offset="0.783" stop-color="#7eff81"/><stop offset="0.792" stop-color="#92ff6d"/><stop offset="0.801" stop-color="#88ff77"/><stop offset="0.810" stop-color="#7eff81"/><stop offset="0.819" stop-color="#73ff8c"/><stop offset="0.828" stop-color="#52fcad"/><stop offset="0.837" stop-color="#31f6ce"/><stop offset="0.846" stop-color="#18efe7"/><stop offset="0.855" stop-color="#0fecf0"/><stop offset="0.864" stop-color="#07e9f8"/><stop offset="0.882" stop-color="#00dbff"/><stop offset="0.891" stop-color="#00d4ff"/><stop offset="0.895" stop-color="#00d0ff"/><stop offset="0.904" stop-color="#00c8ff"/><stop offset="0.922" stop-color="#00b9ff"/><stop offset="0.949" stop-color="#00a9ff"/><stop offset="0.967" stop-color="#009fff"/><stop offset="1.000" stop-color="#009aff"/></linearGradient><linearGradient id="q207" x1="0" y1="0" x2="0" y2="1"><stop offset="0.000" stop-color="#0004bb"/><stop offset="0.182" stop-color="#0005bf"/><stop offset="0.364" stop-color="#0007c4"/><stop offset="0.506" stop-color="#000ccf"/><stop offset="0.648" stop-color="#0010da"/><stop offset="0.657" stop-color="#001de3"/><stop offset="0.675" stop-color="#003cf2"/><stop offset="0.684" stop-color="#0066fa"/><stop offset="0.689" stop-color="#007bfe"/><stop offset="0.693" stop-color="#008cff"/><stop offset="0.702" stop-color="#00aaff"/><stop offset="0.711" stop-color="#00beff"/><stop offset="0.716" stop-color="#00c8ff"/><stop offset="0.720" stop-color="#00d2ff"/><stop offset="0.729" stop-color="#00e6ff"/><stop offset="0.738" stop-color="#14edeb"/><stop offset="0.747" stop-color="#28f5d7"/><stop offset="0.756" stop-color="#45faba"/><stop offset="0.765" stop-color="#58fda7"/><stop offset="0.774" stop-color="#6cff93"/><stop offset="0.783" stop-color="#81ff7e"/><stop offset="0.792" stop-color="#96ff69"/><stop offset="0.801" stop-color="#8bff74"/><stop offset="0.810" stop-color="#81ff7e"/><stop offset="0.819" stop-color="#76ff89"/><stop offset="0.828" stop-color="#53fcac"/><stop offset="0.837" stop-color="#31f7ce"/><stop offset="0.846" stop-color="#18efe7"/><stop offset="0.855" stop-color="#10ecef"/><stop offset="0.864" stop-color="#08e9f7"/><stop offset="0.882" stop-color="#00dcff"/><stop offset="0.891" stop-color="#00d4ff"/><stop offset="0.895" stop-color="#00d1ff"/><stop offset="0.904" stop-color="#00c9ff"/><stop offset="0.922" stop-color="#00b9ff"/><stop offset="0.949" stop-color="#00aaff"/><stop offset="0.967" stop-color="#00a0ff"/><stop offset="1.000" stop-color="#009bff"/></linearGradient><linearGradient id="q208" x1="0" y1="0" x2="0" y2="1"><stop offset="0.000" stop-color="#0004bb"/><stop offset="0.182" stop-color="#0005bf"/><stop offset="0.364" stop-color="#0007c4"/><stop offset="0.506" stop-color="#000ccf"/><stop offset="0.648" stop-color="#0010da"/><stop offset="0.657" stop-color="#001de3"/><stop offset="0.675" stop-color="#003cf2"/><stop offset="0.684" stop-color="#0066fa"/><stop offset="0.689" stop-color="#007bfe"/><stop offset="0.693" stop-color="#008cff"/><stop offset="0.702" stop-color="#00aaff"/><stop offset="0.711" stop-color="#00beff"/><stop offset="0.716" stop-color="#00c8ff"/><stop offset="0.720" stop-color="#00d2ff"/><stop offset="0.729" stop-color="#00e6ff"/><stop offset="0.738" stop-color="#14edeb"/><stop offset="0.747" stop-color="#28f5d7"/><stop offset="0.756" stop-color="#46fab9"/><stop offset="0.765" stop-color="#59fda6"/><stop offset="0.774" stop-color="#6eff91"/><stop offset="0.783" stop-color="#83ff7c"/><stop offset="0.792" stop-color="#98ff67"/><stop offset="0.801" stop-color="#8dff72"/><stop offset="0.810" stop-color="#82ff7d"/><stop offset="0.819" stop-color="#77ff88"/><stop offset="0.828" stop-color="#54fcab"/><stop offset="0.837" stop-color="#32f7cd"/><stop offset="0.846" stop-color="#18efe7"/><stop offset="0.855" stop-color="#10ecef"/><stop offset="0.864" stop-color="#08e9f7"/><stop offset="0.882" stop-color="#00dcff"/><stop offset="0.891" stop-color="#00d4ff"/><stop offset="0.895" stop-color="#00d1ff"/><stop offset="0.904" stop-color="#00c9ff"/><stop offset="0.922" stop-color="#00b9ff"/><stop offset="0.949" stop-color="#00aaff"/><stop offset="0.967" stop-color="#00a0ff"/><stop offset="1.000" stop-color="#009bff"/></linearGradient><linearGradient id="q209" x1="0" y1="0" x2="0" y2="1"><stop offset="0.000" stop-color="#0004bb"/><stop offset="0.182" stop-color="#0005bf"/><stop offset="0.364" stop-color="#0007c4"/><stop offset="0.506" stop-color="#000ccf"/><stop offset="0.648" stop-color="#0010da"/><stop offset="0.657" stop-color="#001de3"/><stop offset="0.675" stop-color="#003cf2"/><stop offset="0.684" stop-color="#0066fa"/><stop offset="0.689" stop-color="#007bfe"/><stop offset="0.693" stop-color="#008cff"/><stop offset="0.702" stop-color="#00aaff"/><stop offset="0.711" stop-color="#00beff"/><stop offset="0.716" stop-color="#00c8ff"/><stop offset="0.720" stop-color="#00d2ff"/><stop offset="0.729" stop-color="#00e6ff"/><stop offset="0.738" stop-color="#14eeeb"/><stop offset="0.747" stop-color="#28f5d7"/><stop offset="0.756" stop-color="#46fab9"/><stop offset="0.765" stop-color="#59fda6"/><stop offset="0.774" stop-color="#6eff91"/><stop offset="0.783" stop-color="#83ff7c"/><stop offset="0.792" stop-color="#98ff67"/><stop offset="0.801" stop-color="#8dff72"/><stop offset="0.810" stop-color="#82ff7d"/><stop offset="0.819" stop-color="#77ff88"/><stop offset="0.828" stop-color="#54fcab"/><stop offset="0.837" stop-color="#32f7cd"/><stop offset="0.846" stop-color="#18efe7"/><stop offset="0.855" stop-color="#10ecef"/><stop offset="0.864" stop-color="#08e9f7"/><stop offset="0.882" stop-color="#00dcff"/><stop offset="0.891" stop-color="#00d4ff"/><stop offset="0.895" stop-color="#00d1ff"/><stop offset="0.904" stop-color="#00c9ff"/><stop offset="0.922" stop-color="#00b9ff"/><stop offset="0.949" stop-color="#00aaff"/><stop offset="0.967" stop-color="#00a0ff"/><stop offset="1.000" stop-color="#009bff"/></linearGradient><linearGradient id="q210" x1="0" y1="0" x2="0" y2="1"><stop offset="0.000" stop-color="#0004bb"/><stop offset="0.182" stop-color="#0005bf"/><stop offset="0.364" stop-color="#0007c4"/><stop offset="0.506" stop-color="#000ccf"/><stop offset="0.648" stop-color="#0010da"/><stop offset="0.657" stop-color="#001de3"/><stop offset="0.675" stop-color="#003cf2"/><stop offset="0.684" stop-color="#0064f9"/><stop offset="0.689" stop-color="#0079fd"/><stop offset="0.693" stop-color="#008bff"/><stop offset="0.702" stop-color="#00a9ff"/><stop offset="0.711" stop-color="#00beff"/><stop offset="0.716" stop-color="#00c8ff"/><stop offset="0.720" stop-color="#00d2ff"/><stop offset="0.729" stop-color="#00e6ff"/><stop offset="0.738" stop-color="#14eeeb"/><stop offset="0.747" stop-color="#28f5d7"/><stop offset="0.756" stop-color="#45faba"/><stop offset="0.765" stop-color="#59fda6"/><stop offset="0.774" stop-color="#6cff93"/><stop offset="0.783" stop-color="#81ff7e"/><stop offset="0.792" stop-color="#95ff6a"/><stop offset="0.801" stop-color="#8bff74"/><stop offset="0.810" stop-color="#80ff7f"/><stop offset="0.819" stop-color="#75ff8a"/><stop offset="0.828" stop-color="#53fcac"/><stop offset="0.837" stop-color="#31f7ce"/><stop offset="0.846" stop-color="#18efe7"/><stop offset="0.855" stop-color="#10ecef"/><stop offset="0.864" stop-color="#08e9f7"/><stop offset="0.882" stop-color="#00dcff"/><stop offset="0.891" stop-color="#00d4ff"/><stop offset="0.895" stop-color="#00d1ff"/><stop offset="0.904" stop-color="#00c9ff"/><stop offset="0.922" stop-color="#00baff"/><stop offset="0.949" stop-color="#00acff"/><stop offset="0.967" stop-color="#00a2ff"/><stop offset="1.000" stop-color="#009dff"/></linearGradient><linearGradient id="q211" x1="0" y1="0" x2="0" y2="1"><stop offset="0.000" stop-color="#0004bb"/><stop offset="0.182" stop-color="#0005bf"/><stop offset="0.364" stop-color="#0007c4"/><stop offset="0.506" stop-color="#000ccf"/><stop offset="0.648" stop-color="#0010da"/><stop offset="0.657" stop-color="#001de3"/><stop offset="0.675" stop-color="#003bf1"/><stop offset="0.684" stop-color="#0061f9"/><stop offset="0.689" stop-color="#0077fd"/><stop offset="0.693" stop-color="#0089ff"/><stop offset="0.702" stop-color="#00a7ff"/><stop offset="0.711" stop-color="#00bdff"/><stop offset="0.716" stop-color="#00c7ff"/><stop offset="0.720" stop-color="#00d1ff"/><stop offset="0.729" stop-color="#00e6ff"/><stop offset="0.738" stop-color="#14eeeb"/><stop offset="0.747" stop-color="#27f5d8"/><stop offset="0.756" stop-color="#44fabb"/><stop offset="0.765" stop-color="#58fda7"/><stop offset="0.774" stop-color="#6aff95"/><stop offset="0.783" stop-color="#7eff81"/><stop offset="0.792" stop-color="#91ff6e"/><stop offset="0.801" stop-color="#89ff76"/><stop offset="0.810" stop-color="#7dff82"/><stop offset="0.819" stop-color="#72ff8d"/><stop offset="0.828" stop-color="#51fcae"/><stop offset="0.837" stop-color="#30f6cf"/><stop offset="0.846" stop-color="#18efe7"/><stop offset="0.855" stop-color="#0fecf0"/><stop offset="0.864" stop-color="#07e9f8"/><stop offset="0.882" stop-color="#00dcff"/><stop offset="0.891" stop-color="#00d4ff"/><stop offset="0.895" stop-color="#00d1ff"/><stop offset="0.904" stop-color="#00caff"/><stop offset="0.922" stop-color="#00bbff"/><stop offset="0.949" stop-color="#00aeff"/><stop offset="0.967" stop-color="#00a5ff"/><stop offset="1.000" stop-color="#00a1ff"/></linearGradient><linearGradient id="q212" x1="0" y1="0" x2="0" y2="1"><stop offset="0.000" stop-color="#0004bb"/><stop offset="0.182" stop-color="#0005bf"/><stop offset="0.364" stop-color="#0007c4"/><stop offset="0.506" stop-color="#000ccf"/><stop offset="0.648" stop-color="#0010da"/><stop offset="0.657" stop-color="#001ce3"/><stop offset="0.675" stop-color="#003af1"/><stop offset="0.684" stop-color="#005df8"/><stop offset="0.689" stop-color="#0073fc"/><stop offset="0.693" stop-color="#0087ff"/><stop offset="0.702" stop-color="#00a5ff"/><stop offset="0.711" stop-color="#00bcff"/><stop offset="0.716" stop-color="#00c6ff"/><stop offset="0.720" stop-color="#00d1ff"/><stop offset="0.729" stop-color="#00e6ff"/><stop offset="0.738" stop-color="#14eeeb"/><stop offset="0.747" stop-color="#27f5d8"/><stop offset="0.756" stop-color="#43f9bc"/><stop offset="0.765" stop-color="#57fda8"/><stop offset="0.774" stop-color="#68ff97"/><stop offset="0.783" stop-color="#7aff85"/><stop offset="0.792" stop-color="#8cff73"/><stop offset="0.801" stop-color="#85ff7a"/><stop offset="0.810" stop-color="#79ff86"/><stop offset="0.819" stop-color="#6dff92"/><stop offset="0.828" stop-color="#4ffbb0"/><stop offset="0.837" stop-color="#2ff6d0"/><stop offset="0.846" stop-color="#18efe7"/><stop offset="0.855" stop-color="#0eebf1"/><stop offset="0.864" stop-color="#07e9f8"/><stop offset="0.882" stop-color="#00dbff"/><stop offset="0.891" stop-color="#00d4ff"/><stop offset="0.895" stop-color="#00d1ff"/><stop offset="0.904" stop-color="#00caff"/><stop offset="0.922" stop-color="#00bdff"/><stop offset="0.949" stop-color="#00b1ff"/><stop offset="0.967" stop-color="#00a9ff"/><stop offset="1.000" stop-color="#00a5ff"/></linearGradient><linearGradient id="q213" x1="0" y1="0" x2="0" y2="1"><stop offset="0.000" stop-color="#0004bb"/><stop offset="0.182" stop-color="#0005bf"/><stop offset="0.364" stop-color="#0007c4"/><stop offset="0.506" stop-color="#000ccf"/><stop offset="0.648" stop-color="#0010da"/><stop offset="0.657" stop-color="#001ce3"/><stop offset="0.675" stop-color="#0038f0"/><stop offset="0.684" stop-color="#0059f7"/><stop offset="0.689" stop-color="#006efb"/><stop offset="0.693" stop-color="#0084ff"/><stop offset="0.702" stop-color="#00a3ff"/><stop offset="0.711" stop-color="#00bbff"/><stop offset="0.716" stop-color="#00c6ff"/><stop offset="0.720" stop-color="#00d0ff"/><stop offset="0.729" stop-color="#00e6ff"/><stop offset="0.738" stop-color="#14eeeb"/><stop offset="0.747" stop-color="#26f4d9"/><stop offset="0.756" stop-color="#41f9be"/><stop offset="0.765" stop-color="#55fdaa"/><stop offset="0.774" stop-color="#64ff9b"/><stop offset="0.783" stop-color="#75ff8a"/><stop offset="0.792" stop-color="#85ff7a"/><stop offset="0.801" stop-color="#80ff7f"/><stop offset="0.810" stop-color="#74ff8b"/><stop offset="0.819" stop-color="#68ff97"/><stop offset="0.828" stop-color="#4cfbb3"/><stop offset="0.837" stop-color="#2ef6d1"/><stop offset="0.846" stop-color="#18efe7"/><stop offset="0.855" stop-color="#0debf2"/><stop offset="0.864" stop-color="#06e8f9"/><stop offset="0.882" stop-color="#00dbff"/><stop offset="0.891" stop-color="#00d3ff"/><stop offset="0.895" stop-color="#00d1ff"/><stop offset="0.904" stop-color="#00cbff"/><stop offset="0.922" stop-color="#00bfff"/><stop offset="0.949" stop-color="#00b5ff"/><stop offset="0.967" stop-color="#00aeff"/><stop offset="1.000" stop-color="#00abff"/></linearGradient><linearGradient id="q214" x1="0" y1="0" x2="0" y2="1"><stop offset="0.000" stop-color="#0004bb"/><stop offset="0.182" stop-color="#0005bf"/><stop offset="0.364" stop-color="#0007c4"/><stop offset="0.506" stop-color="#000ccf"/><stop offset="0.648" stop-color="#0010da"/><stop offset="0.657" stop-color="#001ce3"/><stop offset="0.675" stop-color="#0037f0"/><stop offset="0.684" stop-color="#0054f6"/><stop offset="0.689" stop-color="#006afa"/><stop offset="0.693" stop-color="#0080ff"/><stop offset="0.702" stop-color="#00a0ff"/><stop offset="0.711" stop-color="#00baff"/><stop offset="0.716" stop-color="#00c5ff"/><stop offset="0.720" stop-color="#00d0ff"/><stop offset="0.729" stop-color="#00e6ff"/><stop offset="0.738" stop-color="#14eeeb"/><stop offset="0.747" stop-color="#26f4d9"/><stop offset="0.756" stop-color="#3ff9c0"/><stop offset="0.765" stop-color="#54fcab"/><stop offset="0.774" stop-color="#61ff9e"/><stop offset="0.783" stop-color="#70ff8f"/><stop offset="0.792" stop-color="#7eff81"/><stop offset="0.801" stop-color="#7bff84"/><stop offset="0.810" stop-color="#6eff91"/><stop offset="0.819" stop-color="#62ff9d"/><stop offset="0.828" stop-color="#49fab6"/><stop offset="0.837" stop-color="#2cf6d3"/><stop offset="0.846" stop-color="#17efe8"/><stop offset="0.855" stop-color="#0cebf3"/><stop offset="0.864" stop-color="#05e8fa"/><stop offset="0.882" stop-color="#00dbff"/><stop offset="0.891" stop-color="#00d3ff"/><stop offset="0.895" stop-color="#00d1ff"/><stop offset="0.904" stop-color="#00ccff"/><stop offset="0.922" stop-color="#00c2ff"/><stop offset="0.949" stop-color="#00b9ff"/><stop offset="0.967" stop-color="#00b4ff"/><stop offset="1.000" stop-color="#00b1ff"/></linearGradient><linearGradient id="q215" x1="0" y1="0" x2="0" y2="1"><stop offset="0.000" stop-color="#0004bb"/><stop offset="0.182" stop-color="#0005bf"/><stop offset="0.364" stop-color="#0007c4"/><stop offset="0.506" stop-color="#000ccf"/><stop offset="0.648" stop-color="#0010da"/><stop offset="0.657" stop-color="#001be2"/><stop offset="0.675" stop-color="#0036ef"/><stop offset="0.684" stop-color="#004ef5"/><stop offset="0.689" stop-color="#0065fa"/><stop offset="0.693" stop-color="#007bfe"/><stop offset="0.702" stop-color="#009dff"/><stop offset="0.711" stop-color="#00b8ff"/><stop offset="0.716" stop-color="#00c4ff"/><stop offset="0.720" stop-color="#00cfff"/><stop offset="0.729" stop-color="#00e6ff"/><stop offset="0.738" stop-color="#14eeeb"/><stop offset="0.747" stop-color="#25f4da"/><stop offset="0.756" stop-color="#3df9c2"/><stop offset="0.765" stop-color="#52fcad"/><stop offset="0.774" stop-color="#5efea1"/><stop offset="0.783" stop-color="#6aff95"/><stop offset="0.792" stop-color="#77ff88"/><stop offset="0.801" stop-color="#76ff89"/><stop offset="0.810" stop-color="#69ff96"/><stop offset="0.819" stop-color="#5cfea3"/><stop offset="0.828" stop-color="#45faba"/><stop offset="0.837" stop-color="#2af5d5"/><stop offset="0.846" stop-color="#17efe8"/><stop offset="0.855" stop-color="#0ceaf3"/><stop offset="0.864" stop-color="#05e8fa"/><stop offset="0.882" stop-color="#00dbff"/><stop offset="0.891" stop-color="#00d3ff"/><stop offset="0.895" stop-color="#00d1ff"/><stop offset="0.904" stop-color="#00cdff"/><stop offset="0.922" stop-color="#00c4ff"/><stop offset="0.949" stop-color="#00beff"/><stop offset="0.967" stop-color="#00b9ff"/><stop offset="1.000" stop-color="#00b7ff"/></linearGradient><linearGradient id="q216" x1="0" y1="0" x2="0" y2="1"><stop offset="0.000" stop-color="#0004bb"/><stop offset="0.182" stop-color="#0005bf"/><stop offset="0.364" stop-color="#0007c4"/><stop offset="0.506" stop-color="#000ccf"/><stop offset="0.648" stop-color="#0010da"/><stop offset="0.657" stop-color="#001be2"/><stop offset="0.675" stop-color="#0034ee"/><stop offset="0.684" stop-color="#0049f4"/><stop offset="0.689" stop-color="#0060f9"/><stop offset="0.693" stop-color="#0076fd"/><stop offset="0.702" stop-color="#009aff"/><stop offset="0.711" stop-color="#00b7ff"/><stop offset="0.716" stop-color="#00c3ff"/><stop offset="0.720" stop-color="#00cfff"/><stop offset="0.729" stop-color="#00e6ff"/><stop offset="0.738" stop-color="#14eeeb"/><stop offset="0.747" stop-color="#24f4db"/><stop offset="0.756" stop-color="#3bf8c4"/><stop offset="0.765" stop-color="#50fcaf"/><stop offset="0.774" stop-color="#5bfda4"/><stop offset="0.783" stop-color="#65ff9a"/><stop offset="0.792" stop-color="#70ff8f"/><stop offset="0.801" stop-color="#71ff8e"/><stop offset="0.810" stop-color="#63ff9c"/><stop offset="0.819" stop-color="#57fda8"/><stop offset="0.828" stop-color="#42f9bd"/><stop offset="0.837" stop-color="#28f5d7"/><stop offset="0.846" stop-color="#17efe8"/><stop offset="0.855" stop-color="#0beaf4"/><stop offset="0.864" stop-color="#04e7fb"/><stop offset="0.882" stop-color="#00daff"/><stop offset="0.891" stop-color="#00d3ff"/><stop offset="0.895" stop-color="#00d1ff"/><stop offset="0.904" stop-color="#00ceff"/><stop offset="0.922" stop-color="#00c7ff"/><stop offset="0.949" stop-color="#00c2ff"/><stop offset="0.967" stop-color="#00bfff"/><stop offset="1.000" stop-color="#00bdff"/></linearGradient><linearGradient id="q217" x1="0" y1="0" x2="0" y2="1"><stop offset="0.000" stop-color="#0004bb"/><stop offset="0.182" stop-color="#0005bf"/><stop offset="0.364" stop-color="#0007c4"/><stop offset="0.506" stop-color="#000ccf"/><stop offset="0.648" stop-color="#0010da"/><stop offset="0.657" stop-color="#001ae2"/><stop offset="0.675" stop-color="#0033ee"/><stop offset="0.684" stop-color="#0045f4"/><stop offset="0.689" stop-color="#005bf8"/><stop offset="0.693" stop-color="#0072fc"/><stop offset="0.702" stop-color="#0097ff"/><stop offset="0.711" stop-color="#00b6ff"/><stop offset="0.716" stop-color="#00c2ff"/><stop offset="0.720" stop-color="#00ceff"/><stop offset="0.729" stop-color="#00e6ff"/><stop offset="0.738" stop-color="#14eeeb"/><stop offset="0.747" stop-color="#24f3db"/><stop offset="0.756" stop-color="#39f8c6"/><stop offset="0.765" stop-color="#4ffbb0"/><stop offset="0.774" stop-color="#58fda7"/><stop offset="0.783" stop-color="#60fe9f"/><stop offset="0.792" stop-color="#6aff95"/><stop offset="0.801" stop-color="#6cff93"/><stop offset="0.810" stop-color="#5ffea0"/><stop offset="0.819" stop-color="#51fcae"/><stop offset="0.828" stop-color="#3ff9c0"/><stop offset="0.837" stop-color="#27f5d8"/><stop offset="0.846" stop-color="#17efe8"/><stop offset="0.855" stop-color="#0aeaf5"/><stop offset="0.864" stop-color="#03e7fc"/><stop offset="0.882" stop-color="#00daff"/><stop offset="0.891" stop-color="#00d2ff"/><stop offset="0.895" stop-color="#00d1ff"/><stop offset="0.904" stop-color="#00ceff"/><stop offset="0.922" stop-color="#00c9ff"/><stop offset="0.949" stop-color="#00c6ff"/><stop offset="0.967" stop-color="#00c4ff"/><stop offset="1.000" stop-color="#00c3ff"/></linearGradient><linearGradient id="q218" x1="0" y1="0" x2="0" y2="1"><stop offset="0.000" stop-color="#0004bb"/><stop offset="0.182" stop-color="#0005bf"/><stop offset="0.364" stop-color="#0007c4"/><stop offset="0.506" stop-color="#000ccf"/><stop offset="0.648" stop-color="#0010da"/><stop offset="0.657" stop-color="#001ae2"/><stop offset="0.675" stop-color="#0032ed"/><stop offset="0.684" stop-color="#0041f3"/><stop offset="0.689" stop-color="#0058f7"/><stop offset="0.693" stop-color="#006ffb"/><stop offset="0.702" stop-color="#0095ff"/><stop offset="0.711" stop-color="#00b5ff"/><stop offset="0.716" stop-color="#00c1ff"/><stop offset="0.720" stop-color="#00ceff"/><stop offset="0.729" stop-color="#00e6ff"/><stop offset="0.738" stop-color="#14eeeb"/><stop offset="0.747" stop-color="#23f3dc"/><stop offset="0.756" stop-color="#38f8c7"/><stop offset="0.765" stop-color="#4efbb1"/><stop offset="0.774" stop-color="#55fdaa"/><stop offset="0.783" stop-color="#5dfea2"/><stop offset="0.792" stop-color="#64ff9b"/><stop offset="0.801" stop-color="#69ff96"/><stop offset="0.810" stop-color="#5bfda4"/><stop offset="0.819" stop-color="#4dfbb2"/><stop offset="0.828" stop-color="#3df8c2"/><stop offset="0.837" stop-color="#26f4d9"/><stop offset="0.846" stop-color="#17efe8"/><stop offset="0.855" stop-color="#09e9f6"/><stop offset="0.864" stop-color="#03e7fc"/><stop offset="0.882" stop-color="#00daff"/><stop offset="0.891" stop-color="#00d2ff"/><stop offset="0.895" stop-color="#00d1ff"/><stop offset="0.904" stop-color="#00cfff"/><stop offset="0.922" stop-color="#00cbff"/><stop offset="0.949" stop-color="#00c9ff"/><stop offset="0.967" stop-color="#00c8ff"/><stop offset="1.000" stop-color="#00c7ff"/></linearGradient><linearGradient id="q219" x1="0" y1="0" x2="0" y2="1"><stop offset="0.000" stop-color="#0004bb"/><stop offset="0.182" stop-color="#0005bf"/><stop offset="0.364" stop-color="#0007c4"/><stop offset="0.506" stop-color="#000ccf"/><stop offset="0.648" stop-color="#0010da"/><stop offset="0.657" stop-color="#001ae2"/><stop offset="0.675" stop-color="#0031ed"/><stop offset="0.684" stop-color="#003ef2"/><stop offset="0.689" stop-color="#0055f7"/><stop offset="0.693" stop-color="#006cfb"/><stop offset="0.702" stop-color="#0094ff"/><stop offset="0.711" stop-color="#00b4ff"/><stop offset="0.716" stop-color="#00c1ff"/><stop offset="0.720" stop-color="#00cdff"/><stop offset="0.729" stop-color="#00e6ff"/><stop offset="0.738" stop-color="#14eeeb"/><stop offset="0.747" stop-color="#23f3dc"/><stop offset="0.756" stop-color="#37f7c8"/><stop offset="0.765" stop-color="#4dfbb2"/><stop offset="0.774" stop-color="#53fcac"/><stop offset="0.783" stop-color="#5afda5"/><stop offset="0.792" stop-color="#60fe9f"/><stop offset="0.801" stop-color="#66ff99"/><stop offset="0.810" stop-color="#58fda7"/><stop offset="0.819" stop-color="#4afbb5"/><stop offset="0.828" stop-color="#3bf8c4"/><stop offset="0.837" stop-color="#26f4d9"/><stop offset="0.846" stop-color="#17efe8"/><stop offset="0.855" stop-color="#08e9f7"/><stop offset="0.864" stop-color="#02e7fd"/><stop offset="0.882" stop-color="#00daff"/><stop offset="0.891" stop-color="#00d2ff"/><stop offset="0.895" stop-color="#00d1ff"/><stop offset="0.904" stop-color="#00d0ff"/><stop offset="0.922" stop-color="#00ccff"/><stop offset="0.949" stop-color="#00cbff"/><stop offset="1.000" stop-color="#00cbff"/></linearGradient><linearGradient id="q220" x1="0" y1="0" x2="0" y2="1"><stop offset="0.000" stop-color="#0004bb"/><stop offset="0.182" stop-color="#0005bf"/><stop offset="0.364" stop-color="#0007c4"/><stop offset="0.506" stop-color="#000ccf"/><stop offset="0.648" stop-color="#0010da"/><stop offset="0.657" stop-color="#0019e2"/><stop offset="0.675" stop-color="#0031ed"/><stop offset="0.684" stop-color="#003cf2"/><stop offset="0.689" stop-color="#0054f6"/><stop offset="0.693" stop-color="#006bfb"/><stop offset="0.702" stop-color="#0093ff"/><stop offset="0.711" stop-color="#00b4ff"/><stop offset="0.716" stop-color="#00c1ff"/><stop offset="0.720" stop-color="#00cdff"/><stop offset="0.729" stop-color="#00e6ff"/><stop offset="0.738" stop-color="#14eeeb"/><stop offset="0.747" stop-color="#23f3dc"/><stop offset="0.756" stop-color="#36f7c9"/><stop offset="0.765" stop-color="#4cfbb3"/><stop offset="0.774" stop-color="#52fcad"/><stop offset="0.783" stop-color="#58fda7"/><stop offset="0.792" stop-color="#5efea1"/><stop offset="0.801" stop-color="#64ff9b"/><stop offset="0.810" stop-color="#56fda9"/><stop offset="0.819" stop-color="#48fab7"/><stop offset="0.828" stop-color="#3af8c5"/><stop offset="0.837" stop-color="#25f4da"/><stop offset="0.846" stop-color="#17efe8"/><stop offset="0.855" stop-color="#08e9f7"/><stop offset="0.864" stop-color="#02e7fd"/><stop offset="0.882" stop-color="#00daff"/><stop offset="0.891" stop-color="#00d2ff"/><stop offset="0.895" stop-color="#00d1ff"/><stop offset="0.904" stop-color="#00d0ff"/><stop offset="0.922" stop-color="#00cdff"/><stop offset="1.000" stop-color="#00cdff"/></linearGradient><linearGradient id="q221" x1="0" y1="0" x2="0" y2="1"><stop offset="0.000" stop-color="#0004bb"/><stop offset="0.182" stop-color="#0005bf"/><stop offset="0.364" stop-color="#0007c4"/><stop offset="0.506" stop-color="#000ccf"/><stop offset="0.648" stop-color="#0010da"/><stop offset="0.657" stop-color="#0019e1"/><stop offset="0.675" stop-color="#0030ec"/><stop offset="0.684" stop-color="#003cf2"/><stop offset="0.689" stop-color="#0053f6"/><stop offset="0.693" stop-color="#006bfb"/><stop offset="0.702" stop-color="#0093ff"/><stop offset="0.711" stop-color="#00b4ff"/><stop offset="0.716" stop-color="#00c0ff"/><stop offset="0.720" stop-color="#00cdff"/><stop offset="0.729" stop-color="#00e6ff"/><stop offset="0.738" stop-color="#14eeeb"/><stop offset="0.747" stop-color="#23f3dc"/><stop offset="0.756" stop-color="#36f7c9"/><stop offset="0.765" stop-color="#4cfbb3"/><stop offset="0.774" stop-color="#52fcad"/><stop offset="0.783" stop-color="#58fda7"/><stop offset="0.792" stop-color="#5efea1"/><stop offset="0.801" stop-color="#64ff9b"/><stop offset="0.810" stop-color="#56fda9"/><stop offset="0.819" stop-color="#48fab7"/><stop offset="0.828" stop-color="#3af8c5"/><stop offset="0.837" stop-color="#25f4da"/><stop offset="0.846" stop-color="#17efe8"/><stop offset="0.855" stop-color="#08e9f7"/><stop offset="0.864" stop-color="#02e7fd"/><stop offset="0.882" stop-color="#00d9ff"/><stop offset="0.891" stop-color="#00d2ff"/><stop offset="0.895" stop-color="#00d1ff"/><stop offset="0.904" stop-color="#00d0ff"/><stop offset="0.922" stop-color="#00cdff"/><stop offset="1.000" stop-color="#00cdff"/></linearGradient><linearGradient id="q222" x1="0" y1="0" x2="0" y2="1"><stop offset="0.000" stop-color="#0004bb"/><stop offset="0.182" stop-color="#0005bf"/><stop offset="0.364" stop-color="#0007c4"/><stop offset="0.506" stop-color="#000ccf"/><stop offset="0.648" stop-color="#0010da"/><stop offset="0.657" stop-color="#0019e1"/><stop offset="0.675" stop-color="#0030ec"/><stop offset="0.684" stop-color="#003cf2"/><stop offset="0.689" stop-color="#0052f6"/><stop offset="0.693" stop-color="#006afa"/><stop offset="0.702" stop-color="#0092ff"/><stop offset="0.711" stop-color="#00b3ff"/><stop offset="0.716" stop-color="#00c0ff"/><stop offset="0.720" stop-color="#00cdff"/><stop offset="0.729" stop-color="#00e6ff"/><stop offset="0.738" stop-color="#15eeea"/><stop offset="0.747" stop-color="#23f3dc"/><stop offset="0.756" stop-color="#36f7c9"/><stop offset="0.765" stop-color="#4cfbb3"/><stop offset="0.774" stop-color="#53fcac"/><stop offset="0.783" stop-color="#59fda6"/><stop offset="0.792" stop-color="#5ffea0"/><stop offset="0.801" stop-color="#65ff9a"/><stop offset="0.810" stop-color="#57fda8"/><stop offset="0.819" stop-color="#48fab7"/><stop offset="0.828" stop-color="#3af8c5"/><stop offset="0.837" stop-color="#25f4da"/><stop offset="0.846" stop-color="#17efe8"/><stop offset="0.855" stop-color="#08e9f7"/><stop offset="0.864" stop-color="#02e7fd"/><stop offset="0.882" stop-color="#00d9ff"/><stop offset="0.891" stop-color="#00d2ff"/><stop offset="0.895" stop-color="#00d2ff"/><stop offset="0.904" stop-color="#00d1ff"/><stop offset="0.922" stop-color="#00ceff"/><stop offset="0.967" stop-color="#00ceff"/><stop offset="1.000" stop-color="#00cfff"/></linearGradient><linearGradient id="q223" x1="0" y1="0" x2="0" y2="1"><stop offset="0.000" stop-color="#0004bb"/><stop offset="0.182" stop-color="#0005bf"/><stop offset="0.364" stop-color="#0007c4"/><stop offset="0.506" stop-color="#000ccf"/><stop offset="0.648" stop-color="#0010da"/><stop offset="0.657" stop-color="#0018e1"/><stop offset="0.675" stop-color="#0030ec"/><stop offset="0.684" stop-color="#003bf2"/><stop offset="0.689" stop-color="#0051f6"/><stop offset="0.693" stop-color="#0068fa"/><stop offset="0.702" stop-color="#0091ff"/><stop offset="0.711" stop-color="#00b2ff"/><stop offset="0.716" stop-color="#00bfff"/><stop offset="0.720" stop-color="#00ccff"/><stop offset="0.729" stop-color="#00e6ff"/><stop offset="0.738" stop-color="#15eeea"/><stop offset="0.747" stop-color="#24f3db"/><stop offset="0.756" stop-color="#37f8c8"/><stop offset="0.765" stop-color="#4dfbb2"/><stop offset="0.774" stop-color="#54fcab"/><stop offset="0.783" stop-color="#5afda5"/><stop offset="0.792" stop-color="#60fe9f"/><stop offset="0.801" stop-color="#66ff99"/><stop offset="0.810" stop-color="#58fda7"/><stop offset="0.819" stop-color="#49fbb6"/><stop offset="0.828" stop-color="#3bf8c4"/><stop offset="0.837" stop-color="#26f4d9"/><stop offset="0.846" stop-color="#17efe8"/><stop offset="0.855" stop-color="#08e9f7"/><stop offset="0.864" stop-color="#02e7fd"/><stop offset="0.882" stop-color="#00d9ff"/><stop offset="0.891" stop-color="#00d3ff"/><stop offset="0.895" stop-color="#00d3ff"/><stop offset="0.904" stop-color="#00d2ff"/><stop offset="0.922" stop-color="#00d0ff"/><stop offset="0.949" stop-color="#00d1ff"/><stop offset="1.000" stop-color="#00d1ff"/></linearGradient><linearGradient id="q224" x1="0" y1="0" x2="0" y2="1"><stop offset="0.000" stop-color="#0004bb"/><stop offset="0.182" stop-color="#0005bf"/><stop offset="0.364" stop-color="#0007c4"/><stop offset="0.506" stop-color="#000ccf"/><stop offset="0.648" stop-color="#0010d9"/><stop offset="0.657" stop-color="#0017e0"/><stop offset="0.675" stop-color="#002fec"/><stop offset="0.684" stop-color="#003bf1"/><stop offset="0.689" stop-color="#004ff5"/><stop offset="0.693" stop-color="#0066fa"/><stop offset="0.702" stop-color="#008fff"/><stop offset="0.711" stop-color="#00b1ff"/><stop offset="0.716" stop-color="#00beff"/><stop offset="0.720" stop-color="#00ccff"/><stop offset="0.729" stop-color="#01e6fe"/><stop offset="0.738" stop-color="#16eee9"/><stop offset="0.747" stop-color="#25f4da"/><stop offset="0.756" stop-color="#38f8c7"/><stop offset="0.765" stop-color="#4dfbb2"/><stop offset="0.774" stop-color="#56fda9"/><stop offset="0.783" stop-color="#5cfea3"/><stop offset="0.792" stop-color="#62ff9d"/><stop offset="0.801" stop-color="#68ff97"/><stop offset="0.810" stop-color="#59fda6"/><stop offset="0.819" stop-color="#4afbb5"/><stop offset="0.828" stop-color="#3bf8c4"/><stop offset="0.837" stop-color="#26f4d9"/><stop offset="0.846" stop-color="#17efe8"/><stop offset="0.855" stop-color="#08e9f7"/><stop offset="0.864" stop-color="#02e7fd"/><stop offset="0.882" stop-color="#00d8ff"/><stop offset="0.891" stop-color="#00d4ff"/><stop offset="0.904" stop-color="#00d4ff"/><stop offset="0.922" stop-color="#00d3ff"/><stop offset="0.949" stop-color="#00d4ff"/><stop offset="0.967" stop-color="#00d4ff"/><stop offset="1.000" stop-color="#00d5ff"/></linearGradient><linearGradient id="q225" x1="0" y1="0" x2="0" y2="1"><stop offset="0.000" stop-color="#0004bb"/><stop offset="0.182" stop-color="#0005bf"/><stop offset="0.364" stop-color="#0007c4"/><stop offset="0.506" stop-color="#000cce"/><stop offset="0.648" stop-color="#0010d9"/><stop offset="0.657" stop-color="#0016e0"/><stop offset="0.675" stop-color="#002eeb"/><stop offset="0.684" stop-color="#003af1"/><stop offset="0.689" stop-color="#004cf5"/><stop offset="0.693" stop-color="#0063f9"/><stop offset="0.702" stop-color="#008dff"/><stop offset="0.711" stop-color="#00afff"/><stop offset="0.716" stop-color="#00bdff"/><stop offset="0.720" stop-color="#00cbff"/><stop offset="0.729" stop-color="#01e6fe"/><stop offset="0.738" stop-color="#18efe7"/><stop offset="0.747" stop-color="#26f4d9"/><stop offset="0.756" stop-color="#39f8c6"/><stop offset="0.765" stop-color="#4efbb1"/><stop offset="0.774" stop-color="#58fda7"/><stop offset="0.783" stop-color="#5efea1"/><stop offset="0.792" stop-color="#64ff9b"/><stop offset="0.801" stop-color="#6aff95"/><stop offset="0.810" stop-color="#5afda5"/><stop offset="0.819" stop-color="#4bfbb4"/><stop offset="0.828" stop-color="#3cf8c3"/><stop offset="0.837" stop-color="#26f4d9"/><stop offset="0.846" stop-color="#17efe8"/><stop offset="0.855" stop-color="#08e9f7"/><stop offset="0.864" stop-color="#01e7fe"/><stop offset="0.882" stop-color="#00d7ff"/><stop offset="0.891" stop-color="#00d5ff"/><stop offset="0.895" stop-color="#00d5ff"/><stop offset="0.904" stop-color="#00d7ff"/><stop offset="0.922" stop-color="#00d6ff"/><stop offset="0.949" stop-color="#00d7ff"/><stop offset="0.967" stop-color="#00d8ff"/><stop offset="1.000" stop-color="#00daff"/></linearGradient><linearGradient id="q226" x1="0" y1="0" x2="0" y2="1"><stop offset="0.000" stop-color="#0004bb"/><stop offset="0.182" stop-color="#0005bf"/><stop offset="0.364" stop-color="#0007c4"/><stop offset="0.506" stop-color="#000cce"/><stop offset="0.648" stop-color="#0010d9"/><stop offset="0.657" stop-color="#0014df"/><stop offset="0.675" stop-color="#002deb"/><stop offset="0.684" stop-color="#0039f1"/><stop offset="0.689" stop-color="#0049f4"/><stop offset="0.693" stop-color="#0060f9"/><stop offset="0.702" stop-color="#008bff"/><stop offset="0.711" stop-color="#00adff"/><stop offset="0.716" stop-color="#00bbff"/><stop offset="0.720" stop-color="#00caff"/><stop offset="0.729" stop-color="#01e7fe"/><stop offset="0.738" stop-color="#19efe6"/><stop offset="0.747" stop-color="#27f5d8"/><stop offset="0.756" stop-color="#3af8c5"/><stop offset="0.765" stop-color="#4ffbb0"/><stop offset="0.774" stop-color="#5afda5"/><stop offset="0.783" stop-color="#60fe9f"/><stop offset="0.792" stop-color="#66ff99"/><stop offset="0.801" stop-color="#6dff92"/><stop offset="0.810" stop-color="#5cfea3"/><stop offset="0.819" stop-color="#4cfbb3"/><stop offset="0.828" stop-color="#3df8c2"/><stop offset="0.837" stop-color="#27f4d8"/><stop offset="0.846" stop-color="#17efe8"/><stop offset="0.855" stop-color="#08e9f7"/><stop offset="0.864" stop-color="#01e6fe"/><stop offset="0.882" stop-color="#00d6ff"/><stop offset="0.891" stop-color="#00d6ff"/><stop offset="0.895" stop-color="#00d7ff"/><stop offset="0.904" stop-color="#00daff"/><stop offset="0.922" stop-color="#00d9ff"/><stop offset="0.949" stop-color="#00dbff"/><stop offset="0.967" stop-color="#00dcff"/><stop offset="1.000" stop-color="#00dfff"/></linearGradient><linearGradient id="q227" x1="0" y1="0" x2="0" y2="1"><stop offset="0.000" stop-color="#0004bb"/><stop offset="0.182" stop-color="#0005bf"/><stop offset="0.364" stop-color="#0007c4"/><stop offset="0.506" stop-color="#000cce"/><stop offset="0.648" stop-color="#0010d9"/><stop offset="0.657" stop-color="#0013de"/><stop offset="0.675" stop-color="#002cea"/><stop offset="0.684" stop-color="#0038f0"/><stop offset="0.689" stop-color="#0046f4"/><stop offset="0.693" stop-color="#005ef8"/><stop offset="0.702" stop-color="#0089ff"/><stop offset="0.711" stop-color="#00abff"/><stop offset="0.716" stop-color="#00b9ff"/><stop offset="0.720" stop-color="#00c9ff"/><stop offset="0.729" stop-color="#02e7fd"/><stop offset="0.738" stop-color="#1bf0e4"/><stop offset="0.747" stop-color="#28f5d7"/><stop offset="0.756" stop-color="#3cf8c3"/><stop offset="0.765" stop-color="#4ffcb0"/><stop offset="0.774" stop-color="#5cfea3"/><stop offset="0.783" stop-color="#62ff9d"/><stop offset="0.792" stop-color="#68ff97"/><stop offset="0.801" stop-color="#6fff90"/><stop offset="0.810" stop-color="#5efea1"/><stop offset="0.819" stop-color="#4efbb1"/><stop offset="0.828" stop-color="#3df9c2"/><stop offset="0.837" stop-color="#27f5d8"/><stop offset="0.846" stop-color="#17efe8"/><stop offset="0.855" stop-color="#08e9f7"/><stop offset="0.864" stop-color="#01e6fe"/><stop offset="0.882" stop-color="#00d5ff"/><stop offset="0.891" stop-color="#00d7ff"/><stop offset="0.895" stop-color="#00d8ff"/><stop offset="0.904" stop-color="#00dcff"/><stop offset="0.922" stop-color="#00ddff"/><stop offset="0.949" stop-color="#00dfff"/><stop offset="0.967" stop-color="#00e1ff"/><stop offset="1.000" stop-color="#00e3ff"/></linearGradient><linearGradient id="q228" x1="0" y1="0" x2="0" y2="1"><stop offset="0.000" stop-color="#0004bb"/><stop offset="0.182" stop-color="#0005bf"/><stop offset="0.364" stop-color="#0007c4"/><stop offset="0.506" stop-color="#000cce"/><stop offset="0.648" stop-color="#0010d9"/><stop offset="0.657" stop-color="#0012dd"/><stop offset="0.675" stop-color="#002bea"/><stop offset="0.684" stop-color="#0037f0"/><stop offset="0.689" stop-color="#0043f3"/><stop offset="0.693" stop-color="#005bf8"/><stop offset="0.702" stop-color="#0087ff"/><stop offset="0.711" stop-color="#00a9ff"/><stop offset="0.716" stop-color="#00b8ff"/><stop offset="0.720" stop-color="#00c8ff"/><stop offset="0.729" stop-color="#02e7fd"/><stop offset="0.738" stop-color="#1cf1e3"/><stop offset="0.747" stop-color="#2af5d5"/><stop offset="0.756" stop-color="#3df8c2"/><stop offset="0.765" stop-color="#50fcaf"/><stop offset="0.774" stop-color="#5efea1"/><stop offset="0.783" stop-color="#64ff9b"/><stop offset="0.792" stop-color="#6bff94"/><stop offset="0.801" stop-color="#71ff8e"/><stop offset="0.810" stop-color="#60fe9f"/><stop offset="0.819" stop-color="#4ffbb0"/><stop offset="0.828" stop-color="#3ef9c1"/><stop offset="0.837" stop-color="#27f5d8"/><stop offset="0.846" stop-color="#18efe7"/><stop offset="0.855" stop-color="#08e9f7"/><stop offset="0.864" stop-color="#01e6fe"/><stop offset="0.882" stop-color="#00d4ff"/><stop offset="0.891" stop-color="#00d8ff"/><stop offset="0.895" stop-color="#00daff"/><stop offset="0.904" stop-color="#00dfff"/><stop offset="0.922" stop-color="#00e0ff"/><stop offset="0.949" stop-color="#00e3ff"/><stop offset="0.967" stop-color="#00e5ff"/><stop offset="1.000" stop-color="#02e7fd"/></linearGradient><linearGradient id="q229" x1="0" y1="0" x2="0" y2="1"><stop offset="0.000" stop-color="#0004bb"/><stop offset="0.182" stop-color="#0005bf"/><stop offset="0.364" stop-color="#0007c4"/><stop offset="0.506" stop-color="#000cce"/><stop offset="0.648" stop-color="#0010d9"/><stop offset="0.657" stop-color="#0011dc"/><stop offset="0.675" stop-color="#002ae9"/><stop offset="0.684" stop-color="#0037f0"/><stop offset="0.689" stop-color="#0041f3"/><stop offset="0.693" stop-color="#0058f7"/><stop offset="0.702" stop-color="#0085ff"/><stop offset="0.711" stop-color="#00a7ff"/><stop offset="0.716" stop-color="#00b7ff"/><stop offset="0.720" stop-color="#00c7ff"/><stop offset="0.729" stop-color="#03e7fc"/><stop offset="0.738" stop-color="#1ef1e1"/><stop offset="0.747" stop-color="#2bf6d4"/><stop offset="0.756" stop-color="#3ef9c1"/><stop offset="0.765" stop-color="#51fcae"/><stop offset="0.774" stop-color="#60fe9f"/><stop offset="0.783" stop-color="#66ff99"/><stop offset="0.792" stop-color="#6dff92"/><stop offset="0.801" stop-color="#73ff8c"/><stop offset="0.810" stop-color="#61ff9e"/><stop offset="0.819" stop-color="#50fcaf"/><stop offset="0.828" stop-color="#3ff9c0"/><stop offset="0.837" stop-color="#27f5d8"/><stop offset="0.846" stop-color="#18efe7"/><stop offset="0.855" stop-color="#08e9f7"/><stop offset="0.864" stop-color="#00e6ff"/><stop offset="0.882" stop-color="#00d4ff"/><stop offset="0.891" stop-color="#00d9ff"/><stop offset="0.895" stop-color="#00dbff"/><stop offset="0.904" stop-color="#00e1ff"/><stop offset="0.922" stop-color="#00e3ff"/><stop offset="0.949" stop-color="#00e6ff"/><stop offset="0.967" stop-color="#02e7fd"/><stop offset="1.000" stop-color="#05e8fa"/></linearGradient><linearGradient id="q230" x1="0" y1="0" x2="0" y2="1"><stop offset="0.000" stop-color="#0004bb"/><stop offset="0.182" stop-color="#0005bf"/><stop offset="0.364" stop-color="#0007c4"/><stop offset="0.506" stop-color="#000cce"/><stop offset="0.648" stop-color="#0010d9"/><stop offset="0.657" stop-color="#0011db"/><stop offset="0.675" stop-color="#0029e9"/><stop offset="0.684" stop-color="#0036ef"/><stop offset="0.689" stop-color="#003ff2"/><stop offset="0.693" stop-color="#0056f7"/><stop offset="0.702" stop-color="#0084ff"/><stop offset="0.711" stop-color="#00a5ff"/><stop offset="0.716" stop-color="#00b5ff"/><stop offset="0.720" stop-color="#00c7ff"/><stop offset="0.729" stop-color="#03e7fc"/><stop offset="0.738" stop-color="#1ff1e0"/><stop offset="0.747" stop-color="#2cf6d3"/><stop offset="0.756" stop-color="#3ff9c0"/><stop offset="0.765" stop-color="#51fcae"/><stop offset="0.774" stop-color="#62ff9d"/><stop offset="0.783" stop-color="#68ff97"/><stop offset="0.792" stop-color="#6fff90"/><stop offset="0.801" stop-color="#75ff8a"/><stop offset="0.810" stop-color="#62ff9d"/><stop offset="0.819" stop-color="#51fcae"/><stop offset="0.828" stop-color="#3ff9c0"/><stop offset="0.837" stop-color="#28f5d7"/><stop offset="0.846" stop-color="#18efe7"/><stop offset="0.855" stop-color="#08e9f7"/><stop offset="0.864" stop-color="#00e6ff"/><stop offset="0.882" stop-color="#00d3ff"/><stop offset="0.891" stop-color="#00d9ff"/><stop offset="0.895" stop-color="#00dcff"/><stop offset="0.904" stop-color="#00e4ff"/><stop offset="0.922" stop-color="#00e6ff"/><stop offset="0.949" stop-color="#03e7fc"/><stop offset="0.967" stop-color="#05e8fa"/><stop offset="1.000" stop-color="#08e9f7"/></linearGradient><linearGradient id="q231" x1="0" y1="0" x2="0" y2="1"><stop offset="0.000" stop-color="#0004bb"/><stop offset="0.182" stop-color="#0005bf"/><stop offset="0.364" stop-color="#0007c4"/><stop offset="0.506" stop-color="#000cce"/><stop offset="0.648" stop-color="#0010d9"/><stop offset="0.657" stop-color="#0010da"/><stop offset="0.675" stop-color="#0029e9"/><stop offset="0.684" stop-color="#0036ef"/><stop offset="0.689" stop-color="#003df2"/><stop offset="0.693" stop-color="#0054f7"/><stop offset="0.702" stop-color="#0083ff"/><stop offset="0.711" stop-color="#00a4ff"/><stop offset="0.716" stop-color="#00b5ff"/><stop offset="0.720" stop-color="#00c6ff"/><stop offset="0.729" stop-color="#03e7fc"/><stop offset="0.738" stop-color="#1ff2e0"/><stop offset="0.747" stop-color="#2df6d2"/><stop offset="0.756" stop-color="#40f9bf"/><stop offset="0.765" stop-color="#52fcad"/><stop offset="0.774" stop-color="#63ff9c"/><stop offset="0.783" stop-color="#6aff95"/><stop offset="0.792" stop-color="#70ff8f"/><stop offset="0.801" stop-color="#77ff88"/><stop offset="0.810" stop-color="#63ff9c"/><stop offset="0.819" stop-color="#52fcad"/><stop offset="0.828" stop-color="#40f9bf"/><stop offset="0.837" stop-color="#28f5d7"/><stop offset="0.846" stop-color="#18efe7"/><stop offset="0.855" stop-color="#08e9f7"/><stop offset="0.864" stop-color="#00e6ff"/><stop offset="0.882" stop-color="#00d2ff"/><stop offset="0.891" stop-color="#00daff"/><stop offset="0.895" stop-color="#00ddff"/><stop offset="0.904" stop-color="#00e5ff"/><stop offset="0.922" stop-color="#01e6fe"/><stop offset="0.949" stop-color="#05e8fa"/><stop offset="0.967" stop-color="#07e8f8"/><stop offset="1.000" stop-color="#0beaf4"/></linearGradient><linearGradient id="q232" x1="0" y1="0" x2="0" y2="1"><stop offset="0.000" stop-color="#0004bb"/><stop offset="0.182" stop-color="#0005bf"/><stop offset="0.364" stop-color="#0007c4"/><stop offset="0.506" stop-color="#000cce"/><stop offset="0.648" stop-color="#0010d9"/><stop offset="0.657" stop-color="#0010da"/><stop offset="0.675" stop-color="#0028e9"/><stop offset="0.684" stop-color="#0035ef"/><stop offset="0.689" stop-color="#003cf2"/><stop offset="0.693" stop-color="#0053f6"/><stop offset="0.702" stop-color="#0082ff"/><stop offset="0.711" stop-color="#00a3ff"/><stop offset="0.716" stop-color="#00b4ff"/><stop offset="0.720" stop-color="#00c6ff"/><stop offset="0.729" stop-color="#03e7fc"/><stop offset="0.738" stop-color="#20f2df"/><stop offset="0.747" stop-color="#2ef6d1"/><stop offset="0.756" stop-color="#40f9bf"/><stop offset="0.765" stop-color="#52fcad"/><stop offset="0.774" stop-color="#64ff9b"/><stop offset="0.783" stop-color="#6aff95"/><stop offset="0.792" stop-color="#71ff8e"/><stop offset="0.801" stop-color="#77ff88"/><stop offset="0.810" stop-color="#64ff9b"/><stop offset="0.819" stop-color="#52fcad"/><stop offset="0.828" stop-color="#40f9bf"/><stop offset="0.837" stop-color="#28f5d7"/><stop offset="0.846" stop-color="#18efe7"/><stop offset="0.855" stop-color="#08e9f7"/><stop offset="0.864" stop-color="#00e6ff"/><stop offset="0.882" stop-color="#00d2ff"/><stop offset="0.891" stop-color="#00daff"/><stop offset="0.895" stop-color="#00deff"/><stop offset="0.904" stop-color="#00e6ff"/><stop offset="0.922" stop-color="#02e7fd"/><stop offset="0.949" stop-color="#05e8fa"/><stop offset="0.967" stop-color="#08e9f7"/><stop offset="1.000" stop-color="#0ceaf3"/></linearGradient><linearGradient id="q233" x1="0" y1="0" x2="0" y2="1"><stop offset="0.000" stop-color="#0004bb"/><stop offset="0.182" stop-color="#0005bf"/><stop offset="0.364" stop-color="#0007c4"/><stop offset="0.506" stop-color="#000cce"/><stop offset="0.648" stop-color="#0010d9"/><stop offset="0.657" stop-color="#0010da"/><stop offset="0.675" stop-color="#0028e9"/><stop offset="0.684" stop-color="#0035ef"/><stop offset="0.689" stop-color="#003cf2"/><stop offset="0.693" stop-color="#0053f6"/><stop offset="0.702" stop-color="#0082ff"/><stop offset="0.711" stop-color="#00a3ff"/><stop offset="0.716" stop-color="#00b4ff"/><stop offset="0.720" stop-color="#00c6ff"/><stop offset="0.729" stop-color="#03e7fc"/><stop offset="0.738" stop-color="#20f2df"/><stop offset="0.747" stop-color="#2ef6d1"/><stop offset="0.756" stop-color="#40f9bf"/><stop offset="0.765" stop-color="#52fcad"/><stop offset="0.774" stop-color="#64ff9b"/><stop offset="0.783" stop-color="#6aff95"/><stop offset="0.792" stop-color="#71ff8e"/><stop offset="0.801" stop-color="#77ff88"/><stop offset="0.810" stop-color="#64ff9b"/><stop offset="0.819" stop-color="#52fcad"/><stop offset="0.828" stop-color="#40f9bf"/><stop offset="0.837" stop-color="#28f5d7"/><stop offset="0.846" stop-color="#18efe7"/><stop offset="0.855" stop-color="#08e9f7"/><stop offset="0.864" stop-color="#00e6ff"/><stop offset="0.882" stop-color="#00d2ff"/><stop offset="0.891" stop-color="#00daff"/><stop offset="0.895" stop-color="#00deff"/><stop offset="0.904" stop-color="#00e6ff"/><stop offset="0.922" stop-color="#02e7fd"/><stop offset="0.949" stop-color="#06e8f9"/><stop offset="0.967" stop-color="#08e9f7"/><stop offset="1.000" stop-color="#0cebf3"/></linearGradient><linearGradient id="q234" x1="0" y1="0" x2="0" y2="1"><stop offset="0.000" stop-color="#0004bb"/><stop offset="0.182" stop-color="#0005bf"/><stop offset="0.364" stop-color="#0007c4"/><stop offset="0.506" stop-color="#000cce"/><stop offset="0.648" stop-color="#0010d9"/><stop offset="0.657" stop-color="#0010da"/><stop offset="0.675" stop-color="#0028e9"/><stop offset="0.684" stop-color="#0035ef"/><stop offset="0.689" stop-color="#003cf2"/><stop offset="0.693" stop-color="#0053f6"/><stop offset="0.702" stop-color="#0081ff"/><stop offset="0.711" stop-color="#00a3ff"/><stop offset="0.716" stop-color="#00b4ff"/><stop offset="0.720" stop-color="#00c6ff"/><stop offset="0.729" stop-color="#03e7fc"/><stop offset="0.738" stop-color="#1ff2e0"/><stop offset="0.747" stop-color="#2df6d2"/><stop offset="0.756" stop-color="#3ff9c0"/><stop offset="0.765" stop-color="#51fcae"/><stop offset="0.774" stop-color="#63ff9c"/><stop offset="0.783" stop-color="#6aff95"/><stop offset="0.792" stop-color="#70ff8f"/><stop offset="0.801" stop-color="#77ff88"/><stop offset="0.810" stop-color="#64ff9b"/><stop offset="0.819" stop-color="#52fcad"/><stop offset="0.828" stop-color="#40f9bf"/><stop offset="0.837" stop-color="#28f5d7"/><stop offset="0.846" stop-color="#18efe7"/><stop offset="0.855" stop-color="#08e9f7"/><stop offset="0.864" stop-color="#00e6ff"/><stop offset="0.882" stop-color="#00d3ff"/><stop offset="0.891" stop-color="#00dbff"/><stop offset="0.895" stop-color="#00deff"/><stop offset="0.904" stop-color="#00e6ff"/><stop offset="0.922" stop-color="#02e7fd"/><stop offset="0.949" stop-color="#06e8f9"/><stop offset="0.967" stop-color="#08e9f7"/><stop offset="1.000" stop-color="#0cebf3"/></linearGradient><linearGradient id="q235" x1="0" y1="0" x2="0" y2="1"><stop offset="0.000" stop-color="#0004bb"/><stop offset="0.182" stop-color="#0005bf"/><stop offset="0.364" stop-color="#0007c4"/><stop offset="0.506" stop-color="#000cce"/><stop offset="0.648" stop-color="#0010d9"/><stop offset="0.657" stop-color="#0010da"/><stop offset="0.675" stop-color="#0028e8"/><stop offset="0.684" stop-color="#0035ef"/><stop offset="0.689" stop-color="#003cf2"/><stop offset="0.693" stop-color="#0052f6"/><stop offset="0.702" stop-color="#0081ff"/><stop offset="0.711" stop-color="#00a3ff"/><stop offset="0.716" stop-color="#00b3ff"/><stop offset="0.720" stop-color="#00c5ff"/><stop offset="0.729" stop-color="#02e7fd"/><stop offset="0.738" stop-color="#1ef1e1"/><stop offset="0.747" stop-color="#2df6d2"/><stop offset="0.756" stop-color="#3ef9c1"/><stop offset="0.765" stop-color="#50fcaf"/><stop offset="0.774" stop-color="#62ff9d"/><stop offset="0.783" stop-color="#69ff96"/><stop offset="0.792" stop-color="#6fff90"/><stop offset="0.801" stop-color="#75ff8a"/><stop offset="0.810" stop-color="#63ff9c"/><stop offset="0.819" stop-color="#51fcae"/><stop offset="0.828" stop-color="#3ff9c0"/><stop offset="0.837" stop-color="#28f5d7"/><stop offset="0.846" stop-color="#18efe7"/><stop offset="0.855" stop-color="#09e9f6"/><stop offset="0.864" stop-color="#00e6ff"/><stop offset="0.882" stop-color="#00d4ff"/><stop offset="0.891" stop-color="#00dbff"/><stop offset="0.895" stop-color="#00deff"/><stop offset="0.904" stop-color="#00e6ff"/><stop offset="0.922" stop-color="#02e7fd"/><stop offset="0.949" stop-color="#05e8fa"/><stop offset="0.967" stop-color="#08e9f7"/><stop offset="1.000" stop-color="#0cebf3"/></linearGradient><linearGradient id="q236" x1="0" y1="0" x2="0" y2="1"><stop offset="0.000" stop-color="#0004bb"/><stop offset="0.182" stop-color="#0005bf"/><stop offset="0.364" stop-color="#0007c4"/><stop offset="0.506" stop-color="#000cce"/><stop offset="0.648" stop-color="#0010d9"/><stop offset="0.657" stop-color="#0010da"/><stop offset="0.675" stop-color="#0028e8"/><stop offset="0.684" stop-color="#0035ef"/><stop offset="0.689" stop-color="#003bf2"/><stop offset="0.693" stop-color="#0050f6"/><stop offset="0.702" stop-color="#007fff"/><stop offset="0.711" stop-color="#00a2ff"/><stop offset="0.716" stop-color="#00b3ff"/><stop offset="0.720" stop-color="#00c5ff"/><stop offset="0.729" stop-color="#01e6fe"/><stop offset="0.738" stop-color="#1df1e2"/><stop offset="0.747" stop-color="#2bf6d4"/><stop offset="0.756" stop-color="#3df9c2"/><stop offset="0.765" stop-color="#4ffbb0"/><stop offset="0.774" stop-color="#60fe9f"/><stop offset="0.783" stop-color="#68ff97"/><stop offset="0.792" stop-color="#6dff92"/><stop offset="0.801" stop-color="#73ff8c"/><stop offset="0.810" stop-color="#62ff9d"/><stop offset="0.819" stop-color="#51fcae"/><stop offset="0.828" stop-color="#3ff9c0"/><stop offset="0.837" stop-color="#28f5d7"/><stop offset="0.846" stop-color="#19efe6"/><stop offset="0.855" stop-color="#09e9f6"/><stop offset="0.864" stop-color="#01e6fe"/><stop offset="0.882" stop-color="#00d5ff"/><stop offset="0.891" stop-color="#00dcff"/><stop offset="0.895" stop-color="#00dfff"/><stop offset="0.904" stop-color="#00e6ff"/><stop offset="0.922" stop-color="#02e7fd"/><stop offset="0.949" stop-color="#05e8fa"/><stop offset="0.967" stop-color="#08e9f7"/><stop offset="1.000" stop-color="#0debf2"/></linearGradient><linearGradient id="q237" x1="0" y1="0" x2="0" y2="1"><stop offset="0.000" stop-color="#0004bb"/><stop offset="0.182" stop-color="#0005bf"/><stop offset="0.364" stop-color="#0007c4"/><stop offset="0.506" stop-color="#000cce"/><stop offset="0.648" stop-color="#0010d9"/><stop offset="0.657" stop-color="#0010da"/><stop offset="0.675" stop-color="#0027e8"/><stop offset="0.684" stop-color="#0034ee"/><stop offset="0.689" stop-color="#003bf1"/><stop offset="0.693" stop-color="#004ef5"/><stop offset="0.702" stop-color="#007efe"/><stop offset="0.711" stop-color="#00a1ff"/><stop offset="0.716" stop-color="#00b2ff"/><stop offset="0.720" stop-color="#00c4ff"/><stop offset="0.729" stop-color="#00e6ff"/><stop offset="0.738" stop-color="#1bf0e4"/><stop offset="0.747" stop-color="#2af5d5"/><stop offset="0.756" stop-color="#3bf8c4"/><stop offset="0.765" stop-color="#4dfbb2"/><stop offset="0.774" stop-color="#5efea1"/><stop offset="0.783" stop-color="#66ff99"/><stop offset="0.792" stop-color="#6bff94"/><stop offset="0.801" stop-color="#70ff8f"/><stop offset="0.810" stop-color="#61ff9e"/><stop offset="0.819" stop-color="#50fcaf"/><stop offset="0.828" stop-color="#3ef9c1"/><stop offset="0.837" stop-color="#28f5d7"/><stop offset="0.846" stop-color="#19efe6"/><stop offset="0.855" stop-color="#0aeaf5"/><stop offset="0.864" stop-color="#01e6fe"/><stop offset="0.882" stop-color="#00d7ff"/><stop offset="0.891" stop-color="#00ddff"/><stop offset="0.895" stop-color="#00dfff"/><stop offset="0.904" stop-color="#00e6ff"/><stop offset="0.922" stop-color="#02e7fd"/><stop offset="0.949" stop-color="#05e8fa"/><stop offset="0.967" stop-color="#08e9f7"/><stop offset="1.000" stop-color="#0debf2"/></linearGradient><linearGradient id="q238" x1="0" y1="0" x2="0" y2="1"><stop offset="0.000" stop-color="#0004bb"/><stop offset="0.182" stop-color="#0005bf"/><stop offset="0.364" stop-color="#0007c4"/><stop offset="0.506" stop-color="#000cce"/><stop offset="0.648" stop-color="#0010d9"/><stop offset="0.657" stop-color="#0010da"/><stop offset="0.675" stop-color="#0027e8"/><stop offset="0.684" stop-color="#0034ee"/><stop offset="0.689" stop-color="#003af1"/><stop offset="0.693" stop-color="#004cf5"/><stop offset="0.702" stop-color="#007cfe"/><stop offset="0.711" stop-color="#00a0ff"/><stop offset="0.716" stop-color="#00b1ff"/><stop offset="0.720" stop-color="#00c4ff"/><stop offset="0.729" stop-color="#00e5ff"/><stop offset="0.738" stop-color="#19f0e6"/><stop offset="0.747" stop-color="#28f5d7"/><stop offset="0.756" stop-color="#3af8c5"/><stop offset="0.765" stop-color="#4bfbb4"/><stop offset="0.774" stop-color="#5cfea3"/><stop offset="0.783" stop-color="#64ff9b"/><stop offset="0.792" stop-color="#69ff96"/><stop offset="0.801" stop-color="#6dff92"/><stop offset="0.810" stop-color="#60fe9f"/><stop offset="0.819" stop-color="#4ffbb0"/><stop offset="0.828" stop-color="#3ef9c1"/><stop offset="0.837" stop-color="#28f5d7"/><stop offset="0.846" stop-color="#19efe6"/><stop offset="0.855" stop-color="#0aeaf5"/><stop offset="0.864" stop-color="#01e6fe"/><stop offset="0.882" stop-color="#00d9ff"/><stop offset="0.891" stop-color="#00deff"/><stop offset="0.895" stop-color="#00e0ff"/><stop offset="0.904" stop-color="#00e6ff"/><stop offset="0.922" stop-color="#02e7fd"/><stop offset="0.949" stop-color="#05e8fa"/><stop offset="0.967" stop-color="#08e9f7"/><stop offset="1.000" stop-color="#0debf2"/></linearGradient><linearGradient id="q239" x1="0" y1="0" x2="0" y2="1"><stop offset="0.000" stop-color="#0004bb"/><stop offset="0.182" stop-color="#0005bf"/><stop offset="0.364" stop-color="#0007c4"/><stop offset="0.506" stop-color="#000cce"/><stop offset="0.648" stop-color="#0010d9"/><stop offset="0.657" stop-color="#0010da"/><stop offset="0.675" stop-color="#0027e8"/><stop offset="0.684" stop-color="#0033ee"/><stop offset="0.689" stop-color="#003af1"/><stop offset="0.693" stop-color="#004af5"/><stop offset="0.702" stop-color="#007afe"/><stop offset="0.711" stop-color="#009fff"/><stop offset="0.716" stop-color="#00b1ff"/><stop offset="0.720" stop-color="#00c3ff"/><stop offset="0.729" stop-color="#00e3ff"/><stop offset="0.738" stop-color="#17efe8"/><stop offset="0.747" stop-color="#27f5d8"/><stop offset="0.756" stop-color="#37f8c8"/><stop offset="0.765" stop-color="#48fab7"/><stop offset="0.774" stop-color="#59fda6"/><stop offset="0.783" stop-color="#63ff9c"/><stop offset="0.792" stop-color="#66ff99"/><stop offset="0.801" stop-color="#6aff95"/><stop offset="0.810" stop-color="#5ffea0"/><stop offset="0.819" stop-color="#4efbb1"/><stop offset="0.828" stop-color="#3df8c2"/><stop offset="0.837" stop-color="#28f5d7"/><stop offset="0.846" stop-color="#1af0e5"/><stop offset="0.855" stop-color="#0beaf4"/><stop offset="0.864" stop-color="#02e7fd"/><stop offset="0.882" stop-color="#00dbff"/><stop offset="0.891" stop-color="#00dfff"/><stop offset="0.895" stop-color="#00e1ff"/><stop offset="0.904" stop-color="#00e6ff"/><stop offset="0.922" stop-color="#02e7fd"/><stop offset="0.949" stop-color="#05e8fa"/><stop offset="0.967" stop-color="#08e9f7"/><stop offset="1.000" stop-color="#0eebf1"/></linearGradient><linearGradient id="q240" x1="0" y1="0" x2="0" y2="1"><stop offset="0.000" stop-color="#0004bb"/><stop offset="0.182" stop-color="#0005bf"/><stop offset="0.364" stop-color="#0007c4"/><stop offset="0.506" stop-color="#000cce"/><stop offset="0.648" stop-color="#0010d9"/><stop offset="0.657" stop-color="#0010da"/><stop offset="0.675" stop-color="#0027e8"/><stop offset="0.684" stop-color="#0033ee"/><stop offset="0.689" stop-color="#0039f1"/><stop offset="0.693" stop-color="#0048f4"/><stop offset="0.702" stop-color="#0079fd"/><stop offset="0.711" stop-color="#009eff"/><stop offset="0.716" stop-color="#00b0ff"/><stop offset="0.720" stop-color="#00c2ff"/><stop offset="0.729" stop-color="#00e1ff"/><stop offset="0.738" stop-color="#15eeea"/><stop offset="0.747" stop-color="#26f4d9"/><stop offset="0.756" stop-color="#35f7ca"/><stop offset="0.765" stop-color="#46fab9"/><stop offset="0.774" stop-color="#56fda9"/><stop offset="0.783" stop-color="#61fe9e"/><stop offset="0.792" stop-color="#64ff9b"/><stop offset="0.801" stop-color="#67ff98"/><stop offset="0.810" stop-color="#5efea1"/><stop offset="0.819" stop-color="#4dfbb2"/><stop offset="0.828" stop-color="#3cf8c3"/><stop offset="0.837" stop-color="#28f5d7"/><stop offset="0.846" stop-color="#1af0e5"/><stop offset="0.855" stop-color="#0cebf3"/><stop offset="0.864" stop-color="#02e7fd"/><stop offset="0.882" stop-color="#00ddff"/><stop offset="0.891" stop-color="#00e1ff"/><stop offset="0.895" stop-color="#00e2ff"/><stop offset="0.904" stop-color="#00e6ff"/><stop offset="0.922" stop-color="#02e7fd"/><stop offset="0.949" stop-color="#05e8fa"/><stop offset="0.967" stop-color="#08e9f7"/><stop offset="1.000" stop-color="#0eebf1"/></linearGradient><linearGradient id="q241" x1="0" y1="0" x2="0" y2="1"><stop offset="0.000" stop-color="#0004bb"/><stop offset="0.182" stop-color="#0005bf"/><stop offset="0.364" stop-color="#0007c4"/><stop offset="0.506" stop-color="#000cce"/><stop offset="0.648" stop-color="#0010d9"/><stop offset="0.657" stop-color="#0010da"/><stop offset="0.675" stop-color="#0026e8"/><stop offset="0.684" stop-color="#0032ed"/><stop offset="0.689" stop-color="#0039f0"/><stop offset="0.693" stop-color="#0045f4"/><stop offset="0.702" stop-color="#0077fd"/><stop offset="0.711" stop-color="#009dff"/><stop offset="0.716" stop-color="#00afff"/><stop offset="0.720" stop-color="#00c1ff"/><stop offset="0.729" stop-color="#00e0ff"/><stop offset="0.738" stop-color="#13edec"/><stop offset="0.747" stop-color="#25f4da"/><stop offset="0.756" stop-color="#33f7cc"/><stop offset="0.765" stop-color="#43fabc"/><stop offset="0.774" stop-color="#54fcab"/><stop offset="0.783" stop-color="#5ffea0"/><stop offset="0.792" stop-color="#61ff9e"/><stop offset="0.801" stop-color="#64ff9b"/><stop offset="0.810" stop-color="#5dfea2"/><stop offset="0.819" stop-color="#4cfbb3"/><stop offset="0.828" stop-color="#3bf8c4"/><stop offset="0.837" stop-color="#28f5d7"/><stop offset="0.846" stop-color="#1af0e5"/><stop offset="0.855" stop-color="#0debf2"/><stop offset="0.864" stop-color="#02e7fd"/><stop offset="0.882" stop-color="#00dfff"/><stop offset="0.891" stop-color="#00e2ff"/><stop offset="0.895" stop-color="#00e3ff"/><stop offset="0.904" stop-color="#00e6ff"/><stop offset="0.922" stop-color="#02e7fd"/><stop offset="0.949" stop-color="#05e8fa"/><stop offset="0.967" stop-color="#08e9f7"/><stop offset="1.000" stop-color="#0eebf1"/></linearGradient><linearGradient id="q242" x1="0" y1="0" x2="0" y2="1"><stop offset="0.000" stop-color="#0004bb"/><stop offset="0.182" stop-color="#0005bf"/><stop offset="0.364" stop-color="#0007c4"/><stop offset="0.506" stop-color="#000cce"/><stop offset="0.648" stop-color="#0010d9"/><stop offset="0.657" stop-color="#0010da"/><stop offset="0.675" stop-color="#0026e7"/><stop offset="0.684" stop-color="#0032ed"/><stop offset="0.689" stop-color="#0038f0"/><stop offset="0.693" stop-color="#0043f3"/><stop offset="0.702" stop-color="#0075fd"/><stop offset="0.711" stop-color="#009cff"/><stop offset="0.716" stop-color="#00aeff"/><stop offset="0.720" stop-color="#00c0ff"/><stop offset="0.729" stop-color="#00deff"/><stop offset="0.738" stop-color="#11ecee"/><stop offset="0.747" stop-color="#24f3db"/><stop offset="0.756" stop-color="#31f7ce"/><stop offset="0.765" stop-color="#41f9be"/><stop offset="0.774" stop-color="#51fcae"/><stop offset="0.783" stop-color="#5dfea2"/><stop offset="0.792" stop-color="#5ffea0"/><stop offset="0.801" stop-color="#61fe9e"/><stop offset="0.810" stop-color="#5cfea3"/><stop offset="0.819" stop-color="#4bfbb4"/><stop offset="0.828" stop-color="#3af8c5"/><stop offset="0.837" stop-color="#28f5d7"/><stop offset="0.846" stop-color="#1bf0e4"/><stop offset="0.855" stop-color="#0eebf1"/><stop offset="0.864" stop-color="#03e7fc"/><stop offset="0.882" stop-color="#00e1ff"/><stop offset="0.891" stop-color="#00e3ff"/><stop offset="0.895" stop-color="#00e4ff"/><stop offset="0.904" stop-color="#00e6ff"/><stop offset="0.922" stop-color="#02e7fd"/><stop offset="0.949" stop-color="#04e8fb"/><stop offset="0.967" stop-color="#08e9f7"/><stop offset="1.000" stop-color="#0fecf0"/></linearGradient><linearGradient id="q243" x1="0" y1="0" x2="0" y2="1"><stop offset="0.000" stop-color="#0004bb"/><stop offset="0.182" stop-color="#0005bf"/><stop offset="0.364" stop-color="#0007c4"/><stop offset="0.506" stop-color="#000cce"/><stop offset="0.648" stop-color="#0010d9"/><stop offset="0.657" stop-color="#0010da"/><stop offset="0.675" stop-color="#0026e7"/><stop offset="0.684" stop-color="#0031ed"/><stop offset="0.689" stop-color="#0037f0"/><stop offset="0.693" stop-color="#0041f3"/><stop offset="0.702" stop-color="#0073fc"/><stop offset="0.711" stop-color="#009bff"/><stop offset="0.716" stop-color="#00adff"/><stop offset="0.720" stop-color="#00c0ff"/><stop offset="0.729" stop-color="#00dcff"/><stop offset="0.738" stop-color="#0fecf0"/><stop offset="0.747" stop-color="#23f3dc"/><stop offset="0.756" stop-color="#2ff6d0"/><stop offset="0.765" stop-color="#3ff9c0"/><stop offset="0.774" stop-color="#4ffbb0"/><stop offset="0.783" stop-color="#5cfea3"/><stop offset="0.792" stop-color="#5dfea2"/><stop offset="0.801" stop-color="#5efea1"/><stop offset="0.810" stop-color="#5bfda4"/><stop offset="0.819" stop-color="#4afbb5"/><stop offset="0.828" stop-color="#3af8c5"/><stop offset="0.837" stop-color="#28f5d7"/><stop offset="0.846" stop-color="#1bf0e4"/><stop offset="0.855" stop-color="#0eebf1"/><stop offset="0.864" stop-color="#03e7fc"/><stop offset="0.882" stop-color="#00e3ff"/><stop offset="0.891" stop-color="#00e4ff"/><stop offset="0.895" stop-color="#00e4ff"/><stop offset="0.904" stop-color="#01e6fe"/><stop offset="0.922" stop-color="#02e7fd"/><stop offset="0.949" stop-color="#04e8fb"/><stop offset="0.967" stop-color="#08e9f7"/><stop offset="1.000" stop-color="#0fecf0"/></linearGradient><linearGradient id="q244" x1="0" y1="0" x2="0" y2="1"><stop offset="0.000" stop-color="#0004bb"/><stop offset="0.182" stop-color="#0005bf"/><stop offset="0.364" stop-color="#0007c4"/><stop offset="0.506" stop-color="#000cce"/><stop offset="0.648" stop-color="#0010d9"/><stop offset="0.657" stop-color="#0010da"/><stop offset="0.675" stop-color="#0025e7"/><stop offset="0.684" stop-color="#0031ed"/><stop offset="0.689" stop-color="#0037f0"/><stop offset="0.693" stop-color="#003ff3"/><stop offset="0.702" stop-color="#0072fc"/><stop offset="0.711" stop-color="#009bff"/><stop offset="0.716" stop-color="#00adff"/><stop offset="0.720" stop-color="#00bfff"/><stop offset="0.729" stop-color="#00dbff"/><stop offset="0.738" stop-color="#0debf2"/><stop offset="0.747" stop-color="#22f3dd"/><stop offset="0.756" stop-color="#2ef6d1"/><stop offset="0.765" stop-color="#3df9c2"/><stop offset="0.774" stop-color="#4dfbb2"/><stop offset="0.783" stop-color="#5afda5"/><stop offset="0.792" stop-color="#5bfea4"/><stop offset="0.801" stop-color="#5cfea3"/><stop offset="0.810" stop-color="#5afda5"/><stop offset="0.819" stop-color="#49fbb6"/><stop offset="0.828" stop-color="#39f8c6"/><stop offset="0.837" stop-color="#28f5d7"/><stop offset="0.846" stop-color="#1bf0e4"/><stop offset="0.855" stop-color="#0fecf0"/><stop offset="0.864" stop-color="#03e7fc"/><stop offset="0.882" stop-color="#00e5ff"/><stop offset="0.895" stop-color="#00e5ff"/><stop offset="0.904" stop-color="#01e6fe"/><stop offset="0.922" stop-color="#02e7fd"/><stop offset="0.949" stop-color="#04e8fb"/><stop offset="0.967" stop-color="#08e9f7"/><stop offset="1.000" stop-color="#0fecf0"/></linearGradient><linearGradient id="q245" x1="0" y1="0" x2="0" y2="1"><stop offset="0.000" stop-color="#0004bb"/><stop offset="0.182" stop-color="#0005bf"/><stop offset="0.364" stop-color="#0007c4"/><stop offset="0.506" stop-color="#000cce"/><stop offset="0.648" stop-color="#0010d9"/><stop offset="0.657" stop-color="#0010da"/><stop offset="0.675" stop-color="#0025e7"/><stop offset="0.684" stop-color="#0031ed"/><stop offset="0.689" stop-color="#0037ef"/><stop offset="0.693" stop-color="#003ef2"/><stop offset="0.702" stop-color="#0071fc"/><stop offset="0.711" stop-color="#009aff"/><stop offset="0.716" stop-color="#00acff"/><stop offset="0.720" stop-color="#00bfff"/><stop offset="0.729" stop-color="#00daff"/><stop offset="0.738" stop-color="#0cebf3"/><stop offset="0.747" stop-color="#21f2de"/><stop offset="0.756" stop-color="#2cf6d3"/><stop offset="0.765" stop-color="#3cf8c3"/><stop offset="0.774" stop-color="#4bfbb4"/><stop offset="0.783" stop-color="#59fda6"/><stop offset="0.792" stop-color="#5afda5"/><stop offset="0.801" stop-color="#5afda5"/><stop offset="0.810" stop-color="#59fda6"/><stop offset="0.819" stop-color="#49fab6"/><stop offset="0.828" stop-color="#39f8c6"/><stop offset="0.837" stop-color="#28f5d7"/><stop offset="0.846" stop-color="#1cf0e3"/><stop offset="0.855" stop-color="#0fecf0"/><stop offset="0.864" stop-color="#04e7fb"/><stop offset="0.882" stop-color="#00e6ff"/><stop offset="0.891" stop-color="#00e6ff"/><stop offset="0.895" stop-color="#00e5ff"/><stop offset="0.904" stop-color="#01e6fe"/><stop offset="0.922" stop-color="#02e7fd"/><stop offset="0.949" stop-color="#04e8fb"/><stop offset="0.967" stop-color="#08e9f7"/><stop offset="1.000" stop-color="#10ecef"/></linearGradient><linearGradient id="q246" x1="0" y1="0" x2="0" y2="1"><stop offset="0.000" stop-color="#0004bb"/><stop offset="0.182" stop-color="#0005bf"/><stop offset="0.364" stop-color="#0007c4"/><stop offset="0.506" stop-color="#000cce"/><stop offset="0.648" stop-color="#0010d9"/><stop offset="0.657" stop-color="#0010da"/><stop offset="0.675" stop-color="#0025e7"/><stop offset="0.684" stop-color="#0031ed"/><stop offset="0.689" stop-color="#0036ef"/><stop offset="0.693" stop-color="#003df2"/><stop offset="0.702" stop-color="#0070fc"/><stop offset="0.711" stop-color="#009aff"/><stop offset="0.716" stop-color="#00acff"/><stop offset="0.720" stop-color="#00beff"/><stop offset="0.729" stop-color="#00d9ff"/><stop offset="0.738" stop-color="#0beaf4"/><stop offset="0.747" stop-color="#20f2df"/><stop offset="0.756" stop-color="#2cf6d3"/><stop offset="0.765" stop-color="#3bf8c4"/><stop offset="0.774" stop-color="#4afbb5"/><stop offset="0.783" stop-color="#58fda7"/><stop offset="0.792" stop-color="#59fda6"/><stop offset="0.801" stop-color="#59fda6"/><stop offset="0.810" stop-color="#58fda7"/><stop offset="0.819" stop-color="#48fab7"/><stop offset="0.828" stop-color="#38f8c7"/><stop offset="0.837" stop-color="#28f5d7"/><stop offset="0.846" stop-color="#1cf0e3"/><stop offset="0.855" stop-color="#10ecef"/><stop offset="0.864" stop-color="#04e7fb"/><stop offset="0.882" stop-color="#01e6fe"/><stop offset="0.891" stop-color="#00e6ff"/><stop offset="0.895" stop-color="#00e6ff"/><stop offset="0.904" stop-color="#01e6fe"/><stop offset="0.922" stop-color="#02e7fd"/><stop offset="0.949" stop-color="#04e8fb"/><stop offset="0.967" stop-color="#08e9f7"/><stop offset="1.000" stop-color="#10ecef"/></linearGradient><linearGradient id="q247" x1="0" y1="0" x2="0" y2="1"><stop offset="0.000" stop-color="#0004bb"/><stop offset="0.182" stop-color="#0005bf"/><stop offset="0.364" stop-color="#0007c4"/><stop offset="0.506" stop-color="#000cce"/><stop offset="0.648" stop-color="#0010d9"/><stop offset="0.657" stop-color="#0010da"/><stop offset="0.675" stop-color="#0025e7"/><stop offset="0.684" stop-color="#0030ed"/><stop offset="0.689" stop-color="#0036ef"/><stop offset="0.693" stop-color="#003cf2"/><stop offset="0.702" stop-color="#006ffc"/><stop offset="0.711" stop-color="#0099ff"/><stop offset="0.716" stop-color="#00acff"/><stop offset="0.720" stop-color="#00beff"/><stop offset="0.729" stop-color="#00d9ff"/><stop offset="0.738" stop-color="#0beaf4"/><stop offset="0.747" stop-color="#20f2df"/><stop offset="0.756" stop-color="#2bf6d4"/><stop offset="0.765" stop-color="#3af8c5"/><stop offset="0.774" stop-color="#49fbb6"/><stop offset="0.783" stop-color="#58fda7"/><stop offset="0.810" stop-color="#58fda7"/><stop offset="0.819" stop-color="#48fab7"/><stop offset="0.828" stop-color="#38f8c7"/><stop offset="0.837" stop-color="#28f5d7"/><stop offset="0.846" stop-color="#1cf0e3"/><stop offset="0.855" stop-color="#10ecef"/><stop offset="0.864" stop-color="#04e7fb"/><stop offset="0.882" stop-color="#02e7fd"/><stop offset="0.891" stop-color="#00e6ff"/><stop offset="0.895" stop-color="#00e6ff"/><stop offset="0.904" stop-color="#01e6fe"/><stop offset="0.922" stop-color="#02e7fd"/><stop offset="0.949" stop-color="#04e8fb"/><stop offset="0.967" stop-color="#08e9f7"/><stop offset="1.000" stop-color="#10ecef"/></linearGradient><linearGradient id="cbg" x1="0" y1="0" x2="0" y2="1"><stop offset="0.000" stop-color="#800000"/><stop offset="0.031" stop-color="#9f0000"/><stop offset="0.062" stop-color="#bf0000"/><stop offset="0.094" stop-color="#df0000"/><stop offset="0.125" stop-color="#ff0000"/><stop offset="0.156" stop-color="#ff2000"/><stop offset="0.188" stop-color="#ff4000"/><stop offset="0.219" stop-color="#ff6000"/><stop offset="0.250" stop-color="#ff8000"/><stop offset="0.281" stop-color="#ff9f00"/><stop offset="0.312" stop-color="#ffbf00"/><stop offset="0.344" stop-color="#ffdf00"/><stop offset="0.375" stop-color="#ffff00"/><stop offset="0.406" stop-color="#dfff20"/><stop offset="0.438" stop-color="#bfff40"/><stop offset="0.469" stop-color="#9fff60"/><stop offset="0.500" stop-color="#80ff80"/><stop offset="0.531" stop-color="#60ff9f"/><stop offset="0.562" stop-color="#40ffbf"/><stop offset="0.594" stop-color="#20ffdf"/><stop offset="0.625" stop-color="#00ffff"/><stop offset="0.656" stop-color="#00dfff"/><stop offset="0.688" stop-color="#00bfff"/><stop offset="0.719" stop-color="#009fff"/><stop offset="0.750" stop-color="#0080ff"/><stop offset="0.781" stop-color="#0060ff"/><stop offset="0.812" stop-color="#0040ff"/><stop offset="0.844" stop-color="#0020ff"/><stop offset="0.875" stop-color="#0000ff"/><stop offset="0.906" stop-color="#0000df"/><stop offset="0.938" stop-color="#0000bf"/><stop offset="0.969" stop-color="#00009f"/><stop offset="1.000" stop-color="#000080"/></linearGradient></defs>
<g clip-path="url(#hc1)"><rect x="36" y="59.80" width="2" height="111.90" fill="url(#q1)"/><rect x="38" y="59.80" width="2" height="111.90" fill="url(#q2)"/><rect x="40" y="59.80" width="2" height="111.90" fill="url(#q3)"/><rect x="42" y="59.80" width="2" height="111.90" fill="url(#q4)"/><rect x="44" y="59.80" width="2" height="111.90" fill="url(#q5)"/><rect x="46" y="59.80" width="2" height="111.90" fill="url(#q6)"/><rect x="48" y="59.80" width="2" height="111.90" fill="url(#q7)"/><rect x="50" y="59.80" width="2" height="111.90" fill="url(#q8)"/><rect x="52" y="59.80" width="2" height="111.90" fill="url(#q9)"/><rect x="54" y="59.80" width="2" height="111.90" fill="url(#q10)"/><rect x="56" y="59.80" width="2" height="111.90" fill="url(#q11)"/><rect x="58" y="59.80" width="2" height="111.90" fill="url(#q12)"/><rect x="60" y="59.80" width="2" height="111.90" fill="url(#q13)"/><rect x="62" y="59.80" width="2" height="111.90" fill="url(#q14)"/><rect x="64" y="59.80" width="2" height="111.90" fill="url(#q15)"/><rect x="66" y="59.80" width="2" height="111.90" fill="url(#q16)"/><rect x="68" y="59.80" width="2" height="111.90" fill="url(#q17)"/><rect x="70" y="59.80" width="2" height="111.90" fill="url(#q18)"/><rect x="72" y="59.80" width="2" height="111.90" fill="url(#q19)"/><rect x="74" y="59.80" width="2" height="111.90" fill="url(#q20)"/><rect x="76" y="59.80" width="2" height="111.90" fill="url(#q21)"/><rect x="78" y="59.80" width="2" height="111.90" fill="url(#q22)"/><rect x="80" y="59.80" width="2" height="111.90" fill="url(#q23)"/><rect x="82" y="59.80" width="2" height="111.90" fill="url(#q24)"/><rect x="84" y="59.80" width="2" height="111.90" fill="url(#q25)"/><rect x="86" y="59.80" width="2" height="111.90" fill="url(#q26)"/><rect x="88" y="59.80" width="2" height="111.90" fill="url(#q27)"/><rect x="90" y="59.80" width="2" height="111.90" fill="url(#q28)"/></g><g clip-path="url(#hc2)"><rect x="102" y="60.40" width="2" height="111.10" fill="url(#q29)"/><rect x="104" y="60.40" width="2" height="111.10" fill="url(#q30)"/><rect x="106" y="60.40" width="2" height="111.10" fill="url(#q31)"/><rect x="108" y="60.40" width="2" height="111.10" fill="url(#q32)"/><rect x="110" y="60.40" width="2" height="111.10" fill="url(#q33)"/><rect x="112" y="60.40" width="2" height="111.10" fill="url(#q34)"/><rect x="114" y="60.40" width="2" height="111.10" fill="url(#q35)"/><rect x="116" y="60.40" width="2" height="111.10" fill="url(#q36)"/><rect x="118" y="60.40" width="2" height="111.10" fill="url(#q37)"/><rect x="120" y="60.40" width="2" height="111.10" fill="url(#q38)"/><rect x="122" y="60.40" width="2" height="111.10" fill="url(#q39)"/><rect x="124" y="60.40" width="2" height="111.10" fill="url(#q40)"/><rect x="126" y="60.40" width="2" height="111.10" fill="url(#q41)"/><rect x="128" y="60.40" width="2" height="111.10" fill="url(#q42)"/><rect x="130" y="60.40" width="2" height="111.10" fill="url(#q43)"/><rect x="132" y="60.40" width="2" height="111.10" fill="url(#q44)"/><rect x="134" y="60.40" width="2" height="111.10" fill="url(#q45)"/><rect x="136" y="60.40" width="2" height="111.10" fill="url(#q46)"/><rect x="138" y="60.40" width="2" height="111.10" fill="url(#q47)"/><rect x="140" y="60.40" width="2" height="111.10" fill="url(#q48)"/><rect x="142" y="60.40" width="2" height="111.10" fill="url(#q49)"/><rect x="144" y="60.40" width="2" height="111.10" fill="url(#q50)"/><rect x="146" y="60.40" width="2" height="111.10" fill="url(#q51)"/><rect x="148" y="60.40" width="2" height="111.10" fill="url(#q52)"/><rect x="150" y="60.40" width="2" height="111.10" fill="url(#q53)"/><rect x="152" y="60.40" width="2" height="111.10" fill="url(#q54)"/><rect x="154" y="60.40" width="2" height="111.10" fill="url(#q55)"/><rect x="156" y="60.40" width="2" height="111.10" fill="url(#q56)"/><rect x="158" y="60.40" width="2" height="111.10" fill="url(#q57)"/><rect x="160" y="60.40" width="2" height="111.10" fill="url(#q58)"/><rect x="162" y="60.40" width="2" height="111.10" fill="url(#q59)"/><rect x="164" y="60.40" width="2" height="111.10" fill="url(#q60)"/><rect x="166" y="60.40" width="2" height="111.10" fill="url(#q61)"/><rect x="168" y="60.40" width="2" height="111.10" fill="url(#q62)"/><rect x="170" y="60.40" width="2" height="111.10" fill="url(#q63)"/><rect x="172" y="60.40" width="2" height="111.10" fill="url(#q64)"/><rect x="174" y="60.40" width="2" height="111.10" fill="url(#q65)"/><rect x="176" y="60.40" width="2" height="111.10" fill="url(#q66)"/><rect x="178" y="60.40" width="2" height="111.10" fill="url(#q67)"/><rect x="180" y="60.40" width="2" height="111.10" fill="url(#q68)"/><rect x="182" y="60.40" width="2" height="111.10" fill="url(#q69)"/><rect x="184" y="60.40" width="2" height="111.10" fill="url(#q70)"/><rect x="186" y="60.40" width="2" height="111.10" fill="url(#q71)"/><rect x="188" y="60.40" width="2" height="111.10" fill="url(#q72)"/><rect x="190" y="60.40" width="2" height="111.10" fill="url(#q73)"/><rect x="192" y="60.40" width="2" height="111.10" fill="url(#q74)"/><rect x="194" y="60.40" width="2" height="111.10" fill="url(#q75)"/><rect x="196" y="60.40" width="2" height="111.10" fill="url(#q76)"/><rect x="198" y="60.40" width="2" height="111.10" fill="url(#q77)"/><rect x="200" y="60.40" width="2" height="111.10" fill="url(#q78)"/><rect x="202" y="60.40" width="2" height="111.10" fill="url(#q79)"/><rect x="204" y="60.40" width="2" height="111.10" fill="url(#q80)"/><rect x="206" y="60.40" width="2" height="111.10" fill="url(#q81)"/><rect x="208" y="60.40" width="2" height="111.10" fill="url(#q82)"/><rect x="210" y="60.40" width="2" height="111.10" fill="url(#q83)"/></g><line x1="63.4" y1="61.2" x2="63.4" y2="171.0" stroke="#fff" stroke-width="1.3" stroke-dasharray="4.3 2.65"/><line x1="154.4" y1="61.8" x2="154.4" y2="171.0" stroke="#fff" stroke-width="1.3" stroke-dasharray="4.3 2.65"/><g clip-path="url(#hc3)"><rect x="237" y="58.50" width="2" height="112.20" fill="url(#q84)"/><rect x="239" y="58.50" width="2" height="112.20" fill="url(#q85)"/><rect x="241" y="58.50" width="2" height="112.20" fill="url(#q86)"/><rect x="243" y="58.50" width="2" height="112.20" fill="url(#q87)"/><rect x="245" y="58.50" width="2" height="112.20" fill="url(#q88)"/><rect x="247" y="58.50" width="2" height="112.20" fill="url(#q89)"/><rect x="249" y="58.50" width="2" height="112.20" fill="url(#q90)"/><rect x="251" y="58.50" width="2" height="112.20" fill="url(#q91)"/><rect x="253" y="58.50" width="2" height="112.20" fill="url(#q92)"/><rect x="255" y="58.50" width="2" height="112.20" fill="url(#q93)"/><rect x="257" y="58.50" width="2" height="112.20" fill="url(#q94)"/><rect x="259" y="58.50" width="2" height="112.20" fill="url(#q95)"/><rect x="261" y="58.50" width="2" height="112.20" fill="url(#q96)"/><rect x="263" y="58.50" width="2" height="112.20" fill="url(#q97)"/><rect x="265" y="58.50" width="2" height="112.20" fill="url(#q98)"/><rect x="267" y="58.50" width="2" height="112.20" fill="url(#q99)"/><rect x="269" y="58.50" width="2" height="112.20" fill="url(#q100)"/><rect x="271" y="58.50" width="2" height="112.20" fill="url(#q101)"/><rect x="273" y="58.50" width="2" height="112.20" fill="url(#q102)"/><rect x="275" y="58.50" width="2" height="112.20" fill="url(#q103)"/><rect x="277" y="58.50" width="2" height="112.20" fill="url(#q104)"/><rect x="279" y="58.50" width="2" height="112.20" fill="url(#q105)"/><rect x="281" y="58.50" width="2" height="112.20" fill="url(#q106)"/><rect x="283" y="58.50" width="2" height="112.20" fill="url(#q107)"/><rect x="285" y="58.50" width="2" height="112.20" fill="url(#q108)"/><rect x="287" y="58.50" width="2" height="112.20" fill="url(#q109)"/><rect x="289" y="58.50" width="2" height="112.20" fill="url(#q110)"/><rect x="291" y="58.50" width="2" height="112.20" fill="url(#q111)"/></g><g clip-path="url(#hc4)"><rect x="302" y="59.00" width="2" height="112.00" fill="url(#q112)"/><rect x="304" y="59.00" width="2" height="112.00" fill="url(#q113)"/><rect x="306" y="59.00" width="2" height="112.00" fill="url(#q114)"/><rect x="308" y="59.00" width="2" height="112.00" fill="url(#q115)"/><rect x="310" y="59.00" width="2" height="112.00" fill="url(#q116)"/><rect x="312" y="59.00" width="2" height="112.00" fill="url(#q117)"/><rect x="314" y="59.00" width="2" height="112.00" fill="url(#q118)"/><rect x="316" y="59.00" width="2" height="112.00" fill="url(#q119)"/><rect x="318" y="59.00" width="2" height="112.00" fill="url(#q120)"/><rect x="320" y="59.00" width="2" height="112.00" fill="url(#q121)"/><rect x="322" y="59.00" width="2" height="112.00" fill="url(#q122)"/><rect x="324" y="59.00" width="2" height="112.00" fill="url(#q123)"/><rect x="326" y="59.00" width="2" height="112.00" fill="url(#q124)"/><rect x="328" y="59.00" width="2" height="112.00" fill="url(#q125)"/><rect x="330" y="59.00" width="2" height="112.00" fill="url(#q126)"/><rect x="332" y="59.00" width="2" height="112.00" fill="url(#q127)"/><rect x="334" y="59.00" width="2" height="112.00" fill="url(#q128)"/><rect x="336" y="59.00" width="2" height="112.00" fill="url(#q129)"/><rect x="338" y="59.00" width="2" height="112.00" fill="url(#q130)"/><rect x="340" y="59.00" width="2" height="112.00" fill="url(#q131)"/><rect x="342" y="59.00" width="2" height="112.00" fill="url(#q132)"/><rect x="344" y="59.00" width="2" height="112.00" fill="url(#q133)"/><rect x="346" y="59.00" width="2" height="112.00" fill="url(#q134)"/><rect x="348" y="59.00" width="2" height="112.00" fill="url(#q135)"/><rect x="350" y="59.00" width="2" height="112.00" fill="url(#q136)"/><rect x="352" y="59.00" width="2" height="112.00" fill="url(#q137)"/><rect x="354" y="59.00" width="2" height="112.00" fill="url(#q138)"/><rect x="356" y="59.00" width="2" height="112.00" fill="url(#q139)"/><rect x="358" y="59.00" width="2" height="112.00" fill="url(#q140)"/><rect x="360" y="59.00" width="2" height="112.00" fill="url(#q141)"/><rect x="362" y="59.00" width="2" height="112.00" fill="url(#q142)"/><rect x="364" y="59.00" width="2" height="112.00" fill="url(#q143)"/><rect x="366" y="59.00" width="2" height="112.00" fill="url(#q144)"/><rect x="368" y="59.00" width="2" height="112.00" fill="url(#q145)"/><rect x="370" y="59.00" width="2" height="112.00" fill="url(#q146)"/><rect x="372" y="59.00" width="2" height="112.00" fill="url(#q147)"/><rect x="374" y="59.00" width="2" height="112.00" fill="url(#q148)"/><rect x="376" y="59.00" width="2" height="112.00" fill="url(#q149)"/><rect x="378" y="59.00" width="2" height="112.00" fill="url(#q150)"/><rect x="380" y="59.00" width="2" height="112.00" fill="url(#q151)"/><rect x="382" y="59.00" width="2" height="112.00" fill="url(#q152)"/><rect x="384" y="59.00" width="2" height="112.00" fill="url(#q153)"/><rect x="386" y="59.00" width="2" height="112.00" fill="url(#q154)"/><rect x="388" y="59.00" width="2" height="112.00" fill="url(#q155)"/><rect x="390" y="59.00" width="2" height="112.00" fill="url(#q156)"/><rect x="392" y="59.00" width="2" height="112.00" fill="url(#q157)"/><rect x="394" y="59.00" width="2" height="112.00" fill="url(#q158)"/><rect x="396" y="59.00" width="2" height="112.00" fill="url(#q159)"/><rect x="398" y="59.00" width="2" height="112.00" fill="url(#q160)"/><rect x="400" y="59.00" width="2" height="112.00" fill="url(#q161)"/><rect x="402" y="59.00" width="2" height="112.00" fill="url(#q162)"/><rect x="404" y="59.00" width="2" height="112.00" fill="url(#q163)"/><rect x="406" y="59.00" width="2" height="112.00" fill="url(#q164)"/><rect x="408" y="59.00" width="2" height="112.00" fill="url(#q165)"/></g><line x1="264.1" y1="60.0" x2="264.1" y2="170.6" stroke="#fff" stroke-width="1.3" stroke-dasharray="4.3 2.65"/><line x1="354.8" y1="60.4" x2="354.8" y2="171.0" stroke="#fff" stroke-width="1.3" stroke-dasharray="4.3 2.65"/><g clip-path="url(#hc5)"><rect x="437" y="59.00" width="2" height="112.50" fill="url(#q166)"/><rect x="439" y="59.00" width="2" height="112.50" fill="url(#q167)"/><rect x="441" y="59.00" width="2" height="112.50" fill="url(#q168)"/><rect x="443" y="59.00" width="2" height="112.50" fill="url(#q169)"/><rect x="445" y="59.00" width="2" height="112.50" fill="url(#q170)"/><rect x="447" y="59.00" width="2" height="112.50" fill="url(#q171)"/><rect x="449" y="59.00" width="2" height="112.50" fill="url(#q172)"/><rect x="451" y="59.00" width="2" height="112.50" fill="url(#q173)"/><rect x="453" y="59.00" width="2" height="112.50" fill="url(#q174)"/><rect x="455" y="59.00" width="2" height="112.50" fill="url(#q175)"/><rect x="457" y="59.00" width="2" height="112.50" fill="url(#q176)"/><rect x="459" y="59.00" width="2" height="112.50" fill="url(#q177)"/><rect x="461" y="59.00" width="2" height="112.50" fill="url(#q178)"/><rect x="463" y="59.00" width="2" height="112.50" fill="url(#q179)"/><rect x="465" y="59.00" width="2" height="112.50" fill="url(#q180)"/><rect x="467" y="59.00" width="2" height="112.50" fill="url(#q181)"/><rect x="469" y="59.00" width="2" height="112.50" fill="url(#q182)"/><rect x="471" y="59.00" width="2" height="112.50" fill="url(#q183)"/><rect x="473" y="59.00" width="2" height="112.50" fill="url(#q184)"/><rect x="475" y="59.00" width="2" height="112.50" fill="url(#q185)"/><rect x="477" y="59.00" width="2" height="112.50" fill="url(#q186)"/><rect x="479" y="59.00" width="2" height="112.50" fill="url(#q187)"/><rect x="481" y="59.00" width="2" height="112.50" fill="url(#q188)"/><rect x="483" y="59.00" width="2" height="112.50" fill="url(#q189)"/><rect x="485" y="59.00" width="2" height="112.50" fill="url(#q190)"/><rect x="487" y="59.00" width="2" height="112.50" fill="url(#q191)"/><rect x="489" y="59.00" width="2" height="112.50" fill="url(#q192)"/><rect x="491" y="59.00" width="2" height="112.50" fill="url(#q193)"/></g><g clip-path="url(#hc6)"><rect x="502" y="59.50" width="2" height="111.20" fill="url(#q194)"/><rect x="504" y="59.50" width="2" height="111.20" fill="url(#q195)"/><rect x="506" y="59.50" width="2" height="111.20" fill="url(#q196)"/><rect x="508" y="59.50" width="2" height="111.20" fill="url(#q197)"/><rect x="510" y="59.50" width="2" height="111.20" fill="url(#q198)"/><rect x="512" y="59.50" width="2" height="111.20" fill="url(#q199)"/><rect x="514" y="59.50" width="2" height="111.20" fill="url(#q200)"/><rect x="516" y="59.50" width="2" height="111.20" fill="url(#q201)"/><rect x="518" y="59.50" width="2" height="111.20" fill="url(#q202)"/><rect x="520" y="59.50" width="2" height="111.20" fill="url(#q203)"/><rect x="522" y="59.50" width="2" height="111.20" fill="url(#q204)"/><rect x="524" y="59.50" width="2" height="111.20" fill="url(#q205)"/><rect x="526" y="59.50" width="2" height="111.20" fill="url(#q206)"/><rect x="528" y="59.50" width="2" height="111.20" fill="url(#q207)"/><rect x="530" y="59.50" width="2" height="111.20" fill="url(#q208)"/><rect x="532" y="59.50" width="2" height="111.20" fill="url(#q209)"/><rect x="534" y="59.50" width="2" height="111.20" fill="url(#q210)"/><rect x="536" y="59.50" width="2" height="111.20" fill="url(#q211)"/><rect x="538" y="59.50" width="2" height="111.20" fill="url(#q212)"/><rect x="540" y="59.50" width="2" height="111.20" fill="url(#q213)"/><rect x="542" y="59.50" width="2" height="111.20" fill="url(#q214)"/><rect x="544" y="59.50" width="2" height="111.20" fill="url(#q215)"/><rect x="546" y="59.50" width="2" height="111.20" fill="url(#q216)"/><rect x="548" y="59.50" width="2" height="111.20" fill="url(#q217)"/><rect x="550" y="59.50" width="2" height="111.20" fill="url(#q218)"/><rect x="552" y="59.50" width="2" height="111.20" fill="url(#q219)"/><rect x="554" y="59.50" width="2" height="111.20" fill="url(#q220)"/><rect x="556" y="59.50" width="2" height="111.20" fill="url(#q221)"/><rect x="558" y="59.50" width="2" height="111.20" fill="url(#q222)"/><rect x="560" y="59.50" width="2" height="111.20" fill="url(#q223)"/><rect x="562" y="59.50" width="2" height="111.20" fill="url(#q224)"/><rect x="564" y="59.50" width="2" height="111.20" fill="url(#q225)"/><rect x="566" y="59.50" width="2" height="111.20" fill="url(#q226)"/><rect x="568" y="59.50" width="2" height="111.20" fill="url(#q227)"/><rect x="570" y="59.50" width="2" height="111.20" fill="url(#q228)"/><rect x="572" y="59.50" width="2" height="111.20" fill="url(#q229)"/><rect x="574" y="59.50" width="2" height="111.20" fill="url(#q230)"/><rect x="576" y="59.50" width="2" height="111.20" fill="url(#q231)"/><rect x="578" y="59.50" width="2" height="111.20" fill="url(#q232)"/><rect x="580" y="59.50" width="2" height="111.20" fill="url(#q233)"/><rect x="582" y="59.50" width="2" height="111.20" fill="url(#q234)"/><rect x="584" y="59.50" width="2" height="111.20" fill="url(#q235)"/><rect x="586" y="59.50" width="2" height="111.20" fill="url(#q236)"/><rect x="588" y="59.50" width="2" height="111.20" fill="url(#q237)"/><rect x="590" y="59.50" width="2" height="111.20" fill="url(#q238)"/><rect x="592" y="59.50" width="2" height="111.20" fill="url(#q239)"/><rect x="594" y="59.50" width="2" height="111.20" fill="url(#q240)"/><rect x="596" y="59.50" width="2" height="111.20" fill="url(#q241)"/><rect x="598" y="59.50" width="2" height="111.20" fill="url(#q242)"/><rect x="600" y="59.50" width="2" height="111.20" fill="url(#q243)"/><rect x="602" y="59.50" width="2" height="111.20" fill="url(#q244)"/><rect x="604" y="59.50" width="2" height="111.20" fill="url(#q245)"/><rect x="606" y="59.50" width="2" height="111.20" fill="url(#q246)"/><rect x="608" y="59.50" width="2" height="111.20" fill="url(#q247)"/></g><line x1="464.6" y1="60.6" x2="464.6" y2="171.5" stroke="#fff" stroke-width="1.3" stroke-dasharray="4.3 2.65"/><line x1="555.8" y1="60.9" x2="555.8" y2="170.7" stroke="#fff" stroke-width="1.3" stroke-dasharray="4.3 2.65"/><g fill="#6070ff" fill-opacity="0.5"><circle cx="66.8" cy="73.4" r="0.9"/><circle cx="59.7" cy="105.9" r="0.9"/><circle cx="42.7" cy="118.7" r="0.9"/><circle cx="51.2" cy="122.9" r="0.9"/><circle cx="129.0" cy="64.9" r="0.9"/><circle cx="123.4" cy="70.6" r="0.9"/><circle cx="129.0" cy="93.2" r="0.9"/><circle cx="171.4" cy="93.2" r="0.9"/><circle cx="177.1" cy="93.2" r="0.9"/><circle cx="175.7" cy="97.4" r="0.9"/><circle cx="194.1" cy="98.8" r="0.9"/><circle cx="204.0" cy="67.7" r="0.9"/><circle cx="181.3" cy="104.5" r="0.9"/><circle cx="165.8" cy="121.5" r="0.9"/><circle cx="124.8" cy="124.3" r="0.9"/><circle cx="109.2" cy="66.3" r="0.9"/><circle cx="250.1" cy="81.8" r="0.9"/><circle cx="254.8" cy="78.4" r="0.9"/><circle cx="280.5" cy="81.8" r="0.9"/><circle cx="285.6" cy="99.1" r="0.9"/><circle cx="282.7" cy="102.5" r="0.9"/><circle cx="271.2" cy="85.2" r="0.9"/><circle cx="268.3" cy="87.3" r="0.9"/><circle cx="245.2" cy="63.5" r="0.9"/><circle cx="255.2" cy="63.5" r="0.9"/><circle cx="282.6" cy="63.5" r="0.9"/><circle cx="255.2" cy="108.3" r="0.9"/><circle cx="324.9" cy="68.1" r="0.9"/><circle cx="334.1" cy="86.5" r="0.9"/><circle cx="325.6" cy="92.6" r="0.9"/><circle cx="324.9" cy="111.7" r="0.9"/><circle cx="338.6" cy="109.4" r="0.9"/><circle cx="378.4" cy="66.6" r="0.9"/><circle cx="381.5" cy="68.1" r="0.9"/><circle cx="394.4" cy="99.5" r="0.9"/><circle cx="375.3" cy="114.8" r="0.9"/><circle cx="378.4" cy="113.2" r="0.9"/><circle cx="383.7" cy="118.6" r="0.9"/><circle cx="389.9" cy="120.1" r="0.9"/><circle cx="370.0" cy="116.3" r="0.9"/><circle cx="344.8" cy="64.3" r="0.9"/><circle cx="339.4" cy="62.8" r="0.9"/><circle cx="447.8" cy="73.7" r="0.9"/><circle cx="450.4" cy="77.6" r="0.9"/><circle cx="485.5" cy="86.7" r="0.9"/><circle cx="458.2" cy="94.5" r="0.9"/><circle cx="447.8" cy="86.7" r="0.9"/><circle cx="515.4" cy="81.5" r="0.9"/><circle cx="531.0" cy="103.6" r="0.9"/><circle cx="528.4" cy="112.7" r="0.9"/><circle cx="510.2" cy="107.5" r="0.9"/><circle cx="515.4" cy="115.3" r="0.9"/><circle cx="537.5" cy="107.5" r="0.9"/><circle cx="570.0" cy="103.6" r="0.9"/><circle cx="581.7" cy="85.4" r="0.9"/><circle cx="589.5" cy="90.6" r="0.9"/><circle cx="584.3" cy="73.7" r="0.9"/><circle cx="598.6" cy="64.6" r="0.9"/><circle cx="601.2" cy="75.0" r="0.9"/><circle cx="606.4" cy="104.9" r="0.9"/><circle cx="592.1" cy="115.3" r="0.9"/><circle cx="586.9" cy="117.9" r="0.9"/><circle cx="577.8" cy="98.4" r="0.9"/></g><rect x="618.2" y="59.2" width="12.0" height="112.0" fill="url(#cbg)" stroke="#222" stroke-width="0.7"/><path d="M618.2 60.6h1.2M630.2 60.6h-1.2" stroke="#333" stroke-width="0.6"/><path d="M618.2 96.3h1.2M630.2 96.3h-1.2" stroke="#333" stroke-width="0.6"/><path d="M618.2 133.9h1.2M630.2 133.9h-1.2" stroke="#333" stroke-width="0.6"/><path d="M618.2 171.0h1.2M630.2 171.0h-1.2" stroke="#333" stroke-width="0.6"/>
<text x="0.0" y="17.0" font-size="32.0" font-weight="bold" text-anchor="start" >a</text><text x="-1.8" y="250.6" font-size="32.0" font-weight="bold" text-anchor="start" >b</text><text x="355.0" y="249.5" font-size="32.0" font-weight="bold" text-anchor="start" >c</text><text x="110.6" y="13.7" font-size="13.4" font-weight="bold" text-anchor="middle" >Sampling S</text><text x="62.0" y="37.2" font-size="11.0" font-weight="normal" text-anchor="middle" >Lever</text><text x="62.0" y="50.0" font-size="11.0" font-weight="normal" text-anchor="middle" >insertion</text><text x="154.1" y="37.2" font-size="11.0" font-weight="normal" text-anchor="middle" >Lever</text><text x="154.1" y="50.0" font-size="11.0" font-weight="normal" text-anchor="middle" >press</text><text x="30.9" y="62.0" font-size="8.2" font-weight="normal" text-anchor="end" stroke="#000" stroke-width="0.25">20</text><text x="30.9" y="75.4" font-size="8.2" font-weight="normal" text-anchor="end" stroke="#000" stroke-width="0.25">18</text><text x="30.9" y="88.0" font-size="8.2" font-weight="normal" text-anchor="end" stroke="#000" stroke-width="0.25">16</text><text x="30.9" y="102.9" font-size="8.2" font-weight="normal" text-anchor="end" stroke="#000" stroke-width="0.25">14</text><text x="30.9" y="117.1" font-size="8.2" font-weight="normal" text-anchor="end" stroke="#000" stroke-width="0.25">12</text><text x="30.9" y="129.7" font-size="8.2" font-weight="normal" text-anchor="end" stroke="#000" stroke-width="0.25">10</text><text x="30.9" y="144.7" font-size="8.2" font-weight="normal" text-anchor="end" stroke="#000" stroke-width="0.25">8</text><text x="30.9" y="158.9" font-size="8.2" font-weight="normal" text-anchor="end" stroke="#000" stroke-width="0.25">6</text><text x="30.9" y="173.3" font-size="8.2" font-weight="normal" text-anchor="end" stroke="#000" stroke-width="0.25">4</text><text x="36.3" y="179.9" font-size="8.4" font-weight="normal" text-anchor="middle" stroke="#000" stroke-width="0.2">-1</text><text x="65.0" y="180.7" font-size="8.4" font-weight="normal" text-anchor="middle" stroke="#000" stroke-width="0.2">0</text><text x="90.2" y="179.9" font-size="8.4" font-weight="normal" text-anchor="middle" stroke="#000" stroke-width="0.2">1</text><text x="103.0" y="179.9" font-size="8.4" font-weight="normal" text-anchor="middle" stroke="#000" stroke-width="0.2">-2</text><text x="129.3" y="179.9" font-size="8.4" font-weight="normal" text-anchor="middle" stroke="#000" stroke-width="0.2">-1</text><text x="156.0" y="179.9" font-size="8.4" font-weight="normal" text-anchor="middle" stroke="#000" stroke-width="0.2">0</text><text x="183.5" y="179.9" font-size="8.4" font-weight="normal" text-anchor="middle" stroke="#000" stroke-width="0.2">1</text><text x="206.8" y="179.9" font-size="8.4" font-weight="normal" text-anchor="middle" stroke="#000" stroke-width="0.2">2</text><text x="95.2" y="199.5" font-size="11.0" font-weight="normal" text-anchor="start" >Time (s)</text><text x="311.6" y="13.7" font-size="13.4" font-weight="bold" text-anchor="middle" >Sampling C</text><text x="263.0" y="37.2" font-size="11.0" font-weight="normal" text-anchor="middle" >Lever</text><text x="263.0" y="50.0" font-size="11.0" font-weight="normal" text-anchor="middle" >insertion</text><text x="354.5" y="37.2" font-size="11.0" font-weight="normal" text-anchor="middle" >Lever</text><text x="354.5" y="50.0" font-size="11.0" font-weight="normal" text-anchor="middle" >press</text><text x="230.8" y="61.3" font-size="8.2" font-weight="normal" text-anchor="end" stroke="#000" stroke-width="0.25">20</text><text x="230.8" y="74.7" font-size="8.2" font-weight="normal" text-anchor="end" stroke="#000" stroke-width="0.25">18</text><text x="230.8" y="87.3" font-size="8.2" font-weight="normal" text-anchor="end" stroke="#000" stroke-width="0.25">16</text><text x="230.8" y="102.2" font-size="8.2" font-weight="normal" text-anchor="end" stroke="#000" stroke-width="0.25">14</text><text x="230.8" y="116.4" font-size="8.2" font-weight="normal" text-anchor="end" stroke="#000" stroke-width="0.25">12</text><text x="230.8" y="129.0" font-size="8.2" font-weight="normal" text-anchor="end" stroke="#000" stroke-width="0.25">10</text><text x="230.8" y="144.0" font-size="8.2" font-weight="normal" text-anchor="end" stroke="#000" stroke-width="0.25">8</text><text x="230.8" y="158.2" font-size="8.2" font-weight="normal" text-anchor="end" stroke="#000" stroke-width="0.25">6</text><text x="230.8" y="172.6" font-size="8.2" font-weight="normal" text-anchor="end" stroke="#000" stroke-width="0.25">4</text><text x="236.7" y="179.9" font-size="8.4" font-weight="normal" text-anchor="middle" stroke="#000" stroke-width="0.2">-1</text><text x="264.8" y="180.7" font-size="8.4" font-weight="normal" text-anchor="middle" stroke="#000" stroke-width="0.2">0</text><text x="290.2" y="179.9" font-size="8.4" font-weight="normal" text-anchor="middle" stroke="#000" stroke-width="0.2">1</text><text x="301.4" y="179.9" font-size="8.4" font-weight="normal" text-anchor="middle" stroke="#000" stroke-width="0.2">-2</text><text x="328.6" y="179.9" font-size="8.4" font-weight="normal" text-anchor="middle" stroke="#000" stroke-width="0.2">-1</text><text x="354.9" y="179.9" font-size="8.4" font-weight="normal" text-anchor="middle" stroke="#000" stroke-width="0.2">0</text><text x="382.8" y="179.9" font-size="8.4" font-weight="normal" text-anchor="middle" stroke="#000" stroke-width="0.2">1</text><text x="407.2" y="179.9" font-size="8.4" font-weight="normal" text-anchor="middle" stroke="#000" stroke-width="0.2">2</text><text x="295.7" y="195.4" font-size="11.0" font-weight="normal" text-anchor="start" >Time (s)</text><text x="509.5" y="13.7" font-size="13.4" font-weight="bold" text-anchor="middle" >Choice S</text><text x="463.6" y="37.2" font-size="11.0" font-weight="normal" text-anchor="middle" >Lever</text><text x="463.6" y="50.0" font-size="11.0" font-weight="normal" text-anchor="middle" >insertion</text><text x="555.6" y="37.2" font-size="11.0" font-weight="normal" text-anchor="middle" >Lever</text><text x="555.6" y="50.0" font-size="11.0" font-weight="normal" text-anchor="middle" >press</text><text x="431.0" y="62.3" font-size="8.2" font-weight="normal" text-anchor="end" stroke="#000" stroke-width="0.25">20</text><text x="431.0" y="75.7" font-size="8.2" font-weight="normal" text-anchor="end" stroke="#000" stroke-width="0.25">18</text><text x="431.0" y="88.3" font-size="8.2" font-weight="normal" text-anchor="end" stroke="#000" stroke-width="0.25">16</text><text x="431.0" y="103.2" font-size="8.2" font-weight="normal" text-anchor="end" stroke="#000" stroke-width="0.25">14</text><text x="431.0" y="117.4" font-size="8.2" font-weight="normal" text-anchor="end" stroke="#000" stroke-width="0.25">12</text><text x="431.0" y="130.0" font-size="8.2" font-weight="normal" text-anchor="end" stroke="#000" stroke-width="0.25">10</text><text x="431.0" y="145.0" font-size="8.2" font-weight="normal" text-anchor="end" stroke="#000" stroke-width="0.25">8</text><text x="431.0" y="159.2" font-size="8.2" font-weight="normal" text-anchor="end" stroke="#000" stroke-width="0.25">6</text><text x="431.0" y="173.6" font-size="8.2" font-weight="normal" text-anchor="end" stroke="#000" stroke-width="0.25">4</text><text x="437.0" y="179.9" font-size="8.4" font-weight="normal" text-anchor="middle" stroke="#000" stroke-width="0.2">-1</text><text x="465.0" y="180.7" font-size="8.4" font-weight="normal" text-anchor="middle" stroke="#000" stroke-width="0.2">0</text><text x="490.8" y="179.9" font-size="8.4" font-weight="normal" text-anchor="middle" stroke="#000" stroke-width="0.2">1</text><text x="502.8" y="179.9" font-size="8.4" font-weight="normal" text-anchor="middle" stroke="#000" stroke-width="0.2">-2</text><text x="529.5" y="179.9" font-size="8.4" font-weight="normal" text-anchor="middle" stroke="#000" stroke-width="0.2">-1</text><text x="555.2" y="179.9" font-size="8.4" font-weight="normal" text-anchor="middle" stroke="#000" stroke-width="0.2">0</text><text x="583.0" y="179.9" font-size="8.4" font-weight="normal" text-anchor="middle" stroke="#000" stroke-width="0.2">1</text><text x="608.2" y="179.9" font-size="8.4" font-weight="normal" text-anchor="middle" stroke="#000" stroke-width="0.2">2</text><text x="495.2" y="199.5" font-size="11.0" font-weight="normal" text-anchor="start" >Time (s)</text><text x="0.0" y="0.0" font-size="11.4" font-weight="normal" text-anchor="middle" transform="translate(13,105.7) rotate(-90)">Frequency (Hz)</text><text x="630.8" y="62.6" font-size="5.8" font-weight="normal" text-anchor="start" style="fill:#666">1.5</text><text x="630.8" y="98.3" font-size="5.8" font-weight="normal" text-anchor="start" style="fill:#666">1</text><text x="630.8" y="135.9" font-size="5.8" font-weight="normal" text-anchor="start" style="fill:#666">0.5</text><text x="630.8" y="173.0" font-size="5.8" font-weight="normal" text-anchor="start" style="fill:#666">0</text><text x="0.0" y="0.0" font-size="9.0" font-weight="normal" text-anchor="middle" transform="translate(646.3,113) rotate(90)">LFP power modulation</text><text x="255.6" y="229.5" font-size="11.0" font-weight="normal" text-anchor="middle" >Lever</text><text x="255.6" y="242.0" font-size="11.0" font-weight="normal" text-anchor="middle" >press</text><text x="97.0" y="262.4" font-size="11.0" font-weight="bold" text-anchor="start" >Sampling S</text><text x="97.0" y="337.1" font-size="11.0" font-weight="bold" text-anchor="start" >Sampling C</text><text x="97.0" y="406.2" font-size="11.0" font-weight="bold" text-anchor="start" >Choice S</text><path d="M83.5 304.2V312.1M85.5 304.2V310.5M86.5 304.1V310.0M87.5 299.3V313.3M88.5 299.1V310.1M89.5 296.1V309.9M90.5 293.7V310.7M91.5 290.5V305.0M92.5 299.7V313.4M93.5 292.7V304.9M94.5 291.6V308.9M95.5 288.7V312.6M96.5 288.7V305.7M97.5 287.7V301.9M98.5 287.4V306.3M100.5 291.0V307.1M101.5 290.9V302.3M102.5 298.2V311.8M103.5 295.2V303.0M104.5 298.6V309.3M105.5 297.9V311.2M106.5 298.4V303.2M107.5 296.3V306.5M109.5 293.0V302.9M111.5 290.7V303.0M112.5 295.6V305.3M113.5 292.7V306.7M114.5 299.6V309.9M115.5 296.5V315.0M116.5 298.3V314.7M117.5 296.2V314.3M118.5 298.3V311.4M119.5 289.3V311.1M120.5 289.6V302.8M121.5 296.1V306.9M122.5 292.7V302.2M123.5 288.8V308.5M124.5 300.5V313.8M125.5 298.5V310.1M126.5 293.3V307.9M127.5 300.1V307.0M128.5 291.8V307.6M130.5 292.2V314.2M131.5 295.0V312.5M132.5 291.2V314.4M133.5 298.6V313.8M134.5 296.6V309.0M135.5 302.6V311.1M136.5 297.9V314.8M137.5 299.5V314.7M138.5 290.6V312.0M140.5 289.8V296.4M141.5 285.7V301.5M142.5 282.6V290.3M143.5 282.3V300.0M144.5 276.5V290.3M145.5 279.5V301.4M146.5 280.3V294.5M147.5 281.5V300.3M149.5 281.1V294.4M151.5 275.9V295.0M154.5 275.6V297.6M155.5 280.4V302.8M157.5 285.1V299.4M158.5 284.2V301.9M159.5 284.7V302.3M161.5 290.3V307.5M162.5 282.0V298.7M163.5 288.6V307.0M165.5 281.6V296.2M166.5 280.4V305.6M168.5 285.2V304.2M170.5 282.5V303.7M171.5 285.0V301.8M172.5 274.4V295.5M173.5 285.4V291.5M175.5 281.6V289.2M176.5 280.5V296.7M178.5 280.2V291.1M179.5 276.7V292.1M180.5 280.4V294.0M182.5 274.9V293.7M184.5 280.8V287.4M185.5 276.4V289.7M186.5 274.2V287.7M187.5 277.3V295.7M188.5 274.3V286.5M189.5 279.1V295.1M190.5 275.5V297.0M191.5 276.2V295.3M195.5 284.7V298.8M196.5 284.6V299.1M198.5 286.1V306.9M201.5 280.0V300.0M202.5 284.6V308.8M203.5 289.4V303.5M204.5 287.4V301.6M205.5 287.7V310.1M206.5 289.7V304.2M207.5 291.7V312.3M208.5 289.2V311.0M211.5 290.4V309.3M212.5 280.1V307.5M214.5 287.5V297.8M215.5 289.3V298.8M216.5 280.6V303.5M217.5 286.8V300.0M218.5 286.0V302.7M219.5 291.3V301.8M220.5 291.0V298.8M221.5 286.4V297.2M222.5 287.7V303.6M223.5 285.1V300.8M224.5 284.0V303.8M225.5 291.4V300.0M226.5 289.3V301.3M228.5 291.7V309.2M229.5 293.2V303.0M230.5 285.7V311.2M231.5 290.5V312.2M232.5 296.5V309.9M233.5 289.7V310.7M234.5 286.5V303.9M235.5 286.8V301.7M236.5 290.0V303.6M237.5 295.7V301.0M238.5 287.8V304.4M240.5 291.3V305.9M241.5 296.9V314.4M242.5 298.8V311.0M243.5 295.1V308.1M244.5 301.1V312.3M245.5 292.1V308.4M246.5 293.4V305.4M247.5 296.5V306.3M248.5 289.3V311.7M249.5 293.3V309.5M250.5 297.1V305.0M251.5 296.7V312.9M252.5 288.5V304.0M255.5 288.8V314.2M256.5 298.4V303.5M257.5 295.5V312.1M259.5 296.0V307.5M261.5 295.8V314.4M262.5 291.5V312.8M263.5 296.0V303.6M264.5 288.0V312.8M265.5 289.2V307.9M266.5 294.7V315.0M267.5 299.2V312.9M268.5 299.7V307.9M269.5 297.2V315.0M270.5 302.0V312.3M271.5 298.1V310.6M272.5 300.4V312.3M273.5 300.2V310.5M274.5 301.0V307.3M277.5 302.2V309.6M278.5 302.6V307.4M279.5 303.4V312.9" fill="none" stroke="#858585" stroke-width="1"/><path d="M83.3 291.2C84.2 292.6 85.9 300.9 88.4 299.6C90.9 298.3 95.7 284.7 98.5 283.3C101.3 281.9 103.2 290.0 105.2 291.2C107.2 292.4 108.3 290.1 110.3 290.7C112.3 291.2 114.2 295.4 117.0 294.5C119.8 293.6 123.7 285.0 127.1 285.3C130.5 285.6 133.8 296.2 137.2 296.2C140.6 296.2 144.2 285.6 147.3 285.3C150.4 285.0 153.2 293.2 155.7 294.5C158.2 295.8 160.0 294.2 162.4 292.8C164.8 291.4 167.2 284.9 170.0 286.1C172.8 287.3 176.3 299.9 179.0 300.1C181.7 300.4 184.0 290.4 186.3 287.6C188.6 284.8 190.2 281.4 192.7 283.3C195.2 285.2 198.1 299.0 201.1 299.2C204.1 299.4 208.3 286.2 210.6 284.4C212.9 282.6 213.2 288.2 214.8 288.6C216.4 289.1 217.8 285.3 220.1 287.1C222.4 288.9 226.1 298.4 228.6 299.2C231.1 300.0 233.3 292.9 234.9 291.8C236.5 290.7 236.5 294.7 238.1 292.8C239.7 290.9 241.6 278.6 244.4 280.2C247.2 281.8 251.5 303.1 255.0 302.3C258.5 301.5 262.5 275.5 265.5 275.3C268.5 275.1 270.6 298.6 272.9 301.3C275.2 304.0 278.4 293.0 279.5 291.4" fill="none" stroke="#0c0cd4" stroke-width="2.8" stroke-linejoin="round"/><path d="M81.0 268.4H83.5V314.6H81.0M81.0 291.5H83.5" fill="none" stroke="#111" stroke-width="1.1"/><text x="75.5" y="270.5" font-size="6.8" font-weight="normal" text-anchor="end" stroke="#000" stroke-width="0.3">0.1</text><text x="75.5" y="316.7" font-size="6.8" font-weight="normal" text-anchor="end" stroke="#000" stroke-width="0.3">-0.1</text><text x="0.0" y="0.0" font-size="9.7" font-weight="normal" text-anchor="middle" transform="translate(56.3,291.2) rotate(-90)">LFP (mV)</text><path d="M83.5 358.7V367.1M84.5 358.6V369.0M85.5 359.1V368.9M86.5 362.5V372.5M87.5 359.5V371.3M89.5 354.7V369.0M90.5 351.8V368.0M92.5 351.8V361.5M93.5 354.0V365.7M95.5 355.0V359.8M96.5 352.3V368.4M97.5 355.8V368.4M98.5 355.9V365.1M99.5 351.1V367.5M100.5 358.5V369.6M101.5 354.6V371.9M102.5 358.4V369.2M103.5 362.0V369.8M104.5 355.1V366.0M105.5 360.3V365.1M107.5 359.8V364.2M108.5 355.8V363.7M109.5 361.3V367.7M110.5 361.4V372.1M111.5 357.3V369.3M112.5 361.4V373.2M113.5 359.9V372.9M114.5 358.7V372.2M115.5 363.1V373.6M118.5 360.9V372.2M120.5 360.1V365.7M121.5 356.5V371.8M122.5 362.3V365.5M123.5 358.1V366.1M124.5 355.4V365.8M125.5 355.9V367.4M126.5 361.3V368.2M127.5 354.4V372.5M128.5 358.9V367.4M129.5 354.0V364.1M130.5 355.8V365.3M131.5 359.2V363.6M132.5 354.9V364.6M133.5 355.2V369.1M135.5 355.3V369.1M136.5 362.3V370.6M137.5 362.2V368.0M138.5 362.2V372.3M140.5 357.8V365.6M142.5 355.9V364.7M143.5 357.6V365.4M144.5 359.7V363.9M145.5 355.3V369.6M147.5 354.6V370.6M148.5 350.2V365.5M149.5 358.3V364.2M150.5 355.4V370.6M151.5 356.7V371.4M152.5 360.7V371.6M153.5 359.1V366.8M154.5 354.4V372.0M155.5 359.8V372.2M156.5 357.1V367.5M157.5 356.9V369.3M158.5 362.4V372.4M160.5 363.8V378.8M162.5 364.5V381.9M163.5 368.4V379.5M164.5 365.3V380.0M165.5 367.9V374.9M167.5 363.0V376.4M168.5 364.5V376.5M169.5 361.9V368.8M171.5 358.2V367.5M174.5 360.6V367.9M175.5 355.0V369.8M176.5 361.9V369.8M177.5 354.5V372.2M178.5 354.3V365.9M180.5 358.8V369.0M182.5 354.8V367.7M183.5 353.1V372.4M184.5 352.5V371.5M185.5 359.7V366.1M186.5 360.8V370.9M187.5 358.3V374.0M188.5 358.0V374.9M189.5 357.1V367.0M190.5 362.5V374.9M195.5 351.4V368.3M197.5 357.1V367.0M198.5 351.6V362.3M199.5 354.4V367.6M200.5 354.1V360.2M202.5 351.8V367.2M204.5 355.9V367.4M205.5 356.2V368.3M206.5 354.5V369.8M207.5 356.2V372.4M208.5 362.4V369.7M209.5 363.2V369.1M210.5 363.8V371.7M211.5 366.5V374.1M213.5 369.5V379.7M214.5 368.8V376.6M215.5 368.3V379.1M216.5 371.0V388.0M217.5 378.0V387.9M218.5 377.5V383.6M219.5 375.8V384.3M220.5 373.7V388.0M221.5 375.8V386.6M222.5 376.7V383.4M223.5 375.7V384.7M224.5 376.6V388.0M225.5 370.6V380.8M226.5 371.0V387.2M227.5 371.7V382.4M228.5 367.2V377.3M229.5 366.6V380.4M230.5 364.2V371.9M231.5 363.4V372.4M232.5 360.7V372.0M233.5 356.5V368.0M234.5 356.1V372.4M235.5 354.9V369.8M237.5 356.9V364.7M238.5 357.8V363.9M239.5 359.6V367.7M240.5 356.7V364.1M241.5 358.8V366.7M243.5 352.0V369.6M244.5 353.0V362.8M245.5 352.6V364.5M246.5 357.6V364.8M248.5 356.2V363.2M249.5 355.5V363.6M250.5 356.2V367.3M251.5 348.6V363.9M253.5 356.7V365.4M254.5 355.6V362.6M256.5 351.0V363.8M258.5 352.0V368.7M259.5 354.6V362.9M260.5 351.6V363.4M261.5 350.1V368.8M262.5 351.8V365.6M263.5 347.9V359.4M264.5 354.1V364.2M265.5 349.2V361.3M266.5 347.6V365.2M267.5 354.5V365.4M268.5 352.4V367.7M269.5 351.7V365.8M270.5 354.2V367.4M272.5 351.9V361.0M273.5 351.8V358.6M274.5 348.4V365.1M275.5 355.7V359.5M276.5 349.4V362.6M277.5 355.1V362.1M279.5 352.4V360.9M280.5 352.9V359.4" fill="none" stroke="#858585" stroke-width="1"/><path d="M83.9 365.6C85.5 364.6 90.7 359.1 93.5 359.6C96.3 360.1 98.5 368.6 101.0 368.8C103.5 369.1 106.3 361.6 108.5 361.1C110.7 360.6 111.9 365.9 113.9 366.0C115.9 366.1 118.0 361.7 120.3 361.7C122.6 361.7 125.5 365.6 127.8 366.0C130.1 366.4 132.1 363.9 134.2 363.9C136.3 363.9 138.3 366.7 140.6 366.0C142.9 365.3 146.1 360.0 148.1 359.6C150.1 359.2 150.8 363.4 152.4 363.9C154.0 364.4 155.7 361.6 157.7 362.8C159.7 364.1 161.7 372.2 164.2 371.4C166.7 370.6 169.9 358.5 172.7 358.1C175.5 357.7 178.2 368.7 181.0 369.2C183.8 369.7 186.6 361.4 189.3 361.3C192.1 361.2 194.8 368.8 197.5 368.6C200.2 368.5 202.9 360.4 205.8 360.4C208.7 360.4 212.2 368.1 215.0 368.6C217.8 369.1 220.3 363.8 222.3 363.5C224.3 363.2 224.3 367.3 226.9 366.8C229.5 366.3 234.5 360.4 237.9 360.7C241.3 361.0 244.1 368.4 247.1 368.6C250.1 368.9 254.1 363.0 256.2 362.2C258.3 361.4 258.4 364.2 259.9 364.0C261.4 363.8 263.2 360.0 265.4 360.7C267.5 361.4 270.4 367.9 272.8 368.1C275.2 368.3 278.9 362.9 280.1 361.8" fill="none" stroke="#0c0cd4" stroke-width="2.8" stroke-linejoin="round"/><path d="M81.0 342.4H83.5V387.2H81.0M81.0 365.6H83.5" fill="none" stroke="#111" stroke-width="1.1"/><text x="75.5" y="344.5" font-size="6.8" font-weight="normal" text-anchor="end" stroke="#000" stroke-width="0.3">0.1</text><text x="75.5" y="389.3" font-size="6.8" font-weight="normal" text-anchor="end" stroke="#000" stroke-width="0.3">-0.1</text><text x="0.0" y="0.0" font-size="9.7" font-weight="normal" text-anchor="middle" transform="translate(56.3,364.5) rotate(-90)">LFP (mV)</text><path d="M83.5 444.6V454.8M84.5 444.4V449.3M85.5 443.7V447.3M86.5 436.9V451.3M87.5 438.4V450.9M89.5 429.4V444.3M90.5 433.0V438.8M91.5 428.1V442.5M92.5 432.0V437.1M93.5 432.0V437.0M94.5 426.2V440.9M96.5 428.9V436.7M97.5 430.0V437.7M98.5 427.5V438.9M100.5 431.9V439.5M101.5 425.7V439.8M102.5 425.0V441.1M103.5 433.5V445.4M104.5 433.9V439.7M105.5 426.9V442.0M106.5 430.6V442.6M107.5 427.7V443.3M108.5 428.9V442.8M109.5 430.6V446.4M110.5 426.8V439.6M112.5 433.1V438.8M113.5 428.6V449.5M114.5 423.5V445.1M115.5 425.1V451.8M116.5 427.3V450.5M117.5 428.4V444.2M118.5 425.8V453.4M120.5 432.0V449.7M121.5 429.0V451.3M122.5 427.0V443.0M127.5 440.5V448.9M128.5 433.6V449.8M129.5 429.3V457.3M131.5 427.5V450.1M132.5 435.1V447.7M133.5 434.2V447.7M134.5 428.7V449.5M135.5 433.4V457.7M136.5 436.8V457.8M137.5 433.1V450.0M138.5 436.1V452.1M139.5 430.5V452.9M140.5 435.4V450.3M141.5 435.8V443.8M142.5 428.4V441.6M143.5 430.3V452.1M144.5 432.6V444.3M145.5 438.3V448.9M146.5 428.1V454.2M147.5 438.8V452.9M150.5 436.5V456.0M151.5 428.8V449.3M152.5 429.2V454.6M153.5 432.5V450.3M154.5 430.0V449.2M155.5 439.9V456.8M158.5 440.2V452.3M159.5 437.5V450.8M161.5 436.6V455.5M163.5 443.5V453.4M164.5 442.0V449.2M165.5 441.2V450.8M166.5 440.0V455.4M167.5 443.3V454.7M169.5 443.4V453.0M170.5 447.6V456.6M171.5 442.1V455.4M172.5 443.8V457.0M173.5 442.4V451.3M174.5 439.2V455.7M175.5 442.0V448.4M176.5 435.0V454.0M177.5 443.0V455.4M178.5 439.4V449.4M179.5 435.1V452.1M180.5 443.2V454.7M181.5 436.9V451.1M183.5 432.5V454.2M184.5 439.5V451.3M185.5 436.1V448.0M186.5 431.2V445.8M187.5 433.5V449.5M188.5 429.0V445.7M189.5 430.0V451.1M190.5 436.9V442.9M191.5 432.7V440.8M192.5 424.5V450.2M193.5 428.4V442.9M195.5 427.9V442.8M196.5 430.0V447.4M199.5 421.2V440.4M200.5 431.4V438.4M201.5 419.4V447.9M202.5 429.1V443.6M204.5 424.7V448.1M205.5 420.9V445.5M206.5 424.7V446.5M208.5 418.0V442.8M210.5 429.1V449.5M212.5 429.9V439.3M214.5 423.7V436.0M215.5 422.9V438.2M216.5 429.1V438.8M217.5 428.7V444.8M219.5 426.0V439.5M220.5 421.5V438.9M222.5 421.6V444.7M224.5 430.0V444.9M225.5 429.6V440.7M226.5 432.6V442.5M227.5 429.5V441.6M228.5 426.4V441.0M229.5 423.0V446.1M230.5 430.0V445.6M231.5 420.8V439.3M235.5 416.8V440.2M237.5 416.9V438.3M238.5 424.5V431.6M240.5 417.2V431.8M241.5 418.4V430.9M243.5 419.2V442.3M245.5 418.1V441.9M249.5 419.6V435.4M251.5 429.9V447.3M253.5 423.8V444.9M257.5 420.4V446.0M258.5 419.4V436.4M260.5 432.6V441.9M261.5 429.5V438.1M262.5 427.9V439.9M263.5 428.2V437.0M264.5 423.2V445.5M265.5 414.2V432.7M266.5 423.8V431.4M268.5 414.1V431.0M269.5 421.7V431.8M270.5 419.0V437.8M271.5 417.7V434.0M274.5 428.2V436.7M275.5 420.1V436.5M278.5 429.0V434.9M281.5 430.7V440.9M282.5 429.6V438.7M283.5 425.6V439.9" fill="none" stroke="#858585" stroke-width="1"/><path d="M83.9 438.2C85.9 436.6 92.1 428.9 95.7 428.5C99.3 428.1 102.8 434.8 105.3 436.0C107.8 437.2 108.8 437.1 110.6 436.0C112.4 434.9 114.0 428.6 116.0 429.2C118.0 429.8 120.4 439.1 122.4 439.7C124.4 440.3 126.2 433.6 127.8 432.8C129.4 432.0 130.3 435.5 132.1 435.0C133.9 434.5 136.4 429.0 138.5 429.6C140.6 430.2 142.6 438.5 144.9 438.8C147.2 439.1 150.1 432.3 152.4 431.7C154.7 431.1 156.8 435.2 158.8 435.0C160.8 434.8 162.1 429.8 164.2 430.2C166.3 430.6 168.2 437.7 171.5 437.5C174.8 437.3 180.2 427.9 183.9 428.8C187.6 429.7 191.1 442.7 193.9 442.7C196.7 442.7 199.0 430.1 200.8 428.8C202.6 427.5 203.1 435.3 204.8 434.7C206.5 434.1 208.7 424.7 210.8 425.4C213.0 426.1 215.7 437.1 217.7 438.7C219.7 440.2 221.0 434.4 222.7 434.7C224.4 435.0 225.7 442.6 227.7 440.7C229.7 438.8 232.4 424.7 234.6 423.4C236.8 422.1 238.6 430.8 240.6 432.7C242.6 434.6 244.3 432.7 246.5 434.7C248.7 436.7 250.8 446.8 253.5 444.7C256.1 442.6 259.8 423.7 262.4 422.2C265.0 420.7 267.4 433.6 269.4 435.7C271.4 437.8 272.4 433.5 274.4 434.7C276.4 435.9 279.8 441.7 281.3 442.7C282.8 443.7 283.0 441.0 283.3 440.7" fill="none" stroke="#0c0cd4" stroke-width="2.8" stroke-linejoin="round"/><path d="M81.0 412.6H83.5V455.4H81.0M81.0 434.2H83.5" fill="none" stroke="#111" stroke-width="1.1"/><text x="75.5" y="414.7" font-size="6.8" font-weight="normal" text-anchor="end" stroke="#000" stroke-width="0.3">0.1</text><text x="75.5" y="457.5" font-size="6.8" font-weight="normal" text-anchor="end" stroke="#000" stroke-width="0.3">-0.1</text><text x="0.0" y="0.0" font-size="9.7" font-weight="normal" text-anchor="middle" transform="translate(56.3,433.7) rotate(-90)">LFP (mV)</text><line x1="256.4" y1="255" x2="258" y2="474" stroke="#111" stroke-width="1.5" stroke-dasharray="5 3"/><line x1="273.6" y1="463.1" x2="294.4" y2="463.1" stroke="#111" stroke-width="1.5"/><text x="270.9" y="472.6" font-size="9.2" font-weight="normal" text-anchor="start" textLength="25" lengthAdjust="spacingAndGlyphs">200 ms</text><text x="0.0" y="0.0" font-size="13.0" font-weight="normal" text-anchor="middle" transform="translate(379,351.9) rotate(-90)">Theta power (% BL)</text><text x="404.6" y="434.5" font-size="10.0" font-weight="normal" text-anchor="end" >0</text><text x="404.6" y="408.1" font-size="10.0" font-weight="normal" text-anchor="end" >50</text><text x="404.6" y="381.8" font-size="10.0" font-weight="normal" text-anchor="end" >100</text><text x="404.6" y="355.4" font-size="10.0" font-weight="normal" text-anchor="end" >150</text><text x="404.6" y="329.0" font-size="10.0" font-weight="normal" text-anchor="end" >200</text><text x="404.6" y="302.7" font-size="10.0" font-weight="normal" text-anchor="end" >250</text><text x="404.6" y="276.3" font-size="10.0" font-weight="normal" text-anchor="end" >300</text><path d="M412.0 272.8V431.0H498.6M410.0 404.6H412.0M410.0 378.3H412.0M410.0 351.9H412.0M410.0 325.5H412.0M410.0 299.2H412.0M410.0 272.8H412.0" fill="none" stroke="#111" stroke-width="1.2"/><path d="M519.5 272.8V431.0H607.0M517.5 404.6H519.5M517.5 378.3H519.5M517.5 351.9H519.5M517.5 325.5H519.5M517.5 299.2H519.5M517.5 272.8H519.5" fill="none" stroke="#111" stroke-width="1.2"/><line x1="425.8" y1="381.9" x2="425.8" y2="386.1" stroke="#111" stroke-width="1.2"/><rect x="416.5" y="386.1" width="18.5" height="44.9" fill="#c4c4c4" stroke="#111" stroke-width="1.3"/><line x1="425.8" y1="431.0" x2="425.8" y2="433.5" stroke="#111" stroke-width="1"/><line x1="455.6" y1="376.4" x2="455.6" y2="379.2" stroke="#111" stroke-width="1.2"/><rect x="446.6" y="379.2" width="18.0" height="51.8" fill="#ffffff" stroke="#111" stroke-width="1.3"/><line x1="455.6" y1="431.0" x2="455.6" y2="433.5" stroke="#111" stroke-width="1"/><line x1="484.6" y1="382.2" x2="484.6" y2="384.1" stroke="#111" stroke-width="1.2"/><rect x="475.5" y="384.1" width="18.2" height="46.9" fill="#000000" stroke="#111" stroke-width="1.3"/><line x1="484.6" y1="431.0" x2="484.6" y2="433.5" stroke="#111" stroke-width="1"/><line x1="533.3" y1="380.1" x2="533.3" y2="387.9" stroke="#111" stroke-width="1.2"/><rect x="524.0" y="387.9" width="18.6" height="43.1" fill="#c4c4c4" stroke="#111" stroke-width="1.3"/><line x1="533.3" y1="431.0" x2="533.3" y2="433.5" stroke="#111" stroke-width="1"/><line x1="563.0" y1="391.0" x2="563.0" y2="396.9" stroke="#111" stroke-width="1.2"/><rect x="554.4" y="396.9" width="17.2" height="34.1" fill="#ffffff" stroke="#111" stroke-width="1.3"/><line x1="563.0" y1="431.0" x2="563.0" y2="433.5" stroke="#111" stroke-width="1"/><line x1="592.4" y1="361.0" x2="592.4" y2="368.0" stroke="#111" stroke-width="1.2"/><rect x="583.2" y="368.0" width="18.4" height="63.0" fill="#000000" stroke="#111" stroke-width="1.3"/><line x1="592.4" y1="431.0" x2="592.4" y2="433.5" stroke="#111" stroke-width="1"/><text x="533.7" y="378.5" font-size="10.0" font-weight="bold" text-anchor="middle" >*</text><text x="592.8" y="360.2" font-size="10.0" font-weight="bold" text-anchor="middle" >*</text><text x="463.8" y="264.8" font-size="10.6" font-weight="bold" text-anchor="middle" >Lever</text><text x="463.8" y="277.4" font-size="10.6" font-weight="bold" text-anchor="middle" >insertion</text><text x="567.3" y="264.8" font-size="10.6" font-weight="bold" text-anchor="middle" >Lever</text><text x="567.5" y="277.4" font-size="10.6" font-weight="bold" text-anchor="middle" >press</text><text x="425.6" y="448.2" font-size="9.7" font-weight="normal" text-anchor="middle" >S</text><text x="455.4" y="448.2" font-size="9.7" font-weight="normal" text-anchor="middle" >C</text><text x="484.2" y="448.2" font-size="9.7" font-weight="normal" text-anchor="middle" >Choice</text><line x1="418.0" y1="453" x2="462.6" y2="453" stroke="#111" stroke-width="1.2"/><text x="440.8" y="466.8" font-size="9.5" font-weight="normal" text-anchor="middle" >Sampling</text><text x="533.4" y="448.2" font-size="9.7" font-weight="normal" text-anchor="middle" >S</text><text x="563.2" y="448.2" font-size="9.7" font-weight="normal" text-anchor="middle" >C</text><text x="592.0" y="448.2" font-size="9.7" font-weight="normal" text-anchor="middle" >Choice</text><line x1="525.8" y1="453" x2="570.4" y2="453" stroke="#111" stroke-width="1.2"/><text x="548.6" y="466.8" font-size="9.5" font-weight="normal" text-anchor="middle" >Sampling</text>
</svg>
</body></html>
